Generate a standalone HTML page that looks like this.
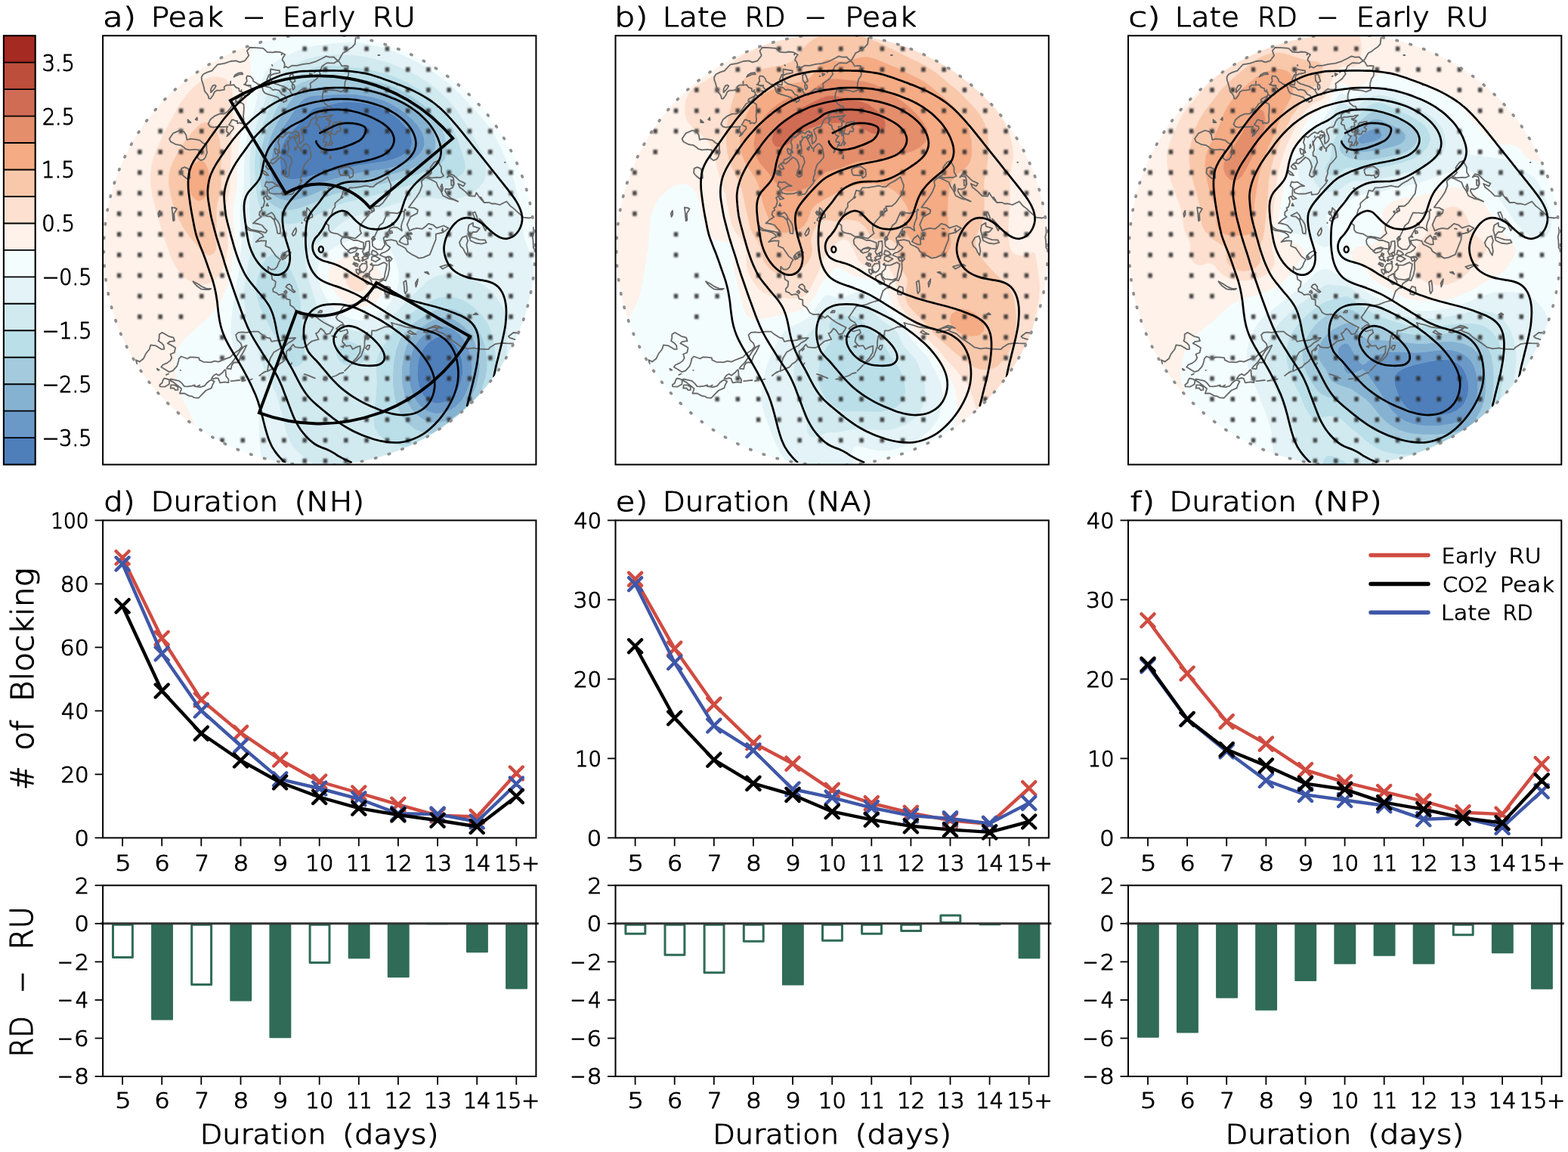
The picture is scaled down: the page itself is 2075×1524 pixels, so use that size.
<!DOCTYPE html>
<html lang="en"><head><meta charset="utf-8"><title>Blocking frequency changes and duration statistics</title>
<style>
html,body{margin:0;padding:0;background:#fff}
body{width:2075px;height:1524px;overflow:hidden}
svg{display:block;font-family:'DejaVu Sans', 'DejaVu Sans Light', 'Liberation Sans', sans-serif;font-weight:200}
</style></head><body>
<svg width="2075" height="1524" viewBox="0 0 2075 1524">
<rect width="2075" height="1524" fill="#fff"/>
<g id="colorbar">
<rect x="4.9" y="47.20" width="41.8" height="35.76" fill="#A52A22"/>
<rect x="4.9" y="82.66" width="41.8" height="35.76" fill="#BC4E3B"/>
<rect x="4.9" y="118.12" width="41.8" height="35.76" fill="#D06C54"/>
<rect x="4.9" y="153.59" width="41.8" height="35.76" fill="#E48E6C"/>
<rect x="4.9" y="189.05" width="41.8" height="35.76" fill="#F5AB84"/>
<rect x="4.9" y="224.51" width="41.8" height="35.76" fill="#F9C8AB"/>
<rect x="4.9" y="259.97" width="41.8" height="35.76" fill="#FDE0D0"/>
<rect x="4.9" y="295.44" width="41.8" height="35.76" fill="#FEF2EA"/>
<rect x="4.9" y="330.90" width="41.8" height="35.76" fill="#F4FDFE"/>
<rect x="4.9" y="366.36" width="41.8" height="35.76" fill="#E3F3F7"/>
<rect x="4.9" y="401.82" width="41.8" height="35.76" fill="#D1EAF0"/>
<rect x="4.9" y="437.29" width="41.8" height="35.76" fill="#BADFE9"/>
<rect x="4.9" y="472.75" width="41.8" height="35.76" fill="#A3CBDD"/>
<rect x="4.9" y="508.21" width="41.8" height="35.76" fill="#86B2D2"/>
<rect x="4.9" y="543.67" width="41.8" height="35.76" fill="#6A99C8"/>
<rect x="4.9" y="579.14" width="41.8" height="35.76" fill="#4E7FBB"/>
<line x1="4.9" x2="46.7" y1="82.66" y2="82.66" stroke="#000" stroke-width="1.9"/>
<line x1="4.9" x2="46.7" y1="118.12" y2="118.12" stroke="#000" stroke-width="1.9"/>
<line x1="4.9" x2="46.7" y1="153.59" y2="153.59" stroke="#000" stroke-width="1.9"/>
<line x1="4.9" x2="46.7" y1="189.05" y2="189.05" stroke="#000" stroke-width="1.9"/>
<line x1="4.9" x2="46.7" y1="224.51" y2="224.51" stroke="#000" stroke-width="1.9"/>
<line x1="4.9" x2="46.7" y1="259.97" y2="259.97" stroke="#000" stroke-width="1.9"/>
<line x1="4.9" x2="46.7" y1="295.44" y2="295.44" stroke="#000" stroke-width="1.9"/>
<line x1="4.9" x2="46.7" y1="330.90" y2="330.90" stroke="#000" stroke-width="1.9"/>
<line x1="4.9" x2="46.7" y1="366.36" y2="366.36" stroke="#000" stroke-width="1.9"/>
<line x1="4.9" x2="46.7" y1="401.82" y2="401.82" stroke="#000" stroke-width="1.9"/>
<line x1="4.9" x2="46.7" y1="437.29" y2="437.29" stroke="#000" stroke-width="1.9"/>
<line x1="4.9" x2="46.7" y1="472.75" y2="472.75" stroke="#000" stroke-width="1.9"/>
<line x1="4.9" x2="46.7" y1="508.21" y2="508.21" stroke="#000" stroke-width="1.9"/>
<line x1="4.9" x2="46.7" y1="543.67" y2="543.67" stroke="#000" stroke-width="1.9"/>
<line x1="4.9" x2="46.7" y1="579.14" y2="579.14" stroke="#000" stroke-width="1.9"/>
<rect x="4.9" y="47.2" width="41.8" height="567.4" fill="none" stroke="#000" stroke-width="2.1"/>
<text y="93.6" font-size="29.5" fill="#000" stroke="#000" stroke-width="1.15" stroke-linejoin="round" ><tspan x="55.7" textLength="43.2" lengthAdjust="spacingAndGlyphs">3.5</tspan></text>
<text y="164.5" font-size="29.5" fill="#000" stroke="#000" stroke-width="1.15" stroke-linejoin="round" ><tspan x="55.9" textLength="43.0" lengthAdjust="spacingAndGlyphs">2.5</tspan></text>
<text y="235.4" font-size="29.5" fill="#000" stroke="#000" stroke-width="1.15" stroke-linejoin="round" ><tspan x="54.7" textLength="44.3" lengthAdjust="spacingAndGlyphs">1.5</tspan></text>
<text y="306.3" font-size="29.5" fill="#000" stroke="#000" stroke-width="1.15" stroke-linejoin="round" ><tspan x="55.3" textLength="43.7" lengthAdjust="spacingAndGlyphs">0.5</tspan></text>
<text y="377.3" font-size="29.5" fill="#000" stroke="#000" stroke-width="1.15" stroke-linejoin="round" ><tspan x="55.7" textLength="65.7" lengthAdjust="spacingAndGlyphs">−0.5</tspan></text>
<text y="448.2" font-size="29.5" fill="#000" stroke="#000" stroke-width="1.15" stroke-linejoin="round" ><tspan x="55.7" textLength="65.7" lengthAdjust="spacingAndGlyphs">−1.5</tspan></text>
<text y="519.1" font-size="29.5" fill="#000" stroke="#000" stroke-width="1.15" stroke-linejoin="round" ><tspan x="55.7" textLength="65.7" lengthAdjust="spacingAndGlyphs">−2.5</tspan></text>
<text y="590.0" font-size="29.5" fill="#000" stroke="#000" stroke-width="1.15" stroke-linejoin="round" ><tspan x="55.7" textLength="65.7" lengthAdjust="spacingAndGlyphs">−3.5</tspan></text>
</g>
<defs><filter id="dotblur" x="-5%" y="-5%" width="110%" height="110%"><feGaussianBlur stdDeviation="0.9"/></filter>
<clipPath id="fr0"><rect x="136.1" y="47.2" width="573.3" height="567.4"/></clipPath>
<clipPath id="ci0" clip-path="url(#fr0)"><circle cx="422.7" cy="330.5" r="285.4"/></clipPath>
<clipPath id="fr1"><rect x="814.5" y="47.2" width="573.3" height="567.4"/></clipPath>
<clipPath id="ci1" clip-path="url(#fr1)"><circle cx="1101.2" cy="330.5" r="285.4"/></clipPath>
<clipPath id="fr2"><rect x="1493.0" y="47.2" width="573.3" height="567.4"/></clipPath>
<clipPath id="ci2" clip-path="url(#fr2)"><circle cx="1779.6" cy="330.5" r="285.4"/></clipPath>
</defs>
<g id="map0">
<text y="35.2" font-size="35.5" fill="#000" stroke="#000" stroke-width="1.15" stroke-linejoin="round" ><tspan x="136.0" textLength="44.0" lengthAdjust="spacingAndGlyphs">a)</tspan><tspan x="199.7" textLength="96.0" lengthAdjust="spacingAndGlyphs">Peak</tspan><tspan x="320.7" textLength="30.6" lengthAdjust="spacingAndGlyphs">−</tspan><tspan x="373.9" textLength="96.6" lengthAdjust="spacingAndGlyphs">Early</tspan><tspan x="492.6" textLength="57.3" lengthAdjust="spacingAndGlyphs">RU</tspan></text>
<g clip-path="url(#ci0)">
<g transform="translate(422.7 330.5)">
<path d="M34.9 -196.0L44.0 -195.8L56.0 -194.5L72.0 -191.3L80.0 -188.5L88.0 -184.6L100.0 -176.8L105.6 -172.0L113.1 -164.0L118.8 -156.0L120.8 -152.0L122.7 -144.0L122.4 -140.0L121.1 -136.0L118.6 -132.0L114.5 -128.0L108.0 -123.8L98.9 -120.0L88.0 -117.2L52.0 -111.7L16.0 -103.3L-4.0 -100.0L-16.9 -96.0L-28.0 -93.7L-36.0 -93.0L-40.0 -93.5L-45.3 -96.0L-48.6 -100.0L-51.3 -108.0L-52.3 -116.0L-52.1 -124.0L-50.8 -132.0L-48.3 -140.0L-44.0 -147.8L-40.0 -153.2L-21.4 -172.0L-12.0 -183.7L-8.0 -186.9L-4.0 -188.4L8.0 -190.3L24.0 -194.6L34.9 -196.0ZM154.8 116.0L160.0 114.8L164.0 115.0L168.0 116.2L174.1 120.0L178.2 124.0L183.7 132.0L186.9 140.0L188.9 148.0L189.8 156.0L189.5 164.0L188.0 172.2L184.0 183.3L180.0 190.2L174.7 196.0L169.0 200.0L164.0 202.1L156.0 203.3L152.0 202.7L145.4 200.0L140.4 196.0L137.1 192.0L134.8 188.0L131.7 180.0L130.1 172.0L129.4 164.0L130.7 148.0L132.8 140.0L136.0 133.2L139.5 128.0L144.0 123.1L148.0 119.7L154.8 116.0Z" fill="#4E7FBB" stroke="#4E7FBB" stroke-width="0.6" fill-rule="evenodd"/>
<path d="M-9.2 -204.0L32.0 -206.2L48.0 -205.7L72.0 -201.9L84.0 -198.3L92.0 -194.8L104.0 -188.0L114.9 -180.0L123.7 -172.0L130.6 -164.0L135.7 -156.0L138.6 -148.0L139.2 -140.0L138.4 -136.0L136.8 -132.0L132.0 -125.7L124.9 -120.0L116.0 -115.3L100.0 -109.7L84.0 -106.2L56.0 -102.2L32.0 -97.0L4.0 -89.3L-16.0 -81.2L-28.0 -77.9L-40.0 -76.7L-48.0 -78.2L-51.9 -80.0L-56.0 -83.0L-60.1 -88.0L-61.9 -92.0L-63.8 -100.0L-64.1 -108.0L-63.5 -120.0L-61.7 -132.0L-59.6 -140.0L-56.0 -149.0L-52.0 -156.4L-28.3 -192.0L-24.9 -196.0L-20.0 -200.1L-16.0 -202.1L-9.2 -204.0ZM36.0 -196.0L24.0 -194.6L8.0 -190.3L-4.0 -188.4L-8.0 -186.9L-12.0 -183.7L-21.4 -172.0L-40.0 -153.2L-44.0 -147.8L-48.3 -140.0L-50.8 -132.0L-52.1 -124.0L-52.3 -116.0L-51.3 -108.0L-48.6 -100.0L-45.3 -96.0L-40.0 -93.5L-36.0 -93.0L-28.0 -93.7L-16.9 -96.0L-4.0 -100.0L16.0 -103.3L52.0 -111.7L88.0 -117.2L98.9 -120.0L108.0 -123.8L114.5 -128.0L118.6 -132.0L121.1 -136.0L122.4 -140.0L122.7 -144.0L120.8 -152.0L118.8 -156.0L113.1 -164.0L105.6 -172.0L100.0 -176.8L88.0 -184.6L80.0 -188.5L72.0 -191.3L56.0 -194.5L36.0 -196.0ZM150.9 104.0L160.0 101.2L168.0 101.5L176.0 104.5L181.3 108.0L185.8 112.0L192.1 120.0L197.7 132.0L200.9 144.0L202.1 156.0L201.1 168.0L197.9 180.0L192.9 192.0L188.0 199.9L180.0 207.9L173.4 212.0L164.0 215.7L156.0 216.7L149.9 216.0L144.0 214.1L136.0 208.9L131.1 204.0L125.7 196.0L122.3 188.0L120.0 179.6L118.6 168.0L118.7 156.0L120.0 145.6L122.3 136.0L125.6 128.0L130.8 120.0L136.0 114.5L144.0 108.0L150.9 104.0ZM156.0 115.5L148.0 119.7L144.0 123.1L139.5 128.0L136.0 133.2L132.8 140.0L130.7 148.0L129.4 164.0L130.1 172.0L131.7 180.0L134.8 188.0L137.1 192.0L140.4 196.0L145.4 200.0L152.0 202.7L156.0 203.3L160.0 203.0L168.0 200.5L174.7 196.0L178.6 192.0L183.7 184.0L186.8 176.0L188.9 168.0L189.8 160.0L189.5 152.0L188.0 143.6L184.0 132.7L180.0 126.2L174.1 120.0L168.0 116.2L164.0 115.0L160.0 114.8L156.0 115.5Z" fill="#6A99C8" stroke="#6A99C8" stroke-width="0.6" fill-rule="evenodd"/>
<path d="M4.2 -216.0L44.0 -215.8L56.0 -214.7L68.0 -212.6L80.0 -210.1L92.0 -206.2L100.0 -202.5L111.5 -196.0L123.4 -188.0L132.0 -180.8L140.4 -172.0L146.2 -164.0L152.0 -152.0L153.8 -144.0L153.8 -136.0L151.3 -128.0L148.8 -124.0L144.9 -120.0L136.0 -113.9L123.6 -108.0L108.0 -102.7L88.0 -97.7L53.3 -92.0L28.0 -86.5L8.0 -80.4L-16.0 -69.9L-32.0 -65.4L-40.0 -64.7L-44.0 -64.9L-52.0 -67.0L-56.0 -68.9L-60.0 -71.6L-64.0 -75.5L-67.2 -80.0L-70.5 -88.0L-72.0 -96.0L-72.3 -112.0L-70.7 -128.0L-68.1 -140.0L-64.0 -152.0L-56.0 -168.4L-44.0 -189.4L-39.6 -196.0L-32.6 -204.0L-24.0 -210.0L-16.0 -213.1L-8.0 -214.8L4.2 -216.0ZM-8.0 -204.2L-16.0 -202.1L-20.0 -200.1L-24.9 -196.0L-28.0 -192.4L-52.0 -156.4L-56.0 -149.0L-59.6 -140.0L-61.7 -132.0L-63.5 -120.0L-64.1 -108.0L-63.8 -100.0L-61.9 -92.0L-60.1 -88.0L-56.0 -83.0L-51.9 -80.0L-48.0 -78.2L-40.0 -76.7L-28.0 -77.9L-16.0 -81.2L4.0 -89.3L32.0 -97.0L56.0 -102.2L84.0 -106.2L100.0 -109.7L116.0 -115.3L124.9 -120.0L132.0 -125.7L136.8 -132.0L138.4 -136.0L139.2 -140.0L138.6 -148.0L135.7 -156.0L130.6 -164.0L123.7 -172.0L114.9 -180.0L104.0 -188.0L92.0 -194.8L84.0 -198.3L72.0 -201.9L48.0 -205.7L32.0 -206.2L-8.0 -204.2ZM151.8 92.0L160.0 89.5L164.0 89.1L172.0 90.0L177.7 92.0L184.0 95.3L192.0 101.5L200.0 110.9L204.9 120.0L209.9 136.0L212.2 152.0L211.6 164.0L207.6 180.0L201.1 196.0L193.9 208.0L186.2 216.0L176.0 222.8L164.0 227.7L156.0 229.1L148.0 228.6L140.0 226.1L130.5 220.0L122.6 212.0L117.4 204.0L112.4 192.0L109.7 180.0L108.7 168.0L109.0 156.0L111.2 140.0L114.5 128.0L118.2 120.0L124.1 112.0L132.0 104.5L144.0 96.0L151.8 92.0ZM152.0 103.4L144.0 108.0L136.0 114.5L130.8 120.0L125.6 128.0L122.3 136.0L120.0 145.6L118.7 156.0L118.6 168.0L120.0 179.6L122.3 188.0L125.7 196.0L131.1 204.0L136.0 208.9L144.0 214.1L149.9 216.0L156.0 216.7L164.0 215.7L173.4 212.0L180.0 207.9L188.0 199.9L192.9 192.0L197.9 180.0L201.1 168.0L202.1 156.0L200.9 144.0L197.7 132.0L192.1 120.0L185.8 112.0L181.3 108.0L176.0 104.5L168.0 101.5L160.0 101.2L152.0 103.4Z" fill="#86B2D2" stroke="#86B2D2" stroke-width="0.6" fill-rule="evenodd"/>
<path d="M-2.3 -228.0L12.0 -229.0L48.0 -227.0L76.0 -222.5L88.0 -219.5L100.0 -215.1L112.0 -209.2L124.0 -202.1L136.0 -193.5L146.3 -184.0L153.1 -176.0L160.8 -164.0L165.8 -152.0L168.5 -140.0L168.6 -128.0L166.1 -120.0L163.3 -116.0L156.0 -110.5L144.0 -105.0L128.0 -99.1L84.0 -87.0L47.3 -80.0L24.0 -74.4L12.0 -70.5L-8.0 -61.6L-28.0 -54.3L-36.0 -52.6L-44.0 -52.5L-52.0 -54.2L-60.0 -57.8L-68.0 -64.0L-72.0 -69.3L-76.0 -78.6L-78.0 -88.0L-79.3 -104.0L-78.9 -120.0L-76.6 -136.0L-72.2 -152.0L-65.8 -168.0L-56.0 -188.4L-49.4 -200.0L-43.4 -208.0L-36.0 -214.9L-28.0 -219.8L-16.0 -224.6L-2.3 -228.0ZM8.0 -216.1L-4.0 -215.4L-16.0 -213.1L-24.0 -210.0L-32.0 -204.6L-36.5 -200.0L-44.0 -189.4L-56.0 -168.4L-64.0 -152.0L-68.1 -140.0L-70.7 -128.0L-72.3 -112.0L-72.0 -96.0L-70.5 -88.0L-67.2 -80.0L-64.0 -75.5L-60.0 -71.6L-56.0 -68.9L-52.0 -67.0L-44.0 -64.9L-40.0 -64.7L-32.0 -65.4L-16.0 -69.9L8.0 -80.4L28.0 -86.5L53.3 -92.0L88.0 -97.7L108.0 -102.7L123.6 -108.0L136.0 -113.9L144.9 -120.0L148.8 -124.0L151.3 -128.0L153.8 -136.0L153.8 -144.0L152.0 -152.0L148.0 -160.9L140.4 -172.0L132.8 -180.0L123.4 -188.0L112.0 -195.7L100.0 -202.5L92.0 -206.2L84.0 -209.0L72.0 -211.8L48.0 -215.6L8.0 -216.1ZM151.7 80.0L156.0 78.5L164.0 77.0L172.0 77.2L176.0 78.0L181.8 80.0L188.0 83.0L195.2 88.0L200.0 92.2L204.0 96.4L209.8 104.0L215.7 116.0L218.3 124.0L220.9 136.0L222.3 152.0L221.7 160.0L220.3 168.0L215.2 184.0L204.4 208.0L196.1 220.0L192.0 224.3L184.0 230.9L172.0 238.0L160.0 242.3L148.0 243.6L136.0 241.6L128.0 238.2L124.3 236.0L116.0 229.3L108.5 220.0L102.8 208.0L99.4 196.0L97.2 180.0L97.0 164.0L98.3 148.0L101.4 132.0L105.7 120.0L110.3 112.0L116.7 104.0L125.5 96.0L140.0 86.0L151.7 80.0ZM152.0 91.9L144.0 96.0L132.0 104.5L124.1 112.0L118.2 120.0L114.5 128.0L111.2 140.0L109.0 156.0L108.7 168.0L109.7 180.0L112.4 192.0L117.4 204.0L122.6 212.0L130.5 220.0L140.0 226.1L148.0 228.6L156.0 229.1L164.0 227.7L176.0 222.8L186.2 216.0L193.9 208.0L201.1 196.0L207.6 180.0L211.6 164.0L212.2 152.0L210.8 140.0L206.5 124.0L200.7 112.0L194.5 104.0L190.3 100.0L184.0 95.3L177.7 92.0L172.0 90.0L164.0 89.1L160.0 89.5L152.0 91.9Z" fill="#A3CBDD" stroke="#A3CBDD" stroke-width="0.6" fill-rule="evenodd"/>
<path d="M7.2 -244.0L20.0 -243.6L52.0 -240.8L72.0 -237.2L88.0 -233.3L100.0 -229.1L116.0 -221.8L132.0 -212.5L143.7 -204.0L152.7 -196.0L163.6 -184.0L171.7 -172.0L177.9 -160.0L182.6 -148.0L193.0 -116.0L193.2 -108.0L191.9 -104.0L189.2 -100.0L184.0 -96.1L180.0 -94.7L172.0 -93.5L152.0 -92.5L144.0 -91.2L108.0 -82.1L80.0 -73.6L32.0 -61.5L16.6 -56.0L0.0 -47.0L-12.0 -41.7L-24.0 -36.8L-32.0 -34.5L-40.0 -33.8L-48.0 -34.8L-56.0 -37.7L-68.0 -44.9L-76.0 -52.7L-80.0 -59.7L-81.5 -64.0L-83.9 -76.0L-85.6 -100.0L-85.9 -116.0L-84.5 -132.0L-81.0 -148.0L-74.4 -168.0L-66.4 -188.0L-60.0 -202.0L-54.1 -212.0L-47.3 -220.0L-36.0 -228.7L-20.0 -236.8L-4.0 -242.4L7.2 -244.0ZM0.0 -228.4L-12.0 -225.9L-24.0 -221.7L-36.0 -214.9L-43.4 -208.0L-49.4 -200.0L-56.0 -188.4L-65.8 -168.0L-72.0 -152.6L-76.0 -138.8L-78.5 -124.0L-79.3 -104.0L-78.0 -88.0L-76.0 -78.6L-72.0 -69.3L-68.0 -64.0L-60.0 -57.8L-52.0 -54.2L-44.0 -52.5L-36.0 -52.6L-28.0 -54.3L-8.0 -61.6L12.0 -70.5L24.0 -74.4L47.3 -80.0L84.0 -87.0L128.0 -99.1L144.0 -105.0L156.0 -110.5L163.3 -116.0L166.1 -120.0L168.6 -128.0L168.5 -140.0L165.8 -152.0L160.8 -164.0L153.1 -176.0L146.3 -184.0L136.0 -193.5L124.0 -202.1L112.0 -209.2L100.0 -215.1L88.0 -219.5L76.0 -222.5L48.0 -227.0L12.0 -229.0L0.0 -228.4ZM-66.8 8.0L-64.0 6.4L-60.0 5.4L-56.0 5.9L-52.0 7.8L-48.0 11.1L-41.3 20.0L-36.0 29.8L-31.4 40.0L-27.2 52.0L-24.6 68.0L-22.5 108.0L-19.4 132.0L-19.1 140.0L-20.0 144.5L-21.5 148.0L-24.0 151.2L-28.0 154.0L-32.0 155.2L-36.0 154.9L-40.0 153.3L-44.0 149.9L-48.0 144.1L-58.6 116.0L-76.0 83.1L-80.0 73.5L-82.8 64.0L-84.2 56.0L-84.2 48.0L-83.0 40.0L-80.8 32.0L-76.3 20.0L-74.0 16.0L-71.2 12.0L-66.8 8.0ZM155.1 64.0L164.0 62.0L172.0 61.7L180.0 62.8L188.0 65.2L196.0 69.2L204.0 75.1L216.6 88.0L222.2 96.0L226.2 104.0L230.8 120.0L232.8 132.0L233.6 144.0L233.2 152.0L231.3 164.0L229.2 172.0L224.8 184.0L210.2 216.0L205.4 224.0L200.0 231.2L188.0 243.0L180.0 248.9L172.0 253.6L164.0 257.4L152.0 261.1L144.0 262.6L132.0 263.2L120.0 262.3L108.0 260.1L95.0 256.0L84.0 250.0L77.6 244.0L73.2 236.0L72.1 232.0L71.3 224.0L75.3 184.0L75.6 172.0L74.7 152.0L75.6 144.0L78.8 136.0L89.1 120.0L100.6 104.0L111.4 92.0L120.0 84.5L136.0 73.5L148.0 66.7L155.1 64.0ZM152.0 79.9L140.0 86.0L125.5 96.0L116.7 104.0L110.3 112.0L105.7 120.0L101.4 132.0L98.3 148.0L97.0 164.0L97.2 180.0L99.4 196.0L102.8 208.0L108.5 220.0L116.0 229.3L124.3 236.0L128.0 238.2L136.0 241.6L148.0 243.6L160.0 242.3L172.0 238.0L184.0 230.9L192.0 224.3L196.1 220.0L204.4 208.0L215.2 184.0L220.3 168.0L221.7 160.0L222.3 152.0L220.9 136.0L218.3 124.0L215.7 116.0L209.8 104.0L204.0 96.4L200.0 92.2L195.2 88.0L188.0 83.0L181.8 80.0L176.0 78.0L172.0 77.2L164.0 77.0L156.0 78.5L152.0 79.9ZM27.3 124.0L32.0 121.5L36.0 120.7L44.0 121.9L49.0 124.0L54.7 128.0L58.5 132.0L61.0 136.0L62.1 140.0L61.3 144.0L58.3 148.0L56.0 149.6L52.0 151.8L48.0 153.1L40.0 153.7L32.0 151.7L26.6 148.0L23.6 144.0L22.2 140.0L21.9 136.0L22.4 132.0L24.0 128.0L27.3 124.0Z" fill="#BADFE9" stroke="#BADFE9" stroke-width="0.6" fill-rule="evenodd"/>
<path d="M-5.4 -256.0L8.0 -257.9L28.0 -258.4L48.0 -257.4L64.0 -255.0L84.0 -250.1L100.0 -244.8L120.0 -235.9L136.0 -226.8L148.0 -218.6L160.9 -208.0L172.8 -196.0L182.5 -184.0L193.3 -168.0L211.9 -136.0L217.6 -124.0L220.0 -116.0L221.3 -104.0L220.1 -96.0L218.6 -92.0L216.4 -88.0L212.0 -82.7L208.0 -79.3L200.0 -74.1L188.0 -68.6L176.0 -66.2L168.0 -66.2L144.0 -68.7L132.0 -68.0L120.0 -66.0L111.7 -64.0L84.0 -54.9L59.6 -48.0L44.0 -42.6L36.0 -39.0L28.0 -34.1L4.0 -13.4L-8.0 -4.0L-12.3 0.0L-15.2 4.0L-17.7 12.0L-17.4 24.0L-14.8 36.0L-5.0 68.0L-0.3 80.0L4.0 87.6L8.0 92.6L12.0 96.2L16.0 98.6L24.0 101.5L48.0 106.8L60.0 108.6L68.0 108.2L76.0 105.6L80.0 103.2L88.0 96.7L112.0 71.1L140.0 43.5L148.0 37.6L152.0 35.7L156.0 34.1L164.0 32.6L176.0 32.7L188.0 34.8L200.0 38.3L213.1 44.0L220.0 48.3L228.0 55.3L236.0 64.9L243.1 76.0L247.6 88.0L249.2 100.0L248.6 128.0L246.7 148.0L243.2 164.0L239.2 176.0L219.4 220.0L213.1 232.0L208.0 239.8L200.0 249.7L192.0 257.7L176.0 270.3L164.0 277.5L144.2 288.0L139.7 292.0L2.4 292.0L-1.3 288.0L-16.0 278.2L-24.0 272.1L-32.0 264.2L-35.2 260.0L-40.0 252.3L-41.9 248.0L-44.5 240.0L-50.2 216.0L-57.1 192.0L-60.4 184.0L-70.6 164.0L-74.0 156.0L-82.5 132.0L-91.9 108.0L-95.6 96.0L-99.1 76.0L-100.4 56.0L-99.8 48.0L-94.2 16.0L-88.7 -8.0L-87.7 -16.0L-88.2 -24.0L-92.0 -41.3L-93.0 -56.0L-92.2 -84.0L-92.7 -120.0L-91.0 -136.0L-87.5 -152.0L-81.6 -172.0L-70.3 -204.0L-65.2 -216.0L-60.0 -224.8L-52.0 -233.1L-40.0 -241.2L-20.0 -251.4L-5.4 -256.0ZM8.0 -244.1L-4.0 -242.4L-20.0 -236.8L-36.0 -228.7L-47.3 -220.0L-54.1 -212.0L-60.0 -202.0L-66.4 -188.0L-74.4 -168.0L-81.0 -148.0L-84.5 -132.0L-85.9 -116.0L-85.6 -100.0L-83.9 -76.0L-81.5 -64.0L-80.0 -59.7L-76.0 -52.7L-68.0 -44.9L-56.0 -37.7L-48.0 -34.8L-40.0 -33.8L-32.0 -34.5L-24.0 -36.8L-12.0 -41.7L0.0 -47.0L16.6 -56.0L32.0 -61.5L80.0 -73.6L108.0 -82.1L144.0 -91.2L152.0 -92.5L172.0 -93.5L180.0 -94.7L184.0 -96.1L189.2 -100.0L191.9 -104.0L193.2 -108.0L193.0 -116.0L182.6 -148.0L177.9 -160.0L171.7 -172.0L163.6 -184.0L152.7 -196.0L143.7 -204.0L132.0 -212.5L116.0 -221.8L100.0 -229.1L88.0 -233.3L72.0 -237.2L52.0 -240.8L20.0 -243.6L8.0 -244.1ZM28.0 123.5L24.0 128.0L22.4 132.0L21.9 136.0L22.2 140.0L23.6 144.0L28.0 149.3L32.0 151.7L36.0 153.1L40.0 153.7L48.0 153.1L52.0 151.8L56.0 149.6L58.3 148.0L61.3 144.0L62.1 140.0L61.0 136.0L58.5 132.0L54.7 128.0L49.0 124.0L44.0 121.9L36.0 120.7L32.0 121.5L28.0 123.5ZM156.0 63.7L148.0 66.7L136.0 73.5L120.0 84.5L111.4 92.0L100.6 104.0L89.1 120.0L78.8 136.0L75.6 144.0L74.7 152.0L75.6 172.0L75.3 184.0L71.3 224.0L72.1 232.0L73.2 236.0L77.6 244.0L84.0 250.0L95.0 256.0L107.7 260.0L120.0 262.3L128.0 263.1L140.0 263.0L148.0 262.0L160.0 258.9L168.0 255.6L176.0 251.4L184.0 246.1L196.0 235.6L202.6 228.0L208.0 219.9L223.1 188.0L230.4 168.0L232.8 156.0L233.5 148.0L233.5 140.0L232.3 128.0L229.9 116.0L227.6 108.0L224.3 100.0L219.6 92.0L212.0 82.7L204.0 75.1L196.0 69.2L188.0 65.2L180.0 62.8L172.0 61.7L164.0 62.0L156.0 63.7ZM-64.0 6.4L-68.0 8.8L-72.0 12.9L-76.0 19.4L-80.0 29.2L-83.0 40.0L-84.2 48.0L-84.2 56.0L-82.8 64.0L-80.0 73.5L-76.0 83.1L-58.6 116.0L-48.0 144.1L-44.0 149.9L-40.0 153.3L-36.0 154.9L-32.0 155.2L-28.0 154.0L-24.0 151.2L-21.5 148.0L-20.0 144.5L-19.1 140.0L-19.4 132.0L-22.5 108.0L-24.6 68.0L-26.3 56.0L-28.4 48.0L-32.0 38.5L-39.0 24.0L-44.0 15.8L-48.0 11.1L-52.0 7.8L-56.0 5.9L-60.0 5.4L-64.0 6.4Z" fill="#D1EAF0" stroke="#D1EAF0" stroke-width="0.6" fill-rule="evenodd"/>
<path d="M7.6 -272.0L28.0 -274.3L44.0 -274.8L60.0 -273.3L76.0 -269.8L100.0 -262.1L120.0 -253.5L140.0 -242.8L156.2 -232.0L172.0 -219.6L188.7 -204.0L214.2 -176.0L226.8 -160.0L234.1 -148.0L241.8 -132.0L253.4 -104.0L258.9 -88.0L262.1 -76.0L266.1 -56.0L270.5 -20.0L272.8 -12.0L280.0 8.0L283.6 24.0L285.2 40.0L286.1 60.0L285.7 72.0L284.7 80.0L280.8 96.0L270.8 124.0L257.7 164.0L251.2 180.0L227.0 232.0L220.0 245.2L212.0 257.4L204.0 267.5L188.5 284.0L185.4 288.0L183.6 292.0L139.7 292.0L144.2 288.0L168.0 275.2L180.0 267.5L192.0 257.7L200.0 249.7L208.0 239.8L215.4 228.0L237.6 180.0L243.2 164.0L246.7 148.0L248.6 128.0L249.3 104.0L248.4 92.0L246.5 84.0L243.1 76.0L236.0 64.9L228.6 56.0L224.0 51.5L216.0 45.6L208.0 41.5L196.0 37.0L180.0 33.2L168.0 32.3L160.0 33.1L156.0 34.1L148.0 37.6L140.0 43.5L112.0 71.1L92.0 92.7L80.0 103.2L76.0 105.6L68.0 108.2L60.0 108.6L48.0 106.8L24.0 101.5L16.0 98.6L12.0 96.2L8.0 92.6L4.0 87.6L0.0 80.6L-4.0 70.9L-14.8 36.0L-17.4 24.0L-17.7 12.0L-15.2 4.0L-12.3 0.0L-8.0 -4.0L4.0 -13.4L28.0 -34.1L36.0 -39.0L44.0 -42.6L59.6 -48.0L84.0 -54.9L111.7 -64.0L120.0 -66.0L132.0 -68.0L144.0 -68.7L168.0 -66.2L176.0 -66.2L188.0 -68.6L200.0 -74.1L208.0 -79.3L212.0 -82.7L216.4 -88.0L218.6 -92.0L220.1 -96.0L221.3 -104.0L220.8 -112.0L219.0 -120.0L215.9 -128.0L209.7 -140.0L193.3 -168.0L182.5 -184.0L172.8 -196.0L165.1 -204.0L156.0 -212.2L144.0 -221.5L132.0 -229.3L116.0 -237.9L100.0 -244.8L88.0 -248.9L72.0 -253.3L56.0 -256.4L40.0 -258.0L24.0 -258.4L12.0 -258.2L0.0 -257.0L-8.0 -255.4L-16.0 -252.9L-28.0 -247.7L-40.0 -241.2L-48.2 -236.0L-56.0 -229.5L-60.0 -224.8L-64.0 -218.4L-70.3 -204.0L-84.1 -164.0L-88.5 -148.0L-91.0 -136.0L-92.8 -116.0L-92.2 -88.0L-92.9 -52.0L-92.0 -41.3L-88.2 -24.0L-87.7 -16.0L-88.7 -8.0L-93.4 12.0L-100.2 52.0L-100.0 68.0L-96.5 92.0L-92.0 107.7L-82.5 132.0L-74.0 156.0L-70.6 164.0L-60.4 184.0L-57.1 192.0L-50.2 216.0L-44.0 242.0L-40.1 252.0L-35.2 260.0L-28.0 268.4L-20.0 275.3L-1.3 288.0L2.4 292.0L-72.6 292.0L-77.2 272.0L-79.2 260.0L-80.0 248.0L-80.0 224.0L-84.0 195.0L-87.8 184.0L-98.4 164.0L-112.5 132.0L-115.2 124.0L-117.4 112.0L-117.7 104.0L-116.8 92.0L-112.3 56.0L-107.6 32.0L-102.8 -12.0L-103.0 -20.0L-105.1 -36.0L-105.3 -48.0L-104.6 -56.0L-100.7 -80.0L-100.0 -120.0L-98.6 -136.0L-92.8 -164.0L-77.4 -220.0L-73.2 -232.0L-68.0 -240.3L-64.0 -244.6L-56.0 -250.4L-32.0 -262.4L-24.0 -265.6L-12.0 -269.0L7.6 -272.0ZM40.0 -12.1L32.0 -8.9L20.0 -2.7L10.3 4.0L4.0 10.2L0.3 16.0L-1.3 20.0L-2.4 28.0L-1.7 36.0L1.8 48.0L7.1 60.0L12.0 68.5L20.0 78.1L28.0 84.3L40.0 90.2L45.8 92.0L52.0 93.0L60.0 92.7L64.0 91.8L72.0 88.7L80.0 83.7L88.0 76.4L94.5 68.0L101.0 56.0L103.7 48.0L105.1 36.0L103.7 24.0L99.8 12.0L93.1 0.0L88.0 -5.8L80.0 -11.6L72.0 -14.7L60.0 -15.9L52.0 -15.2L40.0 -12.1Z" fill="#E3F3F7" stroke="#E3F3F7" stroke-width="0.6" fill-rule="evenodd"/>
<path d="M-22.4 -288.0L-11.0 -292.0L81.5 -292.0L86.8 -288.0L124.0 -271.4L144.0 -260.9L164.5 -248.0L186.2 -232.0L209.7 -212.0L235.0 -188.0L244.0 -178.0L251.9 -168.0L262.7 -152.0L284.0 -117.0L288.0 -112.1L292.0 -109.3L292.0 139.7L288.0 142.8L284.0 148.4L280.0 155.7L252.0 211.6L233.1 252.0L224.0 267.8L213.3 284.0L211.2 288.0L209.9 292.0L183.6 292.0L185.4 288.0L188.5 284.0L204.0 267.5L212.0 257.4L220.0 245.2L227.0 232.0L251.2 180.0L257.7 164.0L270.8 124.0L280.8 96.0L283.1 88.0L285.3 76.0L286.0 56.0L284.9 36.0L283.6 24.0L280.0 8.0L272.8 -12.0L270.5 -20.0L266.8 -52.0L262.1 -76.0L257.6 -92.0L251.8 -108.0L240.1 -136.0L231.9 -152.0L226.8 -160.0L217.6 -172.0L188.7 -204.0L176.2 -216.0L164.0 -226.1L150.5 -236.0L136.0 -245.1L124.0 -251.6L108.0 -258.9L92.0 -265.0L76.0 -269.8L56.0 -273.8L40.0 -274.8L24.0 -273.9L-4.0 -270.5L-16.0 -268.0L-28.0 -264.1L-40.0 -258.7L-56.0 -250.4L-64.6 -244.0L-68.3 -240.0L-73.2 -232.0L-77.4 -220.0L-91.7 -168.0L-97.3 -144.0L-99.5 -128.0L-100.7 -80.0L-104.6 -56.0L-105.3 -48.0L-105.1 -36.0L-102.8 -16.0L-103.1 -8.0L-105.4 8.0L-107.6 32.0L-113.4 64.0L-117.2 96.0L-117.6 108.0L-116.2 120.0L-112.5 132.0L-98.4 164.0L-87.8 184.0L-84.0 195.0L-80.0 224.0L-80.0 248.0L-79.2 260.0L-77.2 272.0L-72.6 292.0L-143.0 292.0L-146.0 280.0L-158.2 248.0L-170.1 220.0L-183.5 192.0L-188.6 176.0L-190.9 164.0L-191.8 156.0L-191.4 144.0L-188.1 132.0L-183.7 124.0L-177.0 116.0L-148.0 90.6L-140.0 82.0L-136.0 76.7L-132.0 70.0L-128.0 61.6L-120.0 41.1L-117.6 32.0L-113.3 0.0L-112.3 -12.0L-114.6 -44.0L-114.2 -56.0L-109.5 -80.0L-107.9 -124.0L-106.0 -144.0L-101.9 -168.0L-94.6 -204.0L-92.8 -216.0L-91.2 -240.0L-91.5 -264.0L-90.7 -268.0L-88.0 -272.4L-84.0 -275.1L-80.0 -276.5L-48.0 -281.8L-22.4 -288.0ZM39.9 -12.0L52.0 -15.2L60.0 -15.9L72.0 -14.7L80.0 -11.6L88.0 -5.8L93.1 0.0L99.8 12.0L103.7 24.0L105.1 36.0L104.5 44.0L102.5 52.0L97.0 64.0L91.7 72.0L84.0 80.4L76.0 86.5L72.0 88.7L64.0 91.8L56.0 93.0L52.0 93.0L44.0 91.6L34.7 88.0L24.0 81.5L16.0 73.8L9.2 64.0L3.3 52.0L-0.8 40.0L-2.3 32.0L-2.1 24.0L0.3 16.0L4.0 10.2L10.3 4.0L20.0 -2.7L28.0 -7.0L39.9 -12.0ZM32.0 10.8L24.0 14.4L20.0 17.1L16.0 21.2L12.6 28.0L11.9 32.0L12.9 40.0L16.1 48.0L20.8 56.0L27.5 64.0L32.0 67.8L36.0 70.4L44.0 74.0L48.0 75.0L56.0 75.4L64.0 73.7L72.0 70.1L76.0 67.1L80.0 62.5L83.3 56.0L84.3 52.0L84.6 44.0L83.1 36.0L80.0 28.4L77.3 24.0L72.0 18.0L68.0 14.8L63.3 12.0L56.0 9.2L52.0 8.5L44.0 8.4L32.0 10.8Z" fill="#F4FDFE" stroke="#F4FDFE" stroke-width="0.6" fill-rule="evenodd"/>
<path d="M-292.0 -292.0L-11.0 -292.0L-22.4 -288.0L-40.0 -283.6L-80.0 -276.5L-84.0 -275.1L-88.0 -272.4L-90.7 -268.0L-91.5 -264.0L-91.2 -240.0L-92.8 -216.0L-95.3 -200.0L-103.4 -160.0L-107.4 -132.0L-109.1 -100.0L-109.5 -80.0L-113.6 -60.0L-114.6 -52.0L-114.4 -40.0L-112.3 -16.0L-112.4 -8.0L-116.3 24.0L-118.6 36.0L-121.1 44.0L-128.0 61.6L-132.0 70.0L-136.0 76.7L-140.0 82.0L-148.0 90.6L-172.8 112.0L-180.6 120.0L-186.2 128.0L-188.1 132.0L-190.7 140.0L-191.8 148.0L-191.4 160.0L-189.5 172.0L-186.3 184.0L-181.7 196.0L-170.1 220.0L-158.2 248.0L-146.0 280.0L-143.0 292.0L-240.9 292.0L-242.7 280.0L-251.5 240.0L-256.0 225.7L-260.0 216.8L-264.0 210.3L-268.0 205.1L-276.0 197.5L-284.0 192.1L-292.0 189.4L-292.0 -292.0ZM-144.0 -228.0L-148.0 -227.0L-154.8 -224.0L-164.0 -217.5L-176.0 -204.7L-185.0 -192.0L-204.7 -156.0L-217.4 -128.0L-221.2 -116.0L-223.4 -100.0L-222.9 -84.0L-219.1 -64.0L-206.8 -20.0L-195.4 12.0L-191.3 20.0L-186.0 28.0L-180.0 35.0L-176.0 38.5L-168.0 43.3L-164.0 44.8L-156.0 46.0L-148.0 44.8L-144.0 43.3L-140.0 41.1L-136.0 37.7L-132.0 32.8L-128.0 24.9L-124.0 12.0L-121.5 -4.0L-121.5 -16.0L-123.9 -56.0L-119.0 -80.0L-119.0 -100.0L-117.5 -120.0L-114.9 -180.0L-114.7 -196.0L-115.3 -208.0L-116.0 -212.2L-119.1 -220.0L-124.0 -225.3L-128.0 -227.3L-132.0 -228.3L-136.0 -228.7L-144.0 -228.0ZM81.5 -292.0L136.9 -292.0L140.0 -288.0L145.2 -284.0L176.0 -264.9L200.4 -248.0L221.3 -232.0L240.6 -216.0L261.8 -196.0L284.0 -171.2L288.0 -167.6L292.0 -165.6L292.0 -109.3L288.0 -112.1L284.0 -117.0L260.1 -156.0L245.7 -176.0L228.0 -194.9L200.6 -220.0L175.8 -240.0L148.0 -258.6L124.0 -271.4L86.8 -288.0L81.5 -292.0ZM28.9 12.0L36.0 9.7L44.0 8.4L52.0 8.5L56.0 9.2L63.3 12.0L68.0 14.8L76.0 22.3L79.8 28.0L83.1 36.0L84.6 44.0L84.7 48.0L83.3 56.0L81.5 60.0L76.0 67.1L72.0 70.1L64.0 73.7L56.0 75.4L48.0 75.0L40.0 72.5L36.0 70.4L28.0 64.5L24.0 60.2L18.3 52.0L14.3 44.0L12.1 36.0L11.9 32.0L12.6 28.0L14.2 24.0L16.9 20.0L21.4 16.0L28.9 12.0ZM40.0 30.9L38.4 32.0L36.0 35.3L35.3 40.0L36.1 44.0L40.0 50.0L44.0 53.2L48.0 54.7L52.0 55.2L56.0 54.4L60.4 52.0L62.9 48.0L63.5 44.0L62.5 40.0L60.0 35.5L56.0 31.8L52.0 30.0L48.0 29.1L44.0 29.4L40.0 30.9ZM291.6 140.0L292.0 139.7L292.0 182.3L288.0 185.0L284.0 189.8L272.0 210.3L248.3 260.0L235.8 284.0L233.3 292.0L209.9 292.0L211.2 288.0L213.3 284.0L224.0 267.8L233.1 252.0L252.0 211.6L280.0 155.7L284.0 148.4L288.0 142.8L291.6 140.0Z" fill="#FEF2EA" stroke="#FEF2EA" stroke-width="0.6" fill-rule="evenodd"/>
<path d="M136.9 -292.0L183.7 -292.0L186.2 -288.0L190.5 -284.0L236.0 -251.9L260.0 -233.1L284.0 -212.3L288.0 -209.6L292.0 -208.1L292.0 -165.6L288.0 -167.6L284.0 -171.2L265.6 -192.0L253.8 -204.0L226.3 -228.0L205.8 -244.0L188.0 -256.9L171.2 -268.0L145.2 -284.0L140.0 -288.0L136.9 -292.0ZM-144.0 -228.0L-136.0 -228.7L-132.0 -228.3L-128.0 -227.3L-124.0 -225.3L-119.1 -220.0L-116.0 -212.2L-115.3 -208.0L-114.7 -196.0L-114.9 -180.0L-117.5 -120.0L-119.0 -100.0L-119.0 -80.0L-123.9 -56.0L-121.5 -16.0L-121.5 -4.0L-124.0 12.0L-128.0 24.9L-132.0 32.8L-136.0 37.7L-140.0 41.1L-144.0 43.3L-148.0 44.8L-156.0 46.0L-164.0 44.8L-168.0 43.3L-176.0 38.5L-180.0 35.0L-186.0 28.0L-191.3 20.0L-195.4 12.0L-206.8 -20.0L-219.1 -64.0L-222.9 -84.0L-223.4 -100.0L-221.2 -116.0L-217.4 -128.0L-204.7 -156.0L-185.0 -192.0L-176.0 -204.7L-164.0 -217.5L-154.8 -224.0L-148.0 -227.0L-144.0 -228.0ZM-152.0 -168.5L-156.0 -166.8L-164.0 -160.2L-176.0 -145.9L-185.4 -132.0L-192.0 -120.0L-197.0 -108.0L-198.8 -100.0L-199.2 -88.0L-197.6 -76.0L-193.3 -60.0L-187.4 -44.0L-180.0 -29.3L-172.0 -17.7L-156.0 0.5L-152.0 4.4L-148.0 6.6L-144.0 6.9L-139.5 4.0L-137.5 0.0L-136.6 -4.0L-137.7 -20.0L-136.2 -36.0L-136.4 -52.0L-135.5 -60.0L-130.5 -80.0L-130.1 -88.0L-130.7 -104.0L-129.9 -128.0L-132.0 -144.7L-135.5 -156.0L-137.5 -160.0L-140.0 -164.1L-144.0 -167.5L-148.0 -168.8L-152.0 -168.5ZM38.4 32.0L44.0 29.4L48.0 29.1L52.0 30.0L56.3 32.0L60.4 36.0L62.5 40.0L63.5 44.0L62.9 48.0L60.4 52.0L56.0 54.4L52.0 55.2L48.0 54.7L44.0 53.2L40.0 50.0L36.1 44.0L35.3 40.0L35.7 36.0L38.4 32.0ZM289.5 184.0L292.0 182.3L292.0 224.6L288.0 227.6L284.0 232.9L280.0 239.9L260.7 280.0L257.6 288.0L256.9 292.0L233.3 292.0L235.8 284.0L248.3 260.0L272.0 210.3L284.0 189.8L289.5 184.0ZM-292.0 192.0L-292.0 189.4L-288.0 190.3L-284.0 192.1L-276.0 197.5L-268.0 205.1L-264.0 210.3L-260.0 216.8L-256.0 225.7L-251.5 240.0L-242.7 280.0L-240.9 292.0L-292.0 292.0L-292.0 192.0Z" fill="#FDE0D0" stroke="#FDE0D0" stroke-width="0.6" fill-rule="evenodd"/>
<path d="M183.7 -292.0L232.2 -292.0L234.5 -288.0L243.4 -280.0L284.0 -249.7L288.0 -247.5L292.0 -246.2L292.0 -208.1L288.0 -209.6L284.0 -212.3L260.0 -233.1L236.0 -251.9L190.5 -284.0L186.2 -288.0L183.7 -292.0ZM-153.1 -168.0L-148.0 -168.8L-144.0 -167.5L-140.0 -164.1L-137.5 -160.0L-135.5 -156.0L-132.0 -144.7L-129.9 -128.0L-130.7 -104.0L-130.1 -88.0L-130.5 -80.0L-135.5 -60.0L-136.4 -52.0L-136.2 -36.0L-137.7 -20.0L-136.6 -4.0L-137.5 0.0L-139.5 4.0L-144.0 6.9L-148.0 6.6L-152.0 4.4L-156.0 0.5L-172.0 -17.7L-180.0 -29.3L-187.4 -44.0L-193.3 -60.0L-197.6 -76.0L-199.2 -88.0L-198.8 -100.0L-197.0 -108.0L-193.9 -116.0L-187.7 -128.0L-180.0 -140.4L-168.0 -155.8L-160.0 -164.0L-156.0 -166.8L-153.1 -168.0ZM-160.0 -117.5L-164.0 -114.9L-169.4 -108.0L-173.0 -100.0L-174.3 -92.0L-173.6 -84.0L-171.0 -76.0L-168.0 -70.7L-165.5 -68.0L-164.0 -66.5L-160.0 -65.0L-156.0 -65.8L-152.0 -69.0L-149.8 -72.0L-148.0 -74.8L-146.0 -80.0L-144.6 -88.0L-145.9 -100.0L-148.0 -108.0L-149.9 -112.0L-152.0 -115.6L-156.0 -118.0L-160.0 -117.5ZM287.7 228.0L292.0 224.6L292.0 277.1L288.0 280.5L285.9 284.0L284.0 288.0L283.2 292.0L256.9 292.0L257.6 288.0L260.7 280.0L276.0 247.8L284.0 232.9L287.7 228.0Z" fill="#F9C8AB" stroke="#F9C8AB" stroke-width="0.6" fill-rule="evenodd"/>
<path d="M232.2 -292.0L283.7 -292.0L286.7 -288.0L292.0 -285.3L292.0 -246.2L288.0 -247.5L284.0 -249.7L243.4 -280.0L234.5 -288.0L232.2 -292.0ZM-162.3 -116.0L-160.0 -117.5L-156.0 -118.0L-152.0 -115.6L-148.0 -108.0L-145.9 -100.0L-144.7 -92.0L-145.0 -84.0L-148.0 -74.8L-152.0 -69.0L-156.0 -65.8L-160.0 -65.0L-164.0 -66.5L-168.8 -72.0L-172.6 -80.0L-174.2 -88.0L-173.9 -96.0L-171.5 -104.0L-168.0 -110.3L-164.0 -114.9L-162.3 -116.0ZM288.6 280.0L292.0 277.1L292.0 292.0L283.2 292.0L284.0 288.0L288.6 280.0Z" fill="#F5AB84" stroke="#F5AB84" stroke-width="0.6" fill-rule="evenodd"/>
<path d="M283.7 -292.0L292.0 -292.0L292.0 -285.3L286.7 -288.0L283.7 -292.0Z" fill="#E48E6C" stroke="#E48E6C" stroke-width="0.6" fill-rule="evenodd"/>
<path d="M-19.5 -266.2v0.6M7.8 -266.2v0.6M35.1 -266.2v0.6M62.4 -266.2v0.6M89.7 -266.2v0.6M7.8 -238.9v0.6M35.1 -238.9v0.6M62.4 -238.9v0.6M89.7 -238.9v0.6M117.0 -238.9v0.6M144.2 -238.9v0.6M-46.8 -211.7v0.6M-19.5 -211.7v0.6M7.8 -211.7v0.6M35.1 -211.7v0.6M62.4 -211.7v0.6M89.7 -211.7v0.6M117.0 -211.7v0.6M144.2 -211.7v0.6M171.5 -211.7v0.6M-183.2 -184.4v0.6M-155.9 -184.4v0.6M-128.7 -184.4v0.6M-74.1 -184.4v0.6M-46.8 -184.4v0.6M-19.5 -184.4v0.6M7.8 -184.4v0.6M35.1 -184.4v0.6M62.4 -184.4v0.6M89.7 -184.4v0.6M117.0 -184.4v0.6M144.2 -184.4v0.6M171.5 -184.4v0.6M198.8 -184.4v0.6M-210.5 -157.2v0.6M-183.2 -157.2v0.6M-155.9 -157.2v0.6M-128.7 -157.2v0.6M-74.1 -157.2v0.6M-46.8 -157.2v0.6M-19.5 -157.2v0.6M7.8 -157.2v0.6M35.1 -157.2v0.6M62.4 -157.2v0.6M89.7 -157.2v0.6M117.0 -157.2v0.6M144.2 -157.2v0.6M171.5 -157.2v0.6M198.8 -157.2v0.6M226.1 -157.2v0.6M-237.8 -129.9v0.6M-210.5 -129.9v0.6M-183.2 -129.9v0.6M-155.9 -129.9v0.6M-128.7 -129.9v0.6M-46.8 -129.9v0.6M-19.5 -129.9v0.6M7.8 -129.9v0.6M35.1 -129.9v0.6M62.4 -129.9v0.6M89.7 -129.9v0.6M117.0 -129.9v0.6M144.2 -129.9v0.6M171.5 -129.9v0.6M198.8 -129.9v0.6M226.1 -129.9v0.6M-237.8 -102.6v0.6M-210.5 -102.6v0.6M-183.2 -102.6v0.6M-155.9 -102.6v0.6M-128.7 -102.6v0.6M-46.8 -102.6v0.6M-19.5 -102.6v0.6M7.8 -102.6v0.6M35.1 -102.6v0.6M62.4 -102.6v0.6M89.7 -102.6v0.6M117.0 -102.6v0.6M144.2 -102.6v0.6M171.5 -102.6v0.6M198.8 -102.6v0.6M226.1 -102.6v0.6M253.4 -102.6v0.6M-265.1 -75.4v0.6M-237.8 -75.4v0.6M-210.5 -75.4v0.6M-183.2 -75.4v0.6M-155.9 -75.4v0.6M-128.7 -75.4v0.6M-74.1 -75.4v0.6M-46.8 -75.4v0.6M-19.5 -75.4v0.6M7.8 -75.4v0.6M35.1 -75.4v0.6M62.4 -75.4v0.6M89.7 -75.4v0.6M117.0 -75.4v0.6M144.2 -75.4v0.6M171.5 -75.4v0.6M198.8 -75.4v0.6M226.1 -75.4v0.6M253.4 -75.4v0.6M-265.1 -48.1v0.6M-237.8 -48.1v0.6M-210.5 -48.1v0.6M-183.2 -48.1v0.6M-155.9 -48.1v0.6M-128.7 -48.1v0.6M-74.1 -48.1v0.6M-46.8 -48.1v0.6M-19.5 -48.1v0.6M7.8 -48.1v0.6M35.1 -48.1v0.6M62.4 -48.1v0.6M89.7 -48.1v0.6M117.0 -48.1v0.6M144.2 -48.1v0.6M171.5 -48.1v0.6M198.8 -48.1v0.6M226.1 -48.1v0.6M253.4 -48.1v0.6M-265.1 -20.9v0.6M-237.8 -20.9v0.6M-210.5 -20.9v0.6M-183.2 -20.9v0.6M-155.9 -20.9v0.6M-128.7 -20.9v0.6M-101.4 -20.9v0.6M-46.8 -20.9v0.6M-19.5 -20.9v0.6M7.8 -20.9v0.6M35.1 -20.9v0.6M62.4 -20.9v0.6M89.7 -20.9v0.6M117.0 -20.9v0.6M144.2 -20.9v0.6M171.5 -20.9v0.6M198.8 -20.9v0.6M226.1 -20.9v0.6M253.4 -20.9v0.6M280.7 -20.9v0.6M-265.1 6.4v0.6M-237.8 6.4v0.6M-210.5 6.4v0.6M-183.2 6.4v0.6M-74.1 6.4v0.6M-46.8 6.4v0.6M7.8 6.4v0.6M35.1 6.4v0.6M62.4 6.4v0.6M171.5 6.4v0.6M198.8 6.4v0.6M226.1 6.4v0.6M253.4 6.4v0.6M280.7 6.4v0.6M-265.1 33.7v0.6M-237.8 33.7v0.6M-210.5 33.7v0.6M-183.2 33.7v0.6M-155.9 33.7v0.6M-128.7 33.7v0.6M-74.1 33.7v0.6M-46.8 33.7v0.6M-19.5 33.7v0.6M35.1 33.7v0.6M62.4 33.7v0.6M117.0 33.7v0.6M171.5 33.7v0.6M198.8 33.7v0.6M226.1 33.7v0.6M253.4 33.7v0.6M-237.8 60.9v0.6M-210.5 60.9v0.6M-183.2 60.9v0.6M-155.9 60.9v0.6M-101.4 60.9v0.6M-74.1 60.9v0.6M-46.8 60.9v0.6M-19.5 60.9v0.6M89.7 60.9v0.6M117.0 60.9v0.6M144.2 60.9v0.6M171.5 60.9v0.6M198.8 60.9v0.6M226.1 60.9v0.6M253.4 60.9v0.6M-237.8 88.2v0.6M-210.5 88.2v0.6M-183.2 88.2v0.6M-101.4 88.2v0.6M-74.1 88.2v0.6M-46.8 88.2v0.6M-19.5 88.2v0.6M62.4 88.2v0.6M89.7 88.2v0.6M117.0 88.2v0.6M144.2 88.2v0.6M171.5 88.2v0.6M198.8 88.2v0.6M226.1 88.2v0.6M253.4 88.2v0.6M-128.7 115.4v0.6M-101.4 115.4v0.6M-74.1 115.4v0.6M-46.8 115.4v0.6M-19.5 115.4v0.6M7.8 115.4v0.6M35.1 115.4v0.6M62.4 115.4v0.6M89.7 115.4v0.6M117.0 115.4v0.6M144.2 115.4v0.6M171.5 115.4v0.6M198.8 115.4v0.6M226.1 115.4v0.6M-128.7 142.7v0.6M-101.4 142.7v0.6M-74.1 142.7v0.6M-46.8 142.7v0.6M-19.5 142.7v0.6M7.8 142.7v0.6M35.1 142.7v0.6M62.4 142.7v0.6M89.7 142.7v0.6M117.0 142.7v0.6M144.2 142.7v0.6M171.5 142.7v0.6M198.8 142.7v0.6M226.1 142.7v0.6M-101.4 170.0v0.6M-74.1 170.0v0.6M-46.8 170.0v0.6M-19.5 170.0v0.6M7.8 170.0v0.6M35.1 170.0v0.6M62.4 170.0v0.6M89.7 170.0v0.6M117.0 170.0v0.6M144.2 170.0v0.6M171.5 170.0v0.6M198.8 170.0v0.6M-46.8 197.2v0.6M-19.5 197.2v0.6M7.8 197.2v0.6M35.1 197.2v0.6M62.4 197.2v0.6M89.7 197.2v0.6M117.0 197.2v0.6M144.2 197.2v0.6M171.5 197.2v0.6M198.8 197.2v0.6M-19.5 224.5v0.6M7.8 224.5v0.6M35.1 224.5v0.6M62.4 224.5v0.6M89.7 224.5v0.6M117.0 224.5v0.6M144.2 224.5v0.6M171.5 224.5v0.6M-128.7 251.7v0.6M-101.4 251.7v0.6M-74.1 251.7v0.6M-46.8 251.7v0.6M-19.5 251.7v0.6M7.8 251.7v0.6M35.1 251.7v0.6M62.4 251.7v0.6M89.7 251.7v0.6M117.0 251.7v0.6M-46.8 279.0v0.6M-19.5 279.0v0.6M7.8 279.0v0.6M35.1 279.0v0.6" fill="none" stroke="#2b2b2b" stroke-opacity="0.88" stroke-width="5.4" stroke-linecap="square" filter="url(#dotblur)"/>
<path d="M48.0 -280.7L47.0 -272.2L43.4 -268.3L39.1 -265.4L35.0 -262.2L31.1 -260.4L27.6 -254.2L25.9 -251.1L23.3 -250.8L19.2 -255.0L13.4 -254.8L8.9 -256.1L3.1 -253.0L-3.5 -249.7L-12.9 -246.7L-21.5 -245.6L-29.9 -243.6L-36.4 -243.8L-41.6 -240.8L-44.1 -242.5L-46.8 -240.9L-45.8 -244.9L-47.0 -248.6L-49.2 -250.9L-48.4 -253.9L-45.5 -258.3L-48.7 -260.0L-52.3 -261.6L-58.1 -262.0L-61.7 -261.2L-69.1 -261.7L-74.4 -266.6L-84.3 -267.3L-92.2 -267.7L-95.8 -263.3L-93.5 -257.0L-98.6 -250.2L-105.3 -248.1L-110.3 -250.2L-117.4 -249.5L-125.7 -246.7L-134.7 -245.1L-138.6 -241.0L-142.3 -236.8L-148.5 -234.9L-153.7 -232.3L-156.0 -228.7L-155.9 -224.7L-154.3 -220.3L-152.6 -214.0L-151.9 -209.8L-148.6 -206.1L-146.7 -202.7L-146.5 -200.2L-144.2 -199.9L-140.9 -204.2L-138.8 -208.9L-135.9 -210.8L-131.8 -210.9L-125.8 -211.9L-126.0 -215.6L-123.2 -217.8L-117.7 -217.8L-113.2 -218.4L-110.5 -214.9L-106.4 -213.4L-106.1 -210.0L-102.4 -208.9L-101.6 -206.4L-102.4 -203.6L-105.6 -202.0L-110.5 -199.4L-111.2 -196.6L-109.0 -196.6L-108.8 -195.5L-113.8 -193.3L-118.2 -187.0L-121.2 -183.1L-126.0 -179.9L-132.2 -179.9L-138.4 -177.2L-144.5 -172.2L-147.2 -166.4L-144.8 -163.1L-140.7 -161.9L-135.7 -162.8L-129.4 -162.7L-126.2 -162.7L-121.2 -163.2L-122.6 -160.9L-122.7 -156.4L-120.3 -154.5L-122.5 -150.2L-119.3 -152.7L-117.0 -156.4L-113.7 -160.0L-114.0 -162.9L-117.8 -164.5L-119.8 -165.5L-117.8 -168.2L-116.0 -171.9L-113.9 -172.1L-110.7 -170.5L-108.7 -170.6L-108.5 -167.2L-105.9 -168.2L-102.9 -167.2L-100.5 -169.2L-100.2 -173.5L-100.7 -176.6L-100.1 -182.8L-99.9 -188.7L-100.2 -192.5L-103.4 -194.4L-107.6 -195.6L-105.5 -198.5L-102.8 -201.7L-102.1 -203.8L-101.3 -205.9L-99.5 -203.9L-95.2 -204.2L-93.1 -205.2L-91.6 -207.6L-93.2 -210.3L-90.4 -209.8L-88.3 -209.0L-88.4 -212.4L-91.3 -215.1L-91.0 -217.6L-97.0 -217.9L-98.1 -220.3L-96.0 -222.9L-96.0 -224.1L-96.7 -227.9L-95.4 -230.2L-91.3 -229.5L-88.2 -226.2L-87.4 -223.0L-83.9 -220.9L-80.3 -218.3L-75.9 -215.5L-74.5 -210.4L-72.2 -207.4L-67.6 -205.7L-59.8 -203.3L-54.8 -201.6L-51.5 -197.7L-50.1 -196.5L-49.2 -198.8L-47.5 -196.2L-47.6 -195.1L-43.4 -197.6L-43.7 -200.6L-46.0 -204.3L-49.4 -205.6L-53.4 -210.9L-58.8 -212.1L-61.4 -211.4L-65.2 -214.6L-70.1 -215.8L-72.8 -217.6L-72.6 -219.4L-66.6 -218.0L-65.8 -222.1L-69.6 -224.8L-68.1 -228.5L-66.5 -231.8L-64.7 -231.7L-65.5 -227.1L-61.9 -221.6L-58.0 -219.4L-55.4 -218.9L-52.2 -217.6L-47.1 -216.1L-42.3 -213.4L-39.1 -210.9L-37.2 -206.6L-33.2 -205.2L-31.7 -204.9L-28.2 -208.5L-25.8 -210.4L-22.4 -212.8L-19.7 -212.0L-14.8 -211.9L-11.9 -213.1L-11.7 -216.7L-12.3 -219.8L-8.6 -222.6L-3.6 -226.3L1.2 -232.7L-0.8 -236.9L2.1 -239.0L3.4 -242.7L9.1 -246.9L10.8 -247.3L19.0 -246.8L23.6 -249.7L26.2 -248.9L27.3 -247.1L29.8 -243.1L34.2 -243.6L38.1 -243.0L36.8 -237.8L38.7 -233.7L38.1 -230.1L35.4 -226.2L33.8 -221.2L33.4 -216.0L34.7 -211.7L30.7 -210.2L28.3 -209.0L22.2 -210.8L14.0 -211.5L6.7 -212.3L4.3 -206.3L3.9 -201.3L4.2 -198.3L7.4 -193.2L11.6 -190.0L14.3 -189.8L15.7 -186.7L12.6 -185.5L6.5 -186.3L5.2 -185.8L6.0 -180.9L0.6 -182.5L-0.3 -182.0L-4.7 -179.0L-4.9 -175.1L-9.1 -173.5L-10.5 -171.9L-12.1 -169.4L-13.6 -165.0L-15.6 -162.4L-19.9 -161.9L-22.5 -160.1L-24.3 -158.9L-23.8 -157.1L-23.3 -154.3L-21.6 -151.6L-20.9 -147.0L-21.8 -144.0L-24.9 -141.1L-26.3 -140.4L-26.6 -143.7L-26.8 -147.5L-26.1 -150.9L-27.2 -154.1L-28.0 -155.9L-30.5 -155.4L-30.3 -157.4L-33.5 -156.3L-35.5 -153.9L-38.0 -154.7L-39.7 -155.8L-43.9 -153.2L-49.1 -148.6L-50.8 -150.0L-53.4 -149.1L-53.4 -146.6L-54.8 -142.0L-53.2 -138.6L-53.1 -134.1L-54.7 -131.5L-58.3 -134.0L-59.4 -133.5L-58.8 -129.7L-57.9 -127.0L-55.1 -126.7L-54.2 -124.6L-56.4 -122.6L-59.0 -120.9L-63.4 -119.2L-64.3 -116.0L-66.9 -114.5L-63.6 -114.8L-61.8 -113.7L-59.0 -115.7L-55.5 -119.0L-52.0 -122.5L-48.8 -120.8L-46.4 -118.4L-44.7 -114.6L-43.4 -109.7L-45.4 -104.4L-46.9 -98.8L-43.9 -96.2L-41.3 -97.3L-40.1 -98.8L-40.0 -103.2L-39.8 -107.7L-37.0 -114.4L-36.2 -115.6L-37.7 -121.9L-38.9 -123.4L-41.9 -124.4L-42.1 -128.7L-40.4 -132.2L-40.8 -136.9L-41.7 -141.5L-40.3 -144.4L-37.8 -148.4L-35.1 -149.6L-34.4 -148.8L-32.8 -146.7L-30.9 -142.8L-29.5 -139.8L-26.7 -134.7L-24.8 -134.1L-24.6 -130.3L-24.2 -134.6L-19.6 -139.6L-17.2 -140.4L-13.4 -136.6L-11.8 -129.8L-11.0 -123.0L-13.0 -120.0L-17.2 -115.3L-19.5 -113.1L-20.9 -109.6L-22.6 -104.7L-22.9 -100.0L-24.6 -95.9L-25.3 -91.1L-23.0 -92.2L-24.6 -88.5L-28.8 -83.5L-32.3 -79.8L-33.7 -76.8L-35.7 -73.9L-39.0 -73.3L-43.9 -73.0L-44.2 -76.5L-48.8 -75.2L-51.9 -74.2L-61.0 -74.0L-66.2 -75.4L-67.1 -79.4L-64.4 -81.0L-58.9 -84.1L-53.5 -84.4L-58.6 -86.9L-62.4 -89.8L-67.2 -89.1L-70.4 -90.1L-72.2 -84.5L-68.8 -82.0L-69.3 -75.6L-69.1 -71.6L-63.9 -67.8L-69.0 -66.6L-71.0 -71.0L-74.1 -69.1L-72.5 -64.1L-73.3 -60.4L-74.8 -56.4L-76.9 -55.8L-76.1 -52.3L-79.0 -50.3L-79.6 -45.9L-76.9 -43.5L-82.2 -40.1L-87.8 -35.1L-84.5 -35.0L-80.1 -34.0L-75.9 -32.5L-72.7 -28.6L-69.3 -25.2L-71.2 -22.4L-76.6 -24.2L-83.2 -25.4L-89.8 -26.6L-95.7 -30.2L-97.0 -33.4L-97.1 -28.8L-92.4 -25.6L-85.7 -24.6L-79.4 -22.8L-75.5 -20.2L-74.0 -17.1L-78.9 -15.3L-84.1 -10.3L-77.2 -12.2L-70.5 -11.8L-71.4 -5.0L-64.9 -2.3L-60.4 4.2L-57.8 8.1L-51.5 13.1L-53.7 16.4L-56.2 22.7L-59.6 25.9L-64.3 26.0L-68.0 22.1L-67.9 28.8L-63.2 33.6L-62.5 39.1L-57.9 42.0L-58.6 48.3L-61.5 51.6L-61.3 55.2L-56.8 56.8L-53.8 59.7L-48.3 58.6L-45.2 59.9L-43.7 64.8L-39.0 66.2L-38.8 72.9L-33.9 76.2L-29.5 83.2L-24.6 85.7L-18.1 85.1L-14.5 86.7L-9.5 90.0L-6.1 87.2L-0.0 92.3L5.0 95.8L12.2 99.6L18.5 102.8L16.8 105.8L13.6 110.8L8.8 111.7L5.6 107.0L1.8 103.9L-1.9 109.3L-4.8 110.6L-1.0 118.4L-10.6 121.2L-16.7 126.5L-21.7 129.5L-26.9 129.3L-32.1 128.7L-34.7 125.2L-39.0 130.1L-43.7 134.5L-43.4 142.0L-48.1 147.9L-52.8 150.9L-56.5 155.1L-62.7 157.7L-68.8 160.6L-67.6 153.2L-65.2 143.8L-60.4 135.6L-53.0 131.2L-44.9 126.8L-41.2 123.2L-35.6 120.1L-31.6 116.5L-41.5 117.2L-45.7 119.1L-50.7 120.1L-55.9 119.8L-63.2 121.3L-65.4 117.0L-69.7 116.1L-77.7 110.9L-80.8 108.1L-87.6 108.1L-96.8 109.4L-102.1 108.9L-107.4 109.3L-110.7 112.6L-108.8 119.1L-103.9 123.9L-102.6 128.1L-106.2 132.6L-112.7 136.7L-117.8 141.9L-125.9 144.8L-133.4 148.1L-138.6 147.2L-143.7 148.8L-153.6 148.3L-158.9 145.6L-159.3 142.9L-165.3 142.2L-171.0 141.9L-174.7 144.0L-183.1 141.0L-185.9 144.2L-186.5 147.8L-188.5 153.8L-193.9 159.9L-198.9 161.6L-204.5 158.0L-209.5 155.0L-207.0 152.0L-201.8 149.9L-197.5 146.6L-195.4 143.0L-197.1 138.0L-192.0 136.0L-190.9 131.2L-190.7 129.6L-195.1 126.7L-200.9 123.6L-197.9 121.3L-191.6 120.6L-193.1 116.1L-199.6 114.3L-206.8 110.0L-208.3 109.4L-211.9 111.7L-212.0 117.1L-213.1 120.6L-209.1 123.2L-206.1 126.3L-205.4 131.4L-209.0 131.6L-216.3 126.9L-223.2 125.8L-225.0 131.5L-229.8 137.5L-232.6 143.7L-235.8 146.2L-237.9 148.1L-242.7 145.8L-241.5 150.9M-151.0 -122.3L-148.5 -129.1L-149.3 -132.1L-149.4 -139.4L-154.4 -141.5L-158.1 -144.9L-164.0 -146.1L-170.2 -146.9L-175.4 -145.6L-176.4 -151.7L-179.3 -156.4L-185.0 -158.0L-193.7 -154.1L-198.6 -146.9L-196.8 -143.0L-189.6 -139.3L-183.7 -138.4L-179.3 -135.6L-177.5 -133.7L-172.2 -132.1L-165.2 -132.8L-159.2 -132.1L-159.9 -127.2L-161.2 -121.5L-157.2 -118.4L-153.1 -119.6L-151.0 -122.3M-171.3 -94.9L-171.7 -101.2L-173.8 -107.4L-178.5 -109.4L-182.6 -107.6L-183.1 -101.5L-179.6 -97.5L-175.6 -94.2L-171.3 -94.9M-167.2 41.7L-161.4 44.7L-155.1 48.9L-149.3 51.4L-143.3 51.3L-145.4 52.6L-151.4 52.7L-156.7 51.8L-161.9 48.0L-165.5 44.3L-167.2 41.7M17.5 -178.2L13.0 -177.6L10.8 -176.3L7.4 -176.5L3.1 -175.6L-0.9 -175.7L-4.0 -174.2L-4.2 -172.7L-1.8 -172.3L-3.6 -170.8L-5.0 -167.4L-3.5 -165.5L-0.9 -165.1L-0.3 -162.7L0.3 -159.8L3.0 -157.4L3.8 -155.5L4.5 -152.6L6.8 -150.7L8.7 -150.6L7.3 -148.8L5.4 -146.0L5.0 -142.8L9.5 -142.5L9.9 -141.1L7.5 -138.5L12.1 -138.1L13.1 -140.8L14.6 -143.5L14.9 -146.3L15.5 -147.7L14.5 -151.1L15.3 -153.4L13.0 -151.2L13.8 -154.9L13.4 -156.4L9.8 -155.7L8.9 -159.6L8.5 -162.9L12.6 -163.1L13.0 -165.5L12.7 -168.9L15.4 -169.6L15.0 -171.1L11.7 -171.4L9.6 -172.5L9.1 -173.5L12.7 -173.3L14.4 -175.5L17.5 -178.2M29.0 -169.8L24.7 -169.0L18.8 -167.8L17.4 -162.7L17.0 -159.4L15.3 -156.2L16.7 -153.7L19.6 -152.9L22.0 -153.0L23.8 -157.1L27.6 -156.4L28.5 -160.1L25.7 -162.1L28.4 -164.5L30.3 -166.6L29.0 -169.8M38.0 -110.3L44.3 -105.9L44.8 -100.7L44.4 -97.5L40.3 -94.9L38.9 -98.8L35.7 -98.1L32.1 -98.9L28.3 -98.6L26.4 -101.5L25.7 -106.3L29.1 -108.7L33.6 -109.8L38.0 -110.3M-71.1 -45.3L-63.3 -49.5L-60.2 -46.2L-58.6 -42.6L-60.4 -40.0L-64.6 -43.9L-69.6 -44.4L-71.1 -45.3M-58.2 -41.5L-55.3 -38.0L-52.9 -33.7L-51.6 -27.4L-51.9 -21.5L-55.5 -21.9L-56.7 -28.9L-58.7 -35.3L-59.8 -39.2L-58.2 -41.5M-16.5 -55.6L-13.1 -52.4L-11.5 -49.7L-9.5 -46.5L-9.2 -43.1L-12.1 -42.3L-13.9 -40.4L-17.0 -42.0L-17.3 -45.2L-19.5 -47.1L-17.1 -51.2L-16.5 -55.6M-15.7 -43.0L-15.8 -39.2L-17.5 -37.5L-20.0 -39.2L-18.8 -42.2L-15.7 -43.0M-31.2 -29.1L-30.4 -25.5L-31.8 -20.7L-34.7 -18.4L-36.2 -20.9L-34.2 -24.9L-31.2 -29.1M-50.3 8.0L-46.5 4.1L-41.8 1.5L-37.8 3.6L-40.1 6.0L-43.2 8.4L-46.0 11.9L-49.1 11.8L-50.3 8.0M-44.3 49.2L-42.4 46.3L-39.5 45.4L-36.5 48.4L-36.2 51.8L-32.0 55.5L-33.9 56.4L-39.6 52.6L-44.3 49.2M-1.7 83.0L0.7 80.3L3.5 80.7L2.9 82.9L-1.7 83.0M-64.4 -230.7L-64.8 -236.7L-64.5 -239.0L-59.4 -238.1L-52.5 -237.0L-52.4 -234.3L-55.6 -233.5L-60.2 -232.9L-64.4 -230.7M-36.2 -220.8L-38.7 -224.1L-39.1 -231.0L-35.7 -233.1L-33.7 -228.1L-32.1 -223.0L-36.2 -220.8M-35.0 -211.6L-36.2 -216.6L-35.6 -219.9L-33.3 -217.6L-32.8 -214.1L-35.0 -211.6M-101.5 -232.3L-105.8 -232.2L-113.1 -228.7L-111.4 -231.4L-107.5 -233.8L-102.4 -234.3L-101.5 -232.3M-136.9 -216.6L-138.7 -213.5L-143.7 -208.2L-143.6 -212.9L-141.1 -217.2L-138.5 -218.2L-136.9 -216.6M-12.5 -230.2L-13.0 -233.3L-9.7 -232.5L-12.5 -230.2M-211.0 180.9L-204.8 181.2L-198.8 177.8L-198.4 172.4L-192.8 175.4L-186.7 180.3L-182.5 183.8L-184.8 190.0L-178.4 190.0L-172.6 193.1L-168.5 193.8L-165.4 195.7L-159.9 196.0L-155.5 191.3L-150.1 186.0L-142.9 182.9L-141.3 178.2L-139.0 174.1L-142.9 172.2L-145.2 173.0L-148.5 175.7L-152.2 180.1L-157.8 181.6L-165.4 180.5L-165.0 178.8L-169.1 180.1L-174.6 180.8L-178.7 180.6L-182.4 176.1L-185.8 173.3L-192.3 171.9L-196.7 171.0L-198.7 172.1L-202.0 170.7L-205.5 170.0L-207.1 172.5L-208.0 175.8L-211.4 178.7L-211.0 180.9M-187.5 181.1L-187.2 185.3L-190.8 185.6L-192.7 182.8L-197.0 183.1L-196.5 178.8L-191.8 178.9L-187.5 181.1M-142.8 170.2L-139.8 170.8L-137.2 169.5L-133.9 170.2L-131.6 175.9L-125.2 174.8L-120.3 175.7L-120.1 171.5L-123.6 167.1L-124.2 159.0L-125.4 158.8L-128.2 162.3L-133.2 166.2L-136.4 164.2L-139.8 166.0L-142.8 170.2M-122.7 157.1L-117.0 157.6L-116.0 152.8L-113.0 148.9L-107.1 149.0L-103.9 140.4L-100.1 134.3L-96.3 126.4L-100.1 128.2L-105.0 133.5L-110.3 141.7L-116.1 149.6L-120.8 154.1L-122.7 157.1M-117.1 173.6L-108.9 172.9M-102.2 173.5L-97.7 172.6M-91.2 171.6L-89.0 171.0M-79.4 166.5L-73.9 162.1L-70.6 160.8M256.4 124.0L247.0 123.7L240.9 123.3L232.6 124.7L225.9 128.9L223.6 131.7L216.9 131.3L210.6 131.1L203.8 129.8L196.2 130.8L188.1 128.8L181.4 123.8L175.5 119.7L169.6 115.7L164.4 110.9L156.3 107.8L154.1 106.7L158.0 102.6L162.6 103.6L158.7 101.5L153.1 100.2L147.4 102.5L138.6 106.3L132.2 104.4L126.6 103.6L121.0 103.0L114.2 102.1L106.9 99.7L100.1 98.0L95.1 96.4L97.0 100.4L96.5 102.1L91.5 101.7L86.2 102.0L81.4 104.2L74.8 106.8L69.5 107.0L69.1 112.7L64.2 118.2L62.4 113.9L63.3 109.7L61.0 114.7L59.8 121.5L59.8 127.1L58.5 131.4L55.3 140.3L49.1 146.6L42.5 151.1L45.4 146.8L49.3 143.0L53.6 136.0L54.1 130.7L54.0 127.2L49.4 128.6L44.0 131.5L41.1 126.6L35.3 127.4L30.3 121.6L31.2 116.6L32.6 113.8L37.8 109.8L36.3 105.5L28.1 108.0L22.2 104.3L28.5 99.5L32.4 99.7L30.1 96.2L24.0 92.8L21.9 89.2L25.7 84.0L28.3 79.9L32.0 74.7L39.2 73.7L45.2 72.3L52.3 69.5L57.1 68.0L63.2 66.6L65.2 60.8L67.3 54.5L72.0 50.4L74.7 50.4L76.5 45.0L80.6 42.1L84.9 39.6L87.7 40.9L90.9 33.1L92.6 24.8L92.2 16.3L96.1 11.8L93.2 9.0L86.4 9.8L80.0 7.0L82.4 4.3L86.9 3.0L91.4 -0.0L93.6 -3.3L88.9 -7.0L87.0 -12.2L95.0 -13.3L101.9 -11.6L103.7 -7.3L109.3 -4.8L113.9 -2.0L116.1 2.0L122.8 6.4L127.4 8.6L131.7 11.1L137.4 10.1L146.0 6.4L148.4 0.6L150.7 -5.3L154.0 -13.5L154.1 -20.8L163.4 -23.0L170.9 -28.6L164.4 -32.0L155.3 -28.8L150.6 -32.8L144.4 -34.7L140.5 -31.0L136.3 -27.7L129.0 -28.6L123.9 -27.3L119.0 -25.3L116.0 -33.3L118.8 -39.8L120.7 -43.9L129.4 -48.4L130.3 -52.6L125.0 -55.6L118.2 -56.1L123.7 -63.6L128.4 -69.7L132.7 -76.6L135.9 -84.9L134.9 -91.0L140.3 -95.7L144.9 -94.1L149.8 -91.7L154.6 -89.3L156.9 -83.4L160.5 -78.3L163.6 -71.5L171.6 -67.6L177.4 -66.3L183.5 -63.9L180.3 -65.6L173.9 -68.5L169.4 -72.5L166.3 -77.5L166.9 -80.7L171.6 -80.0L176.1 -82.1L178.2 -86.9L177.7 -92.5L176.7 -96.4L172.6 -97.7L169.0 -96.0L172.3 -100.3L177.8 -98.6L184.8 -91.8L192.9 -87.9L190.7 -84.1L183.5 -87.5L185.7 -82.7L189.0 -80.2L193.1 -76.9L198.4 -71.4L205.7 -70.8L207.8 -75.6L210.5 -71.2L213.4 -67.3L218.1 -62.5L224.6 -62.7L227.8 -61.0L232.7 -61.1L238.6 -59.5L247.6 -64.0L252.4 -58.3L257.1 -54.6L263.4 -48.8L270.1 -42.8L277.6 -42.0L281.5 -43.1M283.2 -29.8L283.4 -21.8L282.0 -17.2L282.8 -12.3L283.0 -7.4L283.1 -3.0L284.8 -0.5M284.3 17.4L284.7 19.4M259.0 118.6L251.8 116.4L250.2 114.5L256.7 109.5L262.7 109.9M156.4 103.2L153.2 106.1L146.7 108.5L140.9 109.7L137.9 108.9L141.1 106.3L146.7 103.5L152.3 102.3L156.4 103.2M128.0 111.7L121.7 111.5L116.9 109.0L119.7 106.6L123.4 109.6L128.0 111.7M64.0 132.4L61.2 130.1L63.8 126.3L66.6 126.4L65.7 130.5L64.0 132.4M40.9 152.5L37.3 156.4L33.5 160.2M31.6 162.5L26.5 163.7L22.0 166.5L17.1 168.0M10.4 170.5L5.1 171.2M-5.9 169.8L-10.7 167.9L-15.3 165.9L-20.2 164.3M16.6 114.0L20.3 115.3L22.8 115.3L19.1 114.1L16.6 114.0M28.9 128.0L31.7 129.3L32.3 126.7L28.9 128.0M141.7 -97.1L148.2 -95.2L154.7 -95.9L160.5 -95.7L164.5 -97.7L161.4 -102.8L161.3 -109.2L156.6 -117.6L152.2 -115.9L149.3 -112.5L146.7 -108.5L148.4 -102.0L144.5 -98.2L141.7 -97.1M162.5 -77.5L163.3 -81.4L162.1 -86.9L160.6 -83.6L162.5 -77.5M174.7 -85.2L174.2 -92.6L176.9 -91.7L177.8 -85.6L174.7 -85.2M218.1 -62.5L213.8 -69.5L213.2 -69.7L215.9 -66.4M195.2 7.2L192.4 2.9L190.3 -1.7L186.8 -4.9L185.2 -9.7L189.1 -16.5L194.4 -18.4L196.4 -12.0L194.7 -6.8L196.3 1.7L195.2 7.2M221.0 -9.6L214.3 -7.9L206.7 -9.0L199.9 -12.2L198.5 -17.4L203.7 -16.0L211.5 -13.3L219.2 -13.0L221.0 -9.6M198.4 -19.1L196.6 -25.9L197.7 -32.4L203.2 -35.8L203.5 -31.1L212.1 -28.3L208.0 -23.7L203.0 -23.5L199.4 -18.9L198.4 -19.1M219.7 -25.4L216.2 -32.3L211.6 -41.1L213.4 -39.6L219.3 -32.8L221.0 -27.9L219.7 -25.4M209.6 -37.7L205.7 -41.8L202.5 -49.0L205.9 -50.2L208.3 -44.3L209.6 -37.7M176.3 21.0L171.0 21.0L163.1 25.3L159.7 22.4L166.2 20.4L173.6 19.2L176.3 21.0M91.7 59.6L86.9 58.6L86.3 52.9L89.0 48.3L93.4 49.6L94.2 55.5L91.7 59.6M113.7 57.9L112.6 54.9L112.4 50.0L111.4 42.8L114.6 40.6L115.7 47.9L116.0 54.1L113.7 57.9M90.5 -96.4L92.6 -91.0L94.8 -85.4L93.9 -79.4L93.0 -74.2L89.7 -70.1L84.3 -62.4L79.2 -58.0L71.1 -57.5L72.6 -51.8L66.8 -48.5L62.6 -43.0L58.1 -37.8L53.8 -32.3L53.7 -26.2L55.5 -21.9L50.9 -18.0L47.4 -14.9L39.7 -16.9L34.6 -17.6L29.6 -17.8L24.8 -20.8L18.6 -22.1L14.6 -23.4L12.4 -26.6L12.4 -32.2L7.9 -35.8L12.6 -41.3L16.2 -47.0L17.8 -53.3L20.7 -56.9L20.6 -61.6L24.3 -64.9L28.2 -68.1L29.9 -72.2L31.8 -78.6L37.1 -77.7L40.1 -82.2L47.5 -82.3L55.4 -83.7L61.6 -84.8L66.4 -83.5L71.0 -83.2L76.2 -87.7L82.6 -91.1L87.3 -94.3L90.5 -96.4M112.3 -51.2L111.8 -41.8L109.2 -35.5L108.1 -30.3L109.2 -25.2L103.0 -29.5L98.1 -30.0L93.8 -28.7L90.7 -23.4L87.4 -17.8L84.7 -15.7L86.7 -6.8L82.5 -0.7L75.9 -0.7L70.5 -4.9L69.8 -11.1L72.7 -16.8L76.4 -24.8L79.8 -32.3L84.2 -35.7L87.8 -43.8L90.2 -49.0L97.9 -48.8L103.2 -48.1L107.2 -50.4L112.3 -51.2M117.3 -7.2L113.7 -7.0L108.0 -9.5L105.6 -11.1L108.3 -15.2L113.2 -19.3L116.6 -14.3L117.3 -7.2M85.9 37.3L79.8 39.8L75.2 39.1L69.9 38.7L65.9 35.0L66.1 29.4L70.1 25.5L71.3 20.4L77.8 20.1L85.4 16.6L89.4 19.0L88.3 25.3L86.8 31.6L85.9 37.3M68.9 44.7L63.4 45.7L57.9 39.8L57.6 35.3L64.3 31.4L66.1 37.4L68.9 41.4L68.9 44.7M80.3 12.0L74.3 15.8L68.9 13.4L69.6 9.2L74.1 8.4L80.3 12.0M77.9 6.1L73.3 7.7L68.6 6.0L70.2 0.6L75.0 2.6L77.9 6.1M92.6 13.8L89.3 14.9L87.6 11.5L91.0 8.8L92.6 13.8M66.1 -11.7L66.5 -4.7L65.8 2.3L58.9 6.2L57.0 2.0L59.3 -1.0L61.1 -6.4L61.4 -10.8L66.1 -11.7M58.5 -9.3L58.4 -1.0L51.8 -1.8L47.4 -3.3L41.0 -1.4L38.8 1.4L34.5 -1.2L29.1 -7.8L28.4 -12.6L30.5 -16.2L35.2 -16.4L40.6 -14.8L45.9 -12.3L50.3 -12.5L55.2 -10.7L58.5 -9.3M50.9 -1.8L47.4 2.5L40.8 4.3L37.5 2.0L41.0 -1.1L45.3 -2.0L50.9 -1.8M61.3 27.3L57.6 30.0L54.0 27.5L52.9 22.5L56.4 18.3L62.4 17.9L63.1 23.0L61.3 27.3M64.0 11.3L59.0 13.6L56.5 10.5L60.1 7.9L64.3 9.0L64.0 11.3M51.5 32.8L48.9 29.4L48.5 25.8L52.3 26.1L53.1 30.0L51.5 32.8M50.9 13.6L47.0 13.0L45.2 9.6L49.1 7.8L51.7 10.1L50.9 13.6M73.7 -14.3L70.5 -11.8L69.1 -14.7L71.5 -17.8L73.7 -14.3M14.9 -124.9L15.2 -120.7L13.4 -121.3L14.9 -124.9M3.0 -132.6L2.2 -128.5L3.9 -130.7L3.0 -132.6M-45.8 -139.3L-46.2 -134.2L-44.7 -136.7L-45.8 -139.3M-32.3 -152.1L-33.2 -148.6L-32.0 -146.9L-29.3 -149.4L-30.0 -151.6L-32.3 -152.1M-69.1 -61.2L-67.6 -58.2L-70.3 -58.4L-69.1 -61.2M-214.8 157.2L-212.0 159.1L-214.1 159.0L-214.8 157.2M245.9 -115.7L245.2 -115.9M105.4 -218.1L102.7 -218.2M79.7 -257.5L77.7 -257.5M66.3 7.0L63.6 7.8L62.1 5.4L63.5 3.3L65.7 4.0L66.3 7.0M50.3 21.9L47.4 21.1L48.7 17.7L51.0 19.1L50.3 21.9M46.9 19.9L44.5 18.9L45.9 16.7L47.7 17.9L46.9 19.9M51.3 7.2L47.9 6.7L49.1 4.3L51.6 5.4L51.3 7.2M121.3 -13.8L117.5 -14.4L118.0 -17.6L120.4 -16.9L121.3 -13.8M122.6 -21.0L119.3 -21.0L120.9 -22.8L122.6 -21.0M163.8 -23.6L162.1 -25.7L163.1 -28.2L163.8 -23.6M96.5 -22.3L93.4 -21.6L93.1 -24.9L95.9 -24.8L96.5 -22.3M70.3 20.8L67.5 19.4L69.2 17.9L70.3 20.8M54.9 30.4L53.2 28.9L54.9 28.6L54.9 30.4M62.7 16.8L61.2 15.8L62.3 15.0L62.7 16.8M53.6 15.4L51.2 14.2L52.8 13.2L53.6 15.4M57.4 14.8L55.8 13.9L56.9 13.1L57.4 14.8M72.4 -53.6L69.7 -49.7L68.5 -53.6L70.8 -55.7L72.4 -53.6M12.6 -82.0L11.4 -81.3M-53.0 -131.2L-51.9 -128.6L-54.8 -127.9L-54.7 -129.4L-53.0 -131.2M-42.3 -143.8L-42.3 -138.4M-39.7 -150.4L-39.9 -148.9M-26.9 -152.7L-27.3 -150.2L-29.0 -151.9L-26.9 -152.7M17.6 -141.3L15.3 -138.3L15.8 -140.6L17.6 -141.3M15.2 -144.9L16.2 -142.4L15.3 -143.0L15.2 -144.9M7.7 -137.1L6.6 -135.7M-160.8 180.4L-158.4 179.0M-68.3 -113.7L-65.2 -110.7L-63.7 -106.8L-68.1 -106.8L-71.1 -110.3L-68.3 -113.7M-73.8 -104.6L-70.2 -102.1L-67.6 -98.4L-72.3 -99.5L-75.5 -102.8L-73.8 -104.6M-30.0 -136.3L-31.2 -131.8L-33.2 -133.2L-31.8 -135.4L-30.0 -136.3M-188.7 -54.1L-192.4 -48.0L-191.9 -39.0L-193.5 -38.3L-194.0 -43.4L-194.4 -48.5L-195.4 -56.0L-191.4 -55.6L-188.7 -54.1M-211.3 -51.9L-210.9 -46.8L-212.6 -43.6L-213.3 -48.1L-211.3 -51.9M127.7 49.0L127.2 43.8L130.3 38.6L129.4 44.5L127.7 49.0M144.9 32.1L139.3 29.6L143.2 29.1L144.9 32.1M209.6 85.5L203.9 85.7L207.0 83.6L209.6 85.5M-174.1 -172.2L-170.3 -168.5L-173.9 -168.5L-174.1 -172.2M-162.0 -175.0L-161.7 -171.6L-164.1 -172.3L-162.0 -175.0M98.6 -33.0L95.7 -33.0L95.9 -35.3L98.3 -35.2L98.6 -33.0M93.5 -25.0L92.0 -25.5L92.6 -26.6L93.5 -25.0M89.9 -16.7L88.4 -17.2L89.2 -18.1L89.9 -16.7M114.2 -52.5L112.7 -52.6L113.2 -53.7L114.2 -52.5M148.3 -27.5L145.3 -28.2M66.5 -51.1L65.2 -49.1L64.5 -50.8L66.5 -51.1M31.1 -69.8L29.7 -68.4L28.9 -69.7L31.1 -69.8M-23.0 -36.0L-23.2 -35.4M-20.1 -51.1L-18.4 -48.0L-20.3 -46.7L-21.5 -49.5L-20.1 -51.1M-50.9 9.9L-48.1 8.5L-46.5 11.6L-48.8 13.1L-50.9 9.9M-46.8 55.8L-44.4 53.8L-43.0 56.0L-43.8 57.7L-46.8 55.8M-39.5 133.4L-37.0 130.7M-37.9 151.8L-36.5 149.7M-75.0 163.1L-71.8 161.4M-112.4 173.1L-105.7 172.5M-202.8 165.4L-199.7 164.0M-183.9 159.3L-183.7 159.4M-117.5 -222.8L-117.8 -219.6M-99.8 -218.9L-93.3 -216.6M-103.1 -211.5L-104.3 -209.2M-79.8 -219.1L-78.3 -217.4M-38.3 -212.6L-38.9 -212.0M-5.4 -235.8L-6.6 -234.7M-15.7 -230.0L-16.8 -229.4M-62.8 -244.5L-62.1 -243.6M-49.5 -259.3L-50.2 -258.0" fill="none" stroke="#666" stroke-width="1.8" stroke-linejoin="round" stroke-linecap="round"/>
<g fill="none" stroke="#000" stroke-width="2.7" stroke-linecap="round" stroke-linejoin="round">
<path d="M-46.1 281.0C-47.2 280.0 -50.4 276.8 -52.4 274.6C-54.4 272.3 -56.3 270.1 -58.1 267.6C-59.8 265.2 -61.4 262.7 -62.9 260.1C-64.3 257.4 -65.4 254.7 -66.6 251.9C-67.7 249.1 -68.6 246.3 -69.5 243.4C-70.4 240.5 -71.2 237.6 -72.0 234.7C-72.7 231.8 -73.4 228.9 -74.2 226.0C-74.9 223.1 -75.6 220.1 -76.4 217.2C-77.2 214.3 -77.9 211.4 -78.8 208.5C-79.7 205.7 -80.6 202.8 -81.5 200.0C-82.5 197.1 -83.6 194.3 -84.7 191.5C-85.9 188.8 -87.1 186.0 -88.4 183.3C-89.6 180.5 -90.9 177.8 -92.2 175.1C-93.5 172.4 -94.9 169.7 -96.3 167.1C-97.7 164.4 -99.1 161.8 -100.6 159.1C-102.0 156.5 -103.5 153.9 -105.0 151.3C-106.5 148.7 -108.1 146.1 -109.7 143.6C-111.2 141.0 -112.8 138.5 -114.4 135.9C-115.9 133.3 -117.5 130.7 -119.0 128.1C-120.4 125.5 -121.9 122.9 -123.2 120.2C-124.6 117.5 -125.8 114.7 -126.9 112.0C-128.0 109.2 -129.0 106.3 -129.8 103.5C-130.7 100.6 -131.3 97.7 -131.9 94.7C-132.5 91.8 -132.9 88.8 -133.3 85.8C-133.8 82.9 -134.1 79.9 -134.4 76.9C-134.8 73.9 -135.0 70.9 -135.4 67.9C-135.9 64.9 -136.3 62.0 -136.8 59.0C-137.4 56.1 -138.0 53.1 -138.6 50.2C-139.3 47.3 -140.1 44.4 -140.9 41.5C-141.8 38.6 -142.8 35.8 -143.8 32.9C-144.8 30.1 -145.8 27.3 -146.8 24.4C-147.8 21.6 -148.7 18.7 -149.7 15.9C-150.8 13.1 -151.7 10.2 -152.8 7.4C-153.8 4.6 -155.0 1.8 -156.1 -1.0C-157.2 -3.8 -158.4 -6.6 -159.4 -9.4C-160.5 -12.2 -161.6 -15.0 -162.5 -17.8C-163.4 -20.7 -164.1 -23.6 -164.7 -26.5C-165.4 -29.4 -165.9 -32.4 -166.5 -35.4C-167.1 -38.3 -167.7 -41.3 -168.2 -44.2C-168.8 -47.2 -169.3 -50.1 -169.8 -53.1C-170.3 -56.0 -170.8 -59.0 -171.2 -62.0C-171.6 -65.0 -172.0 -68.0 -172.4 -70.9C-172.7 -73.9 -173.2 -76.9 -173.4 -79.9C-173.6 -82.9 -173.7 -85.9 -173.7 -88.9C-173.6 -91.9 -173.5 -94.9 -173.1 -97.8C-172.8 -100.8 -172.2 -103.7 -171.3 -106.5C-170.4 -109.3 -169.2 -112.1 -167.8 -114.7C-166.5 -117.4 -164.8 -119.9 -163.1 -122.3C-161.4 -124.8 -159.6 -127.2 -157.8 -129.6C-156.0 -132.1 -154.3 -134.5 -152.5 -136.9C-150.8 -139.4 -149.1 -141.9 -147.3 -144.3C-145.6 -146.8 -143.9 -149.2 -142.1 -151.7C-140.4 -154.1 -138.6 -156.6 -136.9 -159.0C-135.1 -161.4 -133.3 -163.9 -131.5 -166.3C-129.8 -168.7 -128.0 -171.1 -126.1 -173.5C-124.2 -175.8 -122.3 -178.1 -120.3 -180.4C-118.3 -182.6 -116.3 -184.9 -114.3 -187.1C-112.2 -189.3 -110.2 -191.4 -108.0 -193.5C-105.8 -195.6 -103.6 -197.6 -101.4 -199.6C-99.1 -201.6 -96.9 -203.6 -94.5 -205.5C-92.2 -207.4 -89.8 -209.3 -87.4 -211.0C-85.0 -212.8 -82.5 -214.6 -80.0 -216.2C-77.5 -217.9 -75.1 -219.6 -72.4 -221.0C-69.8 -222.5 -67.1 -223.8 -64.4 -225.1C-61.7 -226.4 -59.0 -227.7 -56.2 -228.8C-53.4 -229.9 -50.6 -230.9 -47.7 -231.7C-44.9 -232.5 -41.9 -233.1 -39.0 -233.7C-36.0 -234.4 -33.1 -235.0 -30.1 -235.4C-27.1 -235.8 -24.2 -236.1 -21.2 -236.3C-18.2 -236.5 -15.2 -236.5 -12.2 -236.6C-9.2 -236.7 -6.1 -236.7 -3.1 -236.8C-0.1 -236.9 2.9 -237.0 5.9 -237.0C8.9 -237.0 11.9 -237.1 14.9 -237.1C17.9 -237.1 20.9 -237.0 23.9 -237.0C26.9 -236.9 29.9 -236.9 32.9 -236.8C35.9 -236.6 38.9 -236.4 41.9 -236.1C44.9 -235.8 47.9 -235.4 50.9 -235.0C53.8 -234.5 56.8 -234.2 59.8 -233.6C62.7 -233.0 65.6 -232.3 68.5 -231.5C71.4 -230.6 74.2 -229.7 77.1 -228.7C79.9 -227.8 82.8 -226.8 85.6 -225.8C88.4 -224.8 91.3 -223.8 94.1 -222.8C96.9 -221.7 99.7 -220.7 102.5 -219.6C105.3 -218.5 108.2 -217.4 110.9 -216.3C113.7 -215.1 116.5 -213.9 119.2 -212.7C122.0 -211.5 124.7 -210.2 127.4 -208.9C130.1 -207.6 132.7 -206.1 135.3 -204.7C137.9 -203.2 140.5 -201.7 143.1 -200.0C145.6 -198.4 148.1 -196.8 150.5 -195.0C152.9 -193.3 155.2 -191.3 157.5 -189.4C159.8 -187.4 162.0 -185.4 164.2 -183.3C166.4 -181.2 168.4 -179.1 170.5 -176.9C172.5 -174.7 174.5 -172.4 176.5 -170.2C178.5 -167.9 180.5 -165.6 182.4 -163.3C184.3 -161.0 186.2 -158.7 188.1 -156.3C190.0 -154.0 191.9 -151.6 193.7 -149.3C195.6 -146.9 197.5 -144.6 199.4 -142.3C201.2 -139.9 203.1 -137.6 205.0 -135.2C206.9 -132.9 208.8 -130.5 210.6 -128.2C212.5 -125.8 214.4 -123.5 216.3 -121.1C218.1 -118.8 220.0 -116.4 221.9 -114.1C223.8 -111.7 225.7 -109.4 227.5 -107.0C229.4 -104.7 231.3 -102.3 233.2 -100.0C235.1 -97.6 236.9 -95.3 238.8 -92.9C240.7 -90.6 242.6 -88.2 244.4 -85.9C246.3 -83.5 248.1 -81.2 250.0 -78.8C251.8 -76.4 253.7 -74.0 255.4 -71.6C257.2 -69.2 258.9 -66.7 260.5 -64.1C262.0 -61.6 263.5 -59.0 264.7 -56.2C265.9 -53.5 267.0 -50.7 267.6 -47.8C268.2 -45.0 268.5 -42.0 268.3 -39.1C268.1 -36.2 267.4 -33.2 266.3 -30.6C265.3 -27.9 263.8 -25.2 262.0 -23.0C260.2 -20.8 257.9 -18.6 255.5 -17.3C253.1 -15.9 250.2 -14.8 247.5 -14.7C244.8 -14.5 241.9 -15.3 239.3 -16.3C236.6 -17.3 234.1 -19.1 231.7 -20.8C229.3 -22.5 227.1 -24.7 224.9 -26.6C222.6 -28.6 220.5 -30.8 218.1 -32.6C215.8 -34.5 213.4 -36.4 210.9 -37.8C208.3 -39.2 205.6 -40.5 202.8 -41.3C200.0 -42.0 196.9 -42.4 194.1 -42.3C191.3 -42.1 188.5 -41.4 186.0 -40.1C183.5 -38.9 181.2 -36.9 179.1 -34.8C177.1 -32.8 175.3 -30.3 173.6 -27.8C172.0 -25.4 170.5 -22.7 169.3 -20.0C168.1 -17.3 167.0 -14.4 166.3 -11.6C165.5 -8.7 165.0 -5.7 164.8 -2.8C164.7 0.1 165.0 3.1 165.6 6.0C166.2 8.8 167.2 11.7 168.4 14.4C169.6 17.1 171.0 19.7 172.8 22.1C174.6 24.4 176.7 26.5 178.9 28.3C181.2 30.1 183.9 31.6 186.5 32.9C189.2 34.2 192.0 35.2 194.9 36.1C197.7 37.0 200.7 37.7 203.6 38.3C206.5 38.9 209.5 39.3 212.5 39.8C215.4 40.3 218.4 40.7 221.3 41.4C224.2 42.2 227.1 43.0 229.7 44.3C232.3 45.6 234.7 47.3 236.8 49.3C238.8 51.4 240.5 53.9 241.9 56.4C243.3 59.0 244.3 61.9 245.1 64.7C245.9 67.6 246.4 70.5 246.8 73.5C247.2 76.5 247.3 79.5 247.3 82.5C247.3 85.4 247.1 88.5 246.9 91.4C246.7 94.4 246.4 97.4 246.0 100.4C245.6 103.4 245.0 106.3 244.4 109.3C243.8 112.2 243.2 115.2 242.5 118.1C241.9 121.0 241.1 123.9 240.4 126.9C239.7 129.8 239.0 132.7 238.2 135.6C237.5 138.5 236.8 141.4 236.1 144.4C235.3 147.3 234.6 150.2 233.9 153.1C233.3 156.1 232.5 159.5 232.0 161.9C231.5 164.4 231.1 166.9 230.9 167.8"/>
<path d="M41.9 281.0C40.6 280.4 36.4 278.7 33.7 277.4C31.0 276.1 28.4 274.7 25.8 273.2C23.2 271.6 20.8 269.8 18.3 268.3C15.7 266.8 13.0 265.4 10.3 264.2C7.6 263.0 4.6 262.3 1.9 261.1C-0.8 259.9 -3.5 258.6 -6.0 257.0C-8.4 255.4 -10.7 253.5 -12.9 251.5C-15.2 249.5 -17.2 247.3 -19.2 245.0C-21.2 242.8 -23.0 240.4 -24.8 238.0C-26.5 235.5 -28.1 233.0 -29.5 230.4C-31.0 227.8 -32.4 225.1 -33.6 222.4C-34.9 219.6 -35.9 216.8 -37.0 214.0C-38.1 211.2 -39.2 208.4 -40.2 205.6C-41.3 202.8 -42.3 200.0 -43.4 197.1C-44.4 194.3 -45.5 191.5 -46.6 188.7C-47.6 185.9 -48.7 183.1 -49.8 180.3C-51.0 177.5 -52.2 174.8 -53.5 172.0C-54.7 169.3 -56.1 166.6 -57.6 164.0C-59.0 161.4 -60.6 158.9 -62.3 156.4C-63.9 153.9 -65.7 151.4 -67.4 148.9C-69.1 146.5 -70.7 143.9 -72.3 141.4C-74.0 138.9 -75.5 136.3 -77.1 133.8C-78.7 131.2 -80.3 128.7 -81.9 126.1C-83.5 123.6 -85.1 121.0 -86.6 118.4C-88.1 115.8 -89.6 113.2 -91.0 110.5C-92.3 107.9 -93.7 105.2 -94.9 102.4C-96.2 99.7 -97.3 96.9 -98.4 94.1C-99.6 91.4 -100.6 88.5 -101.7 85.7C-102.7 82.9 -103.8 80.1 -104.8 77.3C-105.9 74.4 -106.9 71.6 -107.9 68.8C-109.0 66.0 -110.0 63.1 -111.0 60.3C-112.0 57.5 -113.0 54.6 -114.0 51.8C-115.0 49.0 -115.9 46.1 -116.9 43.3C-117.9 40.4 -118.9 37.6 -119.9 34.8C-120.9 31.9 -121.8 29.1 -122.7 26.2C-123.6 23.3 -124.5 20.4 -125.4 17.6C-126.2 14.7 -127.1 11.8 -128.0 8.9C-128.9 6.1 -129.8 3.2 -130.8 0.3C-131.7 -2.5 -132.6 -5.4 -133.5 -8.2C-134.5 -11.1 -135.3 -14.0 -136.2 -16.9C-137.0 -19.7 -137.8 -22.7 -138.6 -25.6C-139.4 -28.5 -140.1 -31.4 -140.9 -34.3C-141.6 -37.2 -142.4 -40.1 -143.1 -43.0C-143.7 -46.0 -144.3 -48.9 -144.8 -51.9C-145.3 -54.8 -145.8 -57.8 -146.3 -60.8C-146.8 -63.7 -147.3 -66.7 -147.6 -69.7C-147.8 -72.6 -147.9 -75.6 -147.8 -78.6C-147.7 -81.6 -147.4 -84.6 -146.9 -87.5C-146.5 -90.5 -145.8 -93.4 -144.9 -96.2C-144.0 -99.0 -142.8 -101.8 -141.5 -104.5C-140.3 -107.2 -138.8 -109.8 -137.3 -112.4C-135.8 -115.0 -134.1 -117.5 -132.4 -120.0C-130.8 -122.5 -129.1 -125.0 -127.4 -127.5C-125.7 -130.0 -123.9 -132.4 -122.2 -134.9C-120.5 -137.4 -118.8 -139.8 -117.0 -142.2C-115.2 -144.7 -113.4 -147.0 -111.4 -149.3C-109.5 -151.7 -107.5 -153.9 -105.5 -156.1C-103.5 -158.4 -101.5 -160.6 -99.4 -162.8C-97.3 -164.9 -95.1 -167.0 -92.9 -169.0C-90.7 -171.1 -88.5 -173.1 -86.2 -175.0C-83.9 -177.0 -81.6 -178.9 -79.2 -180.7C-76.9 -182.6 -74.4 -184.3 -72.0 -186.1C-69.5 -187.8 -67.1 -189.5 -64.5 -191.1C-62.0 -192.7 -59.4 -194.2 -56.7 -195.6C-54.1 -197.0 -51.3 -198.2 -48.6 -199.5C-45.9 -200.7 -43.1 -202.0 -40.3 -203.1C-37.5 -204.2 -34.7 -205.1 -31.9 -206.0C-29.0 -206.9 -26.1 -207.7 -23.2 -208.5C-20.3 -209.2 -17.3 -209.9 -14.4 -210.5C-11.5 -211.1 -8.5 -211.5 -5.5 -212.0C-2.5 -212.4 0.4 -212.9 3.4 -213.2C6.4 -213.6 9.4 -214.0 12.4 -214.2C15.4 -214.4 18.4 -214.4 21.4 -214.5C24.4 -214.5 27.4 -214.5 30.4 -214.5C33.4 -214.4 36.4 -214.3 39.4 -214.1C42.4 -214.0 45.4 -213.6 48.4 -213.3C51.4 -213.0 54.4 -212.7 57.3 -212.2C60.3 -211.8 63.2 -211.2 66.2 -210.6C69.1 -209.9 72.0 -209.1 74.9 -208.3C77.8 -207.4 80.6 -206.6 83.5 -205.6C86.3 -204.7 89.2 -203.7 92.0 -202.6C94.8 -201.5 97.6 -200.4 100.3 -199.2C103.1 -198.0 105.9 -196.9 108.5 -195.5C111.2 -194.2 113.8 -192.7 116.4 -191.1C119.0 -189.6 121.5 -188.0 123.9 -186.2C126.4 -184.5 128.8 -182.8 131.1 -180.9C133.4 -179.0 135.6 -176.9 137.7 -174.8C139.9 -172.7 142.0 -170.5 143.9 -168.3C145.9 -166.0 147.7 -163.6 149.4 -161.1C151.1 -158.7 152.6 -156.1 154.0 -153.4C155.4 -150.8 156.7 -148.1 157.7 -145.3C158.8 -142.5 159.8 -139.6 160.3 -136.7C160.8 -133.9 161.2 -130.9 160.9 -128.0C160.7 -125.2 160.0 -122.2 158.9 -119.6C157.8 -117.0 156.0 -114.6 154.2 -112.3C152.4 -110.0 150.2 -107.8 148.0 -105.8C145.8 -103.8 143.4 -102.0 141.1 -100.0C138.8 -98.1 136.4 -96.2 134.2 -94.2C131.9 -92.2 129.7 -90.2 127.6 -88.1C125.5 -85.9 123.5 -83.7 121.7 -81.3C119.8 -79.0 118.1 -76.5 116.7 -73.9C115.2 -71.3 114.1 -68.6 113.0 -65.8C111.9 -63.0 111.1 -60.1 110.1 -57.2C109.2 -54.4 108.4 -51.5 107.3 -48.7C106.1 -46.0 104.9 -43.2 103.2 -40.8C101.6 -38.5 99.6 -36.2 97.3 -34.4C95.1 -32.6 92.5 -31.1 89.8 -30.0C87.1 -28.8 84.1 -28.1 81.2 -27.7C78.3 -27.2 75.3 -27.1 72.4 -27.3C69.4 -27.4 66.4 -27.9 63.7 -28.8C60.9 -29.7 58.1 -31.0 55.6 -32.5C53.1 -34.0 50.9 -36.0 48.7 -38.0C46.5 -40.0 44.5 -42.4 42.4 -44.4C40.3 -46.4 38.3 -48.9 36.0 -50.1C33.7 -51.2 31.2 -51.8 28.6 -51.5C26.1 -51.2 23.2 -49.9 20.7 -48.5C18.2 -47.1 15.8 -45.2 13.8 -43.1C11.8 -41.0 10.2 -38.4 8.6 -35.9C7.1 -33.4 6.0 -30.6 4.5 -28.0C3.0 -25.5 1.2 -23.1 -0.6 -20.8C-2.3 -18.5 -4.8 -16.6 -6.2 -14.2C-7.6 -11.8 -8.6 -9.2 -9.0 -6.5C-9.3 -3.8 -9.0 -0.6 -8.2 2.0C-7.3 4.7 -5.8 7.3 -3.9 9.2C-2.0 11.2 0.7 12.6 3.3 13.8C5.9 15.0 9.0 15.6 11.8 16.4C14.7 17.3 17.6 17.9 20.4 19.0C23.2 20.0 26.0 21.2 28.6 22.6C31.3 23.9 33.9 25.5 36.5 27.0C39.0 28.6 41.6 30.2 44.1 31.8C46.7 33.3 49.3 34.9 51.9 36.4C54.5 37.9 57.1 39.4 59.8 40.8C62.4 42.2 65.1 43.6 67.8 44.9C70.4 46.3 73.1 47.6 75.8 49.0C78.5 50.3 81.2 51.7 83.9 53.0C86.6 54.3 89.3 55.6 92.1 56.8C94.8 57.9 97.7 59.0 100.5 60.1C103.3 61.1 106.1 62.1 109.0 63.1C111.8 64.0 114.7 65.0 117.6 65.8C120.4 66.7 123.3 67.5 126.2 68.3C129.1 69.1 132.1 69.8 135.0 70.5C137.9 71.3 140.8 72.0 143.7 72.7C146.6 73.5 149.6 74.2 152.4 75.0C155.3 75.8 158.2 76.6 161.1 77.5C164.0 78.4 166.8 79.3 169.7 80.3C172.5 81.3 175.4 82.3 178.2 83.4C181.0 84.5 183.8 85.6 186.5 86.8C189.2 88.1 192.0 89.3 194.4 91.0C196.9 92.6 199.3 94.4 201.3 96.5C203.3 98.6 205.1 101.1 206.4 103.6C207.8 106.2 208.8 109.1 209.5 111.9C210.2 114.8 210.5 117.8 210.7 120.7C210.9 123.7 210.9 126.7 210.8 129.7C210.7 132.7 210.4 135.7 210.1 138.7C209.8 141.7 209.4 144.7 209.0 147.7C208.5 150.6 208.0 153.6 207.4 156.5C206.8 159.5 206.2 162.4 205.6 165.4C204.9 168.3 204.2 171.2 203.5 174.1C202.8 177.1 202.1 180.0 201.3 182.9C200.6 185.8 199.9 188.7 199.1 191.6C198.4 194.6 197.6 198.0 197.0 200.4C196.3 202.8 195.7 205.3 195.5 206.2"/>
<path d="M0.6 -154.5C2.0 -155.2 6.2 -157.3 9.0 -158.6C11.7 -160.0 14.5 -161.5 17.3 -162.8C20.1 -164.0 23.0 -165.4 25.9 -166.3C28.9 -167.1 32.0 -167.4 35.1 -167.6C38.2 -167.8 41.3 -167.6 44.4 -167.3C47.4 -166.9 50.8 -166.6 53.5 -165.6C56.3 -164.6 59.8 -163.4 60.9 -161.4C62.0 -159.3 61.1 -155.8 60.1 -153.3C59.1 -150.7 57.1 -148.1 54.9 -146.1C52.7 -144.2 49.7 -142.9 46.9 -141.5C44.1 -140.1 41.2 -139.0 38.3 -137.9C35.4 -136.8 32.5 -135.8 29.5 -134.9C26.5 -134.1 23.5 -133.3 20.4 -132.8C17.4 -132.4 14.2 -132.0 11.2 -132.2C8.2 -132.5 4.7 -132.9 2.3 -134.3C-0.1 -135.7 -2.3 -139.2 -3.4 -140.7C-4.5 -142.3 -4.2 -143.2 -4.3 -143.6"/>
<path d="M8.3 -198.0C6.4 -197.6 2.7 -197.1 -0.2 -196.5C-3.0 -196.0 -6.0 -195.5 -9.0 -194.8C-11.9 -194.1 -14.8 -193.4 -17.7 -192.5C-20.6 -191.7 -23.5 -190.9 -26.3 -189.9C-29.1 -188.9 -31.9 -187.8 -34.6 -186.6C-37.4 -185.4 -40.1 -184.2 -42.8 -182.8C-45.5 -181.5 -48.2 -180.1 -50.7 -178.6C-53.3 -177.0 -55.8 -175.3 -58.2 -173.6C-60.7 -171.9 -63.2 -170.2 -65.5 -168.3C-67.9 -166.5 -70.2 -164.5 -72.4 -162.5C-74.6 -160.5 -76.7 -158.4 -78.8 -156.2C-80.9 -154.1 -83.0 -151.9 -85.0 -149.7C-87.0 -147.4 -88.8 -145.1 -90.7 -142.7C-92.5 -140.3 -94.2 -137.9 -96.0 -135.4C-97.8 -133.0 -99.6 -130.6 -101.3 -128.1C-103.1 -125.7 -104.8 -123.3 -106.6 -120.8C-108.3 -118.3 -110.0 -115.9 -111.5 -113.3C-113.1 -110.8 -114.5 -108.1 -115.9 -105.4C-117.2 -102.8 -118.6 -100.1 -119.8 -97.3C-120.9 -94.6 -122.0 -91.8 -122.9 -88.9C-123.7 -86.1 -124.5 -83.1 -125.1 -80.2C-125.6 -77.3 -126.0 -74.4 -126.1 -71.4C-126.2 -68.4 -125.9 -65.4 -125.7 -62.5C-125.5 -59.5 -125.1 -56.5 -124.8 -53.5C-124.4 -50.5 -124.1 -47.5 -123.6 -44.6C-123.0 -41.6 -122.3 -38.7 -121.6 -35.8C-120.9 -32.9 -120.1 -30.0 -119.3 -27.1C-118.5 -24.2 -117.8 -21.3 -117.0 -18.4C-116.2 -15.5 -115.3 -12.6 -114.5 -9.7C-113.7 -6.8 -112.9 -3.9 -112.0 -1.0C-111.1 1.8 -110.2 4.7 -109.2 7.5C-108.2 10.4 -107.2 13.2 -106.1 16.0C-105.0 18.8 -103.8 21.5 -102.5 24.3C-101.3 27.0 -100.0 29.7 -98.5 32.3C-97.0 34.9 -95.4 37.4 -93.6 39.8C-91.9 42.3 -89.9 44.5 -88.0 46.9C-86.1 49.2 -84.2 51.5 -82.3 53.8C-80.4 56.1 -78.4 58.4 -76.5 60.7C-74.6 63.0 -72.6 65.3 -70.8 67.7C-69.1 70.1 -67.4 72.6 -66.0 75.2C-64.5 77.8 -63.4 80.6 -62.3 83.4C-61.3 86.2 -60.5 89.1 -59.7 92.0C-59.0 94.9 -58.4 97.8 -57.8 100.8C-57.2 103.7 -56.7 106.7 -56.1 109.6C-55.4 112.5 -54.8 115.5 -54.0 118.4C-53.2 121.3 -52.3 124.1 -51.3 127.0C-50.3 129.8 -49.2 132.6 -48.0 135.3C-46.8 138.0 -45.4 140.7 -44.0 143.4C-42.6 146.0 -41.1 148.7 -39.7 151.3C-38.2 153.9 -36.8 156.5 -35.3 159.2C-33.9 161.8 -32.6 164.5 -31.2 167.2C-29.8 169.9 -28.5 172.5 -27.0 175.2C-25.6 177.8 -24.2 180.5 -22.6 183.0C-21.0 185.6 -19.4 188.1 -17.6 190.5C-15.8 192.9 -13.9 195.2 -11.9 197.4C-9.8 199.6 -7.6 201.6 -5.4 203.6C-3.2 205.6 -0.8 207.5 1.5 209.4C3.8 211.3 6.2 213.2 8.5 215.1C10.8 217.0 13.1 218.9 15.5 220.7C17.9 222.6 20.3 224.4 22.7 226.2C25.1 228.0 27.5 229.7 30.1 231.4C32.6 233.0 35.2 234.5 37.8 236.0C40.4 237.5 43.0 238.9 45.7 240.3C48.4 241.6 51.1 242.8 53.9 244.0C56.6 245.2 59.4 246.3 62.3 247.3C65.1 248.4 67.9 249.3 70.8 250.2C73.7 251.1 76.6 251.8 79.5 252.5C82.4 253.1 85.4 253.7 88.3 254.1C91.3 254.5 94.3 254.8 97.3 254.9C100.3 255.0 103.3 255.1 106.2 254.8C109.2 254.5 112.1 254.0 115.0 253.3C117.9 252.6 120.8 251.7 123.6 250.6C126.3 249.5 129.1 248.3 131.7 246.9C134.4 245.5 136.9 243.9 139.4 242.3C141.8 240.6 144.2 238.6 146.4 236.7C148.7 234.7 150.9 232.7 153.0 230.5C155.0 228.4 157.0 226.1 159.0 223.8C160.9 221.5 162.8 219.2 164.5 216.7C166.2 214.3 167.9 211.8 169.5 209.2C171.0 206.7 172.5 204.1 173.9 201.4C175.3 198.7 176.6 196.0 177.7 193.3C178.8 190.5 179.9 187.7 180.7 184.8C181.6 181.9 182.3 179.0 182.8 176.1C183.3 173.1 183.6 170.2 183.7 167.2C183.9 164.2 183.8 161.2 183.6 158.2C183.4 155.2 183.0 152.2 182.5 149.3C182.0 146.3 181.3 143.4 180.4 140.6C179.5 137.7 178.4 135.0 177.0 132.3C175.7 129.7 174.1 127.1 172.3 124.8C170.5 122.5 168.4 120.3 166.2 118.4C163.9 116.5 161.4 114.8 158.9 113.3C156.3 111.9 153.5 110.6 150.7 109.6C148.0 108.5 145.1 107.7 142.2 106.8C139.3 106.0 136.4 105.3 133.5 104.4C130.6 103.6 127.7 102.8 124.9 101.8C122.1 100.8 119.3 99.8 116.5 98.6C113.8 97.4 111.1 96.1 108.4 94.7C105.7 93.3 103.1 91.9 100.5 90.4C97.9 88.9 95.3 87.3 92.8 85.7C90.2 84.1 87.7 82.5 85.1 80.9C82.6 79.3 80.0 77.7 77.5 76.1C74.9 74.5 72.4 72.9 69.8 71.4C67.3 69.8 64.8 68.2 62.2 66.6C59.6 65.1 57.0 63.5 54.4 62.1C51.8 60.6 49.1 59.2 46.4 57.9C43.7 56.6 41.0 55.4 38.2 54.2C35.5 53.0 32.6 51.9 29.8 50.9C27.0 49.8 24.2 48.9 21.3 47.9C18.5 46.9 15.6 46.1 12.8 45.0C10.0 43.9 7.2 42.8 4.6 41.4C2.0 40.0 -0.5 38.4 -2.7 36.5C-4.9 34.5 -6.8 32.2 -8.4 29.8C-10.1 27.4 -11.4 24.7 -12.6 21.9C-13.8 19.2 -14.7 16.3 -15.4 13.5C-16.2 10.6 -16.6 7.6 -17.0 4.6C-17.5 1.7 -17.8 -1.3 -18.0 -4.3C-18.2 -7.3 -18.3 -10.3 -18.3 -13.3C-18.3 -16.3 -18.2 -19.3 -18.1 -22.3C-18.0 -25.3 -17.9 -28.3 -17.5 -31.3C-17.1 -34.2 -16.6 -37.1 -15.7 -39.9C-14.7 -42.7 -13.5 -45.5 -12.0 -48.0C-10.5 -50.5 -8.5 -52.8 -6.7 -55.1C-4.8 -57.4 -2.7 -59.6 -0.9 -62.0C0.9 -64.3 2.5 -66.9 4.3 -69.2C6.1 -71.6 7.9 -74.1 10.0 -76.2C12.0 -78.3 14.3 -80.2 16.8 -81.8C19.2 -83.5 21.9 -84.9 24.6 -86.1C27.3 -87.3 30.2 -88.2 33.1 -88.9C35.9 -89.5 38.9 -89.8 41.9 -90.1C44.9 -90.3 47.9 -90.3 50.9 -90.4C53.9 -90.5 56.9 -90.5 59.9 -90.7C62.9 -91.0 65.8 -91.4 68.7 -92.0C71.6 -92.7 74.5 -93.6 77.2 -94.7C80.0 -95.8 82.7 -97.2 85.3 -98.6C88.0 -100.0 90.6 -101.5 93.1 -103.1C95.7 -104.6 98.3 -106.3 100.8 -107.9C103.3 -109.5 105.9 -111.1 108.3 -112.8C110.7 -114.6 113.2 -116.3 115.4 -118.3C117.7 -120.2 119.9 -122.3 121.7 -124.6C123.5 -126.9 125.1 -129.4 126.1 -132.1C127.1 -134.8 127.7 -137.7 127.7 -140.6C127.8 -143.5 127.2 -146.4 126.4 -149.2C125.6 -152.0 124.3 -154.8 122.9 -157.4C121.5 -160.0 119.7 -162.4 117.9 -164.7C116.0 -167.0 113.9 -169.1 111.7 -171.2C109.5 -173.2 107.2 -175.2 104.8 -176.9C102.4 -178.7 99.9 -180.3 97.3 -181.8C94.8 -183.4 92.2 -184.9 89.5 -186.3C86.8 -187.6 84.1 -188.8 81.3 -189.9C78.5 -191.0 75.7 -192.0 72.8 -192.9C69.9 -193.8 67.1 -194.6 64.1 -195.4C61.2 -196.1 58.3 -196.7 55.3 -197.2C52.4 -197.8 49.4 -198.2 46.4 -198.6C43.5 -198.9 40.5 -199.1 37.5 -199.3C34.5 -199.4 31.5 -199.5 28.5 -199.5C25.5 -199.5 22.4 -199.4 19.5 -199.3C16.6 -199.1 12.9 -198.6 11.0 -198.4C9.1 -198.2 10.1 -198.3 8.3 -198.0Z"/>
<path d="M-10.3 -179.6C-8.2 -180.7 -5.1 -181.9 -2.3 -182.7C0.5 -183.5 3.5 -183.9 6.5 -184.4C9.4 -184.8 12.4 -185.1 15.4 -185.3C18.4 -185.5 21.4 -185.6 24.4 -185.6C27.4 -185.6 30.4 -185.4 33.3 -185.1C36.3 -184.8 39.3 -184.3 42.2 -183.8C45.2 -183.2 48.1 -182.5 50.9 -181.7C53.8 -180.9 56.7 -179.9 59.5 -178.9C62.3 -177.9 65.1 -176.8 67.9 -175.7C70.6 -174.5 73.3 -173.2 76.0 -171.8C78.6 -170.4 81.3 -169.0 83.7 -167.3C86.2 -165.6 88.6 -163.8 90.7 -161.8C92.7 -159.7 94.8 -157.5 96.2 -155.0C97.5 -152.5 98.6 -149.7 98.8 -146.9C99.0 -144.2 98.5 -141.2 97.5 -138.7C96.5 -136.1 94.7 -133.7 92.7 -131.6C90.7 -129.5 88.3 -127.7 85.8 -126.2C83.3 -124.6 80.5 -123.5 77.7 -122.4C74.9 -121.3 72.0 -120.5 69.1 -119.7C66.3 -119.0 63.3 -118.4 60.4 -117.7C57.5 -117.1 54.5 -116.6 51.5 -116.0C48.6 -115.5 45.6 -115.0 42.7 -114.3C39.8 -113.7 36.9 -113.1 34.0 -112.3C31.1 -111.5 28.2 -110.7 25.3 -109.7C22.5 -108.8 19.6 -107.9 16.8 -106.8C14.0 -105.8 11.2 -104.8 8.4 -103.7C5.6 -102.5 2.9 -101.3 0.2 -100.0C-2.5 -98.7 -5.2 -97.4 -7.7 -95.8C-10.2 -94.2 -12.5 -92.4 -14.8 -90.5C-17.0 -88.5 -19.1 -86.3 -21.2 -84.2C-23.3 -82.0 -25.4 -79.9 -27.4 -77.7C-29.4 -75.5 -31.5 -73.2 -33.4 -71.0C-35.4 -68.7 -37.4 -66.4 -39.2 -64.1C-41.0 -61.7 -42.9 -59.3 -44.4 -56.8C-45.9 -54.3 -47.2 -51.7 -48.0 -48.9C-48.7 -46.1 -48.9 -43.2 -48.9 -40.2C-48.9 -37.3 -48.6 -34.3 -48.2 -31.3C-47.9 -28.4 -47.3 -25.4 -46.6 -22.5C-46.0 -19.6 -45.3 -16.6 -44.5 -13.8C-43.7 -10.9 -42.6 -8.1 -41.8 -5.2C-40.9 -2.3 -40.0 0.5 -39.5 3.4C-39.1 6.3 -38.8 9.3 -39.0 12.3C-39.2 15.2 -39.7 18.2 -40.6 20.9C-41.6 23.5 -43.0 26.3 -44.9 28.2C-46.8 30.2 -49.3 31.9 -51.9 32.6C-54.4 33.4 -57.4 33.4 -60.1 32.9C-62.8 32.4 -65.5 30.9 -68.0 29.4C-70.5 27.9 -72.8 26.0 -75.0 24.0C-77.2 22.0 -79.2 19.7 -81.0 17.4C-82.8 15.0 -84.5 12.5 -86.0 9.9C-87.4 7.3 -88.7 4.6 -89.9 1.9C-91.0 -0.9 -92.1 -3.7 -92.9 -6.6C-93.7 -9.4 -94.4 -12.4 -94.9 -15.3C-95.5 -18.2 -95.9 -21.2 -96.4 -24.2C-96.8 -27.1 -97.2 -30.1 -97.6 -33.1C-98.1 -36.1 -98.5 -39.0 -98.8 -42.0C-99.1 -45.0 -99.4 -48.0 -99.6 -51.0C-99.7 -53.9 -99.9 -57.0 -99.6 -59.9C-99.4 -62.8 -98.9 -65.7 -97.9 -68.5C-97.0 -71.2 -95.6 -73.9 -94.0 -76.2C-92.3 -78.6 -90.1 -80.6 -88.1 -82.8C-86.2 -85.0 -84.0 -87.1 -82.3 -89.5C-80.6 -91.8 -79.0 -94.4 -77.9 -97.1C-76.8 -99.8 -76.3 -102.7 -75.7 -105.6C-75.0 -108.5 -74.6 -111.5 -74.0 -114.4C-73.3 -117.3 -72.5 -120.2 -71.6 -123.1C-70.7 -125.9 -69.8 -128.7 -68.5 -131.4C-67.2 -134.0 -65.5 -136.5 -63.9 -139.0C-62.2 -141.4 -60.3 -143.8 -58.3 -146.0C-56.4 -148.3 -54.3 -150.4 -52.1 -152.4C-49.9 -154.5 -47.5 -156.3 -45.2 -158.1C-42.8 -159.9 -40.4 -161.7 -37.9 -163.3C-35.3 -164.9 -32.6 -166.2 -30.0 -167.6C-27.3 -168.9 -24.5 -170.0 -22.0 -171.5C-19.4 -173.0 -16.7 -175.0 -14.8 -176.3C-12.8 -177.7 -12.3 -178.6 -10.3 -179.6Z"/>
<path d="M0.9 74.2C3.7 73.3 6.6 72.8 9.6 72.4C12.5 72.0 15.5 71.8 18.5 71.8C21.5 71.8 24.5 71.9 27.5 72.2C30.4 72.5 33.4 73.0 36.3 73.6C39.2 74.2 42.2 74.9 45.0 75.9C47.8 76.8 50.6 78.0 53.3 79.2C56.1 80.4 58.7 81.8 61.4 83.1C64.1 84.4 66.8 85.8 69.5 87.1C72.1 88.5 74.8 89.8 77.5 91.3C80.1 92.7 82.7 94.2 85.2 95.8C87.8 97.3 90.3 99.0 92.8 100.6C95.3 102.3 97.8 104.0 100.2 105.8C102.6 107.5 105.0 109.4 107.4 111.2C109.8 113.1 112.1 114.9 114.4 116.9C116.7 118.8 118.9 120.8 121.2 122.8C123.4 124.8 125.5 126.9 127.6 129.0C129.7 131.2 131.7 133.5 133.6 135.8C135.5 138.1 137.4 140.4 139.1 142.9C140.8 145.3 142.5 147.8 144.0 150.4C145.5 153.0 147.0 155.6 148.1 158.3C149.3 161.0 150.4 163.9 151.1 166.7C151.8 169.6 152.4 172.5 152.5 175.5C152.7 178.4 152.6 181.4 152.1 184.3C151.7 187.2 151.0 190.2 150.0 192.9C149.0 195.7 147.7 198.4 146.1 200.9C144.5 203.3 142.6 205.7 140.5 207.7C138.4 209.7 136.0 211.5 133.4 212.9C130.9 214.4 128.1 215.6 125.3 216.5C122.5 217.4 119.6 217.9 116.6 218.2C113.7 218.6 110.7 218.6 107.7 218.5C104.7 218.3 101.8 217.9 98.8 217.4C95.9 216.9 93.0 216.2 90.1 215.3C87.2 214.5 84.4 213.5 81.6 212.4C78.8 211.4 76.0 210.3 73.2 209.1C70.5 208.0 67.7 206.8 65.0 205.5C62.2 204.3 59.5 203.0 56.9 201.6C54.2 200.2 51.6 198.8 49.0 197.2C46.5 195.7 43.9 194.1 41.4 192.4C39.0 190.7 36.6 188.9 34.2 187.1C31.8 185.2 29.5 183.3 27.3 181.4C25.0 179.4 22.9 177.3 20.8 175.1C18.7 173.0 16.6 170.8 14.6 168.6C12.6 166.3 10.7 164.0 8.8 161.7C6.8 159.4 5.0 157.1 3.0 154.8C1.1 152.5 -0.9 150.2 -2.9 148.0C-4.9 145.8 -7.2 143.8 -9.1 141.5C-11.1 139.3 -13.1 137.2 -14.7 134.7C-16.2 132.2 -17.2 129.4 -18.1 126.6C-19.0 123.9 -19.6 120.9 -20.1 117.9C-20.5 115.0 -20.9 112.0 -20.8 109.0C-20.8 106.1 -20.6 103.1 -20.1 100.2C-19.5 97.3 -18.7 94.4 -17.6 91.7C-16.4 89.0 -15.0 86.3 -13.3 84.0C-11.5 81.7 -9.3 79.7 -7.0 78.1C-4.6 76.4 -1.9 75.2 0.9 74.2Z"/>
<path d="M19.2 115.8C19.7 113.1 21.2 110.3 23.0 108.1C24.8 105.9 27.4 104.0 30.0 102.8C32.5 101.5 35.6 100.8 38.5 100.7C41.4 100.6 44.4 101.4 47.2 102.3C50.0 103.2 52.7 104.7 55.3 106.1C57.9 107.6 60.4 109.2 62.9 111.0C65.3 112.8 67.7 114.7 69.9 116.7C72.1 118.7 74.3 120.9 76.3 123.1C78.3 125.3 80.3 127.7 81.9 130.2C83.4 132.7 85.1 135.5 85.7 138.2C86.3 140.9 86.4 144.2 85.3 146.4C84.2 148.7 81.7 150.6 79.2 151.8C76.7 152.9 73.5 153.0 70.5 153.2C67.5 153.5 64.5 153.3 61.5 153.2C58.5 153.0 55.4 152.8 52.5 152.2C49.6 151.6 46.6 150.7 43.9 149.6C41.2 148.4 38.5 147.0 36.0 145.3C33.6 143.6 31.2 141.7 29.1 139.6C27.0 137.4 25.1 135.1 23.5 132.6C22.0 130.1 20.5 127.3 19.7 124.5C19.0 121.7 18.6 118.6 19.2 115.8Z"/>
<ellipse cx="2.1" cy="-0.5" rx="3.0" ry="4.0" stroke-width="2.4"/>
</g>
<path d="M-117.8 -197.6A230.0 230.0 0 0 1 176.6 -147.4L66.8 -55.7A87.0 87.0 0 0 0 -44.5 -74.7ZM199.4 114.7A230.0 230.0 0 0 1 -79.8 215.7L-30.2 81.6A87.0 87.0 0 0 0 75.4 43.4Z" fill="none" stroke="#000" stroke-width="3.9" stroke-linejoin="miter"/>
</g></g>
<g clip-path="url(#fr0)"><circle cx="422.7" cy="330.5" r="285.4" fill="none" stroke="#8e8e8e" stroke-width="3.7" stroke-linecap="round" stroke-dasharray="1.4 17.2"/></g>
<rect x="136.1" y="47.2" width="573.3" height="567.4" fill="none" stroke="#000" stroke-width="2"/>
</g>
<g id="map1">
<text y="35.2" font-size="35.5" fill="#000" stroke="#000" stroke-width="1.15" stroke-linejoin="round" ><tspan x="813.0" textLength="44.4" lengthAdjust="spacingAndGlyphs">b)</tspan><tspan x="876.7" textLength="86.2" lengthAdjust="spacingAndGlyphs">Late</tspan><tspan x="985.4" textLength="54.2" lengthAdjust="spacingAndGlyphs">RD</tspan><tspan x="1064.4" textLength="29.4" lengthAdjust="spacingAndGlyphs">−</tspan><tspan x="1118.2" textLength="94.5" lengthAdjust="spacingAndGlyphs">Peak</tspan></text>
<g clip-path="url(#ci1)">
<g transform="translate(1101.2 330.5)">
<path d="M288.1 -292.0L292.0 -292.0L292.0 -288.9L288.1 -292.0ZM14.5 88.0L24.0 87.0L29.9 88.0L36.0 91.1L41.9 96.0L62.3 116.0L65.6 120.0L77.5 140.0L88.7 156.0L92.5 164.0L95.1 172.0L96.7 180.0L97.0 188.0L96.0 193.3L93.0 200.0L89.9 204.0L84.0 208.7L76.0 212.4L64.0 214.6L16.0 213.9L9.8 212.0L0.0 205.4L-8.0 197.5L-12.0 191.6L-15.7 184.0L-17.8 176.0L-18.7 168.0L-18.6 160.0L-17.5 152.0L-15.3 144.0L-11.8 136.0L-2.0 120.0L-1.0 116.0L-1.4 112.0L-3.8 104.0L-4.2 100.0L-3.4 96.0L0.0 91.6L14.5 88.0Z" fill="#BADFE9" stroke="#BADFE9" stroke-width="0.6" fill-rule="evenodd"/>
<path d="M230.9 -292.0L288.1 -292.0L292.0 -288.9L292.0 -241.0L288.0 -242.4L284.0 -245.0L261.7 -264.0L241.6 -280.0L233.1 -288.0L230.9 -292.0ZM31.4 72.0L40.0 72.8L48.0 76.5L52.0 79.6L64.9 92.0L80.0 102.4L85.8 108.0L88.2 112.0L93.2 124.0L95.7 128.0L110.2 144.0L114.4 152.0L121.4 172.0L123.5 180.0L123.8 192.0L121.4 204.0L119.9 208.0L116.0 215.1L112.2 220.0L108.1 224.0L102.7 228.0L96.0 231.9L84.0 236.6L76.0 238.4L68.0 239.1L40.0 237.4L28.0 238.0L8.0 241.3L-8.0 242.4L-20.0 248.3L-24.0 248.8L-28.0 248.2L-32.2 244.0L-33.2 240.0L-33.9 228.0L-43.5 204.0L-47.2 192.0L-49.9 180.0L-51.0 168.0L-50.7 156.0L-48.4 140.0L-45.2 128.0L-43.5 124.0L-40.0 118.7L-24.0 103.5L-20.0 97.0L-14.4 84.0L-12.0 80.1L-8.0 76.6L-4.0 75.2L12.0 75.2L31.4 72.0ZM16.0 87.7L0.0 91.6L-3.4 96.0L-4.2 100.0L-3.8 104.0L-1.4 112.0L-1.0 116.0L-2.0 120.0L-11.8 136.0L-15.3 144.0L-17.5 152.0L-18.6 160.0L-18.7 168.0L-17.8 176.0L-15.7 184.0L-12.0 191.6L-8.0 197.5L0.0 205.4L9.8 212.0L16.0 213.9L64.0 214.6L76.0 212.4L84.0 208.7L89.9 204.0L93.0 200.0L96.0 193.3L97.0 188.0L96.7 180.0L95.1 172.0L92.5 164.0L88.7 156.0L77.5 140.0L65.6 120.0L62.3 116.0L41.9 96.0L36.0 91.1L29.9 88.0L24.0 87.0L16.0 87.7Z" fill="#D1EAF0" stroke="#D1EAF0" stroke-width="0.6" fill-rule="evenodd"/>
<path d="M-292.0 -292.0L-230.6 -292.0L-234.4 -288.0L-241.4 -284.0L-252.0 -279.4L-276.0 -271.2L-284.0 -269.2L-292.0 -268.1L-292.0 -292.0ZM177.4 -292.0L230.9 -292.0L233.1 -288.0L241.6 -280.0L261.7 -264.0L284.0 -245.0L288.0 -242.4L292.0 -241.0L292.0 -189.9L288.0 -192.0L284.0 -195.7L260.0 -222.7L238.0 -244.0L216.0 -262.1L184.6 -284.0L180.0 -288.0L177.4 -292.0ZM30.4 56.0L36.0 54.6L44.0 55.0L52.0 57.6L56.0 60.0L60.0 63.4L75.5 84.0L93.6 100.0L106.3 120.0L125.2 140.0L128.0 144.0L140.7 168.0L144.1 176.0L145.1 180.0L146.0 188.0L146.1 196.0L144.9 208.0L143.2 216.0L140.2 224.0L137.9 228.0L132.0 236.0L128.0 240.3L116.0 249.9L100.0 258.4L84.0 264.0L72.0 266.2L60.0 265.9L36.0 260.3L32.0 260.6L28.0 263.0L27.3 264.0L26.5 268.0L29.1 284.0L29.6 292.0L-44.3 292.0L-48.5 288.0L-60.0 279.2L-64.0 275.2L-69.3 268.0L-75.3 256.0L-89.3 220.0L-93.3 204.0L-94.0 192.0L-92.1 176.0L-87.7 156.0L-83.2 144.0L-74.0 124.0L-67.1 112.0L-63.6 108.0L-58.8 104.0L-51.7 100.0L-40.0 95.0L-32.0 90.0L-28.0 85.6L-19.1 72.0L-12.0 63.0L-8.0 60.1L-4.0 59.5L8.0 63.3L12.0 63.4L20.0 61.0L30.4 56.0ZM32.0 71.9L12.0 75.2L-4.0 75.2L-8.0 76.6L-12.0 80.1L-14.4 84.0L-20.0 97.0L-24.0 103.5L-40.0 118.7L-43.5 124.0L-45.2 128.0L-48.4 140.0L-50.7 156.0L-51.0 168.0L-49.9 180.0L-47.2 192.0L-43.5 204.0L-33.9 228.0L-33.2 240.0L-32.2 244.0L-28.0 248.2L-24.0 248.8L-20.0 248.3L-8.0 242.4L8.0 241.3L28.0 238.0L40.0 237.4L68.0 239.1L76.0 238.4L84.0 236.6L96.0 231.9L102.7 228.0L108.1 224.0L112.2 220.0L116.0 215.1L119.9 208.0L121.4 204.0L123.8 192.0L123.5 180.0L121.4 172.0L114.4 152.0L110.2 144.0L95.7 128.0L93.2 124.0L88.2 112.0L85.8 108.0L80.0 102.4L64.9 92.0L52.0 79.6L48.0 76.5L40.0 72.8L32.0 71.9Z" fill="#E3F3F7" stroke="#E3F3F7" stroke-width="0.6" fill-rule="evenodd"/>
<path d="M-234.4 -288.0L-230.6 -292.0L-127.7 -292.0L-130.3 -288.0L-134.8 -284.0L-148.0 -275.3L-164.0 -266.6L-196.0 -251.6L-208.7 -244.0L-216.0 -238.3L-222.6 -232.0L-240.0 -213.2L-252.0 -203.7L-260.0 -199.0L-272.0 -193.7L-284.0 -190.0L-292.0 -188.8L-292.0 -268.1L-280.0 -270.1L-264.0 -275.0L-248.0 -281.1L-234.4 -288.0ZM123.5 -292.0L177.4 -292.0L180.0 -288.0L184.6 -284.0L216.0 -262.1L238.0 -244.0L260.0 -222.7L284.0 -195.7L288.0 -192.0L292.0 -189.9L292.0 -74.0L288.0 -76.6L284.0 -81.7L279.0 -92.0L276.7 -104.0L275.0 -132.0L273.4 -140.0L269.7 -152.0L266.4 -160.0L260.1 -172.0L246.4 -192.0L233.3 -208.0L222.4 -220.0L210.3 -232.0L200.0 -240.9L185.3 -252.0L167.2 -264.0L132.1 -284.0L126.5 -288.0L123.5 -292.0ZM-210.2 -84.0L-204.0 -86.6L-196.0 -87.6L-192.0 -86.7L-188.0 -84.7L-184.0 -81.1L-180.0 -75.3L-176.9 -68.0L-174.8 -60.0L-170.1 -36.0L-167.3 -28.0L-162.8 -20.0L-160.0 -16.5L-156.0 -13.5L-152.0 -12.4L-140.0 -10.6L-136.0 -9.2L-132.0 -6.6L-129.7 -4.0L-127.9 0.0L-127.8 4.0L-130.2 16.0L-130.3 20.0L-129.2 28.0L-116.3 80.0L-112.0 87.0L-108.0 89.9L-104.0 91.2L-100.0 91.7L-92.0 91.1L-52.0 82.5L-40.0 78.5L-32.0 72.9L-27.5 68.0L-22.2 60.0L-16.0 47.1L-12.0 40.8L-8.0 36.1L0.0 27.3L4.0 24.1L8.0 23.0L12.0 24.0L23.4 32.0L28.0 33.9L60.0 41.3L64.0 43.0L68.0 46.0L72.1 52.0L77.7 68.0L81.5 76.0L87.9 84.0L99.6 96.0L108.0 108.0L117.5 120.0L132.0 134.6L136.0 139.7L144.0 152.2L155.7 168.0L160.0 176.0L164.0 188.0L165.8 200.0L166.3 216.0L164.7 228.0L162.0 236.0L156.0 247.1L148.0 259.4L140.0 269.8L126.8 284.0L123.7 288.0L121.9 292.0L29.6 292.0L29.1 284.0L26.5 268.0L27.3 264.0L28.0 263.0L32.0 260.6L36.0 260.3L60.0 265.9L68.0 266.4L76.0 265.7L92.0 261.5L104.0 256.5L112.0 252.3L120.0 247.1L128.0 240.3L132.0 236.0L137.9 228.0L140.2 224.0L143.2 216.0L144.9 208.0L146.1 196.0L145.7 184.0L144.0 175.8L140.7 168.0L128.0 144.0L125.2 140.0L106.3 120.0L93.6 100.0L75.5 84.0L60.0 63.4L56.0 60.0L52.0 57.6L47.9 56.0L40.0 54.5L32.0 55.4L20.0 61.0L12.0 63.4L8.0 63.3L-4.0 59.5L-8.0 60.1L-12.0 63.0L-19.1 72.0L-28.0 85.6L-32.0 90.0L-40.0 95.0L-51.7 100.0L-58.8 104.0L-63.6 108.0L-67.1 112.0L-74.0 124.0L-86.4 152.0L-90.6 168.0L-93.8 188.0L-93.8 200.0L-90.6 216.0L-75.3 256.0L-69.3 268.0L-64.0 275.2L-60.0 279.2L-48.5 288.0L-44.3 292.0L-235.3 292.0L-238.1 288.0L-264.0 268.8L-272.0 261.7L-284.0 249.5L-288.0 246.0L-292.0 243.9L-292.0 118.4L-288.0 115.6L-284.0 110.8L-268.0 87.1L-261.3 76.0L-256.0 63.3L-252.1 48.0L-244.0 -2.1L-242.9 -12.0L-241.7 -36.0L-240.3 -44.0L-237.9 -52.0L-234.3 -60.0L-228.0 -69.6L-220.0 -77.7L-210.2 -84.0ZM288.8 124.0L292.0 120.1L292.0 193.4L288.0 188.5L284.0 178.1L281.9 168.0L281.0 160.0L281.1 152.0L283.0 140.0L285.3 132.0L288.8 124.0Z" fill="#F4FDFE" stroke="#F4FDFE" stroke-width="0.6" fill-rule="evenodd"/>
<path d="M-130.3 -288.0L-127.7 -292.0L-63.3 -292.0L-65.4 -288.0L-72.0 -281.8L-80.9 -276.0L-108.0 -262.9L-120.0 -256.2L-152.0 -232.8L-176.0 -218.8L-184.0 -213.2L-188.8 -208.0L-192.0 -201.8L-194.4 -192.0L-194.8 -184.0L-193.6 -176.0L-189.8 -168.0L-182.4 -160.0L-168.0 -147.7L-164.0 -143.2L-159.6 -136.0L-156.0 -125.7L-150.6 -104.0L-140.7 -72.0L-135.3 -44.0L-132.1 -32.0L-128.2 -24.0L-118.6 -12.0L-114.3 -4.0L-113.1 4.0L-113.6 16.0L-112.6 24.0L-109.7 32.0L-105.6 40.0L-100.0 48.1L-96.0 52.3L-91.2 56.0L-83.2 60.0L-72.0 62.7L-56.0 64.3L-48.0 64.3L-40.0 62.4L-35.8 60.0L-32.0 56.2L-29.4 52.0L-17.6 28.0L-11.8 12.0L-8.0 5.2L0.0 -3.7L8.0 -11.1L12.0 -13.2L16.0 -13.9L20.0 -12.8L24.0 -9.2L28.0 -1.8L34.0 12.0L37.0 16.0L41.9 20.0L48.0 22.3L52.0 22.7L60.0 21.2L68.0 17.5L72.0 18.6L80.2 32.0L84.1 40.0L85.5 48.0L86.5 64.0L89.1 72.0L91.4 76.0L124.8 116.0L140.7 132.0L152.0 146.0L165.0 160.0L177.7 176.0L182.4 184.0L185.5 192.0L192.0 214.1L201.8 240.0L204.7 252.0L205.7 260.0L205.7 268.0L201.6 292.0L121.9 292.0L123.7 288.0L126.8 284.0L140.0 269.8L148.0 259.4L156.0 247.1L162.0 236.0L164.7 228.0L166.3 216.0L165.8 200.0L164.0 188.0L160.0 176.0L155.7 168.0L144.0 152.2L136.0 139.7L132.0 134.6L117.5 120.0L108.0 108.0L99.6 96.0L87.9 84.0L81.5 76.0L77.7 68.0L72.1 52.0L68.0 46.0L64.0 43.0L60.0 41.3L28.0 33.9L23.4 32.0L12.0 24.0L8.0 23.0L4.0 24.1L0.0 27.3L-8.0 36.1L-12.0 40.8L-16.0 47.1L-22.2 60.0L-27.5 68.0L-32.0 72.9L-40.0 78.5L-52.0 82.5L-92.0 91.1L-100.0 91.7L-104.0 91.2L-108.0 89.9L-112.0 87.0L-116.3 80.0L-129.2 28.0L-130.3 20.0L-130.2 16.0L-127.8 4.0L-127.9 0.0L-129.7 -4.0L-132.0 -6.6L-136.0 -9.2L-140.0 -10.6L-152.0 -12.4L-156.0 -13.5L-160.0 -16.5L-162.8 -20.0L-167.3 -28.0L-170.1 -36.0L-175.7 -64.0L-178.5 -72.0L-180.4 -76.0L-184.0 -81.1L-188.0 -84.7L-192.0 -86.7L-196.0 -87.6L-204.0 -86.6L-208.0 -85.1L-216.0 -80.7L-224.0 -74.1L-228.0 -69.6L-232.0 -64.0L-236.0 -56.7L-239.2 -48.0L-241.1 -40.0L-243.7 -4.0L-252.1 48.0L-256.0 63.3L-261.3 76.0L-268.0 87.1L-284.0 110.8L-288.0 115.6L-292.0 118.4L-292.0 -188.8L-284.0 -190.0L-276.0 -192.3L-264.0 -197.0L-256.0 -201.2L-248.0 -206.5L-240.0 -213.2L-218.6 -236.0L-208.0 -244.5L-196.0 -251.6L-168.0 -264.7L-153.8 -272.0L-140.5 -280.0L-130.3 -288.0ZM79.1 -292.0L123.5 -292.0L126.5 -288.0L132.1 -284.0L164.0 -266.0L190.8 -248.0L204.0 -237.6L214.5 -228.0L226.1 -216.0L240.0 -200.0L249.4 -188.0L257.6 -176.0L264.4 -164.0L269.7 -152.0L273.4 -140.0L275.0 -132.0L276.7 -104.0L279.0 -92.0L284.0 -81.7L288.0 -76.6L292.0 -74.0L292.0 120.1L288.0 125.1L284.0 135.7L281.5 148.0L280.9 156.0L281.9 168.0L284.0 178.1L288.0 188.5L292.0 193.4L292.0 292.0L236.2 292.0L234.9 276.0L234.9 264.0L240.7 224.0L247.1 168.0L250.5 152.0L258.7 128.0L269.7 84.0L273.6 64.0L274.5 48.0L272.9 32.0L269.1 8.0L268.0 4.7L264.0 3.5L252.0 7.7L248.0 7.9L244.0 7.0L239.2 4.0L236.3 0.0L235.0 -4.0L233.8 -12.0L233.0 -32.0L235.5 -64.0L234.8 -92.0L236.0 -104.0L239.0 -120.0L239.4 -128.0L238.0 -140.0L233.3 -156.0L225.9 -172.0L215.6 -188.0L200.0 -206.9L184.0 -222.8L172.5 -232.0L144.9 -252.0L132.0 -259.5L106.2 -272.0L92.4 -280.0L81.7 -288.0L79.1 -292.0ZM-292.0 244.0L-288.0 246.0L-284.0 249.5L-272.0 261.7L-264.0 268.8L-238.1 288.0L-235.3 292.0L-292.0 292.0L-292.0 244.0Z" fill="#FEF2EA" stroke="#FEF2EA" stroke-width="0.6" fill-rule="evenodd"/>
<path d="M-65.4 -288.0L-63.3 -292.0L79.1 -292.0L81.7 -288.0L92.4 -280.0L106.2 -272.0L140.0 -255.1L150.7 -248.0L180.0 -226.2L192.0 -215.3L208.0 -197.8L218.5 -184.0L228.0 -168.0L233.3 -156.0L236.0 -148.0L238.7 -136.0L239.4 -128.0L239.0 -120.0L236.0 -104.0L234.8 -92.0L235.5 -64.0L233.0 -32.0L233.8 -12.0L235.0 -4.0L236.3 0.0L239.2 4.0L244.0 7.0L248.0 7.9L252.0 7.7L264.0 3.5L268.0 4.7L269.1 8.0L272.9 32.0L274.5 48.0L273.6 64.0L269.7 84.0L258.7 128.0L250.5 152.0L247.1 168.0L240.7 224.0L234.9 264.0L234.9 276.0L236.2 292.0L201.6 292.0L205.7 268.0L205.7 260.0L204.7 252.0L201.8 240.0L192.0 214.1L185.5 192.0L182.4 184.0L177.7 176.0L165.0 160.0L152.0 146.0L140.7 132.0L124.8 116.0L91.4 76.0L89.1 72.0L86.5 64.0L85.5 48.0L84.1 40.0L80.2 32.0L72.0 18.6L68.0 17.5L60.0 21.2L52.0 22.7L48.0 22.3L41.9 20.0L37.0 16.0L34.0 12.0L28.0 -1.8L24.0 -9.2L20.0 -12.8L16.0 -13.9L12.0 -13.2L8.0 -11.1L0.0 -3.7L-8.0 5.2L-11.8 12.0L-17.6 28.0L-29.4 52.0L-32.0 56.2L-35.8 60.0L-40.0 62.4L-48.0 64.3L-56.0 64.3L-72.0 62.7L-84.0 59.7L-91.2 56.0L-96.0 52.3L-103.1 44.0L-108.0 35.7L-111.3 28.0L-113.3 20.0L-113.1 4.0L-114.3 -4.0L-118.6 -12.0L-128.2 -24.0L-132.1 -32.0L-135.3 -44.0L-140.7 -72.0L-150.6 -104.0L-158.0 -132.0L-160.0 -136.8L-164.0 -143.2L-172.0 -151.4L-184.0 -161.6L-189.8 -168.0L-192.1 -172.0L-194.5 -180.0L-194.4 -192.0L-192.7 -200.0L-188.8 -208.0L-185.4 -212.0L-180.4 -216.0L-152.0 -232.8L-124.0 -253.5L-116.0 -258.7L-88.0 -272.2L-76.0 -279.0L-69.3 -284.0L-65.4 -288.0ZM-12.0 -284.8L-20.0 -281.4L-28.5 -276.0L-36.8 -268.0L-48.0 -253.6L-55.1 -248.0L-66.2 -244.0L-88.0 -239.9L-96.0 -237.9L-104.0 -234.9L-112.0 -230.0L-118.2 -224.0L-124.0 -215.5L-129.4 -204.0L-133.1 -192.0L-137.9 -172.0L-139.7 -160.0L-140.2 -144.0L-138.4 -128.0L-136.5 -120.0L-133.7 -112.0L-122.4 -88.0L-119.4 -80.0L-108.0 -28.0L-104.3 -20.0L-98.9 -12.0L-94.9 -4.0L-91.2 12.0L-89.6 16.0L-87.1 20.0L-83.5 24.0L-78.5 28.0L-72.0 31.6L-68.0 33.0L-60.0 34.6L-52.0 34.1L-48.0 32.6L-44.0 29.6L-32.0 16.2L-28.0 8.7L-26.5 0.0L-28.2 -12.0L-27.6 -16.0L-25.0 -24.0L-22.9 -28.0L-20.0 -32.7L-16.0 -36.9L-12.0 -39.2L-8.0 -40.0L4.0 -37.8L20.0 -39.9L28.0 -39.6L32.0 -38.6L36.0 -36.7L41.9 -32.0L45.2 -28.0L52.0 -16.9L56.0 -13.7L72.0 -14.6L76.0 -13.8L80.0 -12.0L84.7 -8.0L86.8 -4.0L87.3 0.0L86.2 12.0L86.7 16.0L88.0 20.0L98.5 36.0L99.5 40.0L99.6 44.0L97.1 60.0L97.4 64.0L100.0 71.9L104.0 77.3L124.0 98.0L136.0 112.1L160.0 133.9L180.0 149.9L188.0 155.1L196.0 158.0L204.0 158.6L212.0 157.0L216.0 155.2L220.6 152.0L228.0 143.7L232.0 137.8L237.5 128.0L240.3 120.0L241.9 112.0L243.2 100.0L243.3 88.0L241.1 68.0L238.9 60.0L236.0 53.9L228.4 44.0L212.3 28.0L201.6 16.0L193.1 4.0L190.1 -4.0L189.4 -8.0L190.0 -16.0L192.0 -22.1L198.1 -36.0L200.1 -44.0L201.2 -60.0L200.7 -88.0L201.6 -96.0L205.6 -116.0L206.4 -124.0L206.7 -140.0L205.8 -152.0L202.8 -164.0L199.3 -172.0L194.4 -180.0L188.1 -188.0L168.0 -208.8L136.0 -235.2L124.0 -243.0L68.0 -270.8L48.0 -279.3L32.0 -283.2L8.0 -286.8L-4.0 -286.7L-12.0 -284.8Z" fill="#FDE0D0" stroke="#FDE0D0" stroke-width="0.6" fill-rule="evenodd"/>
<path d="M-13.8 -284.0L-4.0 -286.7L8.0 -286.8L32.0 -283.2L44.0 -280.5L52.0 -277.9L64.0 -272.7L122.0 -244.0L136.0 -235.2L168.0 -208.8L188.1 -188.0L194.4 -180.0L199.3 -172.0L202.8 -164.0L205.8 -152.0L206.7 -140.0L206.4 -124.0L205.6 -116.0L201.6 -96.0L200.7 -88.0L201.2 -60.0L200.1 -44.0L198.1 -36.0L192.0 -22.1L190.0 -16.0L189.4 -8.0L190.1 -4.0L193.1 4.0L201.6 16.0L212.3 28.0L228.4 44.0L236.0 53.9L238.9 60.0L241.1 68.0L243.3 88.0L243.2 100.0L241.9 112.0L240.3 120.0L237.5 128.0L232.0 137.8L228.0 143.7L220.6 152.0L216.0 155.2L212.0 157.0L204.0 158.6L196.0 158.0L188.0 155.1L180.0 149.9L160.0 133.9L136.0 112.1L124.0 98.0L104.0 77.3L100.0 71.9L97.4 64.0L97.1 60.0L99.6 44.0L99.5 40.0L98.5 36.0L88.0 20.0L86.7 16.0L86.2 12.0L87.3 0.0L86.8 -4.0L84.7 -8.0L80.0 -12.0L76.0 -13.8L72.0 -14.6L56.0 -13.7L52.0 -16.9L45.2 -28.0L41.9 -32.0L36.0 -36.7L32.0 -38.6L28.0 -39.6L20.0 -39.9L4.0 -37.8L-8.0 -40.0L-12.0 -39.2L-16.0 -36.9L-20.0 -32.7L-22.9 -28.0L-25.0 -24.0L-27.6 -16.0L-28.2 -12.0L-26.5 0.0L-28.0 8.7L-32.0 16.2L-44.0 29.6L-48.0 32.6L-52.0 34.1L-60.0 34.6L-68.0 33.0L-72.0 31.6L-78.5 28.0L-83.5 24.0L-87.1 20.0L-89.6 16.0L-91.2 12.0L-94.9 -4.0L-98.9 -12.0L-104.3 -20.0L-108.0 -28.0L-119.4 -80.0L-122.4 -88.0L-133.7 -112.0L-136.5 -120.0L-138.4 -128.0L-140.2 -144.0L-139.7 -160.0L-137.9 -172.0L-133.1 -192.0L-129.4 -204.0L-124.0 -215.5L-118.2 -224.0L-112.0 -230.0L-104.0 -234.9L-96.0 -237.9L-88.0 -239.9L-66.2 -244.0L-55.1 -248.0L-48.0 -253.6L-36.8 -268.0L-32.0 -273.0L-24.0 -279.1L-13.8 -284.0ZM28.0 -252.0L16.0 -249.2L8.0 -249.4L-4.0 -251.5L-8.0 -251.1L-12.0 -249.3L-16.0 -245.6L-25.2 -232.0L-29.1 -228.0L-32.0 -225.9L-40.0 -222.5L-56.0 -219.1L-68.0 -215.8L-84.0 -209.3L-92.0 -204.4L-100.0 -197.8L-108.0 -188.5L-112.0 -181.7L-116.1 -172.0L-120.5 -156.0L-121.7 -144.0L-120.7 -132.0L-118.6 -124.0L-115.2 -116.0L-102.2 -96.0L-98.2 -88.0L-95.7 -80.0L-90.9 -60.0L-84.0 -41.8L-80.0 -34.0L-76.0 -28.7L-72.0 -25.4L-69.0 -24.0L-64.0 -22.8L-60.0 -22.8L-48.0 -25.2L-42.2 -28.0L-37.3 -32.0L-32.4 -40.0L-28.0 -51.7L-25.3 -56.0L-20.0 -60.9L-12.0 -66.0L14.6 -80.0L28.0 -84.9L40.0 -87.2L48.0 -87.8L56.0 -87.4L64.0 -86.1L71.7 -84.0L76.0 -82.1L84.0 -76.9L92.0 -68.2L97.6 -60.0L99.7 -56.0L100.8 -52.0L100.6 -48.0L95.3 -36.0L94.9 -32.0L95.5 -28.0L99.6 -20.0L109.3 -8.0L116.0 4.5L120.0 7.6L128.0 9.4L140.0 9.8L148.0 8.1L152.6 4.0L156.0 -3.5L156.8 -8.0L156.7 -16.0L153.9 -32.0L152.5 -48.0L153.3 -68.0L155.6 -84.0L158.6 -92.0L161.2 -96.0L164.9 -100.0L176.0 -108.2L179.6 -112.0L182.0 -116.0L184.0 -122.1L184.8 -132.0L184.2 -144.0L181.8 -156.0L178.8 -164.0L171.6 -176.0L158.0 -192.0L149.5 -200.0L130.5 -216.0L120.0 -223.6L84.0 -241.3L56.0 -252.8L48.0 -254.7L44.0 -255.0L36.0 -254.2L28.0 -252.0ZM168.0 79.2L164.0 80.6L160.0 83.3L156.7 88.0L155.8 92.0L156.4 96.0L158.3 100.0L161.6 104.0L166.4 108.0L172.0 111.1L180.0 113.7L188.0 114.2L192.0 113.5L196.0 111.8L199.9 108.0L201.2 104.0L200.9 100.0L199.5 96.0L196.0 90.8L192.0 86.7L184.0 81.4L176.0 78.9L168.0 79.2Z" fill="#F9C8AB" stroke="#F9C8AB" stroke-width="0.6" fill-rule="evenodd"/>
<path d="M28.0 -252.0L36.0 -254.2L44.0 -255.0L48.0 -254.7L56.0 -252.8L84.0 -241.3L120.0 -223.6L130.5 -216.0L149.5 -200.0L158.0 -192.0L171.6 -176.0L178.8 -164.0L181.8 -156.0L184.2 -144.0L184.8 -132.0L184.0 -122.1L182.0 -116.0L179.6 -112.0L176.0 -108.2L164.9 -100.0L161.2 -96.0L158.6 -92.0L155.6 -84.0L153.3 -68.0L152.5 -48.0L153.9 -32.0L156.7 -16.0L156.8 -8.0L156.0 -3.5L152.6 4.0L148.0 8.1L140.0 9.8L128.0 9.4L120.0 7.6L116.0 4.5L109.3 -8.0L99.6 -20.0L95.5 -28.0L94.9 -32.0L95.3 -36.0L100.6 -48.0L100.8 -52.0L99.7 -56.0L97.6 -60.0L92.0 -68.2L84.0 -76.9L76.0 -82.1L71.7 -84.0L64.0 -86.1L56.0 -87.4L48.0 -87.8L40.0 -87.2L28.0 -84.9L14.6 -80.0L-12.0 -66.0L-20.0 -60.9L-25.3 -56.0L-28.0 -51.7L-32.4 -40.0L-37.3 -32.0L-42.2 -28.0L-48.0 -25.2L-60.0 -22.8L-64.0 -22.8L-69.0 -24.0L-72.0 -25.4L-76.0 -28.7L-80.0 -34.0L-84.0 -41.8L-90.9 -60.0L-95.7 -80.0L-98.2 -88.0L-102.2 -96.0L-115.2 -116.0L-118.6 -124.0L-120.7 -132.0L-121.7 -144.0L-120.5 -156.0L-116.1 -172.0L-112.0 -181.7L-108.0 -188.5L-100.0 -197.8L-92.0 -204.4L-84.0 -209.3L-68.0 -215.8L-56.0 -219.1L-40.0 -222.5L-32.0 -225.9L-29.1 -228.0L-25.2 -232.0L-16.0 -245.6L-12.0 -249.3L-8.0 -251.1L-4.0 -251.5L8.0 -249.4L16.0 -249.2L28.0 -252.0ZM-8.0 -224.1L-28.0 -211.0L-36.0 -207.8L-56.0 -201.7L-64.0 -197.6L-72.7 -192.0L-82.6 -184.0L-89.7 -176.0L-94.8 -168.0L-100.0 -156.7L-102.4 -148.0L-103.3 -140.0L-102.7 -132.0L-100.0 -122.5L-96.0 -115.4L-82.6 -100.0L-72.0 -85.8L-68.0 -81.4L-64.0 -78.6L-60.0 -77.3L-52.0 -77.4L-40.0 -79.9L-36.0 -81.3L-30.4 -84.0L-24.9 -88.0L-12.0 -100.8L-8.0 -103.2L10.0 -108.0L32.0 -116.4L40.0 -118.0L60.0 -119.1L68.0 -120.2L83.8 -124.0L104.0 -130.0L109.3 -132.0L116.4 -136.0L121.0 -140.0L124.0 -144.0L125.8 -148.0L126.5 -152.0L126.2 -156.0L125.1 -160.0L120.8 -168.0L111.3 -180.0L103.0 -188.0L93.3 -196.0L81.9 -204.0L68.0 -212.5L56.0 -218.6L44.0 -222.2L4.0 -225.9L-4.0 -225.5L-8.0 -224.1ZM165.6 80.0L172.0 78.7L180.0 79.8L188.0 83.7L192.0 86.7L197.0 92.0L199.5 96.0L200.9 100.0L201.2 104.0L199.9 108.0L196.0 111.8L192.0 113.5L184.0 114.2L174.2 112.0L168.0 109.0L164.0 106.1L158.3 100.0L156.4 96.0L155.8 92.0L156.7 88.0L159.3 84.0L165.6 80.0Z" fill="#F5AB84" stroke="#F5AB84" stroke-width="0.6" fill-rule="evenodd"/>
<path d="M-8.2 -224.0L-4.0 -225.5L4.0 -225.9L44.0 -222.2L56.0 -218.6L68.0 -212.5L81.9 -204.0L93.3 -196.0L103.0 -188.0L111.3 -180.0L120.8 -168.0L125.1 -160.0L126.2 -156.0L126.5 -152.0L125.8 -148.0L124.0 -144.0L121.0 -140.0L116.4 -136.0L109.3 -132.0L104.0 -130.0L83.8 -124.0L68.0 -120.2L60.0 -119.1L40.0 -118.0L32.0 -116.4L10.0 -108.0L-8.0 -103.2L-12.0 -100.8L-24.9 -88.0L-30.4 -84.0L-36.0 -81.3L-40.0 -79.9L-52.0 -77.4L-60.0 -77.3L-64.0 -78.6L-68.0 -81.4L-72.0 -85.8L-82.6 -100.0L-96.0 -115.4L-100.0 -122.5L-102.7 -132.0L-103.3 -140.0L-102.4 -148.0L-100.0 -156.7L-94.8 -168.0L-89.7 -176.0L-82.6 -184.0L-72.7 -192.0L-64.0 -197.6L-56.0 -201.7L-36.0 -207.8L-28.0 -211.0L-8.2 -224.0ZM-12.0 -201.5L-40.0 -188.0L-69.0 -168.0L-72.8 -164.0L-75.6 -160.0L-78.7 -152.0L-79.3 -148.0L-79.2 -144.0L-77.7 -140.0L-76.0 -137.9L-72.0 -135.9L-68.0 -136.0L-64.0 -137.1L-56.0 -141.9L-44.0 -152.8L-36.0 -158.2L-16.0 -165.6L-8.0 -167.4L12.0 -168.3L24.0 -167.5L36.0 -163.7L48.0 -156.6L52.0 -154.7L56.0 -153.7L60.0 -153.8L64.0 -155.1L68.8 -160.0L70.2 -164.0L70.2 -168.0L69.2 -172.0L67.0 -176.0L59.3 -184.0L48.0 -192.2L40.0 -195.4L8.0 -202.8L-4.0 -203.5L-12.0 -201.5Z" fill="#E48E6C" stroke="#E48E6C" stroke-width="0.6" fill-rule="evenodd"/>
<path d="M-15.4 -200.0L-8.0 -202.8L-4.0 -203.5L4.0 -203.4L40.0 -195.4L48.0 -192.2L59.3 -184.0L67.0 -176.0L69.2 -172.0L70.2 -168.0L70.2 -164.0L68.8 -160.0L64.0 -155.1L60.0 -153.8L56.0 -153.7L52.0 -154.7L48.0 -156.6L36.0 -163.7L24.0 -167.5L12.0 -168.3L-8.0 -167.4L-16.0 -165.6L-36.0 -158.2L-44.0 -152.8L-53.5 -144.0L-60.0 -139.1L-68.0 -136.0L-72.2 -136.0L-76.0 -137.9L-77.7 -140.0L-79.2 -144.0L-79.3 -148.0L-77.5 -156.0L-75.6 -160.0L-72.0 -165.0L-64.0 -171.7L-56.0 -176.6L-40.0 -188.0L-15.4 -200.0Z" fill="#D06C54" stroke="#D06C54" stroke-width="0.6" fill-rule="evenodd"/>
<path d="M-70.3 -266.2v0.6M-43.0 -266.2v0.6M-15.7 -266.2v0.6M11.6 -266.2v0.6M38.9 -266.2v0.6M66.2 -266.2v0.6M93.5 -266.2v0.6M-124.9 -238.9v0.6M-97.6 -238.9v0.6M-70.3 -238.9v0.6M-43.0 -238.9v0.6M-15.7 -238.9v0.6M11.6 -238.9v0.6M38.9 -238.9v0.6M66.2 -238.9v0.6M93.5 -238.9v0.6M120.8 -238.9v0.6M148.0 -238.9v0.6M-179.4 -211.7v0.6M-152.1 -211.7v0.6M-124.9 -211.7v0.6M-97.6 -211.7v0.6M-70.3 -211.7v0.6M-43.0 -211.7v0.6M-15.7 -211.7v0.6M11.6 -211.7v0.6M38.9 -211.7v0.6M66.2 -211.7v0.6M93.5 -211.7v0.6M120.8 -211.7v0.6M148.0 -211.7v0.6M175.3 -211.7v0.6M-206.7 -184.4v0.6M-179.4 -184.4v0.6M-152.1 -184.4v0.6M-124.9 -184.4v0.6M-97.6 -184.4v0.6M-70.3 -184.4v0.6M-43.0 -184.4v0.6M-15.7 -184.4v0.6M11.6 -184.4v0.6M38.9 -184.4v0.6M66.2 -184.4v0.6M93.5 -184.4v0.6M120.8 -184.4v0.6M148.0 -184.4v0.6M175.3 -184.4v0.6M202.6 -184.4v0.6M-234.0 -157.2v0.6M-206.7 -157.2v0.6M-179.4 -157.2v0.6M-152.1 -157.2v0.6M-124.9 -157.2v0.6M-97.6 -157.2v0.6M-70.3 -157.2v0.6M-43.0 -157.2v0.6M-15.7 -157.2v0.6M11.6 -157.2v0.6M38.9 -157.2v0.6M66.2 -157.2v0.6M93.5 -157.2v0.6M120.8 -157.2v0.6M148.0 -157.2v0.6M175.3 -157.2v0.6M202.6 -157.2v0.6M229.9 -157.2v0.6M-234.0 -129.9v0.6M-152.1 -129.9v0.6M-124.9 -129.9v0.6M-97.6 -129.9v0.6M-70.3 -129.9v0.6M-43.0 -129.9v0.6M-15.7 -129.9v0.6M11.6 -129.9v0.6M38.9 -129.9v0.6M66.2 -129.9v0.6M93.5 -129.9v0.6M120.8 -129.9v0.6M148.0 -129.9v0.6M175.3 -129.9v0.6M202.6 -129.9v0.6M229.9 -129.9v0.6M-261.3 -102.6v0.6M-124.9 -102.6v0.6M-97.6 -102.6v0.6M-70.3 -102.6v0.6M-43.0 -102.6v0.6M-15.7 -102.6v0.6M11.6 -102.6v0.6M38.9 -102.6v0.6M66.2 -102.6v0.6M93.5 -102.6v0.6M120.8 -102.6v0.6M148.0 -102.6v0.6M175.3 -102.6v0.6M202.6 -102.6v0.6M229.9 -102.6v0.6M257.2 -102.6v0.6M-261.3 -75.4v0.6M-97.6 -75.4v0.6M-70.3 -75.4v0.6M-43.0 -75.4v0.6M-15.7 -75.4v0.6M11.6 -75.4v0.6M38.9 -75.4v0.6M66.2 -75.4v0.6M93.5 -75.4v0.6M120.8 -75.4v0.6M148.0 -75.4v0.6M175.3 -75.4v0.6M202.6 -75.4v0.6M229.9 -75.4v0.6M257.2 -75.4v0.6M-261.3 -48.1v0.6M-70.3 -48.1v0.6M-43.0 -48.1v0.6M-15.7 -48.1v0.6M11.6 -48.1v0.6M38.9 -48.1v0.6M66.2 -48.1v0.6M93.5 -48.1v0.6M120.8 -48.1v0.6M148.0 -48.1v0.6M175.3 -48.1v0.6M202.6 -48.1v0.6M229.9 -48.1v0.6M257.2 -48.1v0.6M-206.7 -20.9v0.6M-97.6 -20.9v0.6M-70.3 -20.9v0.6M-43.0 -20.9v0.6M-15.7 -20.9v0.6M11.6 -20.9v0.6M38.9 -20.9v0.6M66.2 -20.9v0.6M93.5 -20.9v0.6M120.8 -20.9v0.6M148.0 -20.9v0.6M175.3 -20.9v0.6M202.6 -20.9v0.6M229.9 -20.9v0.6M257.2 -20.9v0.6M-206.7 6.4v0.6M-97.6 6.4v0.6M-70.3 6.4v0.6M-43.0 6.4v0.6M93.5 6.4v0.6M120.8 6.4v0.6M148.0 6.4v0.6M175.3 6.4v0.6M202.6 6.4v0.6M229.9 6.4v0.6M257.2 6.4v0.6M-179.4 33.7v0.6M-97.6 33.7v0.6M-70.3 33.7v0.6M-43.0 33.7v0.6M120.8 33.7v0.6M148.0 33.7v0.6M175.3 33.7v0.6M202.6 33.7v0.6M229.9 33.7v0.6M257.2 33.7v0.6M-206.7 60.9v0.6M-179.4 60.9v0.6M-152.1 60.9v0.6M-70.3 60.9v0.6M11.6 60.9v0.6M38.9 60.9v0.6M120.8 60.9v0.6M148.0 60.9v0.6M175.3 60.9v0.6M202.6 60.9v0.6M229.9 60.9v0.6M257.2 60.9v0.6M-179.4 88.2v0.6M-15.7 88.2v0.6M11.6 88.2v0.6M38.9 88.2v0.6M120.8 88.2v0.6M148.0 88.2v0.6M175.3 88.2v0.6M202.6 88.2v0.6M229.9 88.2v0.6M257.2 88.2v0.6M-43.0 115.4v0.6M-15.7 115.4v0.6M11.6 115.4v0.6M38.9 115.4v0.6M66.2 115.4v0.6M120.8 115.4v0.6M148.0 115.4v0.6M175.3 115.4v0.6M202.6 115.4v0.6M229.9 115.4v0.6M-70.3 142.7v0.6M-43.0 142.7v0.6M-15.7 142.7v0.6M11.6 142.7v0.6M38.9 142.7v0.6M66.2 142.7v0.6M93.5 142.7v0.6M175.3 142.7v0.6M202.6 142.7v0.6M229.9 142.7v0.6M-124.9 170.0v0.6M-97.6 170.0v0.6M-70.3 170.0v0.6M-43.0 170.0v0.6M-15.7 170.0v0.6M11.6 170.0v0.6M38.9 170.0v0.6M66.2 170.0v0.6M93.5 170.0v0.6M120.8 170.0v0.6M175.3 170.0v0.6M202.6 170.0v0.6M-152.1 197.2v0.6M-124.9 197.2v0.6M-97.6 197.2v0.6M-70.3 197.2v0.6M-43.0 197.2v0.6M-15.7 197.2v0.6M11.6 197.2v0.6M38.9 197.2v0.6M66.2 197.2v0.6M93.5 197.2v0.6M120.8 197.2v0.6M202.6 197.2v0.6M-97.6 224.5v0.6M-70.3 224.5v0.6M-43.0 224.5v0.6M-15.7 224.5v0.6M11.6 224.5v0.6M38.9 224.5v0.6M66.2 224.5v0.6M93.5 224.5v0.6M120.8 224.5v0.6M-43.0 251.7v0.6M-15.7 251.7v0.6M11.6 251.7v0.6M38.9 251.7v0.6M66.2 251.7v0.6M93.5 251.7v0.6" fill="none" stroke="#2b2b2b" stroke-opacity="0.88" stroke-width="5.4" stroke-linecap="square" filter="url(#dotblur)"/>
<path d="M48.0 -280.7L47.0 -272.2L43.4 -268.3L39.1 -265.4L35.0 -262.2L31.1 -260.4L27.6 -254.2L25.9 -251.1L23.3 -250.8L19.2 -255.0L13.4 -254.8L8.9 -256.1L3.1 -253.0L-3.5 -249.7L-12.9 -246.7L-21.5 -245.6L-29.9 -243.6L-36.4 -243.8L-41.6 -240.8L-44.1 -242.5L-46.8 -240.9L-45.8 -244.9L-47.0 -248.6L-49.2 -250.9L-48.4 -253.9L-45.5 -258.3L-48.7 -260.0L-52.3 -261.6L-58.1 -262.0L-61.7 -261.2L-69.1 -261.7L-74.4 -266.6L-84.3 -267.3L-92.2 -267.7L-95.8 -263.3L-93.5 -257.0L-98.6 -250.2L-105.3 -248.1L-110.3 -250.2L-117.4 -249.5L-125.7 -246.7L-134.7 -245.1L-138.6 -241.0L-142.3 -236.8L-148.5 -234.9L-153.7 -232.3L-156.0 -228.7L-155.9 -224.7L-154.3 -220.3L-152.6 -214.0L-151.9 -209.8L-148.6 -206.1L-146.7 -202.7L-146.5 -200.2L-144.2 -199.9L-140.9 -204.2L-138.8 -208.9L-135.9 -210.8L-131.8 -210.9L-125.8 -211.9L-126.0 -215.6L-123.2 -217.8L-117.7 -217.8L-113.2 -218.4L-110.5 -214.9L-106.4 -213.4L-106.1 -210.0L-102.4 -208.9L-101.6 -206.4L-102.4 -203.6L-105.6 -202.0L-110.5 -199.4L-111.2 -196.6L-109.0 -196.6L-108.8 -195.5L-113.8 -193.3L-118.2 -187.0L-121.2 -183.1L-126.0 -179.9L-132.2 -179.9L-138.4 -177.2L-144.5 -172.2L-147.2 -166.4L-144.8 -163.1L-140.7 -161.9L-135.7 -162.8L-129.4 -162.7L-126.2 -162.7L-121.2 -163.2L-122.6 -160.9L-122.7 -156.4L-120.3 -154.5L-122.5 -150.2L-119.3 -152.7L-117.0 -156.4L-113.7 -160.0L-114.0 -162.9L-117.8 -164.5L-119.8 -165.5L-117.8 -168.2L-116.0 -171.9L-113.9 -172.1L-110.7 -170.5L-108.7 -170.6L-108.5 -167.2L-105.9 -168.2L-102.9 -167.2L-100.5 -169.2L-100.2 -173.5L-100.7 -176.6L-100.1 -182.8L-99.9 -188.7L-100.2 -192.5L-103.4 -194.4L-107.6 -195.6L-105.5 -198.5L-102.8 -201.7L-102.1 -203.8L-101.3 -205.9L-99.5 -203.9L-95.2 -204.2L-93.1 -205.2L-91.6 -207.6L-93.2 -210.3L-90.4 -209.8L-88.3 -209.0L-88.4 -212.4L-91.3 -215.1L-91.0 -217.6L-97.0 -217.9L-98.1 -220.3L-96.0 -222.9L-96.0 -224.1L-96.7 -227.9L-95.4 -230.2L-91.3 -229.5L-88.2 -226.2L-87.4 -223.0L-83.9 -220.9L-80.3 -218.3L-75.9 -215.5L-74.5 -210.4L-72.2 -207.4L-67.6 -205.7L-59.8 -203.3L-54.8 -201.6L-51.5 -197.7L-50.1 -196.5L-49.2 -198.8L-47.5 -196.2L-47.6 -195.1L-43.4 -197.6L-43.7 -200.6L-46.0 -204.3L-49.4 -205.6L-53.4 -210.9L-58.8 -212.1L-61.4 -211.4L-65.2 -214.6L-70.1 -215.8L-72.8 -217.6L-72.6 -219.4L-66.6 -218.0L-65.8 -222.1L-69.6 -224.8L-68.1 -228.5L-66.5 -231.8L-64.7 -231.7L-65.5 -227.1L-61.9 -221.6L-58.0 -219.4L-55.4 -218.9L-52.2 -217.6L-47.1 -216.1L-42.3 -213.4L-39.1 -210.9L-37.2 -206.6L-33.2 -205.2L-31.7 -204.9L-28.2 -208.5L-25.8 -210.4L-22.4 -212.8L-19.7 -212.0L-14.8 -211.9L-11.9 -213.1L-11.7 -216.7L-12.3 -219.8L-8.6 -222.6L-3.6 -226.3L1.2 -232.7L-0.8 -236.9L2.1 -239.0L3.4 -242.7L9.1 -246.9L10.8 -247.3L19.0 -246.8L23.6 -249.7L26.2 -248.9L27.3 -247.1L29.8 -243.1L34.2 -243.6L38.1 -243.0L36.8 -237.8L38.7 -233.7L38.1 -230.1L35.4 -226.2L33.8 -221.2L33.4 -216.0L34.7 -211.7L30.7 -210.2L28.3 -209.0L22.2 -210.8L14.0 -211.5L6.7 -212.3L4.3 -206.3L3.9 -201.3L4.2 -198.3L7.4 -193.2L11.6 -190.0L14.3 -189.8L15.7 -186.7L12.6 -185.5L6.5 -186.3L5.2 -185.8L6.0 -180.9L0.6 -182.5L-0.3 -182.0L-4.7 -179.0L-4.9 -175.1L-9.1 -173.5L-10.5 -171.9L-12.1 -169.4L-13.6 -165.0L-15.6 -162.4L-19.9 -161.9L-22.5 -160.1L-24.3 -158.9L-23.8 -157.1L-23.3 -154.3L-21.6 -151.6L-20.9 -147.0L-21.8 -144.0L-24.9 -141.1L-26.3 -140.4L-26.6 -143.7L-26.8 -147.5L-26.1 -150.9L-27.2 -154.1L-28.0 -155.9L-30.5 -155.4L-30.3 -157.4L-33.5 -156.3L-35.5 -153.9L-38.0 -154.7L-39.7 -155.8L-43.9 -153.2L-49.1 -148.6L-50.8 -150.0L-53.4 -149.1L-53.4 -146.6L-54.8 -142.0L-53.2 -138.6L-53.1 -134.1L-54.7 -131.5L-58.3 -134.0L-59.4 -133.5L-58.8 -129.7L-57.9 -127.0L-55.1 -126.7L-54.2 -124.6L-56.4 -122.6L-59.0 -120.9L-63.4 -119.2L-64.3 -116.0L-66.9 -114.5L-63.6 -114.8L-61.8 -113.7L-59.0 -115.7L-55.5 -119.0L-52.0 -122.5L-48.8 -120.8L-46.4 -118.4L-44.7 -114.6L-43.4 -109.7L-45.4 -104.4L-46.9 -98.8L-43.9 -96.2L-41.3 -97.3L-40.1 -98.8L-40.0 -103.2L-39.8 -107.7L-37.0 -114.4L-36.2 -115.6L-37.7 -121.9L-38.9 -123.4L-41.9 -124.4L-42.1 -128.7L-40.4 -132.2L-40.8 -136.9L-41.7 -141.5L-40.3 -144.4L-37.8 -148.4L-35.1 -149.6L-34.4 -148.8L-32.8 -146.7L-30.9 -142.8L-29.5 -139.8L-26.7 -134.7L-24.8 -134.1L-24.6 -130.3L-24.2 -134.6L-19.6 -139.6L-17.2 -140.4L-13.4 -136.6L-11.8 -129.8L-11.0 -123.0L-13.0 -120.0L-17.2 -115.3L-19.5 -113.1L-20.9 -109.6L-22.6 -104.7L-22.9 -100.0L-24.6 -95.9L-25.3 -91.1L-23.0 -92.2L-24.6 -88.5L-28.8 -83.5L-32.3 -79.8L-33.7 -76.8L-35.7 -73.9L-39.0 -73.3L-43.9 -73.0L-44.2 -76.5L-48.8 -75.2L-51.9 -74.2L-61.0 -74.0L-66.2 -75.4L-67.1 -79.4L-64.4 -81.0L-58.9 -84.1L-53.5 -84.4L-58.6 -86.9L-62.4 -89.8L-67.2 -89.1L-70.4 -90.1L-72.2 -84.5L-68.8 -82.0L-69.3 -75.6L-69.1 -71.6L-63.9 -67.8L-69.0 -66.6L-71.0 -71.0L-74.1 -69.1L-72.5 -64.1L-73.3 -60.4L-74.8 -56.4L-76.9 -55.8L-76.1 -52.3L-79.0 -50.3L-79.6 -45.9L-76.9 -43.5L-82.2 -40.1L-87.8 -35.1L-84.5 -35.0L-80.1 -34.0L-75.9 -32.5L-72.7 -28.6L-69.3 -25.2L-71.2 -22.4L-76.6 -24.2L-83.2 -25.4L-89.8 -26.6L-95.7 -30.2L-97.0 -33.4L-97.1 -28.8L-92.4 -25.6L-85.7 -24.6L-79.4 -22.8L-75.5 -20.2L-74.0 -17.1L-78.9 -15.3L-84.1 -10.3L-77.2 -12.2L-70.5 -11.8L-71.4 -5.0L-64.9 -2.3L-60.4 4.2L-57.8 8.1L-51.5 13.1L-53.7 16.4L-56.2 22.7L-59.6 25.9L-64.3 26.0L-68.0 22.1L-67.9 28.8L-63.2 33.6L-62.5 39.1L-57.9 42.0L-58.6 48.3L-61.5 51.6L-61.3 55.2L-56.8 56.8L-53.8 59.7L-48.3 58.6L-45.2 59.9L-43.7 64.8L-39.0 66.2L-38.8 72.9L-33.9 76.2L-29.5 83.2L-24.6 85.7L-18.1 85.1L-14.5 86.7L-9.5 90.0L-6.1 87.2L-0.0 92.3L5.0 95.8L12.2 99.6L18.5 102.8L16.8 105.8L13.6 110.8L8.8 111.7L5.6 107.0L1.8 103.9L-1.9 109.3L-4.8 110.6L-1.0 118.4L-10.6 121.2L-16.7 126.5L-21.7 129.5L-26.9 129.3L-32.1 128.7L-34.7 125.2L-39.0 130.1L-43.7 134.5L-43.4 142.0L-48.1 147.9L-52.8 150.9L-56.5 155.1L-62.7 157.7L-68.8 160.6L-67.6 153.2L-65.2 143.8L-60.4 135.6L-53.0 131.2L-44.9 126.8L-41.2 123.2L-35.6 120.1L-31.6 116.5L-41.5 117.2L-45.7 119.1L-50.7 120.1L-55.9 119.8L-63.2 121.3L-65.4 117.0L-69.7 116.1L-77.7 110.9L-80.8 108.1L-87.6 108.1L-96.8 109.4L-102.1 108.9L-107.4 109.3L-110.7 112.6L-108.8 119.1L-103.9 123.9L-102.6 128.1L-106.2 132.6L-112.7 136.7L-117.8 141.9L-125.9 144.8L-133.4 148.1L-138.6 147.2L-143.7 148.8L-153.6 148.3L-158.9 145.6L-159.3 142.9L-165.3 142.2L-171.0 141.9L-174.7 144.0L-183.1 141.0L-185.9 144.2L-186.5 147.8L-188.5 153.8L-193.9 159.9L-198.9 161.6L-204.5 158.0L-209.5 155.0L-207.0 152.0L-201.8 149.9L-197.5 146.6L-195.4 143.0L-197.1 138.0L-192.0 136.0L-190.9 131.2L-190.7 129.6L-195.1 126.7L-200.9 123.6L-197.9 121.3L-191.6 120.6L-193.1 116.1L-199.6 114.3L-206.8 110.0L-208.3 109.4L-211.9 111.7L-212.0 117.1L-213.1 120.6L-209.1 123.2L-206.1 126.3L-205.4 131.4L-209.0 131.6L-216.3 126.9L-223.2 125.8L-225.0 131.5L-229.8 137.5L-232.6 143.7L-235.8 146.2L-237.9 148.1L-242.7 145.8L-241.5 150.9M-151.0 -122.3L-148.5 -129.1L-149.3 -132.1L-149.4 -139.4L-154.4 -141.5L-158.1 -144.9L-164.0 -146.1L-170.2 -146.9L-175.4 -145.6L-176.4 -151.7L-179.3 -156.4L-185.0 -158.0L-193.7 -154.1L-198.6 -146.9L-196.8 -143.0L-189.6 -139.3L-183.7 -138.4L-179.3 -135.6L-177.5 -133.7L-172.2 -132.1L-165.2 -132.8L-159.2 -132.1L-159.9 -127.2L-161.2 -121.5L-157.2 -118.4L-153.1 -119.6L-151.0 -122.3M-171.3 -94.9L-171.7 -101.2L-173.8 -107.4L-178.5 -109.4L-182.6 -107.6L-183.1 -101.5L-179.6 -97.5L-175.6 -94.2L-171.3 -94.9M-167.2 41.7L-161.4 44.7L-155.1 48.9L-149.3 51.4L-143.3 51.3L-145.4 52.6L-151.4 52.7L-156.7 51.8L-161.9 48.0L-165.5 44.3L-167.2 41.7M17.5 -178.2L13.0 -177.6L10.8 -176.3L7.4 -176.5L3.1 -175.6L-0.9 -175.7L-4.0 -174.2L-4.2 -172.7L-1.8 -172.3L-3.6 -170.8L-5.0 -167.4L-3.5 -165.5L-0.9 -165.1L-0.3 -162.7L0.3 -159.8L3.0 -157.4L3.8 -155.5L4.5 -152.6L6.8 -150.7L8.7 -150.6L7.3 -148.8L5.4 -146.0L5.0 -142.8L9.5 -142.5L9.9 -141.1L7.5 -138.5L12.1 -138.1L13.1 -140.8L14.6 -143.5L14.9 -146.3L15.5 -147.7L14.5 -151.1L15.3 -153.4L13.0 -151.2L13.8 -154.9L13.4 -156.4L9.8 -155.7L8.9 -159.6L8.5 -162.9L12.6 -163.1L13.0 -165.5L12.7 -168.9L15.4 -169.6L15.0 -171.1L11.7 -171.4L9.6 -172.5L9.1 -173.5L12.7 -173.3L14.4 -175.5L17.5 -178.2M29.0 -169.8L24.7 -169.0L18.8 -167.8L17.4 -162.7L17.0 -159.4L15.3 -156.2L16.7 -153.7L19.6 -152.9L22.0 -153.0L23.8 -157.1L27.6 -156.4L28.5 -160.1L25.7 -162.1L28.4 -164.5L30.3 -166.6L29.0 -169.8M38.0 -110.3L44.3 -105.9L44.8 -100.7L44.4 -97.5L40.3 -94.9L38.9 -98.8L35.7 -98.1L32.1 -98.9L28.3 -98.6L26.4 -101.5L25.7 -106.3L29.1 -108.7L33.6 -109.8L38.0 -110.3M-71.1 -45.3L-63.3 -49.5L-60.2 -46.2L-58.6 -42.6L-60.4 -40.0L-64.6 -43.9L-69.6 -44.4L-71.1 -45.3M-58.2 -41.5L-55.3 -38.0L-52.9 -33.7L-51.6 -27.4L-51.9 -21.5L-55.5 -21.9L-56.7 -28.9L-58.7 -35.3L-59.8 -39.2L-58.2 -41.5M-16.5 -55.6L-13.1 -52.4L-11.5 -49.7L-9.5 -46.5L-9.2 -43.1L-12.1 -42.3L-13.9 -40.4L-17.0 -42.0L-17.3 -45.2L-19.5 -47.1L-17.1 -51.2L-16.5 -55.6M-15.7 -43.0L-15.8 -39.2L-17.5 -37.5L-20.0 -39.2L-18.8 -42.2L-15.7 -43.0M-31.2 -29.1L-30.4 -25.5L-31.8 -20.7L-34.7 -18.4L-36.2 -20.9L-34.2 -24.9L-31.2 -29.1M-50.3 8.0L-46.5 4.1L-41.8 1.5L-37.8 3.6L-40.1 6.0L-43.2 8.4L-46.0 11.9L-49.1 11.8L-50.3 8.0M-44.3 49.2L-42.4 46.3L-39.5 45.4L-36.5 48.4L-36.2 51.8L-32.0 55.5L-33.9 56.4L-39.6 52.6L-44.3 49.2M-1.7 83.0L0.7 80.3L3.5 80.7L2.9 82.9L-1.7 83.0M-64.4 -230.7L-64.8 -236.7L-64.5 -239.0L-59.4 -238.1L-52.5 -237.0L-52.4 -234.3L-55.6 -233.5L-60.2 -232.9L-64.4 -230.7M-36.2 -220.8L-38.7 -224.1L-39.1 -231.0L-35.7 -233.1L-33.7 -228.1L-32.1 -223.0L-36.2 -220.8M-35.0 -211.6L-36.2 -216.6L-35.6 -219.9L-33.3 -217.6L-32.8 -214.1L-35.0 -211.6M-101.5 -232.3L-105.8 -232.2L-113.1 -228.7L-111.4 -231.4L-107.5 -233.8L-102.4 -234.3L-101.5 -232.3M-136.9 -216.6L-138.7 -213.5L-143.7 -208.2L-143.6 -212.9L-141.1 -217.2L-138.5 -218.2L-136.9 -216.6M-12.5 -230.2L-13.0 -233.3L-9.7 -232.5L-12.5 -230.2M-211.0 180.9L-204.8 181.2L-198.8 177.8L-198.4 172.4L-192.8 175.4L-186.7 180.3L-182.5 183.8L-184.8 190.0L-178.4 190.0L-172.6 193.1L-168.5 193.8L-165.4 195.7L-159.9 196.0L-155.5 191.3L-150.1 186.0L-142.9 182.9L-141.3 178.2L-139.0 174.1L-142.9 172.2L-145.2 173.0L-148.5 175.7L-152.2 180.1L-157.8 181.6L-165.4 180.5L-165.0 178.8L-169.1 180.1L-174.6 180.8L-178.7 180.6L-182.4 176.1L-185.8 173.3L-192.3 171.9L-196.7 171.0L-198.7 172.1L-202.0 170.7L-205.5 170.0L-207.1 172.5L-208.0 175.8L-211.4 178.7L-211.0 180.9M-187.5 181.1L-187.2 185.3L-190.8 185.6L-192.7 182.8L-197.0 183.1L-196.5 178.8L-191.8 178.9L-187.5 181.1M-142.8 170.2L-139.8 170.8L-137.2 169.5L-133.9 170.2L-131.6 175.9L-125.2 174.8L-120.3 175.7L-120.1 171.5L-123.6 167.1L-124.2 159.0L-125.4 158.8L-128.2 162.3L-133.2 166.2L-136.4 164.2L-139.8 166.0L-142.8 170.2M-122.7 157.1L-117.0 157.6L-116.0 152.8L-113.0 148.9L-107.1 149.0L-103.9 140.4L-100.1 134.3L-96.3 126.4L-100.1 128.2L-105.0 133.5L-110.3 141.7L-116.1 149.6L-120.8 154.1L-122.7 157.1M-117.1 173.6L-108.9 172.9M-102.2 173.5L-97.7 172.6M-91.2 171.6L-89.0 171.0M-79.4 166.5L-73.9 162.1L-70.6 160.8M256.4 124.0L247.0 123.7L240.9 123.3L232.6 124.7L225.9 128.9L223.6 131.7L216.9 131.3L210.6 131.1L203.8 129.8L196.2 130.8L188.1 128.8L181.4 123.8L175.5 119.7L169.6 115.7L164.4 110.9L156.3 107.8L154.1 106.7L158.0 102.6L162.6 103.6L158.7 101.5L153.1 100.2L147.4 102.5L138.6 106.3L132.2 104.4L126.6 103.6L121.0 103.0L114.2 102.1L106.9 99.7L100.1 98.0L95.1 96.4L97.0 100.4L96.5 102.1L91.5 101.7L86.2 102.0L81.4 104.2L74.8 106.8L69.5 107.0L69.1 112.7L64.2 118.2L62.4 113.9L63.3 109.7L61.0 114.7L59.8 121.5L59.8 127.1L58.5 131.4L55.3 140.3L49.1 146.6L42.5 151.1L45.4 146.8L49.3 143.0L53.6 136.0L54.1 130.7L54.0 127.2L49.4 128.6L44.0 131.5L41.1 126.6L35.3 127.4L30.3 121.6L31.2 116.6L32.6 113.8L37.8 109.8L36.3 105.5L28.1 108.0L22.2 104.3L28.5 99.5L32.4 99.7L30.1 96.2L24.0 92.8L21.9 89.2L25.7 84.0L28.3 79.9L32.0 74.7L39.2 73.7L45.2 72.3L52.3 69.5L57.1 68.0L63.2 66.6L65.2 60.8L67.3 54.5L72.0 50.4L74.7 50.4L76.5 45.0L80.6 42.1L84.9 39.6L87.7 40.9L90.9 33.1L92.6 24.8L92.2 16.3L96.1 11.8L93.2 9.0L86.4 9.8L80.0 7.0L82.4 4.3L86.9 3.0L91.4 -0.0L93.6 -3.3L88.9 -7.0L87.0 -12.2L95.0 -13.3L101.9 -11.6L103.7 -7.3L109.3 -4.8L113.9 -2.0L116.1 2.0L122.8 6.4L127.4 8.6L131.7 11.1L137.4 10.1L146.0 6.4L148.4 0.6L150.7 -5.3L154.0 -13.5L154.1 -20.8L163.4 -23.0L170.9 -28.6L164.4 -32.0L155.3 -28.8L150.6 -32.8L144.4 -34.7L140.5 -31.0L136.3 -27.7L129.0 -28.6L123.9 -27.3L119.0 -25.3L116.0 -33.3L118.8 -39.8L120.7 -43.9L129.4 -48.4L130.3 -52.6L125.0 -55.6L118.2 -56.1L123.7 -63.6L128.4 -69.7L132.7 -76.6L135.9 -84.9L134.9 -91.0L140.3 -95.7L144.9 -94.1L149.8 -91.7L154.6 -89.3L156.9 -83.4L160.5 -78.3L163.6 -71.5L171.6 -67.6L177.4 -66.3L183.5 -63.9L180.3 -65.6L173.9 -68.5L169.4 -72.5L166.3 -77.5L166.9 -80.7L171.6 -80.0L176.1 -82.1L178.2 -86.9L177.7 -92.5L176.7 -96.4L172.6 -97.7L169.0 -96.0L172.3 -100.3L177.8 -98.6L184.8 -91.8L192.9 -87.9L190.7 -84.1L183.5 -87.5L185.7 -82.7L189.0 -80.2L193.1 -76.9L198.4 -71.4L205.7 -70.8L207.8 -75.6L210.5 -71.2L213.4 -67.3L218.1 -62.5L224.6 -62.7L227.8 -61.0L232.7 -61.1L238.6 -59.5L247.6 -64.0L252.4 -58.3L257.1 -54.6L263.4 -48.8L270.1 -42.8L277.6 -42.0L281.5 -43.1M283.2 -29.8L283.4 -21.8L282.0 -17.2L282.8 -12.3L283.0 -7.4L283.1 -3.0L284.8 -0.5M284.3 17.4L284.7 19.4M259.0 118.6L251.8 116.4L250.2 114.5L256.7 109.5L262.7 109.9M156.4 103.2L153.2 106.1L146.7 108.5L140.9 109.7L137.9 108.9L141.1 106.3L146.7 103.5L152.3 102.3L156.4 103.2M128.0 111.7L121.7 111.5L116.9 109.0L119.7 106.6L123.4 109.6L128.0 111.7M64.0 132.4L61.2 130.1L63.8 126.3L66.6 126.4L65.7 130.5L64.0 132.4M40.9 152.5L37.3 156.4L33.5 160.2M31.6 162.5L26.5 163.7L22.0 166.5L17.1 168.0M10.4 170.5L5.1 171.2M-5.9 169.8L-10.7 167.9L-15.3 165.9L-20.2 164.3M16.6 114.0L20.3 115.3L22.8 115.3L19.1 114.1L16.6 114.0M28.9 128.0L31.7 129.3L32.3 126.7L28.9 128.0M141.7 -97.1L148.2 -95.2L154.7 -95.9L160.5 -95.7L164.5 -97.7L161.4 -102.8L161.3 -109.2L156.6 -117.6L152.2 -115.9L149.3 -112.5L146.7 -108.5L148.4 -102.0L144.5 -98.2L141.7 -97.1M162.5 -77.5L163.3 -81.4L162.1 -86.9L160.6 -83.6L162.5 -77.5M174.7 -85.2L174.2 -92.6L176.9 -91.7L177.8 -85.6L174.7 -85.2M218.1 -62.5L213.8 -69.5L213.2 -69.7L215.9 -66.4M195.2 7.2L192.4 2.9L190.3 -1.7L186.8 -4.9L185.2 -9.7L189.1 -16.5L194.4 -18.4L196.4 -12.0L194.7 -6.8L196.3 1.7L195.2 7.2M221.0 -9.6L214.3 -7.9L206.7 -9.0L199.9 -12.2L198.5 -17.4L203.7 -16.0L211.5 -13.3L219.2 -13.0L221.0 -9.6M198.4 -19.1L196.6 -25.9L197.7 -32.4L203.2 -35.8L203.5 -31.1L212.1 -28.3L208.0 -23.7L203.0 -23.5L199.4 -18.9L198.4 -19.1M219.7 -25.4L216.2 -32.3L211.6 -41.1L213.4 -39.6L219.3 -32.8L221.0 -27.9L219.7 -25.4M209.6 -37.7L205.7 -41.8L202.5 -49.0L205.9 -50.2L208.3 -44.3L209.6 -37.7M176.3 21.0L171.0 21.0L163.1 25.3L159.7 22.4L166.2 20.4L173.6 19.2L176.3 21.0M91.7 59.6L86.9 58.6L86.3 52.9L89.0 48.3L93.4 49.6L94.2 55.5L91.7 59.6M113.7 57.9L112.6 54.9L112.4 50.0L111.4 42.8L114.6 40.6L115.7 47.9L116.0 54.1L113.7 57.9M90.5 -96.4L92.6 -91.0L94.8 -85.4L93.9 -79.4L93.0 -74.2L89.7 -70.1L84.3 -62.4L79.2 -58.0L71.1 -57.5L72.6 -51.8L66.8 -48.5L62.6 -43.0L58.1 -37.8L53.8 -32.3L53.7 -26.2L55.5 -21.9L50.9 -18.0L47.4 -14.9L39.7 -16.9L34.6 -17.6L29.6 -17.8L24.8 -20.8L18.6 -22.1L14.6 -23.4L12.4 -26.6L12.4 -32.2L7.9 -35.8L12.6 -41.3L16.2 -47.0L17.8 -53.3L20.7 -56.9L20.6 -61.6L24.3 -64.9L28.2 -68.1L29.9 -72.2L31.8 -78.6L37.1 -77.7L40.1 -82.2L47.5 -82.3L55.4 -83.7L61.6 -84.8L66.4 -83.5L71.0 -83.2L76.2 -87.7L82.6 -91.1L87.3 -94.3L90.5 -96.4M112.3 -51.2L111.8 -41.8L109.2 -35.5L108.1 -30.3L109.2 -25.2L103.0 -29.5L98.1 -30.0L93.8 -28.7L90.7 -23.4L87.4 -17.8L84.7 -15.7L86.7 -6.8L82.5 -0.7L75.9 -0.7L70.5 -4.9L69.8 -11.1L72.7 -16.8L76.4 -24.8L79.8 -32.3L84.2 -35.7L87.8 -43.8L90.2 -49.0L97.9 -48.8L103.2 -48.1L107.2 -50.4L112.3 -51.2M117.3 -7.2L113.7 -7.0L108.0 -9.5L105.6 -11.1L108.3 -15.2L113.2 -19.3L116.6 -14.3L117.3 -7.2M85.9 37.3L79.8 39.8L75.2 39.1L69.9 38.7L65.9 35.0L66.1 29.4L70.1 25.5L71.3 20.4L77.8 20.1L85.4 16.6L89.4 19.0L88.3 25.3L86.8 31.6L85.9 37.3M68.9 44.7L63.4 45.7L57.9 39.8L57.6 35.3L64.3 31.4L66.1 37.4L68.9 41.4L68.9 44.7M80.3 12.0L74.3 15.8L68.9 13.4L69.6 9.2L74.1 8.4L80.3 12.0M77.9 6.1L73.3 7.7L68.6 6.0L70.2 0.6L75.0 2.6L77.9 6.1M92.6 13.8L89.3 14.9L87.6 11.5L91.0 8.8L92.6 13.8M66.1 -11.7L66.5 -4.7L65.8 2.3L58.9 6.2L57.0 2.0L59.3 -1.0L61.1 -6.4L61.4 -10.8L66.1 -11.7M58.5 -9.3L58.4 -1.0L51.8 -1.8L47.4 -3.3L41.0 -1.4L38.8 1.4L34.5 -1.2L29.1 -7.8L28.4 -12.6L30.5 -16.2L35.2 -16.4L40.6 -14.8L45.9 -12.3L50.3 -12.5L55.2 -10.7L58.5 -9.3M50.9 -1.8L47.4 2.5L40.8 4.3L37.5 2.0L41.0 -1.1L45.3 -2.0L50.9 -1.8M61.3 27.3L57.6 30.0L54.0 27.5L52.9 22.5L56.4 18.3L62.4 17.9L63.1 23.0L61.3 27.3M64.0 11.3L59.0 13.6L56.5 10.5L60.1 7.9L64.3 9.0L64.0 11.3M51.5 32.8L48.9 29.4L48.5 25.8L52.3 26.1L53.1 30.0L51.5 32.8M50.9 13.6L47.0 13.0L45.2 9.6L49.1 7.8L51.7 10.1L50.9 13.6M73.7 -14.3L70.5 -11.8L69.1 -14.7L71.5 -17.8L73.7 -14.3M14.9 -124.9L15.2 -120.7L13.4 -121.3L14.9 -124.9M3.0 -132.6L2.2 -128.5L3.9 -130.7L3.0 -132.6M-45.8 -139.3L-46.2 -134.2L-44.7 -136.7L-45.8 -139.3M-32.3 -152.1L-33.2 -148.6L-32.0 -146.9L-29.3 -149.4L-30.0 -151.6L-32.3 -152.1M-69.1 -61.2L-67.6 -58.2L-70.3 -58.4L-69.1 -61.2M-214.8 157.2L-212.0 159.1L-214.1 159.0L-214.8 157.2M245.9 -115.7L245.2 -115.9M105.4 -218.1L102.7 -218.2M79.7 -257.5L77.7 -257.5M66.3 7.0L63.6 7.8L62.1 5.4L63.5 3.3L65.7 4.0L66.3 7.0M50.3 21.9L47.4 21.1L48.7 17.7L51.0 19.1L50.3 21.9M46.9 19.9L44.5 18.9L45.9 16.7L47.7 17.9L46.9 19.9M51.3 7.2L47.9 6.7L49.1 4.3L51.6 5.4L51.3 7.2M121.3 -13.8L117.5 -14.4L118.0 -17.6L120.4 -16.9L121.3 -13.8M122.6 -21.0L119.3 -21.0L120.9 -22.8L122.6 -21.0M163.8 -23.6L162.1 -25.7L163.1 -28.2L163.8 -23.6M96.5 -22.3L93.4 -21.6L93.1 -24.9L95.9 -24.8L96.5 -22.3M70.3 20.8L67.5 19.4L69.2 17.9L70.3 20.8M54.9 30.4L53.2 28.9L54.9 28.6L54.9 30.4M62.7 16.8L61.2 15.8L62.3 15.0L62.7 16.8M53.6 15.4L51.2 14.2L52.8 13.2L53.6 15.4M57.4 14.8L55.8 13.9L56.9 13.1L57.4 14.8M72.4 -53.6L69.7 -49.7L68.5 -53.6L70.8 -55.7L72.4 -53.6M12.6 -82.0L11.4 -81.3M-53.0 -131.2L-51.9 -128.6L-54.8 -127.9L-54.7 -129.4L-53.0 -131.2M-42.3 -143.8L-42.3 -138.4M-39.7 -150.4L-39.9 -148.9M-26.9 -152.7L-27.3 -150.2L-29.0 -151.9L-26.9 -152.7M17.6 -141.3L15.3 -138.3L15.8 -140.6L17.6 -141.3M15.2 -144.9L16.2 -142.4L15.3 -143.0L15.2 -144.9M7.7 -137.1L6.6 -135.7M-160.8 180.4L-158.4 179.0M-68.3 -113.7L-65.2 -110.7L-63.7 -106.8L-68.1 -106.8L-71.1 -110.3L-68.3 -113.7M-73.8 -104.6L-70.2 -102.1L-67.6 -98.4L-72.3 -99.5L-75.5 -102.8L-73.8 -104.6M-30.0 -136.3L-31.2 -131.8L-33.2 -133.2L-31.8 -135.4L-30.0 -136.3M-188.7 -54.1L-192.4 -48.0L-191.9 -39.0L-193.5 -38.3L-194.0 -43.4L-194.4 -48.5L-195.4 -56.0L-191.4 -55.6L-188.7 -54.1M-211.3 -51.9L-210.9 -46.8L-212.6 -43.6L-213.3 -48.1L-211.3 -51.9M127.7 49.0L127.2 43.8L130.3 38.6L129.4 44.5L127.7 49.0M144.9 32.1L139.3 29.6L143.2 29.1L144.9 32.1M209.6 85.5L203.9 85.7L207.0 83.6L209.6 85.5M-174.1 -172.2L-170.3 -168.5L-173.9 -168.5L-174.1 -172.2M-162.0 -175.0L-161.7 -171.6L-164.1 -172.3L-162.0 -175.0M98.6 -33.0L95.7 -33.0L95.9 -35.3L98.3 -35.2L98.6 -33.0M93.5 -25.0L92.0 -25.5L92.6 -26.6L93.5 -25.0M89.9 -16.7L88.4 -17.2L89.2 -18.1L89.9 -16.7M114.2 -52.5L112.7 -52.6L113.2 -53.7L114.2 -52.5M148.3 -27.5L145.3 -28.2M66.5 -51.1L65.2 -49.1L64.5 -50.8L66.5 -51.1M31.1 -69.8L29.7 -68.4L28.9 -69.7L31.1 -69.8M-23.0 -36.0L-23.2 -35.4M-20.1 -51.1L-18.4 -48.0L-20.3 -46.7L-21.5 -49.5L-20.1 -51.1M-50.9 9.9L-48.1 8.5L-46.5 11.6L-48.8 13.1L-50.9 9.9M-46.8 55.8L-44.4 53.8L-43.0 56.0L-43.8 57.7L-46.8 55.8M-39.5 133.4L-37.0 130.7M-37.9 151.8L-36.5 149.7M-75.0 163.1L-71.8 161.4M-112.4 173.1L-105.7 172.5M-202.8 165.4L-199.7 164.0M-183.9 159.3L-183.7 159.4M-117.5 -222.8L-117.8 -219.6M-99.8 -218.9L-93.3 -216.6M-103.1 -211.5L-104.3 -209.2M-79.8 -219.1L-78.3 -217.4M-38.3 -212.6L-38.9 -212.0M-5.4 -235.8L-6.6 -234.7M-15.7 -230.0L-16.8 -229.4M-62.8 -244.5L-62.1 -243.6M-49.5 -259.3L-50.2 -258.0" fill="none" stroke="#666" stroke-width="1.8" stroke-linejoin="round" stroke-linecap="round"/>
<g fill="none" stroke="#000" stroke-width="2.7" stroke-linecap="round" stroke-linejoin="round">
<path d="M-46.1 281.0C-47.2 280.0 -50.4 276.8 -52.4 274.6C-54.4 272.3 -56.3 270.1 -58.1 267.6C-59.8 265.2 -61.4 262.7 -62.9 260.1C-64.3 257.4 -65.4 254.7 -66.6 251.9C-67.7 249.1 -68.6 246.3 -69.5 243.4C-70.4 240.5 -71.2 237.6 -72.0 234.7C-72.7 231.8 -73.4 228.9 -74.2 226.0C-74.9 223.1 -75.6 220.1 -76.4 217.2C-77.2 214.3 -77.9 211.4 -78.8 208.5C-79.7 205.7 -80.6 202.8 -81.5 200.0C-82.5 197.1 -83.6 194.3 -84.7 191.5C-85.9 188.8 -87.1 186.0 -88.4 183.3C-89.6 180.5 -90.9 177.8 -92.2 175.1C-93.5 172.4 -94.9 169.7 -96.3 167.1C-97.7 164.4 -99.1 161.8 -100.6 159.1C-102.0 156.5 -103.5 153.9 -105.0 151.3C-106.5 148.7 -108.1 146.1 -109.7 143.6C-111.2 141.0 -112.8 138.5 -114.4 135.9C-115.9 133.3 -117.5 130.7 -119.0 128.1C-120.4 125.5 -121.9 122.9 -123.2 120.2C-124.6 117.5 -125.8 114.7 -126.9 112.0C-128.0 109.2 -129.0 106.3 -129.8 103.5C-130.7 100.6 -131.3 97.7 -131.9 94.7C-132.5 91.8 -132.9 88.8 -133.3 85.8C-133.8 82.9 -134.1 79.9 -134.4 76.9C-134.8 73.9 -135.0 70.9 -135.4 67.9C-135.9 64.9 -136.3 62.0 -136.8 59.0C-137.4 56.1 -138.0 53.1 -138.6 50.2C-139.3 47.3 -140.1 44.4 -140.9 41.5C-141.8 38.6 -142.8 35.8 -143.8 32.9C-144.8 30.1 -145.8 27.3 -146.8 24.4C-147.8 21.6 -148.7 18.7 -149.7 15.9C-150.8 13.1 -151.7 10.2 -152.8 7.4C-153.8 4.6 -155.0 1.8 -156.1 -1.0C-157.2 -3.8 -158.4 -6.6 -159.4 -9.4C-160.5 -12.2 -161.6 -15.0 -162.5 -17.8C-163.4 -20.7 -164.1 -23.6 -164.7 -26.5C-165.4 -29.4 -165.9 -32.4 -166.5 -35.4C-167.1 -38.3 -167.7 -41.3 -168.2 -44.2C-168.8 -47.2 -169.3 -50.1 -169.8 -53.1C-170.3 -56.0 -170.8 -59.0 -171.2 -62.0C-171.6 -65.0 -172.0 -68.0 -172.4 -70.9C-172.7 -73.9 -173.2 -76.9 -173.4 -79.9C-173.6 -82.9 -173.7 -85.9 -173.7 -88.9C-173.6 -91.9 -173.5 -94.9 -173.1 -97.8C-172.8 -100.8 -172.2 -103.7 -171.3 -106.5C-170.4 -109.3 -169.2 -112.1 -167.8 -114.7C-166.5 -117.4 -164.8 -119.9 -163.1 -122.3C-161.4 -124.8 -159.6 -127.2 -157.8 -129.6C-156.0 -132.1 -154.3 -134.5 -152.5 -136.9C-150.8 -139.4 -149.1 -141.9 -147.3 -144.3C-145.6 -146.8 -143.9 -149.2 -142.1 -151.7C-140.4 -154.1 -138.6 -156.6 -136.9 -159.0C-135.1 -161.4 -133.3 -163.9 -131.5 -166.3C-129.8 -168.7 -128.0 -171.1 -126.1 -173.5C-124.2 -175.8 -122.3 -178.1 -120.3 -180.4C-118.3 -182.6 -116.3 -184.9 -114.3 -187.1C-112.2 -189.3 -110.2 -191.4 -108.0 -193.5C-105.8 -195.6 -103.6 -197.6 -101.4 -199.6C-99.1 -201.6 -96.9 -203.6 -94.5 -205.5C-92.2 -207.4 -89.8 -209.3 -87.4 -211.0C-85.0 -212.8 -82.5 -214.6 -80.0 -216.2C-77.5 -217.9 -75.1 -219.6 -72.4 -221.0C-69.8 -222.5 -67.1 -223.8 -64.4 -225.1C-61.7 -226.4 -59.0 -227.7 -56.2 -228.8C-53.4 -229.9 -50.6 -230.9 -47.7 -231.7C-44.9 -232.5 -41.9 -233.1 -39.0 -233.7C-36.0 -234.4 -33.1 -235.0 -30.1 -235.4C-27.1 -235.8 -24.2 -236.1 -21.2 -236.3C-18.2 -236.5 -15.2 -236.5 -12.2 -236.6C-9.2 -236.7 -6.1 -236.7 -3.1 -236.8C-0.1 -236.9 2.9 -237.0 5.9 -237.0C8.9 -237.0 11.9 -237.1 14.9 -237.1C17.9 -237.1 20.9 -237.0 23.9 -237.0C26.9 -236.9 29.9 -236.9 32.9 -236.8C35.9 -236.6 38.9 -236.4 41.9 -236.1C44.9 -235.8 47.9 -235.4 50.9 -235.0C53.8 -234.5 56.8 -234.2 59.8 -233.6C62.7 -233.0 65.6 -232.3 68.5 -231.5C71.4 -230.6 74.2 -229.7 77.1 -228.7C79.9 -227.8 82.8 -226.8 85.6 -225.8C88.4 -224.8 91.3 -223.8 94.1 -222.8C96.9 -221.7 99.7 -220.7 102.5 -219.6C105.3 -218.5 108.2 -217.4 110.9 -216.3C113.7 -215.1 116.5 -213.9 119.2 -212.7C122.0 -211.5 124.7 -210.2 127.4 -208.9C130.1 -207.6 132.7 -206.1 135.3 -204.7C137.9 -203.2 140.5 -201.7 143.1 -200.0C145.6 -198.4 148.1 -196.8 150.5 -195.0C152.9 -193.3 155.2 -191.3 157.5 -189.4C159.8 -187.4 162.0 -185.4 164.2 -183.3C166.4 -181.2 168.4 -179.1 170.5 -176.9C172.5 -174.7 174.5 -172.4 176.5 -170.2C178.5 -167.9 180.5 -165.6 182.4 -163.3C184.3 -161.0 186.2 -158.7 188.1 -156.3C190.0 -154.0 191.9 -151.6 193.7 -149.3C195.6 -146.9 197.5 -144.6 199.4 -142.3C201.2 -139.9 203.1 -137.6 205.0 -135.2C206.9 -132.9 208.8 -130.5 210.6 -128.2C212.5 -125.8 214.4 -123.5 216.3 -121.1C218.1 -118.8 220.0 -116.4 221.9 -114.1C223.8 -111.7 225.7 -109.4 227.5 -107.0C229.4 -104.7 231.3 -102.3 233.2 -100.0C235.1 -97.6 236.9 -95.3 238.8 -92.9C240.7 -90.6 242.6 -88.2 244.4 -85.9C246.3 -83.5 248.1 -81.2 250.0 -78.8C251.8 -76.4 253.7 -74.0 255.4 -71.6C257.2 -69.2 258.9 -66.7 260.5 -64.1C262.0 -61.6 263.5 -59.0 264.7 -56.2C265.9 -53.5 267.0 -50.7 267.6 -47.8C268.2 -45.0 268.5 -42.0 268.3 -39.1C268.1 -36.2 267.4 -33.2 266.3 -30.6C265.3 -27.9 263.8 -25.2 262.0 -23.0C260.2 -20.8 257.9 -18.6 255.5 -17.3C253.1 -15.9 250.2 -14.8 247.5 -14.7C244.8 -14.5 241.9 -15.3 239.3 -16.3C236.6 -17.3 234.1 -19.1 231.7 -20.8C229.3 -22.5 227.1 -24.7 224.9 -26.6C222.6 -28.6 220.5 -30.8 218.1 -32.6C215.8 -34.5 213.4 -36.4 210.9 -37.8C208.3 -39.2 205.6 -40.5 202.8 -41.3C200.0 -42.0 196.9 -42.4 194.1 -42.3C191.3 -42.1 188.5 -41.4 186.0 -40.1C183.5 -38.9 181.2 -36.9 179.1 -34.8C177.1 -32.8 175.3 -30.3 173.6 -27.8C172.0 -25.4 170.5 -22.7 169.3 -20.0C168.1 -17.3 167.0 -14.4 166.3 -11.6C165.5 -8.7 165.0 -5.7 164.8 -2.8C164.7 0.1 165.0 3.1 165.6 6.0C166.2 8.8 167.2 11.7 168.4 14.4C169.6 17.1 171.0 19.7 172.8 22.1C174.6 24.4 176.7 26.5 178.9 28.3C181.2 30.1 183.9 31.6 186.5 32.9C189.2 34.2 192.0 35.2 194.9 36.1C197.7 37.0 200.7 37.7 203.6 38.3C206.5 38.9 209.5 39.3 212.5 39.8C215.4 40.3 218.4 40.7 221.3 41.4C224.2 42.2 227.1 43.0 229.7 44.3C232.3 45.6 234.7 47.3 236.8 49.3C238.8 51.4 240.5 53.9 241.9 56.4C243.3 59.0 244.3 61.9 245.1 64.7C245.9 67.6 246.4 70.5 246.8 73.5C247.2 76.5 247.3 79.5 247.3 82.5C247.3 85.4 247.1 88.5 246.9 91.4C246.7 94.4 246.4 97.4 246.0 100.4C245.6 103.4 245.0 106.3 244.4 109.3C243.8 112.2 243.2 115.2 242.5 118.1C241.9 121.0 241.1 123.9 240.4 126.9C239.7 129.8 239.0 132.7 238.2 135.6C237.5 138.5 236.8 141.4 236.1 144.4C235.3 147.3 234.6 150.2 233.9 153.1C233.3 156.1 232.5 159.5 232.0 161.9C231.5 164.4 231.1 166.9 230.9 167.8"/>
<path d="M41.9 281.0C40.6 280.4 36.4 278.7 33.7 277.4C31.0 276.1 28.4 274.7 25.8 273.2C23.2 271.6 20.8 269.8 18.3 268.3C15.7 266.8 13.0 265.4 10.3 264.2C7.6 263.0 4.6 262.3 1.9 261.1C-0.8 259.9 -3.5 258.6 -6.0 257.0C-8.4 255.4 -10.7 253.5 -12.9 251.5C-15.2 249.5 -17.2 247.3 -19.2 245.0C-21.2 242.8 -23.0 240.4 -24.8 238.0C-26.5 235.5 -28.1 233.0 -29.5 230.4C-31.0 227.8 -32.4 225.1 -33.6 222.4C-34.9 219.6 -35.9 216.8 -37.0 214.0C-38.1 211.2 -39.2 208.4 -40.2 205.6C-41.3 202.8 -42.3 200.0 -43.4 197.1C-44.4 194.3 -45.5 191.5 -46.6 188.7C-47.6 185.9 -48.7 183.1 -49.8 180.3C-51.0 177.5 -52.2 174.8 -53.5 172.0C-54.7 169.3 -56.1 166.6 -57.6 164.0C-59.0 161.4 -60.6 158.9 -62.3 156.4C-63.9 153.9 -65.7 151.4 -67.4 148.9C-69.1 146.5 -70.7 143.9 -72.3 141.4C-74.0 138.9 -75.5 136.3 -77.1 133.8C-78.7 131.2 -80.3 128.7 -81.9 126.1C-83.5 123.6 -85.1 121.0 -86.6 118.4C-88.1 115.8 -89.6 113.2 -91.0 110.5C-92.3 107.9 -93.7 105.2 -94.9 102.4C-96.2 99.7 -97.3 96.9 -98.4 94.1C-99.6 91.4 -100.6 88.5 -101.7 85.7C-102.7 82.9 -103.8 80.1 -104.8 77.3C-105.9 74.4 -106.9 71.6 -107.9 68.8C-109.0 66.0 -110.0 63.1 -111.0 60.3C-112.0 57.5 -113.0 54.6 -114.0 51.8C-115.0 49.0 -115.9 46.1 -116.9 43.3C-117.9 40.4 -118.9 37.6 -119.9 34.8C-120.9 31.9 -121.8 29.1 -122.7 26.2C-123.6 23.3 -124.5 20.4 -125.4 17.6C-126.2 14.7 -127.1 11.8 -128.0 8.9C-128.9 6.1 -129.8 3.2 -130.8 0.3C-131.7 -2.5 -132.6 -5.4 -133.5 -8.2C-134.5 -11.1 -135.3 -14.0 -136.2 -16.9C-137.0 -19.7 -137.8 -22.7 -138.6 -25.6C-139.4 -28.5 -140.1 -31.4 -140.9 -34.3C-141.6 -37.2 -142.4 -40.1 -143.1 -43.0C-143.7 -46.0 -144.3 -48.9 -144.8 -51.9C-145.3 -54.8 -145.8 -57.8 -146.3 -60.8C-146.8 -63.7 -147.3 -66.7 -147.6 -69.7C-147.8 -72.6 -147.9 -75.6 -147.8 -78.6C-147.7 -81.6 -147.4 -84.6 -146.9 -87.5C-146.5 -90.5 -145.8 -93.4 -144.9 -96.2C-144.0 -99.0 -142.8 -101.8 -141.5 -104.5C-140.3 -107.2 -138.8 -109.8 -137.3 -112.4C-135.8 -115.0 -134.1 -117.5 -132.4 -120.0C-130.8 -122.5 -129.1 -125.0 -127.4 -127.5C-125.7 -130.0 -123.9 -132.4 -122.2 -134.9C-120.5 -137.4 -118.8 -139.8 -117.0 -142.2C-115.2 -144.7 -113.4 -147.0 -111.4 -149.3C-109.5 -151.7 -107.5 -153.9 -105.5 -156.1C-103.5 -158.4 -101.5 -160.6 -99.4 -162.8C-97.3 -164.9 -95.1 -167.0 -92.9 -169.0C-90.7 -171.1 -88.5 -173.1 -86.2 -175.0C-83.9 -177.0 -81.6 -178.9 -79.2 -180.7C-76.9 -182.6 -74.4 -184.3 -72.0 -186.1C-69.5 -187.8 -67.1 -189.5 -64.5 -191.1C-62.0 -192.7 -59.4 -194.2 -56.7 -195.6C-54.1 -197.0 -51.3 -198.2 -48.6 -199.5C-45.9 -200.7 -43.1 -202.0 -40.3 -203.1C-37.5 -204.2 -34.7 -205.1 -31.9 -206.0C-29.0 -206.9 -26.1 -207.7 -23.2 -208.5C-20.3 -209.2 -17.3 -209.9 -14.4 -210.5C-11.5 -211.1 -8.5 -211.5 -5.5 -212.0C-2.5 -212.4 0.4 -212.9 3.4 -213.2C6.4 -213.6 9.4 -214.0 12.4 -214.2C15.4 -214.4 18.4 -214.4 21.4 -214.5C24.4 -214.5 27.4 -214.5 30.4 -214.5C33.4 -214.4 36.4 -214.3 39.4 -214.1C42.4 -214.0 45.4 -213.6 48.4 -213.3C51.4 -213.0 54.4 -212.7 57.3 -212.2C60.3 -211.8 63.2 -211.2 66.2 -210.6C69.1 -209.9 72.0 -209.1 74.9 -208.3C77.8 -207.4 80.6 -206.6 83.5 -205.6C86.3 -204.7 89.2 -203.7 92.0 -202.6C94.8 -201.5 97.6 -200.4 100.3 -199.2C103.1 -198.0 105.9 -196.9 108.5 -195.5C111.2 -194.2 113.8 -192.7 116.4 -191.1C119.0 -189.6 121.5 -188.0 123.9 -186.2C126.4 -184.5 128.8 -182.8 131.1 -180.9C133.4 -179.0 135.6 -176.9 137.7 -174.8C139.9 -172.7 142.0 -170.5 143.9 -168.3C145.9 -166.0 147.7 -163.6 149.4 -161.1C151.1 -158.7 152.6 -156.1 154.0 -153.4C155.4 -150.8 156.7 -148.1 157.7 -145.3C158.8 -142.5 159.8 -139.6 160.3 -136.7C160.8 -133.9 161.2 -130.9 160.9 -128.0C160.7 -125.2 160.0 -122.2 158.9 -119.6C157.8 -117.0 156.0 -114.6 154.2 -112.3C152.4 -110.0 150.2 -107.8 148.0 -105.8C145.8 -103.8 143.4 -102.0 141.1 -100.0C138.8 -98.1 136.4 -96.2 134.2 -94.2C131.9 -92.2 129.7 -90.2 127.6 -88.1C125.5 -85.9 123.5 -83.7 121.7 -81.3C119.8 -79.0 118.1 -76.5 116.7 -73.9C115.2 -71.3 114.1 -68.6 113.0 -65.8C111.9 -63.0 111.1 -60.1 110.1 -57.2C109.2 -54.4 108.4 -51.5 107.3 -48.7C106.1 -46.0 104.9 -43.2 103.2 -40.8C101.6 -38.5 99.6 -36.2 97.3 -34.4C95.1 -32.6 92.5 -31.1 89.8 -30.0C87.1 -28.8 84.1 -28.1 81.2 -27.7C78.3 -27.2 75.3 -27.1 72.4 -27.3C69.4 -27.4 66.4 -27.9 63.7 -28.8C60.9 -29.7 58.1 -31.0 55.6 -32.5C53.1 -34.0 50.9 -36.0 48.7 -38.0C46.5 -40.0 44.5 -42.4 42.4 -44.4C40.3 -46.4 38.3 -48.9 36.0 -50.1C33.7 -51.2 31.2 -51.8 28.6 -51.5C26.1 -51.2 23.2 -49.9 20.7 -48.5C18.2 -47.1 15.8 -45.2 13.8 -43.1C11.8 -41.0 10.2 -38.4 8.6 -35.9C7.1 -33.4 6.0 -30.6 4.5 -28.0C3.0 -25.5 1.2 -23.1 -0.6 -20.8C-2.3 -18.5 -4.8 -16.6 -6.2 -14.2C-7.6 -11.8 -8.6 -9.2 -9.0 -6.5C-9.3 -3.8 -9.0 -0.6 -8.2 2.0C-7.3 4.7 -5.8 7.3 -3.9 9.2C-2.0 11.2 0.7 12.6 3.3 13.8C5.9 15.0 9.0 15.6 11.8 16.4C14.7 17.3 17.6 17.9 20.4 19.0C23.2 20.0 26.0 21.2 28.6 22.6C31.3 23.9 33.9 25.5 36.5 27.0C39.0 28.6 41.6 30.2 44.1 31.8C46.7 33.3 49.3 34.9 51.9 36.4C54.5 37.9 57.1 39.4 59.8 40.8C62.4 42.2 65.1 43.6 67.8 44.9C70.4 46.3 73.1 47.6 75.8 49.0C78.5 50.3 81.2 51.7 83.9 53.0C86.6 54.3 89.3 55.6 92.1 56.8C94.8 57.9 97.7 59.0 100.5 60.1C103.3 61.1 106.1 62.1 109.0 63.1C111.8 64.0 114.7 65.0 117.6 65.8C120.4 66.7 123.3 67.5 126.2 68.3C129.1 69.1 132.1 69.8 135.0 70.5C137.9 71.3 140.8 72.0 143.7 72.7C146.6 73.5 149.6 74.2 152.4 75.0C155.3 75.8 158.2 76.6 161.1 77.5C164.0 78.4 166.8 79.3 169.7 80.3C172.5 81.3 175.4 82.3 178.2 83.4C181.0 84.5 183.8 85.6 186.5 86.8C189.2 88.1 192.0 89.3 194.4 91.0C196.9 92.6 199.3 94.4 201.3 96.5C203.3 98.6 205.1 101.1 206.4 103.6C207.8 106.2 208.8 109.1 209.5 111.9C210.2 114.8 210.5 117.8 210.7 120.7C210.9 123.7 210.9 126.7 210.8 129.7C210.7 132.7 210.4 135.7 210.1 138.7C209.8 141.7 209.4 144.7 209.0 147.7C208.5 150.6 208.0 153.6 207.4 156.5C206.8 159.5 206.2 162.4 205.6 165.4C204.9 168.3 204.2 171.2 203.5 174.1C202.8 177.1 202.1 180.0 201.3 182.9C200.6 185.8 199.9 188.7 199.1 191.6C198.4 194.6 197.6 198.0 197.0 200.4C196.3 202.8 195.7 205.3 195.5 206.2"/>
<path d="M0.6 -154.5C2.0 -155.2 6.2 -157.3 9.0 -158.6C11.7 -160.0 14.5 -161.5 17.3 -162.8C20.1 -164.0 23.0 -165.4 25.9 -166.3C28.9 -167.1 32.0 -167.4 35.1 -167.6C38.2 -167.8 41.3 -167.6 44.4 -167.3C47.4 -166.9 50.8 -166.6 53.5 -165.6C56.3 -164.6 59.8 -163.4 60.9 -161.4C62.0 -159.3 61.1 -155.8 60.1 -153.3C59.1 -150.7 57.1 -148.1 54.9 -146.1C52.7 -144.2 49.7 -142.9 46.9 -141.5C44.1 -140.1 41.2 -139.0 38.3 -137.9C35.4 -136.8 32.5 -135.8 29.5 -134.9C26.5 -134.1 23.5 -133.3 20.4 -132.8C17.4 -132.4 14.2 -132.0 11.2 -132.2C8.2 -132.5 4.7 -132.9 2.3 -134.3C-0.1 -135.7 -2.3 -139.2 -3.4 -140.7C-4.5 -142.3 -4.2 -143.2 -4.3 -143.6"/>
<path d="M8.3 -198.0C6.4 -197.6 2.7 -197.1 -0.2 -196.5C-3.0 -196.0 -6.0 -195.5 -9.0 -194.8C-11.9 -194.1 -14.8 -193.4 -17.7 -192.5C-20.6 -191.7 -23.5 -190.9 -26.3 -189.9C-29.1 -188.9 -31.9 -187.8 -34.6 -186.6C-37.4 -185.4 -40.1 -184.2 -42.8 -182.8C-45.5 -181.5 -48.2 -180.1 -50.7 -178.6C-53.3 -177.0 -55.8 -175.3 -58.2 -173.6C-60.7 -171.9 -63.2 -170.2 -65.5 -168.3C-67.9 -166.5 -70.2 -164.5 -72.4 -162.5C-74.6 -160.5 -76.7 -158.4 -78.8 -156.2C-80.9 -154.1 -83.0 -151.9 -85.0 -149.7C-87.0 -147.4 -88.8 -145.1 -90.7 -142.7C-92.5 -140.3 -94.2 -137.9 -96.0 -135.4C-97.8 -133.0 -99.6 -130.6 -101.3 -128.1C-103.1 -125.7 -104.8 -123.3 -106.6 -120.8C-108.3 -118.3 -110.0 -115.9 -111.5 -113.3C-113.1 -110.8 -114.5 -108.1 -115.9 -105.4C-117.2 -102.8 -118.6 -100.1 -119.8 -97.3C-120.9 -94.6 -122.0 -91.8 -122.9 -88.9C-123.7 -86.1 -124.5 -83.1 -125.1 -80.2C-125.6 -77.3 -126.0 -74.4 -126.1 -71.4C-126.2 -68.4 -125.9 -65.4 -125.7 -62.5C-125.5 -59.5 -125.1 -56.5 -124.8 -53.5C-124.4 -50.5 -124.1 -47.5 -123.6 -44.6C-123.0 -41.6 -122.3 -38.7 -121.6 -35.8C-120.9 -32.9 -120.1 -30.0 -119.3 -27.1C-118.5 -24.2 -117.8 -21.3 -117.0 -18.4C-116.2 -15.5 -115.3 -12.6 -114.5 -9.7C-113.7 -6.8 -112.9 -3.9 -112.0 -1.0C-111.1 1.8 -110.2 4.7 -109.2 7.5C-108.2 10.4 -107.2 13.2 -106.1 16.0C-105.0 18.8 -103.8 21.5 -102.5 24.3C-101.3 27.0 -100.0 29.7 -98.5 32.3C-97.0 34.9 -95.4 37.4 -93.6 39.8C-91.9 42.3 -89.9 44.5 -88.0 46.9C-86.1 49.2 -84.2 51.5 -82.3 53.8C-80.4 56.1 -78.4 58.4 -76.5 60.7C-74.6 63.0 -72.6 65.3 -70.8 67.7C-69.1 70.1 -67.4 72.6 -66.0 75.2C-64.5 77.8 -63.4 80.6 -62.3 83.4C-61.3 86.2 -60.5 89.1 -59.7 92.0C-59.0 94.9 -58.4 97.8 -57.8 100.8C-57.2 103.7 -56.7 106.7 -56.1 109.6C-55.4 112.5 -54.8 115.5 -54.0 118.4C-53.2 121.3 -52.3 124.1 -51.3 127.0C-50.3 129.8 -49.2 132.6 -48.0 135.3C-46.8 138.0 -45.4 140.7 -44.0 143.4C-42.6 146.0 -41.1 148.7 -39.7 151.3C-38.2 153.9 -36.8 156.5 -35.3 159.2C-33.9 161.8 -32.6 164.5 -31.2 167.2C-29.8 169.9 -28.5 172.5 -27.0 175.2C-25.6 177.8 -24.2 180.5 -22.6 183.0C-21.0 185.6 -19.4 188.1 -17.6 190.5C-15.8 192.9 -13.9 195.2 -11.9 197.4C-9.8 199.6 -7.6 201.6 -5.4 203.6C-3.2 205.6 -0.8 207.5 1.5 209.4C3.8 211.3 6.2 213.2 8.5 215.1C10.8 217.0 13.1 218.9 15.5 220.7C17.9 222.6 20.3 224.4 22.7 226.2C25.1 228.0 27.5 229.7 30.1 231.4C32.6 233.0 35.2 234.5 37.8 236.0C40.4 237.5 43.0 238.9 45.7 240.3C48.4 241.6 51.1 242.8 53.9 244.0C56.6 245.2 59.4 246.3 62.3 247.3C65.1 248.4 67.9 249.3 70.8 250.2C73.7 251.1 76.6 251.8 79.5 252.5C82.4 253.1 85.4 253.7 88.3 254.1C91.3 254.5 94.3 254.8 97.3 254.9C100.3 255.0 103.3 255.1 106.2 254.8C109.2 254.5 112.1 254.0 115.0 253.3C117.9 252.6 120.8 251.7 123.6 250.6C126.3 249.5 129.1 248.3 131.7 246.9C134.4 245.5 136.9 243.9 139.4 242.3C141.8 240.6 144.2 238.6 146.4 236.7C148.7 234.7 150.9 232.7 153.0 230.5C155.0 228.4 157.0 226.1 159.0 223.8C160.9 221.5 162.8 219.2 164.5 216.7C166.2 214.3 167.9 211.8 169.5 209.2C171.0 206.7 172.5 204.1 173.9 201.4C175.3 198.7 176.6 196.0 177.7 193.3C178.8 190.5 179.9 187.7 180.7 184.8C181.6 181.9 182.3 179.0 182.8 176.1C183.3 173.1 183.6 170.2 183.7 167.2C183.9 164.2 183.8 161.2 183.6 158.2C183.4 155.2 183.0 152.2 182.5 149.3C182.0 146.3 181.3 143.4 180.4 140.6C179.5 137.7 178.4 135.0 177.0 132.3C175.7 129.7 174.1 127.1 172.3 124.8C170.5 122.5 168.4 120.3 166.2 118.4C163.9 116.5 161.4 114.8 158.9 113.3C156.3 111.9 153.5 110.6 150.7 109.6C148.0 108.5 145.1 107.7 142.2 106.8C139.3 106.0 136.4 105.3 133.5 104.4C130.6 103.6 127.7 102.8 124.9 101.8C122.1 100.8 119.3 99.8 116.5 98.6C113.8 97.4 111.1 96.1 108.4 94.7C105.7 93.3 103.1 91.9 100.5 90.4C97.9 88.9 95.3 87.3 92.8 85.7C90.2 84.1 87.7 82.5 85.1 80.9C82.6 79.3 80.0 77.7 77.5 76.1C74.9 74.5 72.4 72.9 69.8 71.4C67.3 69.8 64.8 68.2 62.2 66.6C59.6 65.1 57.0 63.5 54.4 62.1C51.8 60.6 49.1 59.2 46.4 57.9C43.7 56.6 41.0 55.4 38.2 54.2C35.5 53.0 32.6 51.9 29.8 50.9C27.0 49.8 24.2 48.9 21.3 47.9C18.5 46.9 15.6 46.1 12.8 45.0C10.0 43.9 7.2 42.8 4.6 41.4C2.0 40.0 -0.5 38.4 -2.7 36.5C-4.9 34.5 -6.8 32.2 -8.4 29.8C-10.1 27.4 -11.4 24.7 -12.6 21.9C-13.8 19.2 -14.7 16.3 -15.4 13.5C-16.2 10.6 -16.6 7.6 -17.0 4.6C-17.5 1.7 -17.8 -1.3 -18.0 -4.3C-18.2 -7.3 -18.3 -10.3 -18.3 -13.3C-18.3 -16.3 -18.2 -19.3 -18.1 -22.3C-18.0 -25.3 -17.9 -28.3 -17.5 -31.3C-17.1 -34.2 -16.6 -37.1 -15.7 -39.9C-14.7 -42.7 -13.5 -45.5 -12.0 -48.0C-10.5 -50.5 -8.5 -52.8 -6.7 -55.1C-4.8 -57.4 -2.7 -59.6 -0.9 -62.0C0.9 -64.3 2.5 -66.9 4.3 -69.2C6.1 -71.6 7.9 -74.1 10.0 -76.2C12.0 -78.3 14.3 -80.2 16.8 -81.8C19.2 -83.5 21.9 -84.9 24.6 -86.1C27.3 -87.3 30.2 -88.2 33.1 -88.9C35.9 -89.5 38.9 -89.8 41.9 -90.1C44.9 -90.3 47.9 -90.3 50.9 -90.4C53.9 -90.5 56.9 -90.5 59.9 -90.7C62.9 -91.0 65.8 -91.4 68.7 -92.0C71.6 -92.7 74.5 -93.6 77.2 -94.7C80.0 -95.8 82.7 -97.2 85.3 -98.6C88.0 -100.0 90.6 -101.5 93.1 -103.1C95.7 -104.6 98.3 -106.3 100.8 -107.9C103.3 -109.5 105.9 -111.1 108.3 -112.8C110.7 -114.6 113.2 -116.3 115.4 -118.3C117.7 -120.2 119.9 -122.3 121.7 -124.6C123.5 -126.9 125.1 -129.4 126.1 -132.1C127.1 -134.8 127.7 -137.7 127.7 -140.6C127.8 -143.5 127.2 -146.4 126.4 -149.2C125.6 -152.0 124.3 -154.8 122.9 -157.4C121.5 -160.0 119.7 -162.4 117.9 -164.7C116.0 -167.0 113.9 -169.1 111.7 -171.2C109.5 -173.2 107.2 -175.2 104.8 -176.9C102.4 -178.7 99.9 -180.3 97.3 -181.8C94.8 -183.4 92.2 -184.9 89.5 -186.3C86.8 -187.6 84.1 -188.8 81.3 -189.9C78.5 -191.0 75.7 -192.0 72.8 -192.9C69.9 -193.8 67.1 -194.6 64.1 -195.4C61.2 -196.1 58.3 -196.7 55.3 -197.2C52.4 -197.8 49.4 -198.2 46.4 -198.6C43.5 -198.9 40.5 -199.1 37.5 -199.3C34.5 -199.4 31.5 -199.5 28.5 -199.5C25.5 -199.5 22.4 -199.4 19.5 -199.3C16.6 -199.1 12.9 -198.6 11.0 -198.4C9.1 -198.2 10.1 -198.3 8.3 -198.0Z"/>
<path d="M-10.3 -179.6C-8.2 -180.7 -5.1 -181.9 -2.3 -182.7C0.5 -183.5 3.5 -183.9 6.5 -184.4C9.4 -184.8 12.4 -185.1 15.4 -185.3C18.4 -185.5 21.4 -185.6 24.4 -185.6C27.4 -185.6 30.4 -185.4 33.3 -185.1C36.3 -184.8 39.3 -184.3 42.2 -183.8C45.2 -183.2 48.1 -182.5 50.9 -181.7C53.8 -180.9 56.7 -179.9 59.5 -178.9C62.3 -177.9 65.1 -176.8 67.9 -175.7C70.6 -174.5 73.3 -173.2 76.0 -171.8C78.6 -170.4 81.3 -169.0 83.7 -167.3C86.2 -165.6 88.6 -163.8 90.7 -161.8C92.7 -159.7 94.8 -157.5 96.2 -155.0C97.5 -152.5 98.6 -149.7 98.8 -146.9C99.0 -144.2 98.5 -141.2 97.5 -138.7C96.5 -136.1 94.7 -133.7 92.7 -131.6C90.7 -129.5 88.3 -127.7 85.8 -126.2C83.3 -124.6 80.5 -123.5 77.7 -122.4C74.9 -121.3 72.0 -120.5 69.1 -119.7C66.3 -119.0 63.3 -118.4 60.4 -117.7C57.5 -117.1 54.5 -116.6 51.5 -116.0C48.6 -115.5 45.6 -115.0 42.7 -114.3C39.8 -113.7 36.9 -113.1 34.0 -112.3C31.1 -111.5 28.2 -110.7 25.3 -109.7C22.5 -108.8 19.6 -107.9 16.8 -106.8C14.0 -105.8 11.2 -104.8 8.4 -103.7C5.6 -102.5 2.9 -101.3 0.2 -100.0C-2.5 -98.7 -5.2 -97.4 -7.7 -95.8C-10.2 -94.2 -12.5 -92.4 -14.8 -90.5C-17.0 -88.5 -19.1 -86.3 -21.2 -84.2C-23.3 -82.0 -25.4 -79.9 -27.4 -77.7C-29.4 -75.5 -31.5 -73.2 -33.4 -71.0C-35.4 -68.7 -37.4 -66.4 -39.2 -64.1C-41.0 -61.7 -42.9 -59.3 -44.4 -56.8C-45.9 -54.3 -47.2 -51.7 -48.0 -48.9C-48.7 -46.1 -48.9 -43.2 -48.9 -40.2C-48.9 -37.3 -48.6 -34.3 -48.2 -31.3C-47.9 -28.4 -47.3 -25.4 -46.6 -22.5C-46.0 -19.6 -45.3 -16.6 -44.5 -13.8C-43.7 -10.9 -42.6 -8.1 -41.8 -5.2C-40.9 -2.3 -40.0 0.5 -39.5 3.4C-39.1 6.3 -38.8 9.3 -39.0 12.3C-39.2 15.2 -39.7 18.2 -40.6 20.9C-41.6 23.5 -43.0 26.3 -44.9 28.2C-46.8 30.2 -49.3 31.9 -51.9 32.6C-54.4 33.4 -57.4 33.4 -60.1 32.9C-62.8 32.4 -65.5 30.9 -68.0 29.4C-70.5 27.9 -72.8 26.0 -75.0 24.0C-77.2 22.0 -79.2 19.7 -81.0 17.4C-82.8 15.0 -84.5 12.5 -86.0 9.9C-87.4 7.3 -88.7 4.6 -89.9 1.9C-91.0 -0.9 -92.1 -3.7 -92.9 -6.6C-93.7 -9.4 -94.4 -12.4 -94.9 -15.3C-95.5 -18.2 -95.9 -21.2 -96.4 -24.2C-96.8 -27.1 -97.2 -30.1 -97.6 -33.1C-98.1 -36.1 -98.5 -39.0 -98.8 -42.0C-99.1 -45.0 -99.4 -48.0 -99.6 -51.0C-99.7 -53.9 -99.9 -57.0 -99.6 -59.9C-99.4 -62.8 -98.9 -65.7 -97.9 -68.5C-97.0 -71.2 -95.6 -73.9 -94.0 -76.2C-92.3 -78.6 -90.1 -80.6 -88.1 -82.8C-86.2 -85.0 -84.0 -87.1 -82.3 -89.5C-80.6 -91.8 -79.0 -94.4 -77.9 -97.1C-76.8 -99.8 -76.3 -102.7 -75.7 -105.6C-75.0 -108.5 -74.6 -111.5 -74.0 -114.4C-73.3 -117.3 -72.5 -120.2 -71.6 -123.1C-70.7 -125.9 -69.8 -128.7 -68.5 -131.4C-67.2 -134.0 -65.5 -136.5 -63.9 -139.0C-62.2 -141.4 -60.3 -143.8 -58.3 -146.0C-56.4 -148.3 -54.3 -150.4 -52.1 -152.4C-49.9 -154.5 -47.5 -156.3 -45.2 -158.1C-42.8 -159.9 -40.4 -161.7 -37.9 -163.3C-35.3 -164.9 -32.6 -166.2 -30.0 -167.6C-27.3 -168.9 -24.5 -170.0 -22.0 -171.5C-19.4 -173.0 -16.7 -175.0 -14.8 -176.3C-12.8 -177.7 -12.3 -178.6 -10.3 -179.6Z"/>
<path d="M0.9 74.2C3.7 73.3 6.6 72.8 9.6 72.4C12.5 72.0 15.5 71.8 18.5 71.8C21.5 71.8 24.5 71.9 27.5 72.2C30.4 72.5 33.4 73.0 36.3 73.6C39.2 74.2 42.2 74.9 45.0 75.9C47.8 76.8 50.6 78.0 53.3 79.2C56.1 80.4 58.7 81.8 61.4 83.1C64.1 84.4 66.8 85.8 69.5 87.1C72.1 88.5 74.8 89.8 77.5 91.3C80.1 92.7 82.7 94.2 85.2 95.8C87.8 97.3 90.3 99.0 92.8 100.6C95.3 102.3 97.8 104.0 100.2 105.8C102.6 107.5 105.0 109.4 107.4 111.2C109.8 113.1 112.1 114.9 114.4 116.9C116.7 118.8 118.9 120.8 121.2 122.8C123.4 124.8 125.5 126.9 127.6 129.0C129.7 131.2 131.7 133.5 133.6 135.8C135.5 138.1 137.4 140.4 139.1 142.9C140.8 145.3 142.5 147.8 144.0 150.4C145.5 153.0 147.0 155.6 148.1 158.3C149.3 161.0 150.4 163.9 151.1 166.7C151.8 169.6 152.4 172.5 152.5 175.5C152.7 178.4 152.6 181.4 152.1 184.3C151.7 187.2 151.0 190.2 150.0 192.9C149.0 195.7 147.7 198.4 146.1 200.9C144.5 203.3 142.6 205.7 140.5 207.7C138.4 209.7 136.0 211.5 133.4 212.9C130.9 214.4 128.1 215.6 125.3 216.5C122.5 217.4 119.6 217.9 116.6 218.2C113.7 218.6 110.7 218.6 107.7 218.5C104.7 218.3 101.8 217.9 98.8 217.4C95.9 216.9 93.0 216.2 90.1 215.3C87.2 214.5 84.4 213.5 81.6 212.4C78.8 211.4 76.0 210.3 73.2 209.1C70.5 208.0 67.7 206.8 65.0 205.5C62.2 204.3 59.5 203.0 56.9 201.6C54.2 200.2 51.6 198.8 49.0 197.2C46.5 195.7 43.9 194.1 41.4 192.4C39.0 190.7 36.6 188.9 34.2 187.1C31.8 185.2 29.5 183.3 27.3 181.4C25.0 179.4 22.9 177.3 20.8 175.1C18.7 173.0 16.6 170.8 14.6 168.6C12.6 166.3 10.7 164.0 8.8 161.7C6.8 159.4 5.0 157.1 3.0 154.8C1.1 152.5 -0.9 150.2 -2.9 148.0C-4.9 145.8 -7.2 143.8 -9.1 141.5C-11.1 139.3 -13.1 137.2 -14.7 134.7C-16.2 132.2 -17.2 129.4 -18.1 126.6C-19.0 123.9 -19.6 120.9 -20.1 117.9C-20.5 115.0 -20.9 112.0 -20.8 109.0C-20.8 106.1 -20.6 103.1 -20.1 100.2C-19.5 97.3 -18.7 94.4 -17.6 91.7C-16.4 89.0 -15.0 86.3 -13.3 84.0C-11.5 81.7 -9.3 79.7 -7.0 78.1C-4.6 76.4 -1.9 75.2 0.9 74.2Z"/>
<path d="M19.2 115.8C19.7 113.1 21.2 110.3 23.0 108.1C24.8 105.9 27.4 104.0 30.0 102.8C32.5 101.5 35.6 100.8 38.5 100.7C41.4 100.6 44.4 101.4 47.2 102.3C50.0 103.2 52.7 104.7 55.3 106.1C57.9 107.6 60.4 109.2 62.9 111.0C65.3 112.8 67.7 114.7 69.9 116.7C72.1 118.7 74.3 120.9 76.3 123.1C78.3 125.3 80.3 127.7 81.9 130.2C83.4 132.7 85.1 135.5 85.7 138.2C86.3 140.9 86.4 144.2 85.3 146.4C84.2 148.7 81.7 150.6 79.2 151.8C76.7 152.9 73.5 153.0 70.5 153.2C67.5 153.5 64.5 153.3 61.5 153.2C58.5 153.0 55.4 152.8 52.5 152.2C49.6 151.6 46.6 150.7 43.9 149.6C41.2 148.4 38.5 147.0 36.0 145.3C33.6 143.6 31.2 141.7 29.1 139.6C27.0 137.4 25.1 135.1 23.5 132.6C22.0 130.1 20.5 127.3 19.7 124.5C19.0 121.7 18.6 118.6 19.2 115.8Z"/>
<ellipse cx="2.1" cy="-0.5" rx="3.0" ry="4.0" stroke-width="2.4"/>
</g>
</g></g>
<g clip-path="url(#fr1)"><circle cx="1101.2" cy="330.5" r="285.4" fill="none" stroke="#8e8e8e" stroke-width="3.7" stroke-linecap="round" stroke-dasharray="1.4 17.2"/></g>
<rect x="814.5" y="47.2" width="573.3" height="567.4" fill="none" stroke="#000" stroke-width="2"/>
</g>
<g id="map2">
<text y="35.2" font-size="35.5" fill="#000" stroke="#000" stroke-width="1.15" stroke-linejoin="round" ><tspan x="1493.3" textLength="42.4" lengthAdjust="spacingAndGlyphs">c)</tspan><tspan x="1554.7" textLength="85.4" lengthAdjust="spacingAndGlyphs">Late</tspan><tspan x="1663.9" textLength="53.1" lengthAdjust="spacingAndGlyphs">RD</tspan><tspan x="1742.2" textLength="29.1" lengthAdjust="spacingAndGlyphs">−</tspan><tspan x="1794.8" textLength="96.8" lengthAdjust="spacingAndGlyphs">Early</tspan><tspan x="1913.0" textLength="57.0" lengthAdjust="spacingAndGlyphs">RU</tspan></text>
<g clip-path="url(#ci2)">
<g transform="translate(1779.6 330.5)">
<path d="M109.4 148.0L128.0 145.2L136.0 145.3L140.0 146.0L145.7 148.0L151.9 152.0L155.7 156.0L158.3 160.0L161.7 168.0L163.5 176.0L163.9 184.0L162.8 192.0L160.0 200.0L157.6 204.0L154.3 208.0L148.0 212.8L140.0 216.3L128.0 219.0L116.0 220.1L104.0 219.1L96.0 217.2L88.0 213.6L80.9 208.0L74.8 200.0L70.6 192.0L66.4 180.0L65.5 172.0L66.1 168.0L68.0 164.0L72.1 160.0L79.7 156.0L91.9 152.0L109.4 148.0Z" fill="#4E7FBB" stroke="#4E7FBB" stroke-width="0.6" fill-rule="evenodd"/>
<path d="M27.9 -156.0L36.0 -159.7L40.0 -160.0L44.0 -158.6L47.7 -156.0L49.5 -152.0L47.8 -148.0L41.1 -144.0L24.0 -140.0L20.0 -140.8L17.3 -144.0L18.4 -148.0L22.3 -152.0L27.9 -156.0ZM-1.1 124.0L0.0 123.5L4.0 124.3L8.0 129.0L16.0 143.6L20.0 149.0L24.0 151.7L28.0 150.1L29.8 148.0L35.2 144.0L41.9 140.0L52.0 136.3L60.0 135.0L72.0 134.7L92.0 135.7L100.0 135.6L128.0 132.3L136.0 132.0L144.0 132.9L153.6 136.0L160.4 140.0L164.8 144.0L168.0 148.0L172.1 156.0L174.4 164.0L176.2 176.0L176.0 188.0L173.7 200.0L170.5 208.0L164.0 217.8L157.1 224.0L149.3 228.0L140.0 230.7L124.0 233.0L108.0 233.3L92.0 231.1L80.0 226.9L69.5 220.0L61.8 212.0L32.0 167.2L28.0 161.7L25.3 160.0L24.0 158.2L12.0 163.6L8.0 164.3L4.0 163.9L0.0 160.4L-3.2 148.0L-9.2 136.0L-9.2 132.0L-8.0 129.5L-4.0 125.4L-1.1 124.0ZM112.0 147.5L91.9 152.0L79.7 156.0L72.1 160.0L68.0 164.0L66.1 168.0L65.5 172.0L65.7 176.0L67.5 184.0L72.5 196.0L77.6 204.0L84.0 210.8L92.0 215.8L100.0 218.3L112.0 220.0L124.0 219.5L140.0 216.3L148.0 212.8L154.3 208.0L157.6 204.0L160.0 200.0L162.8 192.0L163.9 184.0L163.5 176.0L161.7 168.0L158.3 160.0L155.7 156.0L151.9 152.0L145.7 148.0L140.0 146.0L136.0 145.3L128.0 145.2L112.0 147.5Z" fill="#6A99C8" stroke="#6A99C8" stroke-width="0.6" fill-rule="evenodd"/>
<path d="M35.5 -172.0L40.0 -173.2L44.0 -173.1L48.0 -172.1L73.0 -160.0L77.9 -156.0L80.4 -152.0L80.7 -148.0L78.9 -144.0L74.1 -140.0L68.0 -137.3L47.6 -132.0L28.0 -129.3L20.0 -128.7L16.0 -129.1L12.0 -130.3L9.0 -132.0L5.6 -136.0L4.7 -140.0L5.3 -144.0L6.8 -148.0L9.2 -152.0L13.1 -156.0L28.0 -167.4L35.5 -172.0ZM28.0 -156.1L20.0 -149.8L18.4 -148.0L17.3 -144.0L20.0 -140.8L24.0 -140.0L41.1 -144.0L47.8 -148.0L49.5 -152.0L47.7 -156.0L44.0 -158.6L40.0 -160.0L36.0 -159.7L28.0 -156.1ZM-6.7 100.0L0.0 97.3L4.0 96.7L8.0 97.4L12.4 100.0L24.0 114.0L28.0 116.9L32.0 118.5L36.0 119.2L60.0 119.7L88.0 123.3L100.0 124.1L108.0 123.8L132.0 121.1L144.0 121.2L156.0 123.5L164.0 126.7L168.0 128.9L172.2 132.0L176.0 135.8L181.1 144.0L184.9 156.0L186.8 172.0L186.5 188.0L184.8 200.0L180.4 212.0L172.0 226.2L168.0 231.1L164.0 234.5L156.0 238.9L144.0 242.3L124.0 244.6L104.0 244.7L92.0 243.7L84.0 242.3L72.0 238.7L59.8 232.0L54.6 228.0L48.0 221.6L33.9 204.0L28.0 198.1L8.0 184.2L-8.0 179.1L-16.0 174.7L-19.0 172.0L-21.5 168.0L-24.5 160.0L-32.8 148.0L-34.6 144.0L-35.9 136.0L-34.5 128.0L-32.0 122.3L-28.0 116.2L-24.0 111.8L-16.0 105.5L-6.7 100.0ZM0.0 123.5L-4.0 125.4L-6.9 128.0L-9.2 132.0L-9.2 136.0L-3.2 148.0L0.0 160.4L4.0 163.9L8.0 164.3L12.0 163.6L24.0 158.2L25.3 160.0L28.0 161.7L32.0 167.2L61.8 212.0L69.5 220.0L80.0 226.9L92.0 231.1L108.0 233.3L124.0 233.0L140.0 230.7L149.3 228.0L157.1 224.0L164.0 217.8L170.5 208.0L173.7 200.0L176.0 188.0L176.2 176.0L174.4 164.0L172.1 156.0L168.0 148.0L164.8 144.0L160.4 140.0L153.6 136.0L144.0 132.9L136.0 132.0L128.0 132.3L100.0 135.6L92.0 135.7L72.0 134.7L60.0 135.0L52.0 136.3L41.9 140.0L35.2 144.0L29.8 148.0L28.0 150.1L24.0 151.7L20.0 149.0L16.0 143.6L7.3 128.0L4.0 124.3L0.0 123.5Z" fill="#86B2D2" stroke="#86B2D2" stroke-width="0.6" fill-rule="evenodd"/>
<path d="M31.4 -180.0L36.0 -182.7L40.0 -183.8L44.0 -184.0L48.0 -183.3L76.0 -171.0L84.0 -166.6L92.0 -160.0L94.8 -156.0L96.5 -152.0L96.9 -148.0L96.2 -144.0L94.3 -140.0L91.0 -136.0L88.0 -133.4L80.0 -128.8L68.0 -125.0L48.0 -120.9L32.0 -118.4L20.0 -118.1L8.0 -120.4L0.0 -123.8L-4.5 -128.0L-6.6 -132.0L-7.2 -136.0L-6.3 -140.0L2.4 -160.0L4.0 -161.9L16.0 -167.2L31.4 -180.0ZM36.0 -172.2L28.0 -167.4L13.1 -156.0L9.2 -152.0L6.8 -148.0L5.3 -144.0L4.7 -140.0L5.6 -136.0L9.0 -132.0L12.0 -130.3L16.0 -129.1L20.0 -128.7L28.0 -129.3L47.6 -132.0L68.0 -137.3L74.1 -140.0L78.9 -144.0L80.7 -148.0L80.4 -152.0L77.9 -156.0L73.0 -160.0L48.0 -172.1L44.0 -173.1L40.0 -173.2L36.0 -172.2ZM-4.5 80.0L4.0 78.1L8.0 78.6L12.0 80.2L18.1 84.0L32.0 96.3L40.0 101.0L48.0 103.4L76.0 109.5L88.0 111.8L100.0 112.9L112.0 112.5L140.0 109.9L156.0 110.4L164.0 111.8L172.0 114.3L176.0 116.2L181.6 120.0L188.7 128.0L192.0 134.2L194.1 140.0L196.8 156.0L197.4 168.0L197.1 180.0L195.6 196.0L192.8 208.0L180.6 232.0L175.1 240.0L168.0 246.1L160.0 250.0L152.0 252.4L140.0 254.6L124.0 256.0L96.0 256.1L84.0 255.4L72.0 253.4L60.0 249.7L48.0 243.8L20.0 224.0L6.5 212.0L-8.0 201.3L-16.0 196.8L-24.0 194.7L-32.0 190.5L-36.0 186.7L-43.8 176.0L-50.4 164.0L-53.7 156.0L-56.2 144.0L-56.3 136.0L-55.0 128.0L-52.0 119.0L-45.9 108.0L-39.8 100.0L-32.0 92.0L-24.0 86.6L-4.5 80.0ZM-4.0 98.7L-13.7 104.0L-20.0 108.4L-24.2 112.0L-30.7 120.0L-34.5 128.0L-35.9 136.0L-34.6 144.0L-32.8 148.0L-24.5 160.0L-21.5 168.0L-19.0 172.0L-16.0 174.7L-8.0 179.1L8.0 184.2L28.0 198.1L33.9 204.0L48.0 221.6L54.6 228.0L59.8 232.0L72.0 238.7L84.0 242.3L92.0 243.7L104.0 244.7L124.0 244.6L144.0 242.3L156.0 238.9L164.0 234.5L168.0 231.1L172.0 226.2L180.4 212.0L184.8 200.0L186.5 188.0L186.8 172.0L184.9 156.0L181.1 144.0L176.0 135.8L172.2 132.0L168.0 128.9L164.0 126.7L156.0 123.5L144.0 121.2L132.0 121.1L108.0 123.8L100.0 124.1L88.0 123.3L60.0 119.7L36.0 119.2L32.0 118.5L28.0 116.9L24.0 114.0L12.4 100.0L8.0 97.4L4.0 96.7L0.0 97.3L-4.0 98.7Z" fill="#A3CBDD" stroke="#A3CBDD" stroke-width="0.6" fill-rule="evenodd"/>
<path d="M33.4 -192.0L40.0 -194.4L44.0 -194.7L52.0 -193.3L60.0 -190.2L84.0 -179.0L92.0 -174.7L100.0 -169.4L106.2 -164.0L109.3 -160.0L112.8 -152.0L113.4 -148.0L113.1 -144.0L110.0 -136.0L104.0 -129.0L97.6 -124.0L88.0 -118.9L76.0 -114.8L32.0 -105.1L24.0 -105.0L12.0 -108.1L8.0 -108.6L4.0 -108.2L0.0 -106.6L-8.0 -100.9L-12.0 -98.9L-16.0 -98.3L-20.0 -98.9L-22.1 -100.0L-25.6 -104.0L-26.2 -108.0L-25.0 -112.0L-19.9 -120.0L-18.7 -124.0L-17.7 -136.0L-16.6 -140.0L-11.0 -152.0L-10.1 -156.0L-11.1 -172.0L-10.1 -176.0L-8.1 -180.0L-4.0 -182.6L0.0 -181.7L8.0 -176.5L12.0 -175.8L16.0 -177.2L19.8 -180.0L28.0 -188.1L33.4 -192.0ZM32.0 -180.5L16.0 -167.2L4.0 -161.9L2.4 -160.0L-6.3 -140.0L-7.2 -136.0L-6.6 -132.0L-4.5 -128.0L0.0 -123.8L8.0 -120.4L20.0 -118.1L32.0 -118.4L48.0 -120.9L68.0 -125.0L80.0 -128.8L88.0 -133.4L91.0 -136.0L94.3 -140.0L96.2 -144.0L96.9 -148.0L96.5 -152.0L94.8 -156.0L92.0 -160.0L84.0 -166.6L76.0 -171.0L48.0 -183.3L44.0 -184.0L40.0 -183.8L36.0 -182.7L32.0 -180.5ZM-10.4 64.0L0.0 61.3L4.0 61.6L8.0 63.4L28.0 77.6L44.0 87.0L64.0 94.0L84.0 99.7L96.0 101.3L108.0 101.5L124.0 100.4L152.0 97.3L168.0 97.0L176.0 98.1L184.0 100.6L190.0 104.0L194.7 108.0L200.0 114.6L203.0 120.0L206.2 128.0L208.1 136.0L209.5 152.0L208.6 176.0L205.4 200.0L201.8 212.0L187.9 240.0L184.0 246.5L180.0 251.3L172.0 257.7L164.0 261.6L156.0 264.1L144.0 266.7L128.0 268.6L88.0 270.9L76.0 271.1L64.0 270.1L52.0 267.0L44.0 263.4L36.0 258.9L28.0 253.0L18.0 244.0L4.0 232.8L-4.0 225.2L-8.0 222.4L-12.0 220.8L-20.0 220.3L-36.0 223.6L-40.0 223.3L-44.0 221.0L-48.0 216.7L-53.2 208.0L-60.0 191.8L-69.5 172.0L-74.2 160.0L-76.2 152.0L-77.4 144.0L-77.3 132.0L-75.9 124.0L-73.3 116.0L-69.1 108.0L-60.3 96.0L-52.7 88.0L-43.4 80.0L-32.0 71.7L-24.0 67.7L-10.4 64.0ZM-4.0 79.8L-24.0 86.6L-32.0 92.0L-39.8 100.0L-45.9 108.0L-52.0 119.0L-55.0 128.0L-56.3 136.0L-56.2 144.0L-53.7 156.0L-50.4 164.0L-43.8 176.0L-36.0 186.7L-32.0 190.5L-24.0 194.7L-16.0 196.8L-8.0 201.3L6.5 212.0L20.0 224.0L48.0 243.8L60.0 249.7L72.0 253.4L84.0 255.4L96.0 256.1L124.0 256.0L140.0 254.6L152.0 252.4L160.0 250.0L168.0 246.1L175.1 240.0L180.6 232.0L192.8 208.0L195.6 196.0L197.1 180.0L197.4 168.0L196.8 156.0L194.1 140.0L192.0 134.2L188.7 128.0L181.6 120.0L176.0 116.2L172.0 114.3L164.0 111.8L156.0 110.4L140.0 109.9L108.0 112.8L96.0 112.7L84.0 111.1L50.5 104.0L44.0 102.4L36.0 99.1L32.0 96.3L20.0 85.5L12.0 80.2L8.0 78.6L4.0 78.1L-4.0 79.8ZM-21.0 272.0L-16.0 272.7L-12.0 274.1L0.0 279.9L4.8 284.0L7.6 288.0L8.9 292.0L-29.9 292.0L-29.4 284.0L-28.0 277.2L-24.0 272.4L-21.0 272.0Z" fill="#BADFE9" stroke="#BADFE9" stroke-width="0.6" fill-rule="evenodd"/>
<path d="M-292.0 -292.0L-238.6 -292.0L-240.4 -288.0L-243.5 -284.0L-251.9 -276.0L-280.0 -251.6L-288.0 -246.2L-292.0 -244.8L-292.0 -292.0ZM38.3 -204.0L44.0 -205.0L52.0 -204.6L64.0 -201.2L102.4 -184.0L109.7 -180.0L116.0 -175.6L120.1 -172.0L127.0 -164.0L129.4 -160.0L132.5 -152.0L133.6 -144.0L133.5 -140.0L132.0 -133.6L129.4 -128.0L124.0 -121.4L116.0 -115.2L104.0 -108.9L88.0 -102.8L40.0 -92.1L28.0 -90.8L12.0 -90.8L8.0 -89.9L-4.0 -81.6L-12.0 -77.9L-20.0 -76.3L-24.0 -76.4L-28.0 -77.3L-32.0 -79.7L-36.0 -83.7L-40.0 -89.4L-43.5 -96.0L-46.0 -104.0L-46.5 -108.0L-46.0 -116.0L-44.0 -122.5L-40.9 -128.0L-21.8 -156.0L-20.0 -161.1L-17.6 -176.0L-14.0 -184.0L-8.0 -192.7L-4.0 -194.8L0.0 -194.1L8.0 -189.3L12.0 -188.3L16.0 -189.4L28.0 -199.1L32.0 -201.6L38.3 -204.0ZM36.0 -193.3L32.0 -191.2L28.0 -188.1L20.0 -180.1L16.0 -177.2L12.0 -175.8L8.0 -176.5L0.0 -181.7L-4.0 -182.6L-8.1 -180.0L-10.1 -176.0L-11.1 -172.0L-10.1 -156.0L-11.0 -152.0L-16.6 -140.0L-17.7 -136.0L-18.7 -124.0L-19.9 -120.0L-25.0 -112.0L-26.2 -108.0L-25.6 -104.0L-22.1 -100.0L-20.0 -98.9L-16.0 -98.3L-12.0 -98.9L-8.0 -100.9L0.0 -106.6L4.0 -108.2L8.0 -108.6L12.0 -108.1L24.0 -105.0L32.0 -105.1L76.0 -114.8L88.0 -118.9L97.6 -124.0L104.0 -129.0L110.0 -136.0L113.1 -144.0L113.4 -148.0L112.8 -152.0L109.3 -160.0L106.2 -164.0L101.9 -168.0L88.0 -176.9L56.0 -191.9L48.0 -194.3L44.0 -194.7L40.0 -194.4L36.0 -193.3ZM-28.5 48.0L-24.0 46.0L-20.0 45.6L4.0 48.6L8.0 50.3L12.0 53.1L24.0 64.4L36.0 71.3L48.0 76.8L68.0 84.3L80.0 88.2L88.0 89.8L104.0 90.8L124.0 89.9L140.0 87.5L168.0 81.5L180.0 80.6L188.0 81.1L196.0 82.9L204.0 87.0L208.0 90.2L213.2 96.0L218.3 104.0L221.9 112.0L224.3 120.0L226.0 128.0L227.2 140.0L227.2 148.0L226.2 160.0L221.1 188.0L218.1 200.0L214.2 212.0L196.7 248.0L192.0 255.7L188.0 260.6L184.0 264.6L176.0 270.6L164.0 276.5L148.0 281.7L121.0 288.0L111.0 292.0L8.9 292.0L7.6 288.0L4.8 284.0L0.0 279.9L-8.0 275.7L-16.0 272.7L-20.0 271.9L-24.0 272.4L-27.5 276.0L-29.4 284.0L-29.9 292.0L-56.7 292.0L-56.7 280.0L-57.8 272.0L-64.0 251.2L-71.2 232.0L-92.4 184.0L-100.7 160.0L-103.8 144.0L-103.8 132.0L-101.1 120.0L-97.6 112.0L-92.8 104.0L-86.2 96.0L-65.6 76.0L-43.5 60.0L-28.5 48.0ZM-8.0 63.3L-20.0 66.5L-28.0 69.5L-36.0 74.3L-48.2 84.0L-56.7 92.0L-66.5 104.0L-73.3 116.0L-75.9 124.0L-77.3 132.0L-77.4 144.0L-76.2 152.0L-74.2 160.0L-69.5 172.0L-60.0 191.8L-53.2 208.0L-48.0 216.7L-44.0 221.0L-40.0 223.3L-36.0 223.6L-20.0 220.3L-12.0 220.8L-8.0 222.4L-4.0 225.2L4.0 232.8L18.0 244.0L28.0 253.0L36.0 258.9L44.0 263.4L52.0 267.0L64.0 270.1L76.0 271.1L88.0 270.9L128.0 268.6L144.0 266.7L156.0 264.1L164.0 261.6L172.0 257.7L180.0 251.3L184.0 246.5L187.9 240.0L201.8 212.0L205.4 200.0L208.6 176.0L209.5 152.0L208.1 136.0L206.2 128.0L203.0 120.0L200.0 114.6L194.7 108.0L190.0 104.0L184.0 100.6L176.0 98.1L168.0 97.0L152.0 97.3L124.0 100.4L108.0 101.5L96.0 101.3L84.0 99.7L64.0 94.0L44.0 87.0L28.0 77.6L8.0 63.4L4.0 61.6L0.0 61.3L-8.0 63.3Z" fill="#D1EAF0" stroke="#D1EAF0" stroke-width="0.6" fill-rule="evenodd"/>
<path d="M-240.4 -288.0L-238.6 -292.0L-185.0 -292.0L-186.7 -288.0L-193.6 -280.0L-224.8 -252.0L-241.7 -236.0L-280.0 -195.2L-288.0 -188.5L-292.0 -186.8L-292.0 -244.8L-288.0 -246.2L-280.0 -251.6L-247.5 -280.0L-240.4 -288.0ZM45.7 -216.0L56.0 -216.4L68.0 -213.6L112.0 -195.6L120.0 -191.4L128.0 -186.1L139.2 -176.0L145.5 -168.0L152.3 -156.0L161.9 -132.0L164.0 -128.3L168.0 -125.4L184.0 -124.1L212.0 -120.0L216.0 -118.7L220.0 -116.6L232.0 -107.5L245.4 -100.0L250.8 -96.0L256.0 -89.2L260.0 -81.0L268.6 -60.0L272.4 -48.0L273.8 -40.0L273.7 -32.0L271.5 -24.0L268.0 -18.6L264.0 -15.4L260.0 -14.0L256.0 -13.8L252.0 -14.6L248.0 -16.3L240.0 -21.8L232.0 -29.1L224.0 -38.1L201.3 -72.0L192.0 -83.6L184.0 -90.6L164.0 -105.8L160.0 -107.2L156.0 -107.3L140.0 -102.8L110.0 -92.0L92.0 -86.3L68.0 -82.5L48.0 -76.6L28.0 -74.0L20.0 -72.2L12.0 -68.3L0.0 -60.7L-16.0 -53.0L-21.6 -48.0L-23.6 -44.0L-24.2 -40.0L-22.9 -32.0L-17.8 -20.0L-16.9 -16.0L-17.1 -12.0L-18.7 -8.0L-20.0 -6.2L-24.0 -3.5L-28.0 -3.3L-32.0 -5.2L-40.0 -12.1L-48.0 -17.1L-52.0 -18.3L-68.0 -21.3L-73.7 -24.0L-77.1 -28.0L-78.4 -32.0L-78.7 -36.0L-77.5 -44.0L-76.0 -48.9L-72.0 -57.4L-68.0 -63.0L-59.2 -72.0L-57.7 -76.0L-57.7 -80.0L-61.6 -100.0L-61.9 -108.0L-60.9 -116.0L-56.0 -132.5L-48.0 -150.6L-44.0 -157.8L-40.0 -162.9L-28.0 -173.4L-20.0 -185.2L-12.0 -199.8L-8.0 -205.0L-4.0 -206.9L0.0 -206.2L8.0 -201.8L12.0 -200.9L16.0 -201.7L32.0 -211.4L40.0 -214.7L45.7 -216.0ZM40.0 -204.4L32.0 -201.6L28.0 -199.1L16.0 -189.4L12.0 -188.3L8.0 -189.3L0.0 -194.1L-4.0 -194.8L-8.0 -192.7L-14.0 -184.0L-17.6 -176.0L-20.0 -161.1L-21.8 -156.0L-40.9 -128.0L-44.0 -122.5L-46.0 -116.0L-46.5 -108.0L-46.0 -104.0L-43.5 -96.0L-40.0 -89.4L-36.0 -83.7L-32.0 -79.7L-28.0 -77.3L-24.0 -76.4L-20.0 -76.3L-12.0 -77.9L-4.0 -81.6L8.0 -89.9L12.0 -90.8L28.0 -90.8L40.0 -92.1L88.0 -102.8L104.0 -108.9L116.0 -115.2L124.0 -121.4L129.4 -128.0L132.0 -133.6L133.5 -140.0L133.6 -144.0L132.5 -152.0L129.4 -160.0L127.0 -164.0L120.1 -172.0L116.0 -175.6L109.7 -180.0L102.4 -184.0L64.0 -201.2L52.0 -204.6L44.0 -205.0L40.0 -204.4ZM-35.1 28.0L-32.0 26.2L-28.0 25.2L-24.0 25.3L-20.0 26.5L-8.0 33.0L8.0 38.5L12.0 40.6L16.0 43.7L28.0 55.2L36.0 59.9L75.5 76.0L88.0 79.2L100.0 80.3L112.0 80.3L124.0 79.3L136.0 77.4L152.0 72.9L192.0 57.1L204.0 55.3L224.0 55.5L236.0 57.4L242.5 60.0L248.0 63.2L253.9 68.0L260.0 74.5L264.0 80.0L268.1 88.0L270.8 96.0L272.2 104.0L272.4 112.0L271.5 120.0L267.4 136.0L261.9 148.0L248.0 172.0L230.7 212.0L208.1 256.0L203.1 264.0L196.8 272.0L180.3 288.0L177.7 292.0L111.0 292.0L121.0 288.0L156.0 279.4L172.0 272.9L180.0 267.8L188.0 260.6L192.0 255.7L196.7 248.0L212.4 216.0L217.0 204.0L222.8 180.0L226.6 156.0L227.3 144.0L227.0 136.0L224.3 120.0L220.3 108.0L215.9 100.0L212.0 94.5L205.4 88.0L200.0 84.6L192.0 81.8L184.0 80.8L176.0 80.7L168.0 81.5L136.0 88.3L120.0 90.3L100.0 90.8L84.0 89.1L72.0 85.7L56.4 80.0L36.0 71.3L24.0 64.4L12.0 53.1L8.0 50.3L4.0 48.6L-20.0 45.6L-24.0 46.0L-28.0 47.7L-43.5 60.0L-60.6 72.0L-70.1 80.0L-86.2 96.0L-92.8 104.0L-97.6 112.0L-102.3 124.0L-103.8 132.0L-104.0 140.0L-103.3 148.0L-100.7 160.0L-92.4 184.0L-67.9 240.0L-58.7 268.0L-56.7 280.0L-56.7 292.0L-95.2 292.0L-95.3 260.0L-96.2 248.0L-97.6 240.0L-100.0 230.8L-106.4 212.0L-114.7 192.0L-126.8 160.0L-128.8 152.0L-129.8 144.0L-129.9 136.0L-128.8 128.0L-126.6 120.0L-121.8 108.0L-117.3 100.0L-111.2 92.0L-102.8 84.0L-88.0 72.9L-56.9 48.0L-40.5 32.0L-35.1 28.0Z" fill="#E3F3F7" stroke="#E3F3F7" stroke-width="0.6" fill-rule="evenodd"/>
<path d="M-185.0 -292.0L-140.9 -292.0L-142.9 -288.0L-150.3 -280.0L-198.5 -236.0L-214.3 -220.0L-224.0 -209.2L-240.3 -188.0L-280.0 -126.8L-288.0 -117.0L-292.0 -114.6L-292.0 -186.8L-288.0 -188.5L-280.0 -195.2L-253.4 -224.0L-237.6 -240.0L-193.6 -280.0L-186.7 -288.0L-185.0 -292.0ZM45.9 -232.0L52.0 -234.1L56.0 -234.6L64.0 -234.1L68.0 -233.0L88.0 -223.9L116.0 -213.6L142.2 -200.0L148.0 -196.0L156.0 -188.5L179.3 -160.0L191.5 -148.0L197.4 -144.0L204.0 -141.3L224.0 -138.4L228.0 -136.6L232.0 -133.2L239.3 -124.0L244.0 -120.4L248.0 -118.9L264.0 -116.2L268.0 -114.2L274.0 -108.0L284.0 -89.9L288.0 -85.0L292.0 -82.4L292.0 169.2L288.0 171.0L280.0 178.1L272.0 187.3L262.4 200.0L244.0 228.5L220.7 268.0L209.5 284.0L207.1 288.0L205.7 292.0L177.7 292.0L180.3 288.0L196.8 272.0L203.1 264.0L208.1 256.0L230.7 212.0L248.0 172.0L261.9 148.0L267.4 136.0L271.5 120.0L272.4 112.0L272.2 104.0L270.8 96.0L268.1 88.0L264.0 80.0L261.2 76.0L252.0 66.3L248.0 63.2L240.0 58.8L228.0 55.8L208.0 55.2L200.0 55.5L192.0 57.1L152.0 72.9L136.0 77.4L124.0 79.3L112.0 80.3L100.0 80.3L88.0 79.2L75.5 76.0L36.0 59.9L28.0 55.2L16.0 43.7L8.0 38.5L-8.0 33.0L-20.0 26.5L-24.0 25.3L-28.0 25.2L-32.0 26.2L-40.0 31.5L-56.9 48.0L-107.3 88.0L-114.5 96.0L-119.7 104.0L-125.2 116.0L-127.7 124.0L-129.5 132.0L-130.0 140.0L-129.4 148.0L-127.9 156.0L-125.5 164.0L-104.0 218.6L-99.6 232.0L-96.8 244.0L-95.1 264.0L-95.2 292.0L-171.6 292.0L-173.7 280.0L-179.1 264.0L-211.9 188.0L-216.1 176.0L-217.4 168.0L-216.9 156.0L-214.4 144.0L-210.5 132.0L-206.6 124.0L-200.0 115.4L-176.0 95.5L-155.1 76.0L-148.0 71.0L-140.0 66.9L-132.3 64.0L-108.0 56.8L-100.0 53.5L-92.0 49.2L-84.0 43.5L-76.0 36.0L-56.8 12.0L-54.6 8.0L-53.7 4.0L-54.3 0.0L-56.0 -2.6L-60.0 -5.8L-76.0 -11.9L-83.1 -16.0L-86.3 -20.0L-87.9 -24.0L-88.6 -28.0L-88.6 -36.0L-87.6 -44.0L-76.7 -104.0L-72.6 -120.0L-66.9 -136.0L-56.0 -160.2L-51.7 -168.0L-44.0 -177.1L-40.0 -180.2L-28.0 -187.0L-24.0 -191.1L-20.0 -197.6L-12.0 -214.3L-8.0 -219.2L-4.0 -220.9L0.0 -219.9L8.0 -214.9L12.0 -213.6L16.0 -213.9L20.8 -216.0L36.0 -226.7L45.9 -232.0ZM48.0 -216.4L36.0 -213.3L28.0 -209.2L16.0 -201.7L12.0 -200.9L8.0 -201.8L0.0 -206.2L-4.0 -206.9L-8.0 -205.0L-12.0 -199.8L-20.0 -185.2L-28.0 -173.4L-40.0 -162.9L-44.0 -157.8L-48.0 -150.6L-56.0 -132.5L-60.9 -116.0L-61.9 -108.0L-61.6 -100.0L-57.7 -80.0L-57.7 -76.0L-59.2 -72.0L-68.0 -63.0L-72.0 -57.4L-76.0 -48.9L-77.5 -44.0L-78.7 -36.0L-78.4 -32.0L-77.1 -28.0L-73.7 -24.0L-68.0 -21.3L-52.0 -18.3L-48.0 -17.1L-40.0 -12.1L-32.0 -5.2L-28.0 -3.3L-24.0 -3.5L-20.0 -6.2L-18.7 -8.0L-17.1 -12.0L-16.9 -16.0L-17.8 -20.0L-22.9 -32.0L-24.2 -40.0L-23.6 -44.0L-21.6 -48.0L-16.0 -53.0L0.0 -60.7L12.0 -68.3L20.0 -72.2L28.0 -74.0L48.0 -76.6L68.0 -82.5L92.0 -86.3L110.0 -92.0L140.0 -102.8L156.0 -107.3L160.0 -107.2L164.0 -105.8L184.0 -90.6L192.0 -83.6L201.3 -72.0L224.0 -38.1L232.0 -29.1L240.0 -21.8L248.0 -16.3L252.0 -14.6L256.0 -13.8L260.0 -14.0L264.0 -15.4L268.0 -18.6L271.5 -24.0L273.7 -32.0L273.8 -40.0L272.4 -48.0L268.6 -60.0L260.0 -81.0L256.0 -89.2L250.8 -96.0L245.4 -100.0L232.0 -107.5L220.0 -116.6L216.0 -118.7L212.0 -120.0L184.0 -124.1L168.0 -125.4L164.0 -128.3L161.9 -132.0L152.3 -156.0L145.5 -168.0L139.2 -176.0L128.0 -186.1L120.0 -191.4L112.0 -195.6L68.0 -213.6L56.0 -216.4L48.0 -216.4ZM132.0 -80.7L100.0 -71.1L92.0 -69.4L75.6 -68.0L68.0 -65.9L63.9 -64.0L58.3 -60.0L54.2 -56.0L51.5 -52.0L50.1 -48.0L50.9 -32.0L50.5 -28.0L48.3 -20.0L44.0 -13.0L40.0 -9.3L36.0 -6.9L32.0 -5.7L20.0 -4.7L16.0 -3.6L12.0 -0.6L9.7 4.0L9.3 8.0L10.7 12.0L15.4 16.0L24.0 21.1L28.0 25.8L34.7 36.0L39.0 40.0L73.3 60.0L82.7 64.0L96.0 66.6L116.0 67.4L132.0 65.9L140.0 64.3L148.0 61.6L170.5 52.0L188.0 41.3L205.7 32.0L210.4 28.0L213.9 24.0L225.0 8.0L226.3 4.0L226.0 0.0L224.4 -4.0L205.9 -28.0L194.8 -44.0L182.1 -64.0L176.0 -70.9L168.0 -76.6L156.0 -81.3L144.0 -82.5L132.0 -80.7Z" fill="#F4FDFE" stroke="#F4FDFE" stroke-width="0.6" fill-rule="evenodd"/>
<path d="M-140.9 -292.0L-39.7 -292.0L-42.9 -288.0L-48.0 -284.7L-52.0 -283.0L-60.0 -281.7L-84.0 -283.7L-96.0 -282.7L-104.0 -280.5L-112.0 -277.4L-124.0 -270.7L-137.8 -260.0L-164.0 -237.1L-173.6 -228.0L-193.7 -204.0L-208.0 -188.0L-213.8 -180.0L-218.3 -172.0L-227.3 -152.0L-233.1 -136.0L-235.2 -124.0L-234.7 -112.0L-233.4 -104.0L-230.2 -92.0L-217.0 -56.0L-215.3 -48.0L-212.6 -28.0L-209.6 -20.0L-205.5 -12.0L-204.4 -8.0L-204.4 4.0L-202.9 12.0L-200.0 16.8L-196.0 19.5L-192.0 20.1L-188.0 19.6L-180.0 17.2L-176.0 17.7L-172.0 21.1L-164.0 30.5L-156.2 36.0L-148.0 39.0L-136.0 40.4L-124.0 39.8L-112.0 36.6L-103.5 32.0L-98.8 28.0L-95.7 24.0L-93.8 20.0L-93.1 16.0L-96.4 -4.0L-97.3 -24.0L-96.6 -36.0L-90.3 -92.0L-86.1 -112.0L-81.1 -128.0L-76.5 -140.0L-61.3 -172.0L-52.0 -184.0L-44.0 -192.2L-40.0 -194.6L-32.0 -197.6L-28.0 -200.4L-24.0 -206.3L-16.0 -227.4L-12.0 -234.8L-8.0 -239.5L-4.0 -242.3L0.0 -243.6L4.0 -243.8L12.0 -242.3L16.0 -244.4L20.0 -253.3L21.5 -260.0L22.1 -268.0L21.1 -276.0L15.8 -292.0L204.3 -292.0L206.9 -276.0L219.0 -232.0L225.7 -200.0L230.0 -188.0L235.7 -180.0L239.7 -176.0L259.2 -160.0L265.2 -156.0L280.2 -148.0L288.0 -144.2L292.0 -143.1L292.0 -82.4L288.0 -85.0L284.0 -89.9L274.0 -108.0L268.0 -114.2L264.0 -116.2L248.0 -118.9L244.0 -120.4L239.3 -124.0L232.0 -133.2L228.0 -136.6L224.0 -138.4L204.0 -141.3L196.0 -144.8L187.0 -152.0L180.0 -159.2L156.4 -188.0L152.0 -192.6L140.0 -201.3L116.0 -213.6L88.0 -223.9L68.0 -233.0L60.0 -234.6L52.0 -234.1L44.0 -231.3L36.0 -226.7L20.8 -216.0L16.0 -213.9L12.0 -213.6L8.0 -214.9L0.0 -219.9L-4.0 -220.9L-8.0 -219.2L-12.0 -214.3L-20.0 -197.6L-24.0 -191.1L-28.0 -187.0L-40.0 -180.2L-44.0 -177.1L-48.0 -173.0L-52.0 -167.6L-56.1 -160.0L-68.0 -133.3L-72.6 -120.0L-76.0 -107.5L-81.4 -80.0L-88.0 -41.3L-88.7 -32.0L-88.0 -24.3L-86.3 -20.0L-84.0 -16.8L-80.0 -13.8L-72.0 -10.3L-64.8 -8.0L-57.1 -4.0L-54.3 0.0L-53.7 4.0L-54.6 8.0L-56.0 10.6L-76.0 36.0L-84.0 43.5L-92.0 49.2L-100.0 53.5L-108.0 56.8L-132.3 64.0L-140.0 66.9L-148.0 71.0L-155.1 76.0L-176.0 95.5L-196.0 111.6L-200.6 116.0L-206.6 124.0L-212.0 136.0L-215.4 148.0L-217.3 160.0L-217.4 168.0L-216.1 176.0L-211.9 188.0L-179.1 264.0L-173.7 280.0L-171.6 292.0L-281.6 292.0L-284.0 278.5L-288.0 266.1L-292.0 259.0L-292.0 -114.6L-288.0 -117.0L-280.0 -126.8L-240.3 -188.0L-225.0 -208.0L-214.3 -220.0L-198.5 -236.0L-146.2 -284.0L-142.9 -288.0L-140.9 -292.0ZM129.4 -80.0L140.0 -82.2L152.0 -82.1L164.0 -78.6L169.0 -76.0L174.7 -72.0L182.1 -64.0L203.0 -32.0L212.0 -19.8L221.7 -8.0L224.4 -4.0L226.0 0.0L226.3 4.0L225.0 8.0L213.9 24.0L210.4 28.0L205.7 32.0L188.0 41.3L170.5 52.0L151.9 60.0L144.0 63.0L136.0 65.2L120.0 67.2L100.0 67.0L92.0 66.1L82.7 64.0L73.3 60.0L39.0 40.0L34.7 36.0L28.0 25.8L24.0 21.1L15.4 16.0L10.7 12.0L9.3 8.0L9.7 4.0L12.0 -0.6L16.0 -3.6L20.0 -4.7L32.0 -5.7L36.0 -6.9L40.0 -9.3L44.0 -13.0L48.3 -20.0L50.5 -28.0L50.9 -32.0L50.1 -48.0L51.5 -52.0L54.2 -56.0L58.3 -60.0L63.9 -64.0L68.0 -65.9L75.6 -68.0L92.0 -69.4L100.0 -71.1L129.4 -80.0ZM140.0 -56.6L132.0 -54.2L128.0 -52.0L123.3 -48.0L117.8 -40.0L112.0 -27.3L108.0 -20.3L97.9 -8.0L96.0 -2.7L92.6 16.0L92.8 24.0L93.8 28.0L95.7 32.0L98.6 36.0L103.2 40.0L110.9 44.0L116.0 45.5L124.0 46.6L136.0 45.4L141.0 44.0L148.0 40.9L156.0 36.2L164.9 28.0L184.0 5.4L187.1 0.0L187.7 -4.0L186.1 -8.0L182.0 -12.0L172.0 -19.5L168.7 -24.0L161.1 -44.0L156.0 -51.5L152.0 -54.4L148.0 -56.1L140.0 -56.6ZM286.7 172.0L292.0 169.2L292.0 213.1L288.0 214.8L284.0 217.9L276.0 226.5L268.0 236.5L256.0 253.0L237.8 280.0L233.4 288.0L232.3 292.0L205.7 292.0L207.1 288.0L209.5 284.0L223.2 264.0L244.0 228.5L260.0 203.4L276.0 182.6L286.7 172.0Z" fill="#FEF2EA" stroke="#FEF2EA" stroke-width="0.6" fill-rule="evenodd"/>
<path d="M-42.9 -288.0L-39.7 -292.0L15.8 -292.0L20.0 -279.9L21.8 -272.0L22.0 -264.0L19.6 -252.0L15.5 -244.0L12.0 -242.3L4.0 -243.8L0.0 -243.6L-4.0 -242.3L-8.0 -239.5L-12.0 -234.8L-16.0 -227.4L-24.0 -206.3L-28.0 -200.4L-32.0 -197.6L-40.0 -194.6L-44.0 -192.2L-52.0 -184.0L-61.3 -172.0L-78.2 -136.0L-86.1 -112.0L-89.6 -96.0L-91.4 -84.0L-97.2 -28.0L-96.1 0.0L-93.4 12.0L-93.1 16.0L-93.8 20.0L-95.7 24.0L-98.8 28.0L-104.0 32.3L-112.0 36.6L-120.0 39.1L-128.0 40.3L-136.0 40.4L-144.0 39.7L-152.0 37.8L-156.2 36.0L-162.4 32.0L-166.6 28.0L-172.0 21.1L-176.0 17.7L-180.0 17.2L-188.0 19.6L-192.0 20.1L-196.0 19.5L-200.0 16.8L-202.9 12.0L-204.4 4.0L-204.4 -8.0L-205.5 -12.0L-209.6 -20.0L-212.6 -28.0L-215.3 -48.0L-217.0 -56.0L-230.2 -92.0L-234.2 -108.0L-235.1 -116.0L-235.2 -124.0L-234.1 -132.0L-231.9 -140.0L-225.7 -156.0L-218.3 -172.0L-213.8 -180.0L-208.0 -188.0L-172.0 -229.6L-132.0 -264.8L-124.0 -270.7L-116.0 -275.4L-108.0 -279.1L-100.0 -281.8L-92.0 -283.3L-84.0 -283.7L-64.0 -281.8L-56.0 -282.1L-49.4 -284.0L-42.9 -288.0ZM-96.0 -260.1L-108.0 -256.4L-120.0 -249.5L-148.0 -226.8L-156.0 -219.4L-164.0 -210.9L-184.8 -184.0L-192.5 -172.0L-196.1 -164.0L-200.3 -152.0L-203.6 -140.0L-205.1 -132.0L-205.7 -120.0L-204.5 -108.0L-201.8 -96.0L-191.1 -56.0L-189.5 -36.0L-188.5 -32.0L-186.8 -28.0L-184.1 -24.0L-176.5 -16.0L-172.0 -12.5L-158.2 -4.0L-156.5 0.0L-156.8 8.0L-156.5 12.0L-155.3 16.0L-152.9 20.0L-148.4 24.0L-140.0 27.3L-132.0 28.0L-124.0 26.5L-120.0 24.8L-116.0 21.8L-114.4 20.0L-112.3 16.0L-111.6 12.0L-113.1 0.0L-112.9 -4.0L-108.4 -16.0L-106.7 -24.0L-102.0 -72.0L-100.7 -92.0L-97.8 -108.0L-93.5 -124.0L-85.6 -144.0L-70.9 -176.0L-59.1 -192.0L-52.0 -203.8L-48.0 -209.3L-36.0 -220.3L-32.0 -227.8L-30.0 -236.0L-29.6 -240.0L-30.4 -244.0L-32.0 -246.7L-36.0 -248.8L-52.0 -250.7L-80.0 -259.6L-88.0 -260.6L-96.0 -260.1ZM204.3 -292.0L292.0 -292.0L292.0 -143.1L288.0 -144.2L280.2 -148.0L265.2 -156.0L259.2 -160.0L239.7 -176.0L235.7 -180.0L230.0 -188.0L225.7 -200.0L219.0 -232.0L206.9 -276.0L204.3 -292.0ZM136.9 -56.0L144.0 -56.7L148.0 -56.1L152.0 -54.4L156.0 -51.5L161.1 -44.0L168.7 -24.0L172.0 -19.5L182.0 -12.0L186.1 -8.0L187.7 -4.0L187.1 0.0L184.0 5.4L164.9 28.0L156.0 36.2L148.0 40.9L141.0 44.0L136.0 45.4L124.0 46.6L116.0 45.5L110.9 44.0L103.2 40.0L98.6 36.0L95.7 32.0L93.8 28.0L92.8 24.0L92.6 16.0L96.0 -2.7L97.9 -8.0L108.0 -20.3L120.1 -44.0L123.3 -48.0L128.0 -52.0L136.9 -56.0ZM286.4 216.0L292.0 213.1L292.0 257.6L288.0 259.4L284.0 262.6L276.0 271.6L266.9 284.0L264.8 288.0L263.6 292.0L232.3 292.0L233.4 288.0L237.8 280.0L260.0 247.3L276.0 226.5L286.4 216.0ZM-292.0 260.0L-292.0 259.0L-288.0 266.1L-284.0 278.5L-281.6 292.0L-292.0 292.0L-292.0 260.0Z" fill="#FDE0D0" stroke="#FDE0D0" stroke-width="0.6" fill-rule="evenodd"/>
<path d="M-96.4 -260.0L-88.0 -260.6L-80.0 -259.6L-52.0 -250.7L-36.0 -248.8L-32.0 -246.7L-30.4 -244.0L-29.6 -240.0L-30.0 -236.0L-32.0 -227.8L-36.0 -220.3L-48.0 -209.3L-52.0 -203.8L-59.1 -192.0L-70.9 -176.0L-85.6 -144.0L-93.5 -124.0L-97.8 -108.0L-100.7 -92.0L-102.0 -72.0L-106.7 -24.0L-108.4 -16.0L-112.9 -4.0L-113.1 0.0L-111.6 12.0L-112.3 16.0L-114.4 20.0L-116.0 21.8L-120.0 24.8L-124.0 26.5L-132.0 28.0L-140.0 27.3L-148.4 24.0L-152.9 20.0L-155.3 16.0L-156.5 12.0L-156.8 8.0L-156.5 0.0L-158.2 -4.0L-172.0 -12.5L-176.5 -16.0L-184.1 -24.0L-186.8 -28.0L-188.5 -32.0L-189.5 -36.0L-191.1 -56.0L-201.8 -96.0L-204.5 -108.0L-205.7 -120.0L-205.1 -132.0L-203.6 -140.0L-200.3 -152.0L-196.1 -164.0L-192.5 -172.0L-184.8 -184.0L-164.0 -210.9L-156.0 -219.4L-148.0 -226.8L-120.0 -249.5L-108.0 -256.4L-96.4 -260.0ZM-100.0 -237.2L-112.0 -231.5L-124.0 -222.9L-140.0 -208.5L-150.8 -196.0L-156.0 -188.0L-160.0 -180.0L-167.7 -160.0L-179.7 -136.0L-183.6 -124.0L-184.9 -112.0L-183.9 -100.0L-179.4 -80.0L-171.0 -56.0L-170.0 -48.0L-169.9 -36.0L-169.1 -32.0L-167.4 -28.0L-164.2 -24.0L-160.0 -21.2L-156.0 -19.8L-148.0 -19.1L-132.0 -19.6L-128.0 -20.2L-124.0 -22.3L-122.4 -24.0L-120.4 -28.0L-119.7 -32.0L-120.4 -52.0L-119.9 -60.0L-113.6 -100.0L-103.1 -132.0L-93.8 -152.0L-84.0 -178.3L-72.1 -200.0L-69.4 -208.0L-67.9 -216.0L-67.8 -224.0L-68.8 -228.0L-72.0 -233.0L-76.0 -236.2L-84.0 -238.9L-92.0 -239.0L-100.0 -237.2ZM287.2 260.0L292.0 257.6L292.0 292.0L263.6 292.0L264.8 288.0L269.5 280.0L280.0 266.8L287.2 260.0Z" fill="#F9C8AB" stroke="#F9C8AB" stroke-width="0.6" fill-rule="evenodd"/>
<path d="M-103.3 -236.0L-92.0 -239.0L-84.0 -238.9L-76.0 -236.2L-72.0 -233.0L-68.8 -228.0L-67.8 -224.0L-67.9 -216.0L-69.4 -208.0L-72.1 -200.0L-84.0 -178.3L-93.8 -152.0L-103.1 -132.0L-113.6 -100.0L-119.9 -60.0L-120.4 -52.0L-119.7 -32.0L-120.4 -28.0L-122.4 -24.0L-124.0 -22.3L-128.0 -20.2L-132.0 -19.6L-148.0 -19.1L-156.0 -19.8L-160.0 -21.2L-164.2 -24.0L-167.4 -28.0L-169.1 -32.0L-169.9 -36.0L-170.0 -48.0L-171.0 -56.0L-179.4 -80.0L-183.9 -100.0L-184.9 -112.0L-183.6 -124.0L-179.7 -136.0L-167.7 -160.0L-160.0 -180.0L-156.0 -188.0L-150.8 -196.0L-140.5 -208.0L-128.0 -219.6L-116.0 -228.9L-103.3 -236.0ZM-116.0 -184.9L-120.0 -181.6L-124.4 -176.0L-137.1 -152.0L-155.8 -124.0L-159.5 -116.0L-160.3 -108.0L-159.5 -104.0L-157.9 -100.0L-156.0 -96.9L-152.0 -93.1L-148.0 -91.6L-144.0 -91.8L-140.0 -93.8L-136.0 -97.9L-132.0 -104.4L-123.7 -120.0L-120.0 -128.1L-114.1 -144.0L-107.9 -156.0L-105.7 -164.0L-105.3 -168.0L-105.4 -172.0L-106.8 -180.0L-108.0 -183.4L-112.0 -186.1L-116.0 -184.9Z" fill="#F5AB84" stroke="#F5AB84" stroke-width="0.6" fill-rule="evenodd"/>
<path d="M-117.0 -184.0L-116.0 -184.9L-112.0 -186.1L-108.0 -183.4L-106.8 -180.0L-105.4 -172.0L-105.3 -168.0L-105.7 -164.0L-107.9 -156.0L-114.1 -144.0L-120.0 -128.1L-123.7 -120.0L-132.0 -104.4L-136.0 -97.9L-140.0 -93.8L-144.0 -91.8L-148.0 -91.6L-152.0 -93.1L-156.0 -96.9L-157.9 -100.0L-159.5 -104.0L-160.3 -108.0L-159.5 -116.0L-155.8 -124.0L-137.1 -152.0L-124.4 -176.0L-120.0 -181.6L-117.0 -184.0Z" fill="#E48E6C" stroke="#E48E6C" stroke-width="0.6" fill-rule="evenodd"/>
<path d="M-66.5 -266.2v0.6M-39.2 -266.2v0.6M-11.9 -266.2v0.6M15.4 -266.2v0.6M70.0 -266.2v0.6M-121.0 -238.9v0.6M-93.8 -238.9v0.6M-66.5 -238.9v0.6M42.7 -238.9v0.6M70.0 -238.9v0.6M97.3 -238.9v0.6M124.6 -238.9v0.6M151.8 -238.9v0.6M-175.6 -211.7v0.6M-148.3 -211.7v0.6M-121.0 -211.7v0.6M-93.8 -211.7v0.6M151.8 -211.7v0.6M179.1 -211.7v0.6M-202.9 -184.4v0.6M-175.6 -184.4v0.6M-148.3 -184.4v0.6M-121.0 -184.4v0.6M-93.8 -184.4v0.6M70.0 -184.4v0.6M97.3 -184.4v0.6M179.1 -184.4v0.6M206.4 -184.4v0.6M-230.2 -157.2v0.6M-202.9 -157.2v0.6M-175.6 -157.2v0.6M-148.3 -157.2v0.6M-121.0 -157.2v0.6M-93.8 -157.2v0.6M-11.9 -157.2v0.6M15.4 -157.2v0.6M42.7 -157.2v0.6M70.0 -157.2v0.6M151.8 -157.2v0.6M-230.2 -129.9v0.6M-202.9 -129.9v0.6M-175.6 -129.9v0.6M-148.3 -129.9v0.6M-121.0 -129.9v0.6M-93.8 -129.9v0.6M15.4 -129.9v0.6M42.7 -129.9v0.6M70.0 -129.9v0.6M97.3 -129.9v0.6M124.6 -129.9v0.6M151.8 -129.9v0.6M179.1 -129.9v0.6M206.4 -129.9v0.6M-257.5 -102.6v0.6M-230.2 -102.6v0.6M-202.9 -102.6v0.6M-175.6 -102.6v0.6M-148.3 -102.6v0.6M-121.0 -102.6v0.6M-93.8 -102.6v0.6M-39.2 -102.6v0.6M-11.9 -102.6v0.6M15.4 -102.6v0.6M42.7 -102.6v0.6M70.0 -102.6v0.6M97.3 -102.6v0.6M124.6 -102.6v0.6M179.1 -102.6v0.6M206.4 -102.6v0.6M233.7 -102.6v0.6M261.0 -102.6v0.6M-257.5 -75.4v0.6M-230.2 -75.4v0.6M-202.9 -75.4v0.6M-175.6 -75.4v0.6M-148.3 -75.4v0.6M-11.9 -75.4v0.6M15.4 -75.4v0.6M42.7 -75.4v0.6M70.0 -75.4v0.6M206.4 -75.4v0.6M233.7 -75.4v0.6M261.0 -75.4v0.6M-257.5 -48.1v0.6M-230.2 -48.1v0.6M-202.9 -48.1v0.6M-175.6 -48.1v0.6M-148.3 -48.1v0.6M-121.0 -48.1v0.6M-39.2 -48.1v0.6M-11.9 -48.1v0.6M124.6 -48.1v0.6M151.8 -48.1v0.6M233.7 -48.1v0.6M261.0 -48.1v0.6M-257.5 -20.9v0.6M-230.2 -20.9v0.6M-202.9 -20.9v0.6M-175.6 -20.9v0.6M-148.3 -20.9v0.6M-121.0 -20.9v0.6M124.6 -20.9v0.6M151.8 -20.9v0.6M233.7 -20.9v0.6M261.0 -20.9v0.6M-257.5 6.4v0.6M-230.2 6.4v0.6M-202.9 6.4v0.6M-175.6 6.4v0.6M-148.3 6.4v0.6M97.3 6.4v0.6M124.6 6.4v0.6M151.8 6.4v0.6M179.1 6.4v0.6M233.7 6.4v0.6M261.0 6.4v0.6M-257.5 33.7v0.6M-202.9 33.7v0.6M-175.6 33.7v0.6M-148.3 33.7v0.6M-121.0 33.7v0.6M97.3 33.7v0.6M124.6 33.7v0.6M151.8 33.7v0.6M233.7 33.7v0.6M-202.9 60.9v0.6M-175.6 60.9v0.6M-39.2 60.9v0.6M-11.9 60.9v0.6M15.4 60.9v0.6M179.1 60.9v0.6M206.4 60.9v0.6M233.7 60.9v0.6M-121.0 88.2v0.6M-93.8 88.2v0.6M-66.5 88.2v0.6M-39.2 88.2v0.6M-11.9 88.2v0.6M15.4 88.2v0.6M42.7 88.2v0.6M70.0 88.2v0.6M97.3 88.2v0.6M124.6 88.2v0.6M151.8 88.2v0.6M179.1 88.2v0.6M206.4 88.2v0.6M233.7 88.2v0.6M-148.3 115.4v0.6M-121.0 115.4v0.6M-93.8 115.4v0.6M-66.5 115.4v0.6M-39.2 115.4v0.6M-11.9 115.4v0.6M15.4 115.4v0.6M42.7 115.4v0.6M70.0 115.4v0.6M97.3 115.4v0.6M124.6 115.4v0.6M151.8 115.4v0.6M179.1 115.4v0.6M206.4 115.4v0.6M233.7 115.4v0.6M-175.6 142.7v0.6M-148.3 142.7v0.6M-121.0 142.7v0.6M-93.8 142.7v0.6M-66.5 142.7v0.6M-39.2 142.7v0.6M-11.9 142.7v0.6M15.4 142.7v0.6M42.7 142.7v0.6M70.0 142.7v0.6M97.3 142.7v0.6M124.6 142.7v0.6M151.8 142.7v0.6M179.1 142.7v0.6M206.4 142.7v0.6M-175.6 170.0v0.6M-148.3 170.0v0.6M-121.0 170.0v0.6M-93.8 170.0v0.6M-66.5 170.0v0.6M-39.2 170.0v0.6M-11.9 170.0v0.6M15.4 170.0v0.6M42.7 170.0v0.6M70.0 170.0v0.6M97.3 170.0v0.6M124.6 170.0v0.6M151.8 170.0v0.6M179.1 170.0v0.6M206.4 170.0v0.6M-175.6 197.2v0.6M-148.3 197.2v0.6M-121.0 197.2v0.6M-93.8 197.2v0.6M-66.5 197.2v0.6M-39.2 197.2v0.6M-11.9 197.2v0.6M15.4 197.2v0.6M42.7 197.2v0.6M70.0 197.2v0.6M97.3 197.2v0.6M124.6 197.2v0.6M151.8 197.2v0.6M179.1 197.2v0.6M-148.3 224.5v0.6M-121.0 224.5v0.6M-93.8 224.5v0.6M-66.5 224.5v0.6M-39.2 224.5v0.6M-11.9 224.5v0.6M15.4 224.5v0.6M42.7 224.5v0.6M70.0 224.5v0.6M97.3 224.5v0.6M124.6 224.5v0.6M151.8 224.5v0.6M-121.0 251.7v0.6M-93.8 251.7v0.6M-66.5 251.7v0.6M-39.2 251.7v0.6M-11.9 251.7v0.6M15.4 251.7v0.6M42.7 251.7v0.6M70.0 251.7v0.6M97.3 251.7v0.6M124.6 251.7v0.6M-39.2 279.0v0.6M-11.9 279.0v0.6M15.4 279.0v0.6M42.7 279.0v0.6" fill="none" stroke="#2b2b2b" stroke-opacity="0.88" stroke-width="5.4" stroke-linecap="square" filter="url(#dotblur)"/>
<path d="M48.0 -280.7L47.0 -272.2L43.4 -268.3L39.1 -265.4L35.0 -262.2L31.1 -260.4L27.6 -254.2L25.9 -251.1L23.3 -250.8L19.2 -255.0L13.4 -254.8L8.9 -256.1L3.1 -253.0L-3.5 -249.7L-12.9 -246.7L-21.5 -245.6L-29.9 -243.6L-36.4 -243.8L-41.6 -240.8L-44.1 -242.5L-46.8 -240.9L-45.8 -244.9L-47.0 -248.6L-49.2 -250.9L-48.4 -253.9L-45.5 -258.3L-48.7 -260.0L-52.3 -261.6L-58.1 -262.0L-61.7 -261.2L-69.1 -261.7L-74.4 -266.6L-84.3 -267.3L-92.2 -267.7L-95.8 -263.3L-93.5 -257.0L-98.6 -250.2L-105.3 -248.1L-110.3 -250.2L-117.4 -249.5L-125.7 -246.7L-134.7 -245.1L-138.6 -241.0L-142.3 -236.8L-148.5 -234.9L-153.7 -232.3L-156.0 -228.7L-155.9 -224.7L-154.3 -220.3L-152.6 -214.0L-151.9 -209.8L-148.6 -206.1L-146.7 -202.7L-146.5 -200.2L-144.2 -199.9L-140.9 -204.2L-138.8 -208.9L-135.9 -210.8L-131.8 -210.9L-125.8 -211.9L-126.0 -215.6L-123.2 -217.8L-117.7 -217.8L-113.2 -218.4L-110.5 -214.9L-106.4 -213.4L-106.1 -210.0L-102.4 -208.9L-101.6 -206.4L-102.4 -203.6L-105.6 -202.0L-110.5 -199.4L-111.2 -196.6L-109.0 -196.6L-108.8 -195.5L-113.8 -193.3L-118.2 -187.0L-121.2 -183.1L-126.0 -179.9L-132.2 -179.9L-138.4 -177.2L-144.5 -172.2L-147.2 -166.4L-144.8 -163.1L-140.7 -161.9L-135.7 -162.8L-129.4 -162.7L-126.2 -162.7L-121.2 -163.2L-122.6 -160.9L-122.7 -156.4L-120.3 -154.5L-122.5 -150.2L-119.3 -152.7L-117.0 -156.4L-113.7 -160.0L-114.0 -162.9L-117.8 -164.5L-119.8 -165.5L-117.8 -168.2L-116.0 -171.9L-113.9 -172.1L-110.7 -170.5L-108.7 -170.6L-108.5 -167.2L-105.9 -168.2L-102.9 -167.2L-100.5 -169.2L-100.2 -173.5L-100.7 -176.6L-100.1 -182.8L-99.9 -188.7L-100.2 -192.5L-103.4 -194.4L-107.6 -195.6L-105.5 -198.5L-102.8 -201.7L-102.1 -203.8L-101.3 -205.9L-99.5 -203.9L-95.2 -204.2L-93.1 -205.2L-91.6 -207.6L-93.2 -210.3L-90.4 -209.8L-88.3 -209.0L-88.4 -212.4L-91.3 -215.1L-91.0 -217.6L-97.0 -217.9L-98.1 -220.3L-96.0 -222.9L-96.0 -224.1L-96.7 -227.9L-95.4 -230.2L-91.3 -229.5L-88.2 -226.2L-87.4 -223.0L-83.9 -220.9L-80.3 -218.3L-75.9 -215.5L-74.5 -210.4L-72.2 -207.4L-67.6 -205.7L-59.8 -203.3L-54.8 -201.6L-51.5 -197.7L-50.1 -196.5L-49.2 -198.8L-47.5 -196.2L-47.6 -195.1L-43.4 -197.6L-43.7 -200.6L-46.0 -204.3L-49.4 -205.6L-53.4 -210.9L-58.8 -212.1L-61.4 -211.4L-65.2 -214.6L-70.1 -215.8L-72.8 -217.6L-72.6 -219.4L-66.6 -218.0L-65.8 -222.1L-69.6 -224.8L-68.1 -228.5L-66.5 -231.8L-64.7 -231.7L-65.5 -227.1L-61.9 -221.6L-58.0 -219.4L-55.4 -218.9L-52.2 -217.6L-47.1 -216.1L-42.3 -213.4L-39.1 -210.9L-37.2 -206.6L-33.2 -205.2L-31.7 -204.9L-28.2 -208.5L-25.8 -210.4L-22.4 -212.8L-19.7 -212.0L-14.8 -211.9L-11.9 -213.1L-11.7 -216.7L-12.3 -219.8L-8.6 -222.6L-3.6 -226.3L1.2 -232.7L-0.8 -236.9L2.1 -239.0L3.4 -242.7L9.1 -246.9L10.8 -247.3L19.0 -246.8L23.6 -249.7L26.2 -248.9L27.3 -247.1L29.8 -243.1L34.2 -243.6L38.1 -243.0L36.8 -237.8L38.7 -233.7L38.1 -230.1L35.4 -226.2L33.8 -221.2L33.4 -216.0L34.7 -211.7L30.7 -210.2L28.3 -209.0L22.2 -210.8L14.0 -211.5L6.7 -212.3L4.3 -206.3L3.9 -201.3L4.2 -198.3L7.4 -193.2L11.6 -190.0L14.3 -189.8L15.7 -186.7L12.6 -185.5L6.5 -186.3L5.2 -185.8L6.0 -180.9L0.6 -182.5L-0.3 -182.0L-4.7 -179.0L-4.9 -175.1L-9.1 -173.5L-10.5 -171.9L-12.1 -169.4L-13.6 -165.0L-15.6 -162.4L-19.9 -161.9L-22.5 -160.1L-24.3 -158.9L-23.8 -157.1L-23.3 -154.3L-21.6 -151.6L-20.9 -147.0L-21.8 -144.0L-24.9 -141.1L-26.3 -140.4L-26.6 -143.7L-26.8 -147.5L-26.1 -150.9L-27.2 -154.1L-28.0 -155.9L-30.5 -155.4L-30.3 -157.4L-33.5 -156.3L-35.5 -153.9L-38.0 -154.7L-39.7 -155.8L-43.9 -153.2L-49.1 -148.6L-50.8 -150.0L-53.4 -149.1L-53.4 -146.6L-54.8 -142.0L-53.2 -138.6L-53.1 -134.1L-54.7 -131.5L-58.3 -134.0L-59.4 -133.5L-58.8 -129.7L-57.9 -127.0L-55.1 -126.7L-54.2 -124.6L-56.4 -122.6L-59.0 -120.9L-63.4 -119.2L-64.3 -116.0L-66.9 -114.5L-63.6 -114.8L-61.8 -113.7L-59.0 -115.7L-55.5 -119.0L-52.0 -122.5L-48.8 -120.8L-46.4 -118.4L-44.7 -114.6L-43.4 -109.7L-45.4 -104.4L-46.9 -98.8L-43.9 -96.2L-41.3 -97.3L-40.1 -98.8L-40.0 -103.2L-39.8 -107.7L-37.0 -114.4L-36.2 -115.6L-37.7 -121.9L-38.9 -123.4L-41.9 -124.4L-42.1 -128.7L-40.4 -132.2L-40.8 -136.9L-41.7 -141.5L-40.3 -144.4L-37.8 -148.4L-35.1 -149.6L-34.4 -148.8L-32.8 -146.7L-30.9 -142.8L-29.5 -139.8L-26.7 -134.7L-24.8 -134.1L-24.6 -130.3L-24.2 -134.6L-19.6 -139.6L-17.2 -140.4L-13.4 -136.6L-11.8 -129.8L-11.0 -123.0L-13.0 -120.0L-17.2 -115.3L-19.5 -113.1L-20.9 -109.6L-22.6 -104.7L-22.9 -100.0L-24.6 -95.9L-25.3 -91.1L-23.0 -92.2L-24.6 -88.5L-28.8 -83.5L-32.3 -79.8L-33.7 -76.8L-35.7 -73.9L-39.0 -73.3L-43.9 -73.0L-44.2 -76.5L-48.8 -75.2L-51.9 -74.2L-61.0 -74.0L-66.2 -75.4L-67.1 -79.4L-64.4 -81.0L-58.9 -84.1L-53.5 -84.4L-58.6 -86.9L-62.4 -89.8L-67.2 -89.1L-70.4 -90.1L-72.2 -84.5L-68.8 -82.0L-69.3 -75.6L-69.1 -71.6L-63.9 -67.8L-69.0 -66.6L-71.0 -71.0L-74.1 -69.1L-72.5 -64.1L-73.3 -60.4L-74.8 -56.4L-76.9 -55.8L-76.1 -52.3L-79.0 -50.3L-79.6 -45.9L-76.9 -43.5L-82.2 -40.1L-87.8 -35.1L-84.5 -35.0L-80.1 -34.0L-75.9 -32.5L-72.7 -28.6L-69.3 -25.2L-71.2 -22.4L-76.6 -24.2L-83.2 -25.4L-89.8 -26.6L-95.7 -30.2L-97.0 -33.4L-97.1 -28.8L-92.4 -25.6L-85.7 -24.6L-79.4 -22.8L-75.5 -20.2L-74.0 -17.1L-78.9 -15.3L-84.1 -10.3L-77.2 -12.2L-70.5 -11.8L-71.4 -5.0L-64.9 -2.3L-60.4 4.2L-57.8 8.1L-51.5 13.1L-53.7 16.4L-56.2 22.7L-59.6 25.9L-64.3 26.0L-68.0 22.1L-67.9 28.8L-63.2 33.6L-62.5 39.1L-57.9 42.0L-58.6 48.3L-61.5 51.6L-61.3 55.2L-56.8 56.8L-53.8 59.7L-48.3 58.6L-45.2 59.9L-43.7 64.8L-39.0 66.2L-38.8 72.9L-33.9 76.2L-29.5 83.2L-24.6 85.7L-18.1 85.1L-14.5 86.7L-9.5 90.0L-6.1 87.2L-0.0 92.3L5.0 95.8L12.2 99.6L18.5 102.8L16.8 105.8L13.6 110.8L8.8 111.7L5.6 107.0L1.8 103.9L-1.9 109.3L-4.8 110.6L-1.0 118.4L-10.6 121.2L-16.7 126.5L-21.7 129.5L-26.9 129.3L-32.1 128.7L-34.7 125.2L-39.0 130.1L-43.7 134.5L-43.4 142.0L-48.1 147.9L-52.8 150.9L-56.5 155.1L-62.7 157.7L-68.8 160.6L-67.6 153.2L-65.2 143.8L-60.4 135.6L-53.0 131.2L-44.9 126.8L-41.2 123.2L-35.6 120.1L-31.6 116.5L-41.5 117.2L-45.7 119.1L-50.7 120.1L-55.9 119.8L-63.2 121.3L-65.4 117.0L-69.7 116.1L-77.7 110.9L-80.8 108.1L-87.6 108.1L-96.8 109.4L-102.1 108.9L-107.4 109.3L-110.7 112.6L-108.8 119.1L-103.9 123.9L-102.6 128.1L-106.2 132.6L-112.7 136.7L-117.8 141.9L-125.9 144.8L-133.4 148.1L-138.6 147.2L-143.7 148.8L-153.6 148.3L-158.9 145.6L-159.3 142.9L-165.3 142.2L-171.0 141.9L-174.7 144.0L-183.1 141.0L-185.9 144.2L-186.5 147.8L-188.5 153.8L-193.9 159.9L-198.9 161.6L-204.5 158.0L-209.5 155.0L-207.0 152.0L-201.8 149.9L-197.5 146.6L-195.4 143.0L-197.1 138.0L-192.0 136.0L-190.9 131.2L-190.7 129.6L-195.1 126.7L-200.9 123.6L-197.9 121.3L-191.6 120.6L-193.1 116.1L-199.6 114.3L-206.8 110.0L-208.3 109.4L-211.9 111.7L-212.0 117.1L-213.1 120.6L-209.1 123.2L-206.1 126.3L-205.4 131.4L-209.0 131.6L-216.3 126.9L-223.2 125.8L-225.0 131.5L-229.8 137.5L-232.6 143.7L-235.8 146.2L-237.9 148.1L-242.7 145.8L-241.5 150.9M-151.0 -122.3L-148.5 -129.1L-149.3 -132.1L-149.4 -139.4L-154.4 -141.5L-158.1 -144.9L-164.0 -146.1L-170.2 -146.9L-175.4 -145.6L-176.4 -151.7L-179.3 -156.4L-185.0 -158.0L-193.7 -154.1L-198.6 -146.9L-196.8 -143.0L-189.6 -139.3L-183.7 -138.4L-179.3 -135.6L-177.5 -133.7L-172.2 -132.1L-165.2 -132.8L-159.2 -132.1L-159.9 -127.2L-161.2 -121.5L-157.2 -118.4L-153.1 -119.6L-151.0 -122.3M-171.3 -94.9L-171.7 -101.2L-173.8 -107.4L-178.5 -109.4L-182.6 -107.6L-183.1 -101.5L-179.6 -97.5L-175.6 -94.2L-171.3 -94.9M-167.2 41.7L-161.4 44.7L-155.1 48.9L-149.3 51.4L-143.3 51.3L-145.4 52.6L-151.4 52.7L-156.7 51.8L-161.9 48.0L-165.5 44.3L-167.2 41.7M17.5 -178.2L13.0 -177.6L10.8 -176.3L7.4 -176.5L3.1 -175.6L-0.9 -175.7L-4.0 -174.2L-4.2 -172.7L-1.8 -172.3L-3.6 -170.8L-5.0 -167.4L-3.5 -165.5L-0.9 -165.1L-0.3 -162.7L0.3 -159.8L3.0 -157.4L3.8 -155.5L4.5 -152.6L6.8 -150.7L8.7 -150.6L7.3 -148.8L5.4 -146.0L5.0 -142.8L9.5 -142.5L9.9 -141.1L7.5 -138.5L12.1 -138.1L13.1 -140.8L14.6 -143.5L14.9 -146.3L15.5 -147.7L14.5 -151.1L15.3 -153.4L13.0 -151.2L13.8 -154.9L13.4 -156.4L9.8 -155.7L8.9 -159.6L8.5 -162.9L12.6 -163.1L13.0 -165.5L12.7 -168.9L15.4 -169.6L15.0 -171.1L11.7 -171.4L9.6 -172.5L9.1 -173.5L12.7 -173.3L14.4 -175.5L17.5 -178.2M29.0 -169.8L24.7 -169.0L18.8 -167.8L17.4 -162.7L17.0 -159.4L15.3 -156.2L16.7 -153.7L19.6 -152.9L22.0 -153.0L23.8 -157.1L27.6 -156.4L28.5 -160.1L25.7 -162.1L28.4 -164.5L30.3 -166.6L29.0 -169.8M38.0 -110.3L44.3 -105.9L44.8 -100.7L44.4 -97.5L40.3 -94.9L38.9 -98.8L35.7 -98.1L32.1 -98.9L28.3 -98.6L26.4 -101.5L25.7 -106.3L29.1 -108.7L33.6 -109.8L38.0 -110.3M-71.1 -45.3L-63.3 -49.5L-60.2 -46.2L-58.6 -42.6L-60.4 -40.0L-64.6 -43.9L-69.6 -44.4L-71.1 -45.3M-58.2 -41.5L-55.3 -38.0L-52.9 -33.7L-51.6 -27.4L-51.9 -21.5L-55.5 -21.9L-56.7 -28.9L-58.7 -35.3L-59.8 -39.2L-58.2 -41.5M-16.5 -55.6L-13.1 -52.4L-11.5 -49.7L-9.5 -46.5L-9.2 -43.1L-12.1 -42.3L-13.9 -40.4L-17.0 -42.0L-17.3 -45.2L-19.5 -47.1L-17.1 -51.2L-16.5 -55.6M-15.7 -43.0L-15.8 -39.2L-17.5 -37.5L-20.0 -39.2L-18.8 -42.2L-15.7 -43.0M-31.2 -29.1L-30.4 -25.5L-31.8 -20.7L-34.7 -18.4L-36.2 -20.9L-34.2 -24.9L-31.2 -29.1M-50.3 8.0L-46.5 4.1L-41.8 1.5L-37.8 3.6L-40.1 6.0L-43.2 8.4L-46.0 11.9L-49.1 11.8L-50.3 8.0M-44.3 49.2L-42.4 46.3L-39.5 45.4L-36.5 48.4L-36.2 51.8L-32.0 55.5L-33.9 56.4L-39.6 52.6L-44.3 49.2M-1.7 83.0L0.7 80.3L3.5 80.7L2.9 82.9L-1.7 83.0M-64.4 -230.7L-64.8 -236.7L-64.5 -239.0L-59.4 -238.1L-52.5 -237.0L-52.4 -234.3L-55.6 -233.5L-60.2 -232.9L-64.4 -230.7M-36.2 -220.8L-38.7 -224.1L-39.1 -231.0L-35.7 -233.1L-33.7 -228.1L-32.1 -223.0L-36.2 -220.8M-35.0 -211.6L-36.2 -216.6L-35.6 -219.9L-33.3 -217.6L-32.8 -214.1L-35.0 -211.6M-101.5 -232.3L-105.8 -232.2L-113.1 -228.7L-111.4 -231.4L-107.5 -233.8L-102.4 -234.3L-101.5 -232.3M-136.9 -216.6L-138.7 -213.5L-143.7 -208.2L-143.6 -212.9L-141.1 -217.2L-138.5 -218.2L-136.9 -216.6M-12.5 -230.2L-13.0 -233.3L-9.7 -232.5L-12.5 -230.2M-211.0 180.9L-204.8 181.2L-198.8 177.8L-198.4 172.4L-192.8 175.4L-186.7 180.3L-182.5 183.8L-184.8 190.0L-178.4 190.0L-172.6 193.1L-168.5 193.8L-165.4 195.7L-159.9 196.0L-155.5 191.3L-150.1 186.0L-142.9 182.9L-141.3 178.2L-139.0 174.1L-142.9 172.2L-145.2 173.0L-148.5 175.7L-152.2 180.1L-157.8 181.6L-165.4 180.5L-165.0 178.8L-169.1 180.1L-174.6 180.8L-178.7 180.6L-182.4 176.1L-185.8 173.3L-192.3 171.9L-196.7 171.0L-198.7 172.1L-202.0 170.7L-205.5 170.0L-207.1 172.5L-208.0 175.8L-211.4 178.7L-211.0 180.9M-187.5 181.1L-187.2 185.3L-190.8 185.6L-192.7 182.8L-197.0 183.1L-196.5 178.8L-191.8 178.9L-187.5 181.1M-142.8 170.2L-139.8 170.8L-137.2 169.5L-133.9 170.2L-131.6 175.9L-125.2 174.8L-120.3 175.7L-120.1 171.5L-123.6 167.1L-124.2 159.0L-125.4 158.8L-128.2 162.3L-133.2 166.2L-136.4 164.2L-139.8 166.0L-142.8 170.2M-122.7 157.1L-117.0 157.6L-116.0 152.8L-113.0 148.9L-107.1 149.0L-103.9 140.4L-100.1 134.3L-96.3 126.4L-100.1 128.2L-105.0 133.5L-110.3 141.7L-116.1 149.6L-120.8 154.1L-122.7 157.1M-117.1 173.6L-108.9 172.9M-102.2 173.5L-97.7 172.6M-91.2 171.6L-89.0 171.0M-79.4 166.5L-73.9 162.1L-70.6 160.8M256.4 124.0L247.0 123.7L240.9 123.3L232.6 124.7L225.9 128.9L223.6 131.7L216.9 131.3L210.6 131.1L203.8 129.8L196.2 130.8L188.1 128.8L181.4 123.8L175.5 119.7L169.6 115.7L164.4 110.9L156.3 107.8L154.1 106.7L158.0 102.6L162.6 103.6L158.7 101.5L153.1 100.2L147.4 102.5L138.6 106.3L132.2 104.4L126.6 103.6L121.0 103.0L114.2 102.1L106.9 99.7L100.1 98.0L95.1 96.4L97.0 100.4L96.5 102.1L91.5 101.7L86.2 102.0L81.4 104.2L74.8 106.8L69.5 107.0L69.1 112.7L64.2 118.2L62.4 113.9L63.3 109.7L61.0 114.7L59.8 121.5L59.8 127.1L58.5 131.4L55.3 140.3L49.1 146.6L42.5 151.1L45.4 146.8L49.3 143.0L53.6 136.0L54.1 130.7L54.0 127.2L49.4 128.6L44.0 131.5L41.1 126.6L35.3 127.4L30.3 121.6L31.2 116.6L32.6 113.8L37.8 109.8L36.3 105.5L28.1 108.0L22.2 104.3L28.5 99.5L32.4 99.7L30.1 96.2L24.0 92.8L21.9 89.2L25.7 84.0L28.3 79.9L32.0 74.7L39.2 73.7L45.2 72.3L52.3 69.5L57.1 68.0L63.2 66.6L65.2 60.8L67.3 54.5L72.0 50.4L74.7 50.4L76.5 45.0L80.6 42.1L84.9 39.6L87.7 40.9L90.9 33.1L92.6 24.8L92.2 16.3L96.1 11.8L93.2 9.0L86.4 9.8L80.0 7.0L82.4 4.3L86.9 3.0L91.4 -0.0L93.6 -3.3L88.9 -7.0L87.0 -12.2L95.0 -13.3L101.9 -11.6L103.7 -7.3L109.3 -4.8L113.9 -2.0L116.1 2.0L122.8 6.4L127.4 8.6L131.7 11.1L137.4 10.1L146.0 6.4L148.4 0.6L150.7 -5.3L154.0 -13.5L154.1 -20.8L163.4 -23.0L170.9 -28.6L164.4 -32.0L155.3 -28.8L150.6 -32.8L144.4 -34.7L140.5 -31.0L136.3 -27.7L129.0 -28.6L123.9 -27.3L119.0 -25.3L116.0 -33.3L118.8 -39.8L120.7 -43.9L129.4 -48.4L130.3 -52.6L125.0 -55.6L118.2 -56.1L123.7 -63.6L128.4 -69.7L132.7 -76.6L135.9 -84.9L134.9 -91.0L140.3 -95.7L144.9 -94.1L149.8 -91.7L154.6 -89.3L156.9 -83.4L160.5 -78.3L163.6 -71.5L171.6 -67.6L177.4 -66.3L183.5 -63.9L180.3 -65.6L173.9 -68.5L169.4 -72.5L166.3 -77.5L166.9 -80.7L171.6 -80.0L176.1 -82.1L178.2 -86.9L177.7 -92.5L176.7 -96.4L172.6 -97.7L169.0 -96.0L172.3 -100.3L177.8 -98.6L184.8 -91.8L192.9 -87.9L190.7 -84.1L183.5 -87.5L185.7 -82.7L189.0 -80.2L193.1 -76.9L198.4 -71.4L205.7 -70.8L207.8 -75.6L210.5 -71.2L213.4 -67.3L218.1 -62.5L224.6 -62.7L227.8 -61.0L232.7 -61.1L238.6 -59.5L247.6 -64.0L252.4 -58.3L257.1 -54.6L263.4 -48.8L270.1 -42.8L277.6 -42.0L281.5 -43.1M283.2 -29.8L283.4 -21.8L282.0 -17.2L282.8 -12.3L283.0 -7.4L283.1 -3.0L284.8 -0.5M284.3 17.4L284.7 19.4M259.0 118.6L251.8 116.4L250.2 114.5L256.7 109.5L262.7 109.9M156.4 103.2L153.2 106.1L146.7 108.5L140.9 109.7L137.9 108.9L141.1 106.3L146.7 103.5L152.3 102.3L156.4 103.2M128.0 111.7L121.7 111.5L116.9 109.0L119.7 106.6L123.4 109.6L128.0 111.7M64.0 132.4L61.2 130.1L63.8 126.3L66.6 126.4L65.7 130.5L64.0 132.4M40.9 152.5L37.3 156.4L33.5 160.2M31.6 162.5L26.5 163.7L22.0 166.5L17.1 168.0M10.4 170.5L5.1 171.2M-5.9 169.8L-10.7 167.9L-15.3 165.9L-20.2 164.3M16.6 114.0L20.3 115.3L22.8 115.3L19.1 114.1L16.6 114.0M28.9 128.0L31.7 129.3L32.3 126.7L28.9 128.0M141.7 -97.1L148.2 -95.2L154.7 -95.9L160.5 -95.7L164.5 -97.7L161.4 -102.8L161.3 -109.2L156.6 -117.6L152.2 -115.9L149.3 -112.5L146.7 -108.5L148.4 -102.0L144.5 -98.2L141.7 -97.1M162.5 -77.5L163.3 -81.4L162.1 -86.9L160.6 -83.6L162.5 -77.5M174.7 -85.2L174.2 -92.6L176.9 -91.7L177.8 -85.6L174.7 -85.2M218.1 -62.5L213.8 -69.5L213.2 -69.7L215.9 -66.4M195.2 7.2L192.4 2.9L190.3 -1.7L186.8 -4.9L185.2 -9.7L189.1 -16.5L194.4 -18.4L196.4 -12.0L194.7 -6.8L196.3 1.7L195.2 7.2M221.0 -9.6L214.3 -7.9L206.7 -9.0L199.9 -12.2L198.5 -17.4L203.7 -16.0L211.5 -13.3L219.2 -13.0L221.0 -9.6M198.4 -19.1L196.6 -25.9L197.7 -32.4L203.2 -35.8L203.5 -31.1L212.1 -28.3L208.0 -23.7L203.0 -23.5L199.4 -18.9L198.4 -19.1M219.7 -25.4L216.2 -32.3L211.6 -41.1L213.4 -39.6L219.3 -32.8L221.0 -27.9L219.7 -25.4M209.6 -37.7L205.7 -41.8L202.5 -49.0L205.9 -50.2L208.3 -44.3L209.6 -37.7M176.3 21.0L171.0 21.0L163.1 25.3L159.7 22.4L166.2 20.4L173.6 19.2L176.3 21.0M91.7 59.6L86.9 58.6L86.3 52.9L89.0 48.3L93.4 49.6L94.2 55.5L91.7 59.6M113.7 57.9L112.6 54.9L112.4 50.0L111.4 42.8L114.6 40.6L115.7 47.9L116.0 54.1L113.7 57.9M90.5 -96.4L92.6 -91.0L94.8 -85.4L93.9 -79.4L93.0 -74.2L89.7 -70.1L84.3 -62.4L79.2 -58.0L71.1 -57.5L72.6 -51.8L66.8 -48.5L62.6 -43.0L58.1 -37.8L53.8 -32.3L53.7 -26.2L55.5 -21.9L50.9 -18.0L47.4 -14.9L39.7 -16.9L34.6 -17.6L29.6 -17.8L24.8 -20.8L18.6 -22.1L14.6 -23.4L12.4 -26.6L12.4 -32.2L7.9 -35.8L12.6 -41.3L16.2 -47.0L17.8 -53.3L20.7 -56.9L20.6 -61.6L24.3 -64.9L28.2 -68.1L29.9 -72.2L31.8 -78.6L37.1 -77.7L40.1 -82.2L47.5 -82.3L55.4 -83.7L61.6 -84.8L66.4 -83.5L71.0 -83.2L76.2 -87.7L82.6 -91.1L87.3 -94.3L90.5 -96.4M112.3 -51.2L111.8 -41.8L109.2 -35.5L108.1 -30.3L109.2 -25.2L103.0 -29.5L98.1 -30.0L93.8 -28.7L90.7 -23.4L87.4 -17.8L84.7 -15.7L86.7 -6.8L82.5 -0.7L75.9 -0.7L70.5 -4.9L69.8 -11.1L72.7 -16.8L76.4 -24.8L79.8 -32.3L84.2 -35.7L87.8 -43.8L90.2 -49.0L97.9 -48.8L103.2 -48.1L107.2 -50.4L112.3 -51.2M117.3 -7.2L113.7 -7.0L108.0 -9.5L105.6 -11.1L108.3 -15.2L113.2 -19.3L116.6 -14.3L117.3 -7.2M85.9 37.3L79.8 39.8L75.2 39.1L69.9 38.7L65.9 35.0L66.1 29.4L70.1 25.5L71.3 20.4L77.8 20.1L85.4 16.6L89.4 19.0L88.3 25.3L86.8 31.6L85.9 37.3M68.9 44.7L63.4 45.7L57.9 39.8L57.6 35.3L64.3 31.4L66.1 37.4L68.9 41.4L68.9 44.7M80.3 12.0L74.3 15.8L68.9 13.4L69.6 9.2L74.1 8.4L80.3 12.0M77.9 6.1L73.3 7.7L68.6 6.0L70.2 0.6L75.0 2.6L77.9 6.1M92.6 13.8L89.3 14.9L87.6 11.5L91.0 8.8L92.6 13.8M66.1 -11.7L66.5 -4.7L65.8 2.3L58.9 6.2L57.0 2.0L59.3 -1.0L61.1 -6.4L61.4 -10.8L66.1 -11.7M58.5 -9.3L58.4 -1.0L51.8 -1.8L47.4 -3.3L41.0 -1.4L38.8 1.4L34.5 -1.2L29.1 -7.8L28.4 -12.6L30.5 -16.2L35.2 -16.4L40.6 -14.8L45.9 -12.3L50.3 -12.5L55.2 -10.7L58.5 -9.3M50.9 -1.8L47.4 2.5L40.8 4.3L37.5 2.0L41.0 -1.1L45.3 -2.0L50.9 -1.8M61.3 27.3L57.6 30.0L54.0 27.5L52.9 22.5L56.4 18.3L62.4 17.9L63.1 23.0L61.3 27.3M64.0 11.3L59.0 13.6L56.5 10.5L60.1 7.9L64.3 9.0L64.0 11.3M51.5 32.8L48.9 29.4L48.5 25.8L52.3 26.1L53.1 30.0L51.5 32.8M50.9 13.6L47.0 13.0L45.2 9.6L49.1 7.8L51.7 10.1L50.9 13.6M73.7 -14.3L70.5 -11.8L69.1 -14.7L71.5 -17.8L73.7 -14.3M14.9 -124.9L15.2 -120.7L13.4 -121.3L14.9 -124.9M3.0 -132.6L2.2 -128.5L3.9 -130.7L3.0 -132.6M-45.8 -139.3L-46.2 -134.2L-44.7 -136.7L-45.8 -139.3M-32.3 -152.1L-33.2 -148.6L-32.0 -146.9L-29.3 -149.4L-30.0 -151.6L-32.3 -152.1M-69.1 -61.2L-67.6 -58.2L-70.3 -58.4L-69.1 -61.2M-214.8 157.2L-212.0 159.1L-214.1 159.0L-214.8 157.2M245.9 -115.7L245.2 -115.9M105.4 -218.1L102.7 -218.2M79.7 -257.5L77.7 -257.5M66.3 7.0L63.6 7.8L62.1 5.4L63.5 3.3L65.7 4.0L66.3 7.0M50.3 21.9L47.4 21.1L48.7 17.7L51.0 19.1L50.3 21.9M46.9 19.9L44.5 18.9L45.9 16.7L47.7 17.9L46.9 19.9M51.3 7.2L47.9 6.7L49.1 4.3L51.6 5.4L51.3 7.2M121.3 -13.8L117.5 -14.4L118.0 -17.6L120.4 -16.9L121.3 -13.8M122.6 -21.0L119.3 -21.0L120.9 -22.8L122.6 -21.0M163.8 -23.6L162.1 -25.7L163.1 -28.2L163.8 -23.6M96.5 -22.3L93.4 -21.6L93.1 -24.9L95.9 -24.8L96.5 -22.3M70.3 20.8L67.5 19.4L69.2 17.9L70.3 20.8M54.9 30.4L53.2 28.9L54.9 28.6L54.9 30.4M62.7 16.8L61.2 15.8L62.3 15.0L62.7 16.8M53.6 15.4L51.2 14.2L52.8 13.2L53.6 15.4M57.4 14.8L55.8 13.9L56.9 13.1L57.4 14.8M72.4 -53.6L69.7 -49.7L68.5 -53.6L70.8 -55.7L72.4 -53.6M12.6 -82.0L11.4 -81.3M-53.0 -131.2L-51.9 -128.6L-54.8 -127.9L-54.7 -129.4L-53.0 -131.2M-42.3 -143.8L-42.3 -138.4M-39.7 -150.4L-39.9 -148.9M-26.9 -152.7L-27.3 -150.2L-29.0 -151.9L-26.9 -152.7M17.6 -141.3L15.3 -138.3L15.8 -140.6L17.6 -141.3M15.2 -144.9L16.2 -142.4L15.3 -143.0L15.2 -144.9M7.7 -137.1L6.6 -135.7M-160.8 180.4L-158.4 179.0M-68.3 -113.7L-65.2 -110.7L-63.7 -106.8L-68.1 -106.8L-71.1 -110.3L-68.3 -113.7M-73.8 -104.6L-70.2 -102.1L-67.6 -98.4L-72.3 -99.5L-75.5 -102.8L-73.8 -104.6M-30.0 -136.3L-31.2 -131.8L-33.2 -133.2L-31.8 -135.4L-30.0 -136.3M-188.7 -54.1L-192.4 -48.0L-191.9 -39.0L-193.5 -38.3L-194.0 -43.4L-194.4 -48.5L-195.4 -56.0L-191.4 -55.6L-188.7 -54.1M-211.3 -51.9L-210.9 -46.8L-212.6 -43.6L-213.3 -48.1L-211.3 -51.9M127.7 49.0L127.2 43.8L130.3 38.6L129.4 44.5L127.7 49.0M144.9 32.1L139.3 29.6L143.2 29.1L144.9 32.1M209.6 85.5L203.9 85.7L207.0 83.6L209.6 85.5M-174.1 -172.2L-170.3 -168.5L-173.9 -168.5L-174.1 -172.2M-162.0 -175.0L-161.7 -171.6L-164.1 -172.3L-162.0 -175.0M98.6 -33.0L95.7 -33.0L95.9 -35.3L98.3 -35.2L98.6 -33.0M93.5 -25.0L92.0 -25.5L92.6 -26.6L93.5 -25.0M89.9 -16.7L88.4 -17.2L89.2 -18.1L89.9 -16.7M114.2 -52.5L112.7 -52.6L113.2 -53.7L114.2 -52.5M148.3 -27.5L145.3 -28.2M66.5 -51.1L65.2 -49.1L64.5 -50.8L66.5 -51.1M31.1 -69.8L29.7 -68.4L28.9 -69.7L31.1 -69.8M-23.0 -36.0L-23.2 -35.4M-20.1 -51.1L-18.4 -48.0L-20.3 -46.7L-21.5 -49.5L-20.1 -51.1M-50.9 9.9L-48.1 8.5L-46.5 11.6L-48.8 13.1L-50.9 9.9M-46.8 55.8L-44.4 53.8L-43.0 56.0L-43.8 57.7L-46.8 55.8M-39.5 133.4L-37.0 130.7M-37.9 151.8L-36.5 149.7M-75.0 163.1L-71.8 161.4M-112.4 173.1L-105.7 172.5M-202.8 165.4L-199.7 164.0M-183.9 159.3L-183.7 159.4M-117.5 -222.8L-117.8 -219.6M-99.8 -218.9L-93.3 -216.6M-103.1 -211.5L-104.3 -209.2M-79.8 -219.1L-78.3 -217.4M-38.3 -212.6L-38.9 -212.0M-5.4 -235.8L-6.6 -234.7M-15.7 -230.0L-16.8 -229.4M-62.8 -244.5L-62.1 -243.6M-49.5 -259.3L-50.2 -258.0" fill="none" stroke="#666" stroke-width="1.8" stroke-linejoin="round" stroke-linecap="round"/>
<g fill="none" stroke="#000" stroke-width="2.7" stroke-linecap="round" stroke-linejoin="round">
<path d="M-46.1 281.0C-47.2 280.0 -50.4 276.8 -52.4 274.6C-54.4 272.3 -56.3 270.1 -58.1 267.6C-59.8 265.2 -61.4 262.7 -62.9 260.1C-64.3 257.4 -65.4 254.7 -66.6 251.9C-67.7 249.1 -68.6 246.3 -69.5 243.4C-70.4 240.5 -71.2 237.6 -72.0 234.7C-72.7 231.8 -73.4 228.9 -74.2 226.0C-74.9 223.1 -75.6 220.1 -76.4 217.2C-77.2 214.3 -77.9 211.4 -78.8 208.5C-79.7 205.7 -80.6 202.8 -81.5 200.0C-82.5 197.1 -83.6 194.3 -84.7 191.5C-85.9 188.8 -87.1 186.0 -88.4 183.3C-89.6 180.5 -90.9 177.8 -92.2 175.1C-93.5 172.4 -94.9 169.7 -96.3 167.1C-97.7 164.4 -99.1 161.8 -100.6 159.1C-102.0 156.5 -103.5 153.9 -105.0 151.3C-106.5 148.7 -108.1 146.1 -109.7 143.6C-111.2 141.0 -112.8 138.5 -114.4 135.9C-115.9 133.3 -117.5 130.7 -119.0 128.1C-120.4 125.5 -121.9 122.9 -123.2 120.2C-124.6 117.5 -125.8 114.7 -126.9 112.0C-128.0 109.2 -129.0 106.3 -129.8 103.5C-130.7 100.6 -131.3 97.7 -131.9 94.7C-132.5 91.8 -132.9 88.8 -133.3 85.8C-133.8 82.9 -134.1 79.9 -134.4 76.9C-134.8 73.9 -135.0 70.9 -135.4 67.9C-135.9 64.9 -136.3 62.0 -136.8 59.0C-137.4 56.1 -138.0 53.1 -138.6 50.2C-139.3 47.3 -140.1 44.4 -140.9 41.5C-141.8 38.6 -142.8 35.8 -143.8 32.9C-144.8 30.1 -145.8 27.3 -146.8 24.4C-147.8 21.6 -148.7 18.7 -149.7 15.9C-150.8 13.1 -151.7 10.2 -152.8 7.4C-153.8 4.6 -155.0 1.8 -156.1 -1.0C-157.2 -3.8 -158.4 -6.6 -159.4 -9.4C-160.5 -12.2 -161.6 -15.0 -162.5 -17.8C-163.4 -20.7 -164.1 -23.6 -164.7 -26.5C-165.4 -29.4 -165.9 -32.4 -166.5 -35.4C-167.1 -38.3 -167.7 -41.3 -168.2 -44.2C-168.8 -47.2 -169.3 -50.1 -169.8 -53.1C-170.3 -56.0 -170.8 -59.0 -171.2 -62.0C-171.6 -65.0 -172.0 -68.0 -172.4 -70.9C-172.7 -73.9 -173.2 -76.9 -173.4 -79.9C-173.6 -82.9 -173.7 -85.9 -173.7 -88.9C-173.6 -91.9 -173.5 -94.9 -173.1 -97.8C-172.8 -100.8 -172.2 -103.7 -171.3 -106.5C-170.4 -109.3 -169.2 -112.1 -167.8 -114.7C-166.5 -117.4 -164.8 -119.9 -163.1 -122.3C-161.4 -124.8 -159.6 -127.2 -157.8 -129.6C-156.0 -132.1 -154.3 -134.5 -152.5 -136.9C-150.8 -139.4 -149.1 -141.9 -147.3 -144.3C-145.6 -146.8 -143.9 -149.2 -142.1 -151.7C-140.4 -154.1 -138.6 -156.6 -136.9 -159.0C-135.1 -161.4 -133.3 -163.9 -131.5 -166.3C-129.8 -168.7 -128.0 -171.1 -126.1 -173.5C-124.2 -175.8 -122.3 -178.1 -120.3 -180.4C-118.3 -182.6 -116.3 -184.9 -114.3 -187.1C-112.2 -189.3 -110.2 -191.4 -108.0 -193.5C-105.8 -195.6 -103.6 -197.6 -101.4 -199.6C-99.1 -201.6 -96.9 -203.6 -94.5 -205.5C-92.2 -207.4 -89.8 -209.3 -87.4 -211.0C-85.0 -212.8 -82.5 -214.6 -80.0 -216.2C-77.5 -217.9 -75.1 -219.6 -72.4 -221.0C-69.8 -222.5 -67.1 -223.8 -64.4 -225.1C-61.7 -226.4 -59.0 -227.7 -56.2 -228.8C-53.4 -229.9 -50.6 -230.9 -47.7 -231.7C-44.9 -232.5 -41.9 -233.1 -39.0 -233.7C-36.0 -234.4 -33.1 -235.0 -30.1 -235.4C-27.1 -235.8 -24.2 -236.1 -21.2 -236.3C-18.2 -236.5 -15.2 -236.5 -12.2 -236.6C-9.2 -236.7 -6.1 -236.7 -3.1 -236.8C-0.1 -236.9 2.9 -237.0 5.9 -237.0C8.9 -237.0 11.9 -237.1 14.9 -237.1C17.9 -237.1 20.9 -237.0 23.9 -237.0C26.9 -236.9 29.9 -236.9 32.9 -236.8C35.9 -236.6 38.9 -236.4 41.9 -236.1C44.9 -235.8 47.9 -235.4 50.9 -235.0C53.8 -234.5 56.8 -234.2 59.8 -233.6C62.7 -233.0 65.6 -232.3 68.5 -231.5C71.4 -230.6 74.2 -229.7 77.1 -228.7C79.9 -227.8 82.8 -226.8 85.6 -225.8C88.4 -224.8 91.3 -223.8 94.1 -222.8C96.9 -221.7 99.7 -220.7 102.5 -219.6C105.3 -218.5 108.2 -217.4 110.9 -216.3C113.7 -215.1 116.5 -213.9 119.2 -212.7C122.0 -211.5 124.7 -210.2 127.4 -208.9C130.1 -207.6 132.7 -206.1 135.3 -204.7C137.9 -203.2 140.5 -201.7 143.1 -200.0C145.6 -198.4 148.1 -196.8 150.5 -195.0C152.9 -193.3 155.2 -191.3 157.5 -189.4C159.8 -187.4 162.0 -185.4 164.2 -183.3C166.4 -181.2 168.4 -179.1 170.5 -176.9C172.5 -174.7 174.5 -172.4 176.5 -170.2C178.5 -167.9 180.5 -165.6 182.4 -163.3C184.3 -161.0 186.2 -158.7 188.1 -156.3C190.0 -154.0 191.9 -151.6 193.7 -149.3C195.6 -146.9 197.5 -144.6 199.4 -142.3C201.2 -139.9 203.1 -137.6 205.0 -135.2C206.9 -132.9 208.8 -130.5 210.6 -128.2C212.5 -125.8 214.4 -123.5 216.3 -121.1C218.1 -118.8 220.0 -116.4 221.9 -114.1C223.8 -111.7 225.7 -109.4 227.5 -107.0C229.4 -104.7 231.3 -102.3 233.2 -100.0C235.1 -97.6 236.9 -95.3 238.8 -92.9C240.7 -90.6 242.6 -88.2 244.4 -85.9C246.3 -83.5 248.1 -81.2 250.0 -78.8C251.8 -76.4 253.7 -74.0 255.4 -71.6C257.2 -69.2 258.9 -66.7 260.5 -64.1C262.0 -61.6 263.5 -59.0 264.7 -56.2C265.9 -53.5 267.0 -50.7 267.6 -47.8C268.2 -45.0 268.5 -42.0 268.3 -39.1C268.1 -36.2 267.4 -33.2 266.3 -30.6C265.3 -27.9 263.8 -25.2 262.0 -23.0C260.2 -20.8 257.9 -18.6 255.5 -17.3C253.1 -15.9 250.2 -14.8 247.5 -14.7C244.8 -14.5 241.9 -15.3 239.3 -16.3C236.6 -17.3 234.1 -19.1 231.7 -20.8C229.3 -22.5 227.1 -24.7 224.9 -26.6C222.6 -28.6 220.5 -30.8 218.1 -32.6C215.8 -34.5 213.4 -36.4 210.9 -37.8C208.3 -39.2 205.6 -40.5 202.8 -41.3C200.0 -42.0 196.9 -42.4 194.1 -42.3C191.3 -42.1 188.5 -41.4 186.0 -40.1C183.5 -38.9 181.2 -36.9 179.1 -34.8C177.1 -32.8 175.3 -30.3 173.6 -27.8C172.0 -25.4 170.5 -22.7 169.3 -20.0C168.1 -17.3 167.0 -14.4 166.3 -11.6C165.5 -8.7 165.0 -5.7 164.8 -2.8C164.7 0.1 165.0 3.1 165.6 6.0C166.2 8.8 167.2 11.7 168.4 14.4C169.6 17.1 171.0 19.7 172.8 22.1C174.6 24.4 176.7 26.5 178.9 28.3C181.2 30.1 183.9 31.6 186.5 32.9C189.2 34.2 192.0 35.2 194.9 36.1C197.7 37.0 200.7 37.7 203.6 38.3C206.5 38.9 209.5 39.3 212.5 39.8C215.4 40.3 218.4 40.7 221.3 41.4C224.2 42.2 227.1 43.0 229.7 44.3C232.3 45.6 234.7 47.3 236.8 49.3C238.8 51.4 240.5 53.9 241.9 56.4C243.3 59.0 244.3 61.9 245.1 64.7C245.9 67.6 246.4 70.5 246.8 73.5C247.2 76.5 247.3 79.5 247.3 82.5C247.3 85.4 247.1 88.5 246.9 91.4C246.7 94.4 246.4 97.4 246.0 100.4C245.6 103.4 245.0 106.3 244.4 109.3C243.8 112.2 243.2 115.2 242.5 118.1C241.9 121.0 241.1 123.9 240.4 126.9C239.7 129.8 239.0 132.7 238.2 135.6C237.5 138.5 236.8 141.4 236.1 144.4C235.3 147.3 234.6 150.2 233.9 153.1C233.3 156.1 232.5 159.5 232.0 161.9C231.5 164.4 231.1 166.9 230.9 167.8"/>
<path d="M41.9 281.0C40.6 280.4 36.4 278.7 33.7 277.4C31.0 276.1 28.4 274.7 25.8 273.2C23.2 271.6 20.8 269.8 18.3 268.3C15.7 266.8 13.0 265.4 10.3 264.2C7.6 263.0 4.6 262.3 1.9 261.1C-0.8 259.9 -3.5 258.6 -6.0 257.0C-8.4 255.4 -10.7 253.5 -12.9 251.5C-15.2 249.5 -17.2 247.3 -19.2 245.0C-21.2 242.8 -23.0 240.4 -24.8 238.0C-26.5 235.5 -28.1 233.0 -29.5 230.4C-31.0 227.8 -32.4 225.1 -33.6 222.4C-34.9 219.6 -35.9 216.8 -37.0 214.0C-38.1 211.2 -39.2 208.4 -40.2 205.6C-41.3 202.8 -42.3 200.0 -43.4 197.1C-44.4 194.3 -45.5 191.5 -46.6 188.7C-47.6 185.9 -48.7 183.1 -49.8 180.3C-51.0 177.5 -52.2 174.8 -53.5 172.0C-54.7 169.3 -56.1 166.6 -57.6 164.0C-59.0 161.4 -60.6 158.9 -62.3 156.4C-63.9 153.9 -65.7 151.4 -67.4 148.9C-69.1 146.5 -70.7 143.9 -72.3 141.4C-74.0 138.9 -75.5 136.3 -77.1 133.8C-78.7 131.2 -80.3 128.7 -81.9 126.1C-83.5 123.6 -85.1 121.0 -86.6 118.4C-88.1 115.8 -89.6 113.2 -91.0 110.5C-92.3 107.9 -93.7 105.2 -94.9 102.4C-96.2 99.7 -97.3 96.9 -98.4 94.1C-99.6 91.4 -100.6 88.5 -101.7 85.7C-102.7 82.9 -103.8 80.1 -104.8 77.3C-105.9 74.4 -106.9 71.6 -107.9 68.8C-109.0 66.0 -110.0 63.1 -111.0 60.3C-112.0 57.5 -113.0 54.6 -114.0 51.8C-115.0 49.0 -115.9 46.1 -116.9 43.3C-117.9 40.4 -118.9 37.6 -119.9 34.8C-120.9 31.9 -121.8 29.1 -122.7 26.2C-123.6 23.3 -124.5 20.4 -125.4 17.6C-126.2 14.7 -127.1 11.8 -128.0 8.9C-128.9 6.1 -129.8 3.2 -130.8 0.3C-131.7 -2.5 -132.6 -5.4 -133.5 -8.2C-134.5 -11.1 -135.3 -14.0 -136.2 -16.9C-137.0 -19.7 -137.8 -22.7 -138.6 -25.6C-139.4 -28.5 -140.1 -31.4 -140.9 -34.3C-141.6 -37.2 -142.4 -40.1 -143.1 -43.0C-143.7 -46.0 -144.3 -48.9 -144.8 -51.9C-145.3 -54.8 -145.8 -57.8 -146.3 -60.8C-146.8 -63.7 -147.3 -66.7 -147.6 -69.7C-147.8 -72.6 -147.9 -75.6 -147.8 -78.6C-147.7 -81.6 -147.4 -84.6 -146.9 -87.5C-146.5 -90.5 -145.8 -93.4 -144.9 -96.2C-144.0 -99.0 -142.8 -101.8 -141.5 -104.5C-140.3 -107.2 -138.8 -109.8 -137.3 -112.4C-135.8 -115.0 -134.1 -117.5 -132.4 -120.0C-130.8 -122.5 -129.1 -125.0 -127.4 -127.5C-125.7 -130.0 -123.9 -132.4 -122.2 -134.9C-120.5 -137.4 -118.8 -139.8 -117.0 -142.2C-115.2 -144.7 -113.4 -147.0 -111.4 -149.3C-109.5 -151.7 -107.5 -153.9 -105.5 -156.1C-103.5 -158.4 -101.5 -160.6 -99.4 -162.8C-97.3 -164.9 -95.1 -167.0 -92.9 -169.0C-90.7 -171.1 -88.5 -173.1 -86.2 -175.0C-83.9 -177.0 -81.6 -178.9 -79.2 -180.7C-76.9 -182.6 -74.4 -184.3 -72.0 -186.1C-69.5 -187.8 -67.1 -189.5 -64.5 -191.1C-62.0 -192.7 -59.4 -194.2 -56.7 -195.6C-54.1 -197.0 -51.3 -198.2 -48.6 -199.5C-45.9 -200.7 -43.1 -202.0 -40.3 -203.1C-37.5 -204.2 -34.7 -205.1 -31.9 -206.0C-29.0 -206.9 -26.1 -207.7 -23.2 -208.5C-20.3 -209.2 -17.3 -209.9 -14.4 -210.5C-11.5 -211.1 -8.5 -211.5 -5.5 -212.0C-2.5 -212.4 0.4 -212.9 3.4 -213.2C6.4 -213.6 9.4 -214.0 12.4 -214.2C15.4 -214.4 18.4 -214.4 21.4 -214.5C24.4 -214.5 27.4 -214.5 30.4 -214.5C33.4 -214.4 36.4 -214.3 39.4 -214.1C42.4 -214.0 45.4 -213.6 48.4 -213.3C51.4 -213.0 54.4 -212.7 57.3 -212.2C60.3 -211.8 63.2 -211.2 66.2 -210.6C69.1 -209.9 72.0 -209.1 74.9 -208.3C77.8 -207.4 80.6 -206.6 83.5 -205.6C86.3 -204.7 89.2 -203.7 92.0 -202.6C94.8 -201.5 97.6 -200.4 100.3 -199.2C103.1 -198.0 105.9 -196.9 108.5 -195.5C111.2 -194.2 113.8 -192.7 116.4 -191.1C119.0 -189.6 121.5 -188.0 123.9 -186.2C126.4 -184.5 128.8 -182.8 131.1 -180.9C133.4 -179.0 135.6 -176.9 137.7 -174.8C139.9 -172.7 142.0 -170.5 143.9 -168.3C145.9 -166.0 147.7 -163.6 149.4 -161.1C151.1 -158.7 152.6 -156.1 154.0 -153.4C155.4 -150.8 156.7 -148.1 157.7 -145.3C158.8 -142.5 159.8 -139.6 160.3 -136.7C160.8 -133.9 161.2 -130.9 160.9 -128.0C160.7 -125.2 160.0 -122.2 158.9 -119.6C157.8 -117.0 156.0 -114.6 154.2 -112.3C152.4 -110.0 150.2 -107.8 148.0 -105.8C145.8 -103.8 143.4 -102.0 141.1 -100.0C138.8 -98.1 136.4 -96.2 134.2 -94.2C131.9 -92.2 129.7 -90.2 127.6 -88.1C125.5 -85.9 123.5 -83.7 121.7 -81.3C119.8 -79.0 118.1 -76.5 116.7 -73.9C115.2 -71.3 114.1 -68.6 113.0 -65.8C111.9 -63.0 111.1 -60.1 110.1 -57.2C109.2 -54.4 108.4 -51.5 107.3 -48.7C106.1 -46.0 104.9 -43.2 103.2 -40.8C101.6 -38.5 99.6 -36.2 97.3 -34.4C95.1 -32.6 92.5 -31.1 89.8 -30.0C87.1 -28.8 84.1 -28.1 81.2 -27.7C78.3 -27.2 75.3 -27.1 72.4 -27.3C69.4 -27.4 66.4 -27.9 63.7 -28.8C60.9 -29.7 58.1 -31.0 55.6 -32.5C53.1 -34.0 50.9 -36.0 48.7 -38.0C46.5 -40.0 44.5 -42.4 42.4 -44.4C40.3 -46.4 38.3 -48.9 36.0 -50.1C33.7 -51.2 31.2 -51.8 28.6 -51.5C26.1 -51.2 23.2 -49.9 20.7 -48.5C18.2 -47.1 15.8 -45.2 13.8 -43.1C11.8 -41.0 10.2 -38.4 8.6 -35.9C7.1 -33.4 6.0 -30.6 4.5 -28.0C3.0 -25.5 1.2 -23.1 -0.6 -20.8C-2.3 -18.5 -4.8 -16.6 -6.2 -14.2C-7.6 -11.8 -8.6 -9.2 -9.0 -6.5C-9.3 -3.8 -9.0 -0.6 -8.2 2.0C-7.3 4.7 -5.8 7.3 -3.9 9.2C-2.0 11.2 0.7 12.6 3.3 13.8C5.9 15.0 9.0 15.6 11.8 16.4C14.7 17.3 17.6 17.9 20.4 19.0C23.2 20.0 26.0 21.2 28.6 22.6C31.3 23.9 33.9 25.5 36.5 27.0C39.0 28.6 41.6 30.2 44.1 31.8C46.7 33.3 49.3 34.9 51.9 36.4C54.5 37.9 57.1 39.4 59.8 40.8C62.4 42.2 65.1 43.6 67.8 44.9C70.4 46.3 73.1 47.6 75.8 49.0C78.5 50.3 81.2 51.7 83.9 53.0C86.6 54.3 89.3 55.6 92.1 56.8C94.8 57.9 97.7 59.0 100.5 60.1C103.3 61.1 106.1 62.1 109.0 63.1C111.8 64.0 114.7 65.0 117.6 65.8C120.4 66.7 123.3 67.5 126.2 68.3C129.1 69.1 132.1 69.8 135.0 70.5C137.9 71.3 140.8 72.0 143.7 72.7C146.6 73.5 149.6 74.2 152.4 75.0C155.3 75.8 158.2 76.6 161.1 77.5C164.0 78.4 166.8 79.3 169.7 80.3C172.5 81.3 175.4 82.3 178.2 83.4C181.0 84.5 183.8 85.6 186.5 86.8C189.2 88.1 192.0 89.3 194.4 91.0C196.9 92.6 199.3 94.4 201.3 96.5C203.3 98.6 205.1 101.1 206.4 103.6C207.8 106.2 208.8 109.1 209.5 111.9C210.2 114.8 210.5 117.8 210.7 120.7C210.9 123.7 210.9 126.7 210.8 129.7C210.7 132.7 210.4 135.7 210.1 138.7C209.8 141.7 209.4 144.7 209.0 147.7C208.5 150.6 208.0 153.6 207.4 156.5C206.8 159.5 206.2 162.4 205.6 165.4C204.9 168.3 204.2 171.2 203.5 174.1C202.8 177.1 202.1 180.0 201.3 182.9C200.6 185.8 199.9 188.7 199.1 191.6C198.4 194.6 197.6 198.0 197.0 200.4C196.3 202.8 195.7 205.3 195.5 206.2"/>
<path d="M0.6 -154.5C2.0 -155.2 6.2 -157.3 9.0 -158.6C11.7 -160.0 14.5 -161.5 17.3 -162.8C20.1 -164.0 23.0 -165.4 25.9 -166.3C28.9 -167.1 32.0 -167.4 35.1 -167.6C38.2 -167.8 41.3 -167.6 44.4 -167.3C47.4 -166.9 50.8 -166.6 53.5 -165.6C56.3 -164.6 59.8 -163.4 60.9 -161.4C62.0 -159.3 61.1 -155.8 60.1 -153.3C59.1 -150.7 57.1 -148.1 54.9 -146.1C52.7 -144.2 49.7 -142.9 46.9 -141.5C44.1 -140.1 41.2 -139.0 38.3 -137.9C35.4 -136.8 32.5 -135.8 29.5 -134.9C26.5 -134.1 23.5 -133.3 20.4 -132.8C17.4 -132.4 14.2 -132.0 11.2 -132.2C8.2 -132.5 4.7 -132.9 2.3 -134.3C-0.1 -135.7 -2.3 -139.2 -3.4 -140.7C-4.5 -142.3 -4.2 -143.2 -4.3 -143.6"/>
<path d="M8.3 -198.0C6.4 -197.6 2.7 -197.1 -0.2 -196.5C-3.0 -196.0 -6.0 -195.5 -9.0 -194.8C-11.9 -194.1 -14.8 -193.4 -17.7 -192.5C-20.6 -191.7 -23.5 -190.9 -26.3 -189.9C-29.1 -188.9 -31.9 -187.8 -34.6 -186.6C-37.4 -185.4 -40.1 -184.2 -42.8 -182.8C-45.5 -181.5 -48.2 -180.1 -50.7 -178.6C-53.3 -177.0 -55.8 -175.3 -58.2 -173.6C-60.7 -171.9 -63.2 -170.2 -65.5 -168.3C-67.9 -166.5 -70.2 -164.5 -72.4 -162.5C-74.6 -160.5 -76.7 -158.4 -78.8 -156.2C-80.9 -154.1 -83.0 -151.9 -85.0 -149.7C-87.0 -147.4 -88.8 -145.1 -90.7 -142.7C-92.5 -140.3 -94.2 -137.9 -96.0 -135.4C-97.8 -133.0 -99.6 -130.6 -101.3 -128.1C-103.1 -125.7 -104.8 -123.3 -106.6 -120.8C-108.3 -118.3 -110.0 -115.9 -111.5 -113.3C-113.1 -110.8 -114.5 -108.1 -115.9 -105.4C-117.2 -102.8 -118.6 -100.1 -119.8 -97.3C-120.9 -94.6 -122.0 -91.8 -122.9 -88.9C-123.7 -86.1 -124.5 -83.1 -125.1 -80.2C-125.6 -77.3 -126.0 -74.4 -126.1 -71.4C-126.2 -68.4 -125.9 -65.4 -125.7 -62.5C-125.5 -59.5 -125.1 -56.5 -124.8 -53.5C-124.4 -50.5 -124.1 -47.5 -123.6 -44.6C-123.0 -41.6 -122.3 -38.7 -121.6 -35.8C-120.9 -32.9 -120.1 -30.0 -119.3 -27.1C-118.5 -24.2 -117.8 -21.3 -117.0 -18.4C-116.2 -15.5 -115.3 -12.6 -114.5 -9.7C-113.7 -6.8 -112.9 -3.9 -112.0 -1.0C-111.1 1.8 -110.2 4.7 -109.2 7.5C-108.2 10.4 -107.2 13.2 -106.1 16.0C-105.0 18.8 -103.8 21.5 -102.5 24.3C-101.3 27.0 -100.0 29.7 -98.5 32.3C-97.0 34.9 -95.4 37.4 -93.6 39.8C-91.9 42.3 -89.9 44.5 -88.0 46.9C-86.1 49.2 -84.2 51.5 -82.3 53.8C-80.4 56.1 -78.4 58.4 -76.5 60.7C-74.6 63.0 -72.6 65.3 -70.8 67.7C-69.1 70.1 -67.4 72.6 -66.0 75.2C-64.5 77.8 -63.4 80.6 -62.3 83.4C-61.3 86.2 -60.5 89.1 -59.7 92.0C-59.0 94.9 -58.4 97.8 -57.8 100.8C-57.2 103.7 -56.7 106.7 -56.1 109.6C-55.4 112.5 -54.8 115.5 -54.0 118.4C-53.2 121.3 -52.3 124.1 -51.3 127.0C-50.3 129.8 -49.2 132.6 -48.0 135.3C-46.8 138.0 -45.4 140.7 -44.0 143.4C-42.6 146.0 -41.1 148.7 -39.7 151.3C-38.2 153.9 -36.8 156.5 -35.3 159.2C-33.9 161.8 -32.6 164.5 -31.2 167.2C-29.8 169.9 -28.5 172.5 -27.0 175.2C-25.6 177.8 -24.2 180.5 -22.6 183.0C-21.0 185.6 -19.4 188.1 -17.6 190.5C-15.8 192.9 -13.9 195.2 -11.9 197.4C-9.8 199.6 -7.6 201.6 -5.4 203.6C-3.2 205.6 -0.8 207.5 1.5 209.4C3.8 211.3 6.2 213.2 8.5 215.1C10.8 217.0 13.1 218.9 15.5 220.7C17.9 222.6 20.3 224.4 22.7 226.2C25.1 228.0 27.5 229.7 30.1 231.4C32.6 233.0 35.2 234.5 37.8 236.0C40.4 237.5 43.0 238.9 45.7 240.3C48.4 241.6 51.1 242.8 53.9 244.0C56.6 245.2 59.4 246.3 62.3 247.3C65.1 248.4 67.9 249.3 70.8 250.2C73.7 251.1 76.6 251.8 79.5 252.5C82.4 253.1 85.4 253.7 88.3 254.1C91.3 254.5 94.3 254.8 97.3 254.9C100.3 255.0 103.3 255.1 106.2 254.8C109.2 254.5 112.1 254.0 115.0 253.3C117.9 252.6 120.8 251.7 123.6 250.6C126.3 249.5 129.1 248.3 131.7 246.9C134.4 245.5 136.9 243.9 139.4 242.3C141.8 240.6 144.2 238.6 146.4 236.7C148.7 234.7 150.9 232.7 153.0 230.5C155.0 228.4 157.0 226.1 159.0 223.8C160.9 221.5 162.8 219.2 164.5 216.7C166.2 214.3 167.9 211.8 169.5 209.2C171.0 206.7 172.5 204.1 173.9 201.4C175.3 198.7 176.6 196.0 177.7 193.3C178.8 190.5 179.9 187.7 180.7 184.8C181.6 181.9 182.3 179.0 182.8 176.1C183.3 173.1 183.6 170.2 183.7 167.2C183.9 164.2 183.8 161.2 183.6 158.2C183.4 155.2 183.0 152.2 182.5 149.3C182.0 146.3 181.3 143.4 180.4 140.6C179.5 137.7 178.4 135.0 177.0 132.3C175.7 129.7 174.1 127.1 172.3 124.8C170.5 122.5 168.4 120.3 166.2 118.4C163.9 116.5 161.4 114.8 158.9 113.3C156.3 111.9 153.5 110.6 150.7 109.6C148.0 108.5 145.1 107.7 142.2 106.8C139.3 106.0 136.4 105.3 133.5 104.4C130.6 103.6 127.7 102.8 124.9 101.8C122.1 100.8 119.3 99.8 116.5 98.6C113.8 97.4 111.1 96.1 108.4 94.7C105.7 93.3 103.1 91.9 100.5 90.4C97.9 88.9 95.3 87.3 92.8 85.7C90.2 84.1 87.7 82.5 85.1 80.9C82.6 79.3 80.0 77.7 77.5 76.1C74.9 74.5 72.4 72.9 69.8 71.4C67.3 69.8 64.8 68.2 62.2 66.6C59.6 65.1 57.0 63.5 54.4 62.1C51.8 60.6 49.1 59.2 46.4 57.9C43.7 56.6 41.0 55.4 38.2 54.2C35.5 53.0 32.6 51.9 29.8 50.9C27.0 49.8 24.2 48.9 21.3 47.9C18.5 46.9 15.6 46.1 12.8 45.0C10.0 43.9 7.2 42.8 4.6 41.4C2.0 40.0 -0.5 38.4 -2.7 36.5C-4.9 34.5 -6.8 32.2 -8.4 29.8C-10.1 27.4 -11.4 24.7 -12.6 21.9C-13.8 19.2 -14.7 16.3 -15.4 13.5C-16.2 10.6 -16.6 7.6 -17.0 4.6C-17.5 1.7 -17.8 -1.3 -18.0 -4.3C-18.2 -7.3 -18.3 -10.3 -18.3 -13.3C-18.3 -16.3 -18.2 -19.3 -18.1 -22.3C-18.0 -25.3 -17.9 -28.3 -17.5 -31.3C-17.1 -34.2 -16.6 -37.1 -15.7 -39.9C-14.7 -42.7 -13.5 -45.5 -12.0 -48.0C-10.5 -50.5 -8.5 -52.8 -6.7 -55.1C-4.8 -57.4 -2.7 -59.6 -0.9 -62.0C0.9 -64.3 2.5 -66.9 4.3 -69.2C6.1 -71.6 7.9 -74.1 10.0 -76.2C12.0 -78.3 14.3 -80.2 16.8 -81.8C19.2 -83.5 21.9 -84.9 24.6 -86.1C27.3 -87.3 30.2 -88.2 33.1 -88.9C35.9 -89.5 38.9 -89.8 41.9 -90.1C44.9 -90.3 47.9 -90.3 50.9 -90.4C53.9 -90.5 56.9 -90.5 59.9 -90.7C62.9 -91.0 65.8 -91.4 68.7 -92.0C71.6 -92.7 74.5 -93.6 77.2 -94.7C80.0 -95.8 82.7 -97.2 85.3 -98.6C88.0 -100.0 90.6 -101.5 93.1 -103.1C95.7 -104.6 98.3 -106.3 100.8 -107.9C103.3 -109.5 105.9 -111.1 108.3 -112.8C110.7 -114.6 113.2 -116.3 115.4 -118.3C117.7 -120.2 119.9 -122.3 121.7 -124.6C123.5 -126.9 125.1 -129.4 126.1 -132.1C127.1 -134.8 127.7 -137.7 127.7 -140.6C127.8 -143.5 127.2 -146.4 126.4 -149.2C125.6 -152.0 124.3 -154.8 122.9 -157.4C121.5 -160.0 119.7 -162.4 117.9 -164.7C116.0 -167.0 113.9 -169.1 111.7 -171.2C109.5 -173.2 107.2 -175.2 104.8 -176.9C102.4 -178.7 99.9 -180.3 97.3 -181.8C94.8 -183.4 92.2 -184.9 89.5 -186.3C86.8 -187.6 84.1 -188.8 81.3 -189.9C78.5 -191.0 75.7 -192.0 72.8 -192.9C69.9 -193.8 67.1 -194.6 64.1 -195.4C61.2 -196.1 58.3 -196.7 55.3 -197.2C52.4 -197.8 49.4 -198.2 46.4 -198.6C43.5 -198.9 40.5 -199.1 37.5 -199.3C34.5 -199.4 31.5 -199.5 28.5 -199.5C25.5 -199.5 22.4 -199.4 19.5 -199.3C16.6 -199.1 12.9 -198.6 11.0 -198.4C9.1 -198.2 10.1 -198.3 8.3 -198.0Z"/>
<path d="M-10.3 -179.6C-8.2 -180.7 -5.1 -181.9 -2.3 -182.7C0.5 -183.5 3.5 -183.9 6.5 -184.4C9.4 -184.8 12.4 -185.1 15.4 -185.3C18.4 -185.5 21.4 -185.6 24.4 -185.6C27.4 -185.6 30.4 -185.4 33.3 -185.1C36.3 -184.8 39.3 -184.3 42.2 -183.8C45.2 -183.2 48.1 -182.5 50.9 -181.7C53.8 -180.9 56.7 -179.9 59.5 -178.9C62.3 -177.9 65.1 -176.8 67.9 -175.7C70.6 -174.5 73.3 -173.2 76.0 -171.8C78.6 -170.4 81.3 -169.0 83.7 -167.3C86.2 -165.6 88.6 -163.8 90.7 -161.8C92.7 -159.7 94.8 -157.5 96.2 -155.0C97.5 -152.5 98.6 -149.7 98.8 -146.9C99.0 -144.2 98.5 -141.2 97.5 -138.7C96.5 -136.1 94.7 -133.7 92.7 -131.6C90.7 -129.5 88.3 -127.7 85.8 -126.2C83.3 -124.6 80.5 -123.5 77.7 -122.4C74.9 -121.3 72.0 -120.5 69.1 -119.7C66.3 -119.0 63.3 -118.4 60.4 -117.7C57.5 -117.1 54.5 -116.6 51.5 -116.0C48.6 -115.5 45.6 -115.0 42.7 -114.3C39.8 -113.7 36.9 -113.1 34.0 -112.3C31.1 -111.5 28.2 -110.7 25.3 -109.7C22.5 -108.8 19.6 -107.9 16.8 -106.8C14.0 -105.8 11.2 -104.8 8.4 -103.7C5.6 -102.5 2.9 -101.3 0.2 -100.0C-2.5 -98.7 -5.2 -97.4 -7.7 -95.8C-10.2 -94.2 -12.5 -92.4 -14.8 -90.5C-17.0 -88.5 -19.1 -86.3 -21.2 -84.2C-23.3 -82.0 -25.4 -79.9 -27.4 -77.7C-29.4 -75.5 -31.5 -73.2 -33.4 -71.0C-35.4 -68.7 -37.4 -66.4 -39.2 -64.1C-41.0 -61.7 -42.9 -59.3 -44.4 -56.8C-45.9 -54.3 -47.2 -51.7 -48.0 -48.9C-48.7 -46.1 -48.9 -43.2 -48.9 -40.2C-48.9 -37.3 -48.6 -34.3 -48.2 -31.3C-47.9 -28.4 -47.3 -25.4 -46.6 -22.5C-46.0 -19.6 -45.3 -16.6 -44.5 -13.8C-43.7 -10.9 -42.6 -8.1 -41.8 -5.2C-40.9 -2.3 -40.0 0.5 -39.5 3.4C-39.1 6.3 -38.8 9.3 -39.0 12.3C-39.2 15.2 -39.7 18.2 -40.6 20.9C-41.6 23.5 -43.0 26.3 -44.9 28.2C-46.8 30.2 -49.3 31.9 -51.9 32.6C-54.4 33.4 -57.4 33.4 -60.1 32.9C-62.8 32.4 -65.5 30.9 -68.0 29.4C-70.5 27.9 -72.8 26.0 -75.0 24.0C-77.2 22.0 -79.2 19.7 -81.0 17.4C-82.8 15.0 -84.5 12.5 -86.0 9.9C-87.4 7.3 -88.7 4.6 -89.9 1.9C-91.0 -0.9 -92.1 -3.7 -92.9 -6.6C-93.7 -9.4 -94.4 -12.4 -94.9 -15.3C-95.5 -18.2 -95.9 -21.2 -96.4 -24.2C-96.8 -27.1 -97.2 -30.1 -97.6 -33.1C-98.1 -36.1 -98.5 -39.0 -98.8 -42.0C-99.1 -45.0 -99.4 -48.0 -99.6 -51.0C-99.7 -53.9 -99.9 -57.0 -99.6 -59.9C-99.4 -62.8 -98.9 -65.7 -97.9 -68.5C-97.0 -71.2 -95.6 -73.9 -94.0 -76.2C-92.3 -78.6 -90.1 -80.6 -88.1 -82.8C-86.2 -85.0 -84.0 -87.1 -82.3 -89.5C-80.6 -91.8 -79.0 -94.4 -77.9 -97.1C-76.8 -99.8 -76.3 -102.7 -75.7 -105.6C-75.0 -108.5 -74.6 -111.5 -74.0 -114.4C-73.3 -117.3 -72.5 -120.2 -71.6 -123.1C-70.7 -125.9 -69.8 -128.7 -68.5 -131.4C-67.2 -134.0 -65.5 -136.5 -63.9 -139.0C-62.2 -141.4 -60.3 -143.8 -58.3 -146.0C-56.4 -148.3 -54.3 -150.4 -52.1 -152.4C-49.9 -154.5 -47.5 -156.3 -45.2 -158.1C-42.8 -159.9 -40.4 -161.7 -37.9 -163.3C-35.3 -164.9 -32.6 -166.2 -30.0 -167.6C-27.3 -168.9 -24.5 -170.0 -22.0 -171.5C-19.4 -173.0 -16.7 -175.0 -14.8 -176.3C-12.8 -177.7 -12.3 -178.6 -10.3 -179.6Z"/>
<path d="M0.9 74.2C3.7 73.3 6.6 72.8 9.6 72.4C12.5 72.0 15.5 71.8 18.5 71.8C21.5 71.8 24.5 71.9 27.5 72.2C30.4 72.5 33.4 73.0 36.3 73.6C39.2 74.2 42.2 74.9 45.0 75.9C47.8 76.8 50.6 78.0 53.3 79.2C56.1 80.4 58.7 81.8 61.4 83.1C64.1 84.4 66.8 85.8 69.5 87.1C72.1 88.5 74.8 89.8 77.5 91.3C80.1 92.7 82.7 94.2 85.2 95.8C87.8 97.3 90.3 99.0 92.8 100.6C95.3 102.3 97.8 104.0 100.2 105.8C102.6 107.5 105.0 109.4 107.4 111.2C109.8 113.1 112.1 114.9 114.4 116.9C116.7 118.8 118.9 120.8 121.2 122.8C123.4 124.8 125.5 126.9 127.6 129.0C129.7 131.2 131.7 133.5 133.6 135.8C135.5 138.1 137.4 140.4 139.1 142.9C140.8 145.3 142.5 147.8 144.0 150.4C145.5 153.0 147.0 155.6 148.1 158.3C149.3 161.0 150.4 163.9 151.1 166.7C151.8 169.6 152.4 172.5 152.5 175.5C152.7 178.4 152.6 181.4 152.1 184.3C151.7 187.2 151.0 190.2 150.0 192.9C149.0 195.7 147.7 198.4 146.1 200.9C144.5 203.3 142.6 205.7 140.5 207.7C138.4 209.7 136.0 211.5 133.4 212.9C130.9 214.4 128.1 215.6 125.3 216.5C122.5 217.4 119.6 217.9 116.6 218.2C113.7 218.6 110.7 218.6 107.7 218.5C104.7 218.3 101.8 217.9 98.8 217.4C95.9 216.9 93.0 216.2 90.1 215.3C87.2 214.5 84.4 213.5 81.6 212.4C78.8 211.4 76.0 210.3 73.2 209.1C70.5 208.0 67.7 206.8 65.0 205.5C62.2 204.3 59.5 203.0 56.9 201.6C54.2 200.2 51.6 198.8 49.0 197.2C46.5 195.7 43.9 194.1 41.4 192.4C39.0 190.7 36.6 188.9 34.2 187.1C31.8 185.2 29.5 183.3 27.3 181.4C25.0 179.4 22.9 177.3 20.8 175.1C18.7 173.0 16.6 170.8 14.6 168.6C12.6 166.3 10.7 164.0 8.8 161.7C6.8 159.4 5.0 157.1 3.0 154.8C1.1 152.5 -0.9 150.2 -2.9 148.0C-4.9 145.8 -7.2 143.8 -9.1 141.5C-11.1 139.3 -13.1 137.2 -14.7 134.7C-16.2 132.2 -17.2 129.4 -18.1 126.6C-19.0 123.9 -19.6 120.9 -20.1 117.9C-20.5 115.0 -20.9 112.0 -20.8 109.0C-20.8 106.1 -20.6 103.1 -20.1 100.2C-19.5 97.3 -18.7 94.4 -17.6 91.7C-16.4 89.0 -15.0 86.3 -13.3 84.0C-11.5 81.7 -9.3 79.7 -7.0 78.1C-4.6 76.4 -1.9 75.2 0.9 74.2Z"/>
<path d="M19.2 115.8C19.7 113.1 21.2 110.3 23.0 108.1C24.8 105.9 27.4 104.0 30.0 102.8C32.5 101.5 35.6 100.8 38.5 100.7C41.4 100.6 44.4 101.4 47.2 102.3C50.0 103.2 52.7 104.7 55.3 106.1C57.9 107.6 60.4 109.2 62.9 111.0C65.3 112.8 67.7 114.7 69.9 116.7C72.1 118.7 74.3 120.9 76.3 123.1C78.3 125.3 80.3 127.7 81.9 130.2C83.4 132.7 85.1 135.5 85.7 138.2C86.3 140.9 86.4 144.2 85.3 146.4C84.2 148.7 81.7 150.6 79.2 151.8C76.7 152.9 73.5 153.0 70.5 153.2C67.5 153.5 64.5 153.3 61.5 153.2C58.5 153.0 55.4 152.8 52.5 152.2C49.6 151.6 46.6 150.7 43.9 149.6C41.2 148.4 38.5 147.0 36.0 145.3C33.6 143.6 31.2 141.7 29.1 139.6C27.0 137.4 25.1 135.1 23.5 132.6C22.0 130.1 20.5 127.3 19.7 124.5C19.0 121.7 18.6 118.6 19.2 115.8Z"/>
<ellipse cx="2.1" cy="-0.5" rx="3.0" ry="4.0" stroke-width="2.4"/>
</g>
</g></g>
<g clip-path="url(#fr2)"><circle cx="1779.6" cy="330.5" r="285.4" fill="none" stroke="#8e8e8e" stroke-width="3.7" stroke-linecap="round" stroke-dasharray="1.4 17.2"/></g>
<rect x="1493.0" y="47.2" width="573.3" height="567.4" fill="none" stroke="#000" stroke-width="2"/>
</g>
<g id="chart0">
<text y="676.4" font-size="35.5" fill="#000" stroke="#000" stroke-width="1.15" stroke-linejoin="round" ><tspan x="137.0" textLength="41.6" lengthAdjust="spacingAndGlyphs">d)</tspan><tspan x="199.8" textLength="168.2" lengthAdjust="spacingAndGlyphs">Duration</tspan><tspan x="389.4" textLength="92.8" lengthAdjust="spacingAndGlyphs">(NH)</tspan></text>
<g stroke="#000" stroke-width="1.8" fill="none">
<line x1="125.6" x2="136.1" y1="688.4" y2="688.4"/>
<line x1="125.6" x2="136.1" y1="772.4" y2="772.4"/>
<line x1="125.6" x2="136.1" y1="856.4" y2="856.4"/>
<line x1="125.6" x2="136.1" y1="940.4" y2="940.4"/>
<line x1="125.6" x2="136.1" y1="1024.4" y2="1024.4"/>
<line x1="125.6" x2="136.1" y1="1108.4" y2="1108.4"/>
<line x1="162.1" x2="162.1" y1="1108.4" y2="1119.4"/>
<line x1="162.1" x2="162.1" y1="1424.0" y2="1435.0"/>
<line x1="214.2" x2="214.2" y1="1108.4" y2="1119.4"/>
<line x1="214.2" x2="214.2" y1="1424.0" y2="1435.0"/>
<line x1="266.3" x2="266.3" y1="1108.4" y2="1119.4"/>
<line x1="266.3" x2="266.3" y1="1424.0" y2="1435.0"/>
<line x1="318.5" x2="318.5" y1="1108.4" y2="1119.4"/>
<line x1="318.5" x2="318.5" y1="1424.0" y2="1435.0"/>
<line x1="370.6" x2="370.6" y1="1108.4" y2="1119.4"/>
<line x1="370.6" x2="370.6" y1="1424.0" y2="1435.0"/>
<line x1="422.7" x2="422.7" y1="1108.4" y2="1119.4"/>
<line x1="422.7" x2="422.7" y1="1424.0" y2="1435.0"/>
<line x1="474.8" x2="474.8" y1="1108.4" y2="1119.4"/>
<line x1="474.8" x2="474.8" y1="1424.0" y2="1435.0"/>
<line x1="526.9" x2="526.9" y1="1108.4" y2="1119.4"/>
<line x1="526.9" x2="526.9" y1="1424.0" y2="1435.0"/>
<line x1="579.1" x2="579.1" y1="1108.4" y2="1119.4"/>
<line x1="579.1" x2="579.1" y1="1424.0" y2="1435.0"/>
<line x1="631.2" x2="631.2" y1="1108.4" y2="1119.4"/>
<line x1="631.2" x2="631.2" y1="1424.0" y2="1435.0"/>
<line x1="683.3" x2="683.3" y1="1108.4" y2="1119.4"/>
<line x1="683.3" x2="683.3" y1="1424.0" y2="1435.0"/>
<line x1="125.6" x2="136.1" y1="1171.3" y2="1171.3"/>
<line x1="125.6" x2="136.1" y1="1221.8" y2="1221.8"/>
<line x1="125.6" x2="136.1" y1="1272.4" y2="1272.4"/>
<line x1="125.6" x2="136.1" y1="1322.9" y2="1322.9"/>
<line x1="125.6" x2="136.1" y1="1373.5" y2="1373.5"/>
<line x1="125.6" x2="136.1" y1="1424.0" y2="1424.0"/>
</g>
<text y="698.8" font-size="29.0" fill="#000" stroke="#000" stroke-width="1.15" stroke-linejoin="round" ><tspan x="67.2" textLength="50.2" lengthAdjust="spacingAndGlyphs">100</tspan></text>
<text y="782.8" font-size="29.0" fill="#000" stroke="#000" stroke-width="1.15" stroke-linejoin="round" ><tspan x="79.7" textLength="38.0" lengthAdjust="spacingAndGlyphs">80</tspan></text>
<text y="866.8" font-size="29.0" fill="#000" stroke="#000" stroke-width="1.15" stroke-linejoin="round" ><tspan x="79.6" textLength="38.1" lengthAdjust="spacingAndGlyphs">60</tspan></text>
<text y="950.8" font-size="29.0" fill="#000" stroke="#000" stroke-width="1.15" stroke-linejoin="round" ><tspan x="81.1" textLength="36.5" lengthAdjust="spacingAndGlyphs">40</tspan></text>
<text y="1034.8" font-size="29.0" fill="#000" stroke="#000" stroke-width="1.15" stroke-linejoin="round" ><tspan x="80.5" textLength="37.2" lengthAdjust="spacingAndGlyphs">20</tspan></text>
<text y="1118.8" font-size="29.0" fill="#000" stroke="#000" stroke-width="1.15" stroke-linejoin="round" ><tspan x="98.4" textLength="19.4" lengthAdjust="spacingAndGlyphs">0</tspan></text>
<text y="1151.6" font-size="29.0" fill="#000" stroke="#000" stroke-width="1.15" stroke-linejoin="round" ><tspan x="151.9" textLength="21.9" lengthAdjust="spacingAndGlyphs">5</tspan></text>
<text y="1466.0" font-size="29.0" fill="#000" stroke="#000" stroke-width="1.15" stroke-linejoin="round" ><tspan x="151.9" textLength="21.9" lengthAdjust="spacingAndGlyphs">5</tspan></text>
<text y="1151.6" font-size="29.0" fill="#000" stroke="#000" stroke-width="1.15" stroke-linejoin="round" ><tspan x="204.3" textLength="20.6" lengthAdjust="spacingAndGlyphs">6</tspan></text>
<text y="1466.0" font-size="29.0" fill="#000" stroke="#000" stroke-width="1.15" stroke-linejoin="round" ><tspan x="204.3" textLength="20.6" lengthAdjust="spacingAndGlyphs">6</tspan></text>
<text y="1151.6" font-size="29.0" fill="#000" stroke="#000" stroke-width="1.15" stroke-linejoin="round" ><tspan x="257.7" textLength="19.2" lengthAdjust="spacingAndGlyphs">7</tspan></text>
<text y="1466.0" font-size="29.0" fill="#000" stroke="#000" stroke-width="1.15" stroke-linejoin="round" ><tspan x="257.7" textLength="19.2" lengthAdjust="spacingAndGlyphs">7</tspan></text>
<text y="1151.6" font-size="29.0" fill="#000" stroke="#000" stroke-width="1.15" stroke-linejoin="round" ><tspan x="308.6" textLength="20.8" lengthAdjust="spacingAndGlyphs">8</tspan></text>
<text y="1466.0" font-size="29.0" fill="#000" stroke="#000" stroke-width="1.15" stroke-linejoin="round" ><tspan x="308.6" textLength="20.8" lengthAdjust="spacingAndGlyphs">8</tspan></text>
<text y="1151.6" font-size="29.0" fill="#000" stroke="#000" stroke-width="1.15" stroke-linejoin="round" ><tspan x="360.6" textLength="20.6" lengthAdjust="spacingAndGlyphs">9</tspan></text>
<text y="1466.0" font-size="29.0" fill="#000" stroke="#000" stroke-width="1.15" stroke-linejoin="round" ><tspan x="360.6" textLength="20.6" lengthAdjust="spacingAndGlyphs">9</tspan></text>
<text y="1151.6" font-size="29.0" fill="#000" stroke="#000" stroke-width="1.15" stroke-linejoin="round" ><tspan x="404.6" textLength="36.7" lengthAdjust="spacingAndGlyphs">10</tspan></text>
<text y="1466.0" font-size="29.0" fill="#000" stroke="#000" stroke-width="1.15" stroke-linejoin="round" ><tspan x="404.6" textLength="36.7" lengthAdjust="spacingAndGlyphs">10</tspan></text>
<text y="1151.6" font-size="29.0" fill="#000" stroke="#000" stroke-width="1.15" stroke-linejoin="round" ><tspan x="458.5" textLength="33.9" lengthAdjust="spacingAndGlyphs">11</tspan></text>
<text y="1466.0" font-size="29.0" fill="#000" stroke="#000" stroke-width="1.15" stroke-linejoin="round" ><tspan x="458.5" textLength="33.9" lengthAdjust="spacingAndGlyphs">11</tspan></text>
<text y="1151.6" font-size="29.0" fill="#000" stroke="#000" stroke-width="1.15" stroke-linejoin="round" ><tspan x="508.8" textLength="36.9" lengthAdjust="spacingAndGlyphs">12</tspan></text>
<text y="1466.0" font-size="29.0" fill="#000" stroke="#000" stroke-width="1.15" stroke-linejoin="round" ><tspan x="508.8" textLength="36.9" lengthAdjust="spacingAndGlyphs">12</tspan></text>
<text y="1151.6" font-size="29.0" fill="#000" stroke="#000" stroke-width="1.15" stroke-linejoin="round" ><tspan x="560.9" textLength="37.1" lengthAdjust="spacingAndGlyphs">13</tspan></text>
<text y="1466.0" font-size="29.0" fill="#000" stroke="#000" stroke-width="1.15" stroke-linejoin="round" ><tspan x="560.9" textLength="37.1" lengthAdjust="spacingAndGlyphs">13</tspan></text>
<text y="1151.6" font-size="29.0" fill="#000" stroke="#000" stroke-width="1.15" stroke-linejoin="round" ><tspan x="613.1" textLength="36.3" lengthAdjust="spacingAndGlyphs">14</tspan></text>
<text y="1466.0" font-size="29.0" fill="#000" stroke="#000" stroke-width="1.15" stroke-linejoin="round" ><tspan x="613.1" textLength="36.3" lengthAdjust="spacingAndGlyphs">14</tspan></text>
<text y="1151.6" font-size="29.0" fill="#000" stroke="#000" stroke-width="1.15" stroke-linejoin="round" ><tspan x="654.2" textLength="60.0" lengthAdjust="spacingAndGlyphs">15+</tspan></text>
<text y="1466.0" font-size="29.0" fill="#000" stroke="#000" stroke-width="1.15" stroke-linejoin="round" ><tspan x="654.2" textLength="60.0" lengthAdjust="spacingAndGlyphs">15+</tspan></text>
<text y="1181.7" font-size="29.0" fill="#000" stroke="#000" stroke-width="1.15" stroke-linejoin="round" ><tspan x="99.1" textLength="18.9" lengthAdjust="spacingAndGlyphs">2</tspan></text>
<text y="1232.2" font-size="29.0" fill="#000" stroke="#000" stroke-width="1.15" stroke-linejoin="round" ><tspan x="98.4" textLength="19.4" lengthAdjust="spacingAndGlyphs">0</tspan></text>
<text y="1282.8" font-size="29.0" fill="#000" stroke="#000" stroke-width="1.15" stroke-linejoin="round" ><tspan x="75.9" textLength="20.7" lengthAdjust="spacingAndGlyphs">−</tspan><tspan x="99.1" textLength="18.9" lengthAdjust="spacingAndGlyphs">2</tspan></text>
<text y="1333.3" font-size="29.0" fill="#000" stroke="#000" stroke-width="1.15" stroke-linejoin="round" ><tspan x="75.9" textLength="20.7" lengthAdjust="spacingAndGlyphs">−</tspan><tspan x="99.8" textLength="17.4" lengthAdjust="spacingAndGlyphs">4</tspan></text>
<text y="1383.9" font-size="29.0" fill="#000" stroke="#000" stroke-width="1.15" stroke-linejoin="round" ><tspan x="75.9" textLength="20.7" lengthAdjust="spacingAndGlyphs">−</tspan><tspan x="98.1" textLength="19.5" lengthAdjust="spacingAndGlyphs">6</tspan></text>
<text y="1434.4" font-size="29.0" fill="#000" stroke="#000" stroke-width="1.15" stroke-linejoin="round" ><tspan x="75.9" textLength="20.7" lengthAdjust="spacingAndGlyphs">−</tspan><tspan x="98.2" textLength="19.7" lengthAdjust="spacingAndGlyphs">8</tspan></text>
<polyline points="162.1,737.7 214.2,844.3 266.3,925.8 318.5,969.4 370.6,1005.0 422.7,1034.0 474.8,1049.0 526.9,1064.3 579.1,1078.8 631.2,1080.4 683.3,1023.0" fill="none" stroke="#D04B41" stroke-width="4.4" stroke-linejoin="round" stroke-linecap="round"/>
<path d="M153.6 729.2L170.6 746.2M153.6 746.2L170.6 729.2M205.7 835.8L222.7 852.8M205.7 852.8L222.7 835.8M257.8 917.3L274.8 934.3M257.8 934.3L274.8 917.3M310.0 960.9L327.0 977.9M310.0 977.9L327.0 960.9M362.1 996.5L379.1 1013.5M362.1 1013.5L379.1 996.5M414.2 1025.5L431.2 1042.5M414.2 1042.5L431.2 1025.5M466.3 1040.5L483.3 1057.5M466.3 1057.5L483.3 1040.5M518.4 1055.8L535.4 1072.8M518.4 1072.8L535.4 1055.8M570.6 1070.3L587.6 1087.3M570.6 1087.3L587.6 1070.3M622.7 1071.9L639.7 1088.9M622.7 1088.9L639.7 1071.9M674.8 1014.5L691.8 1031.5M674.8 1031.5L691.8 1014.5" fill="none" stroke="#D04B41" stroke-width="4.4" stroke-linecap="round"/>
<polyline points="162.1,745.9 214.2,864.8 266.3,940.0 318.5,986.6 370.6,1030.9 422.7,1043.0 474.8,1056.8 526.9,1076.3 579.1,1077.1 631.2,1087.0 683.3,1037.0" fill="none" stroke="#3F57A7" stroke-width="4.4" stroke-linejoin="round" stroke-linecap="round"/>
<path d="M153.6 737.4L170.6 754.4M153.6 754.4L170.6 737.4M205.7 856.3L222.7 873.3M205.7 873.3L222.7 856.3M257.8 931.5L274.8 948.5M257.8 948.5L274.8 931.5M310.0 978.1L327.0 995.1M310.0 995.1L327.0 978.1M362.1 1022.4L379.1 1039.4M362.1 1039.4L379.1 1022.4M414.2 1034.5L431.2 1051.5M414.2 1051.5L431.2 1034.5M466.3 1048.3L483.3 1065.3M466.3 1065.3L483.3 1048.3M518.4 1067.8L535.4 1084.8M518.4 1084.8L535.4 1067.8M570.6 1068.6L587.6 1085.6M570.6 1085.6L587.6 1068.6M622.7 1078.5L639.7 1095.5M622.7 1095.5L639.7 1078.5M674.8 1028.5L691.8 1045.5M674.8 1045.5L691.8 1028.5" fill="none" stroke="#3F57A7" stroke-width="4.4" stroke-linecap="round"/>
<polyline points="162.1,801.7 214.2,914.0 266.3,970.2 318.5,1006.0 370.6,1035.0 422.7,1054.5 474.8,1069.2 526.9,1078.0 579.1,1085.3 631.2,1093.5 683.3,1053.4" fill="none" stroke="#000" stroke-width="4.4" stroke-linejoin="round" stroke-linecap="round"/>
<path d="M153.6 793.2L170.6 810.2M153.6 810.2L170.6 793.2M205.7 905.5L222.7 922.5M205.7 922.5L222.7 905.5M257.8 961.7L274.8 978.7M257.8 978.7L274.8 961.7M310.0 997.5L327.0 1014.5M310.0 1014.5L327.0 997.5M362.1 1026.5L379.1 1043.5M362.1 1043.5L379.1 1026.5M414.2 1046.0L431.2 1063.0M414.2 1063.0L431.2 1046.0M466.3 1060.7L483.3 1077.7M466.3 1077.7L483.3 1060.7M518.4 1069.5L535.4 1086.5M518.4 1086.5L535.4 1069.5M570.6 1076.8L587.6 1093.8M570.6 1093.8L587.6 1076.8M622.7 1085.0L639.7 1102.0M622.7 1102.0L639.7 1085.0M674.8 1044.9L691.8 1061.9M674.8 1061.9L691.8 1044.9" fill="none" stroke="#000" stroke-width="4.4" stroke-linecap="round"/>
<rect x="136.1" y="688.4" width="573.3" height="420.0" fill="none" stroke="#000" stroke-width="2"/>
<rect x="149.5" y="1223.3" width="25.9" height="43.2" fill="#fff" stroke="#2F6B57" stroke-width="3.0" stroke-linejoin="round"/>
<rect x="200.1" y="1221.8" width="28.9" height="127.6" rx="1" fill="#2F6B57"/>
<rect x="253.7" y="1223.3" width="25.9" height="79.1" fill="#fff" stroke="#2F6B57" stroke-width="3.0" stroke-linejoin="round"/>
<rect x="304.3" y="1221.8" width="28.9" height="102.6" rx="1" fill="#2F6B57"/>
<rect x="356.4" y="1221.8" width="28.9" height="151.4" rx="1" fill="#2F6B57"/>
<rect x="410.1" y="1223.3" width="25.9" height="50.1" fill="#fff" stroke="#2F6B57" stroke-width="3.0" stroke-linejoin="round"/>
<rect x="460.7" y="1221.8" width="28.9" height="46.5" rx="1" fill="#2F6B57"/>
<rect x="512.8" y="1221.8" width="28.9" height="71.5" rx="1" fill="#2F6B57"/>
<rect x="564.9" y="1221.8" width="28.9" height="1.5" rx="1" fill="#2F6B57"/>
<rect x="617.0" y="1221.8" width="28.9" height="38.4" rx="1" fill="#2F6B57"/>
<rect x="669.1" y="1221.8" width="28.9" height="86.7" rx="1" fill="#2F6B57"/>
<line x1="133.1" x2="712.8" y1="1221.8" y2="1221.8" stroke="#333" stroke-width="3.1"/>
<rect x="136.1" y="1171.3" width="573.3" height="252.7" fill="none" stroke="#000" stroke-width="2"/>
<text y="1513.2" font-size="35.5" fill="#000" stroke="#000" stroke-width="1.15" stroke-linejoin="round" ><tspan x="264.8" textLength="166.7" lengthAdjust="spacingAndGlyphs">Duration</tspan><tspan x="453.0" textLength="127.5" lengthAdjust="spacingAndGlyphs">(days)</tspan></text>
</g>
<g id="chart1">
<text y="676.4" font-size="35.5" fill="#000" stroke="#000" stroke-width="1.15" stroke-linejoin="round" ><tspan x="814.6" textLength="42.7" lengthAdjust="spacingAndGlyphs">e)</tspan><tspan x="876.9" textLength="168.2" lengthAdjust="spacingAndGlyphs">Duration</tspan><tspan x="1066.6" textLength="88.3" lengthAdjust="spacingAndGlyphs">(NA)</tspan></text>
<g stroke="#000" stroke-width="1.8" fill="none">
<line x1="804.0" x2="814.5" y1="688.4" y2="688.4"/>
<line x1="804.0" x2="814.5" y1="793.4" y2="793.4"/>
<line x1="804.0" x2="814.5" y1="898.4" y2="898.4"/>
<line x1="804.0" x2="814.5" y1="1003.4" y2="1003.4"/>
<line x1="804.0" x2="814.5" y1="1108.4" y2="1108.4"/>
<line x1="840.6" x2="840.6" y1="1108.4" y2="1119.4"/>
<line x1="840.6" x2="840.6" y1="1424.0" y2="1435.0"/>
<line x1="892.7" x2="892.7" y1="1108.4" y2="1119.4"/>
<line x1="892.7" x2="892.7" y1="1424.0" y2="1435.0"/>
<line x1="944.8" x2="944.8" y1="1108.4" y2="1119.4"/>
<line x1="944.8" x2="944.8" y1="1424.0" y2="1435.0"/>
<line x1="996.9" x2="996.9" y1="1108.4" y2="1119.4"/>
<line x1="996.9" x2="996.9" y1="1424.0" y2="1435.0"/>
<line x1="1049.0" x2="1049.0" y1="1108.4" y2="1119.4"/>
<line x1="1049.0" x2="1049.0" y1="1424.0" y2="1435.0"/>
<line x1="1101.2" x2="1101.2" y1="1108.4" y2="1119.4"/>
<line x1="1101.2" x2="1101.2" y1="1424.0" y2="1435.0"/>
<line x1="1153.3" x2="1153.3" y1="1108.4" y2="1119.4"/>
<line x1="1153.3" x2="1153.3" y1="1424.0" y2="1435.0"/>
<line x1="1205.4" x2="1205.4" y1="1108.4" y2="1119.4"/>
<line x1="1205.4" x2="1205.4" y1="1424.0" y2="1435.0"/>
<line x1="1257.5" x2="1257.5" y1="1108.4" y2="1119.4"/>
<line x1="1257.5" x2="1257.5" y1="1424.0" y2="1435.0"/>
<line x1="1309.6" x2="1309.6" y1="1108.4" y2="1119.4"/>
<line x1="1309.6" x2="1309.6" y1="1424.0" y2="1435.0"/>
<line x1="1361.7" x2="1361.7" y1="1108.4" y2="1119.4"/>
<line x1="1361.7" x2="1361.7" y1="1424.0" y2="1435.0"/>
<line x1="804.0" x2="814.5" y1="1171.3" y2="1171.3"/>
<line x1="804.0" x2="814.5" y1="1221.8" y2="1221.8"/>
<line x1="804.0" x2="814.5" y1="1272.4" y2="1272.4"/>
<line x1="804.0" x2="814.5" y1="1322.9" y2="1322.9"/>
<line x1="804.0" x2="814.5" y1="1373.5" y2="1373.5"/>
<line x1="804.0" x2="814.5" y1="1424.0" y2="1424.0"/>
</g>
<text y="698.8" font-size="29.0" fill="#000" stroke="#000" stroke-width="1.15" stroke-linejoin="round" ><tspan x="759.6" textLength="36.5" lengthAdjust="spacingAndGlyphs">40</tspan></text>
<text y="803.8" font-size="29.0" fill="#000" stroke="#000" stroke-width="1.15" stroke-linejoin="round" ><tspan x="758.7" textLength="37.4" lengthAdjust="spacingAndGlyphs">30</tspan></text>
<text y="908.8" font-size="29.0" fill="#000" stroke="#000" stroke-width="1.15" stroke-linejoin="round" ><tspan x="758.9" textLength="37.2" lengthAdjust="spacingAndGlyphs">20</tspan></text>
<text y="1013.8" font-size="29.0" fill="#000" stroke="#000" stroke-width="1.15" stroke-linejoin="round" ><tspan x="761.1" textLength="34.9" lengthAdjust="spacingAndGlyphs">10</tspan></text>
<text y="1118.8" font-size="29.0" fill="#000" stroke="#000" stroke-width="1.15" stroke-linejoin="round" ><tspan x="776.8" textLength="19.4" lengthAdjust="spacingAndGlyphs">0</tspan></text>
<text y="1151.6" font-size="29.0" fill="#000" stroke="#000" stroke-width="1.15" stroke-linejoin="round" ><tspan x="830.3" textLength="21.9" lengthAdjust="spacingAndGlyphs">5</tspan></text>
<text y="1466.0" font-size="29.0" fill="#000" stroke="#000" stroke-width="1.15" stroke-linejoin="round" ><tspan x="830.3" textLength="21.9" lengthAdjust="spacingAndGlyphs">5</tspan></text>
<text y="1151.6" font-size="29.0" fill="#000" stroke="#000" stroke-width="1.15" stroke-linejoin="round" ><tspan x="882.7" textLength="20.6" lengthAdjust="spacingAndGlyphs">6</tspan></text>
<text y="1466.0" font-size="29.0" fill="#000" stroke="#000" stroke-width="1.15" stroke-linejoin="round" ><tspan x="882.7" textLength="20.6" lengthAdjust="spacingAndGlyphs">6</tspan></text>
<text y="1151.6" font-size="29.0" fill="#000" stroke="#000" stroke-width="1.15" stroke-linejoin="round" ><tspan x="936.2" textLength="19.2" lengthAdjust="spacingAndGlyphs">7</tspan></text>
<text y="1466.0" font-size="29.0" fill="#000" stroke="#000" stroke-width="1.15" stroke-linejoin="round" ><tspan x="936.2" textLength="19.2" lengthAdjust="spacingAndGlyphs">7</tspan></text>
<text y="1151.6" font-size="29.0" fill="#000" stroke="#000" stroke-width="1.15" stroke-linejoin="round" ><tspan x="987.0" textLength="20.8" lengthAdjust="spacingAndGlyphs">8</tspan></text>
<text y="1466.0" font-size="29.0" fill="#000" stroke="#000" stroke-width="1.15" stroke-linejoin="round" ><tspan x="987.0" textLength="20.8" lengthAdjust="spacingAndGlyphs">8</tspan></text>
<text y="1151.6" font-size="29.0" fill="#000" stroke="#000" stroke-width="1.15" stroke-linejoin="round" ><tspan x="1039.1" textLength="20.6" lengthAdjust="spacingAndGlyphs">9</tspan></text>
<text y="1466.0" font-size="29.0" fill="#000" stroke="#000" stroke-width="1.15" stroke-linejoin="round" ><tspan x="1039.1" textLength="20.6" lengthAdjust="spacingAndGlyphs">9</tspan></text>
<text y="1151.6" font-size="29.0" fill="#000" stroke="#000" stroke-width="1.15" stroke-linejoin="round" ><tspan x="1083.1" textLength="36.7" lengthAdjust="spacingAndGlyphs">10</tspan></text>
<text y="1466.0" font-size="29.0" fill="#000" stroke="#000" stroke-width="1.15" stroke-linejoin="round" ><tspan x="1083.1" textLength="36.7" lengthAdjust="spacingAndGlyphs">10</tspan></text>
<text y="1151.6" font-size="29.0" fill="#000" stroke="#000" stroke-width="1.15" stroke-linejoin="round" ><tspan x="1136.9" textLength="33.9" lengthAdjust="spacingAndGlyphs">11</tspan></text>
<text y="1466.0" font-size="29.0" fill="#000" stroke="#000" stroke-width="1.15" stroke-linejoin="round" ><tspan x="1136.9" textLength="33.9" lengthAdjust="spacingAndGlyphs">11</tspan></text>
<text y="1151.6" font-size="29.0" fill="#000" stroke="#000" stroke-width="1.15" stroke-linejoin="round" ><tspan x="1187.3" textLength="36.9" lengthAdjust="spacingAndGlyphs">12</tspan></text>
<text y="1466.0" font-size="29.0" fill="#000" stroke="#000" stroke-width="1.15" stroke-linejoin="round" ><tspan x="1187.3" textLength="36.9" lengthAdjust="spacingAndGlyphs">12</tspan></text>
<text y="1151.6" font-size="29.0" fill="#000" stroke="#000" stroke-width="1.15" stroke-linejoin="round" ><tspan x="1239.4" textLength="37.1" lengthAdjust="spacingAndGlyphs">13</tspan></text>
<text y="1466.0" font-size="29.0" fill="#000" stroke="#000" stroke-width="1.15" stroke-linejoin="round" ><tspan x="1239.4" textLength="37.1" lengthAdjust="spacingAndGlyphs">13</tspan></text>
<text y="1151.6" font-size="29.0" fill="#000" stroke="#000" stroke-width="1.15" stroke-linejoin="round" ><tspan x="1291.6" textLength="36.3" lengthAdjust="spacingAndGlyphs">14</tspan></text>
<text y="1466.0" font-size="29.0" fill="#000" stroke="#000" stroke-width="1.15" stroke-linejoin="round" ><tspan x="1291.6" textLength="36.3" lengthAdjust="spacingAndGlyphs">14</tspan></text>
<text y="1151.6" font-size="29.0" fill="#000" stroke="#000" stroke-width="1.15" stroke-linejoin="round" ><tspan x="1332.7" textLength="60.0" lengthAdjust="spacingAndGlyphs">15+</tspan></text>
<text y="1466.0" font-size="29.0" fill="#000" stroke="#000" stroke-width="1.15" stroke-linejoin="round" ><tspan x="1332.7" textLength="60.0" lengthAdjust="spacingAndGlyphs">15+</tspan></text>
<text y="1181.7" font-size="29.0" fill="#000" stroke="#000" stroke-width="1.15" stroke-linejoin="round" ><tspan x="777.5" textLength="18.9" lengthAdjust="spacingAndGlyphs">2</tspan></text>
<text y="1232.2" font-size="29.0" fill="#000" stroke="#000" stroke-width="1.15" stroke-linejoin="round" ><tspan x="776.8" textLength="19.4" lengthAdjust="spacingAndGlyphs">0</tspan></text>
<text y="1282.8" font-size="29.0" fill="#000" stroke="#000" stroke-width="1.15" stroke-linejoin="round" ><tspan x="754.4" textLength="20.7" lengthAdjust="spacingAndGlyphs">−</tspan><tspan x="777.5" textLength="18.9" lengthAdjust="spacingAndGlyphs">2</tspan></text>
<text y="1333.3" font-size="29.0" fill="#000" stroke="#000" stroke-width="1.15" stroke-linejoin="round" ><tspan x="754.4" textLength="20.7" lengthAdjust="spacingAndGlyphs">−</tspan><tspan x="778.2" textLength="17.4" lengthAdjust="spacingAndGlyphs">4</tspan></text>
<text y="1383.9" font-size="29.0" fill="#000" stroke="#000" stroke-width="1.15" stroke-linejoin="round" ><tspan x="754.4" textLength="20.7" lengthAdjust="spacingAndGlyphs">−</tspan><tspan x="776.6" textLength="19.5" lengthAdjust="spacingAndGlyphs">6</tspan></text>
<text y="1434.4" font-size="29.0" fill="#000" stroke="#000" stroke-width="1.15" stroke-linejoin="round" ><tspan x="754.4" textLength="20.7" lengthAdjust="spacingAndGlyphs">−</tspan><tspan x="776.7" textLength="19.7" lengthAdjust="spacingAndGlyphs">8</tspan></text>
<polyline points="840.6,766.1 892.7,858.1 944.8,932.1 996.9,982.7 1049.0,1010.2 1101.2,1045.4 1153.3,1062.6 1205.4,1075.3 1257.5,1085.3 1309.6,1090.0 1361.7,1042.7" fill="none" stroke="#D04B41" stroke-width="4.4" stroke-linejoin="round" stroke-linecap="round"/>
<path d="M832.1 757.6L849.1 774.6M832.1 774.6L849.1 757.6M884.2 849.6L901.2 866.6M884.2 866.6L901.2 849.6M936.3 923.6L953.3 940.6M936.3 940.6L953.3 923.6M988.4 974.2L1005.4 991.2M988.4 991.2L1005.4 974.2M1040.5 1001.7L1057.5 1018.7M1040.5 1018.7L1057.5 1001.7M1092.7 1036.9L1109.7 1053.9M1092.7 1053.9L1109.7 1036.9M1144.8 1054.1L1161.8 1071.1M1144.8 1071.1L1161.8 1054.1M1196.9 1066.8L1213.9 1083.8M1196.9 1083.8L1213.9 1066.8M1249.0 1076.8L1266.0 1093.8M1249.0 1093.8L1266.0 1076.8M1301.1 1081.5L1318.1 1098.5M1301.1 1098.5L1318.1 1081.5M1353.2 1034.2L1370.2 1051.2M1353.2 1051.2L1370.2 1034.2" fill="none" stroke="#D04B41" stroke-width="4.4" stroke-linecap="round"/>
<polyline points="840.6,772.7 892.7,876.5 944.8,960.0 996.9,992.8 1049.0,1044.0 1101.2,1055.1 1153.3,1068.6 1205.4,1079.0 1257.5,1082.9 1309.6,1089.4 1361.7,1062.4" fill="none" stroke="#3F57A7" stroke-width="4.4" stroke-linejoin="round" stroke-linecap="round"/>
<path d="M832.1 764.2L849.1 781.2M832.1 781.2L849.1 764.2M884.2 868.0L901.2 885.0M884.2 885.0L901.2 868.0M936.3 951.5L953.3 968.5M936.3 968.5L953.3 951.5M988.4 984.3L1005.4 1001.3M988.4 1001.3L1005.4 984.3M1040.5 1035.5L1057.5 1052.5M1040.5 1052.5L1057.5 1035.5M1092.7 1046.6L1109.7 1063.6M1092.7 1063.6L1109.7 1046.6M1144.8 1060.1L1161.8 1077.1M1144.8 1077.1L1161.8 1060.1M1196.9 1070.5L1213.9 1087.5M1196.9 1087.5L1213.9 1070.5M1249.0 1074.4L1266.0 1091.4M1249.0 1091.4L1266.0 1074.4M1301.1 1080.9L1318.1 1097.9M1301.1 1097.9L1318.1 1080.9M1353.2 1053.9L1370.2 1070.9M1353.2 1070.9L1370.2 1053.9" fill="none" stroke="#3F57A7" stroke-width="4.4" stroke-linecap="round"/>
<polyline points="840.6,854.8 892.7,950.0 944.8,1005.2 996.9,1036.4 1049.0,1051.4 1101.2,1073.7 1153.3,1084.3 1205.4,1092.8 1257.5,1097.6 1309.6,1100.9 1361.7,1087.0" fill="none" stroke="#000" stroke-width="4.4" stroke-linejoin="round" stroke-linecap="round"/>
<path d="M832.1 846.3L849.1 863.3M832.1 863.3L849.1 846.3M884.2 941.5L901.2 958.5M884.2 958.5L901.2 941.5M936.3 996.7L953.3 1013.7M936.3 1013.7L953.3 996.7M988.4 1027.9L1005.4 1044.9M988.4 1044.9L1005.4 1027.9M1040.5 1042.9L1057.5 1059.9M1040.5 1059.9L1057.5 1042.9M1092.7 1065.2L1109.7 1082.2M1092.7 1082.2L1109.7 1065.2M1144.8 1075.8L1161.8 1092.8M1144.8 1092.8L1161.8 1075.8M1196.9 1084.3L1213.9 1101.3M1196.9 1101.3L1213.9 1084.3M1249.0 1089.1L1266.0 1106.1M1249.0 1106.1L1266.0 1089.1M1301.1 1092.4L1318.1 1109.4M1301.1 1109.4L1318.1 1092.4M1353.2 1078.5L1370.2 1095.5M1353.2 1095.5L1370.2 1078.5" fill="none" stroke="#000" stroke-width="4.4" stroke-linecap="round"/>
<rect x="814.5" y="688.4" width="573.3" height="420.0" fill="none" stroke="#000" stroke-width="2"/>
<rect x="827.9" y="1223.3" width="25.9" height="11.9" fill="#fff" stroke="#2F6B57" stroke-width="3.0" stroke-linejoin="round"/>
<rect x="880.0" y="1223.3" width="25.9" height="40.0" fill="#fff" stroke="#2F6B57" stroke-width="3.0" stroke-linejoin="round"/>
<rect x="932.1" y="1223.3" width="25.9" height="63.5" fill="#fff" stroke="#2F6B57" stroke-width="3.0" stroke-linejoin="round"/>
<rect x="984.3" y="1223.3" width="25.9" height="22.0" fill="#fff" stroke="#2F6B57" stroke-width="3.0" stroke-linejoin="round"/>
<rect x="1034.9" y="1221.8" width="28.9" height="81.6" rx="1" fill="#2F6B57"/>
<rect x="1088.5" y="1223.3" width="25.9" height="21.0" fill="#fff" stroke="#2F6B57" stroke-width="3.0" stroke-linejoin="round"/>
<rect x="1140.6" y="1223.3" width="25.9" height="11.9" fill="#fff" stroke="#2F6B57" stroke-width="3.0" stroke-linejoin="round"/>
<rect x="1192.7" y="1223.3" width="25.9" height="8.1" fill="#fff" stroke="#2F6B57" stroke-width="3.0" stroke-linejoin="round"/>
<rect x="1244.9" y="1211.0" width="25.9" height="9.4" fill="#fff" stroke="#2F6B57" stroke-width="3.0" stroke-linejoin="round"/>
<rect x="1295.5" y="1221.8" width="28.9" height="2.5" rx="1" fill="#2F6B57"/>
<rect x="1347.6" y="1221.8" width="28.9" height="46.5" rx="1" fill="#2F6B57"/>
<line x1="811.5" x2="1391.3" y1="1221.8" y2="1221.8" stroke="#333" stroke-width="3.1"/>
<rect x="814.5" y="1171.3" width="573.3" height="252.7" fill="none" stroke="#000" stroke-width="2"/>
<text y="1513.2" font-size="35.5" fill="#000" stroke="#000" stroke-width="1.15" stroke-linejoin="round" ><tspan x="943.3" textLength="166.7" lengthAdjust="spacingAndGlyphs">Duration</tspan><tspan x="1131.5" textLength="127.5" lengthAdjust="spacingAndGlyphs">(days)</tspan></text>
</g>
<g id="chart2">
<text y="676.4" font-size="35.5" fill="#000" stroke="#000" stroke-width="1.15" stroke-linejoin="round" ><tspan x="1495.3" textLength="32.9" lengthAdjust="spacingAndGlyphs">f)</tspan><tspan x="1547.5" textLength="168.2" lengthAdjust="spacingAndGlyphs">Duration</tspan><tspan x="1736.9" textLength="92.0" lengthAdjust="spacingAndGlyphs">(NP)</tspan></text>
<g stroke="#000" stroke-width="1.8" fill="none">
<line x1="1482.5" x2="1493.0" y1="688.4" y2="688.4"/>
<line x1="1482.5" x2="1493.0" y1="793.4" y2="793.4"/>
<line x1="1482.5" x2="1493.0" y1="898.4" y2="898.4"/>
<line x1="1482.5" x2="1493.0" y1="1003.4" y2="1003.4"/>
<line x1="1482.5" x2="1493.0" y1="1108.4" y2="1108.4"/>
<line x1="1519.0" x2="1519.0" y1="1108.4" y2="1119.4"/>
<line x1="1519.0" x2="1519.0" y1="1424.0" y2="1435.0"/>
<line x1="1571.1" x2="1571.1" y1="1108.4" y2="1119.4"/>
<line x1="1571.1" x2="1571.1" y1="1424.0" y2="1435.0"/>
<line x1="1623.2" x2="1623.2" y1="1108.4" y2="1119.4"/>
<line x1="1623.2" x2="1623.2" y1="1424.0" y2="1435.0"/>
<line x1="1675.4" x2="1675.4" y1="1108.4" y2="1119.4"/>
<line x1="1675.4" x2="1675.4" y1="1424.0" y2="1435.0"/>
<line x1="1727.5" x2="1727.5" y1="1108.4" y2="1119.4"/>
<line x1="1727.5" x2="1727.5" y1="1424.0" y2="1435.0"/>
<line x1="1779.6" x2="1779.6" y1="1108.4" y2="1119.4"/>
<line x1="1779.6" x2="1779.6" y1="1424.0" y2="1435.0"/>
<line x1="1831.7" x2="1831.7" y1="1108.4" y2="1119.4"/>
<line x1="1831.7" x2="1831.7" y1="1424.0" y2="1435.0"/>
<line x1="1883.8" x2="1883.8" y1="1108.4" y2="1119.4"/>
<line x1="1883.8" x2="1883.8" y1="1424.0" y2="1435.0"/>
<line x1="1936.0" x2="1936.0" y1="1108.4" y2="1119.4"/>
<line x1="1936.0" x2="1936.0" y1="1424.0" y2="1435.0"/>
<line x1="1988.1" x2="1988.1" y1="1108.4" y2="1119.4"/>
<line x1="1988.1" x2="1988.1" y1="1424.0" y2="1435.0"/>
<line x1="2040.2" x2="2040.2" y1="1108.4" y2="1119.4"/>
<line x1="2040.2" x2="2040.2" y1="1424.0" y2="1435.0"/>
<line x1="1482.5" x2="1493.0" y1="1171.3" y2="1171.3"/>
<line x1="1482.5" x2="1493.0" y1="1221.8" y2="1221.8"/>
<line x1="1482.5" x2="1493.0" y1="1272.4" y2="1272.4"/>
<line x1="1482.5" x2="1493.0" y1="1322.9" y2="1322.9"/>
<line x1="1482.5" x2="1493.0" y1="1373.5" y2="1373.5"/>
<line x1="1482.5" x2="1493.0" y1="1424.0" y2="1424.0"/>
</g>
<text y="698.8" font-size="29.0" fill="#000" stroke="#000" stroke-width="1.15" stroke-linejoin="round" ><tspan x="1438.0" textLength="36.5" lengthAdjust="spacingAndGlyphs">40</tspan></text>
<text y="803.8" font-size="29.0" fill="#000" stroke="#000" stroke-width="1.15" stroke-linejoin="round" ><tspan x="1437.2" textLength="37.4" lengthAdjust="spacingAndGlyphs">30</tspan></text>
<text y="908.8" font-size="29.0" fill="#000" stroke="#000" stroke-width="1.15" stroke-linejoin="round" ><tspan x="1437.4" textLength="37.2" lengthAdjust="spacingAndGlyphs">20</tspan></text>
<text y="1013.8" font-size="29.0" fill="#000" stroke="#000" stroke-width="1.15" stroke-linejoin="round" ><tspan x="1439.5" textLength="34.9" lengthAdjust="spacingAndGlyphs">10</tspan></text>
<text y="1118.8" font-size="29.0" fill="#000" stroke="#000" stroke-width="1.15" stroke-linejoin="round" ><tspan x="1455.3" textLength="19.4" lengthAdjust="spacingAndGlyphs">0</tspan></text>
<text y="1151.6" font-size="29.0" fill="#000" stroke="#000" stroke-width="1.15" stroke-linejoin="round" ><tspan x="1508.8" textLength="21.9" lengthAdjust="spacingAndGlyphs">5</tspan></text>
<text y="1466.0" font-size="29.0" fill="#000" stroke="#000" stroke-width="1.15" stroke-linejoin="round" ><tspan x="1508.8" textLength="21.9" lengthAdjust="spacingAndGlyphs">5</tspan></text>
<text y="1151.6" font-size="29.0" fill="#000" stroke="#000" stroke-width="1.15" stroke-linejoin="round" ><tspan x="1561.2" textLength="20.6" lengthAdjust="spacingAndGlyphs">6</tspan></text>
<text y="1466.0" font-size="29.0" fill="#000" stroke="#000" stroke-width="1.15" stroke-linejoin="round" ><tspan x="1561.2" textLength="20.6" lengthAdjust="spacingAndGlyphs">6</tspan></text>
<text y="1151.6" font-size="29.0" fill="#000" stroke="#000" stroke-width="1.15" stroke-linejoin="round" ><tspan x="1614.6" textLength="19.2" lengthAdjust="spacingAndGlyphs">7</tspan></text>
<text y="1466.0" font-size="29.0" fill="#000" stroke="#000" stroke-width="1.15" stroke-linejoin="round" ><tspan x="1614.6" textLength="19.2" lengthAdjust="spacingAndGlyphs">7</tspan></text>
<text y="1151.6" font-size="29.0" fill="#000" stroke="#000" stroke-width="1.15" stroke-linejoin="round" ><tspan x="1665.5" textLength="20.8" lengthAdjust="spacingAndGlyphs">8</tspan></text>
<text y="1466.0" font-size="29.0" fill="#000" stroke="#000" stroke-width="1.15" stroke-linejoin="round" ><tspan x="1665.5" textLength="20.8" lengthAdjust="spacingAndGlyphs">8</tspan></text>
<text y="1151.6" font-size="29.0" fill="#000" stroke="#000" stroke-width="1.15" stroke-linejoin="round" ><tspan x="1717.5" textLength="20.6" lengthAdjust="spacingAndGlyphs">9</tspan></text>
<text y="1466.0" font-size="29.0" fill="#000" stroke="#000" stroke-width="1.15" stroke-linejoin="round" ><tspan x="1717.5" textLength="20.6" lengthAdjust="spacingAndGlyphs">9</tspan></text>
<text y="1151.6" font-size="29.0" fill="#000" stroke="#000" stroke-width="1.15" stroke-linejoin="round" ><tspan x="1761.5" textLength="36.7" lengthAdjust="spacingAndGlyphs">10</tspan></text>
<text y="1466.0" font-size="29.0" fill="#000" stroke="#000" stroke-width="1.15" stroke-linejoin="round" ><tspan x="1761.5" textLength="36.7" lengthAdjust="spacingAndGlyphs">10</tspan></text>
<text y="1151.6" font-size="29.0" fill="#000" stroke="#000" stroke-width="1.15" stroke-linejoin="round" ><tspan x="1815.4" textLength="33.9" lengthAdjust="spacingAndGlyphs">11</tspan></text>
<text y="1466.0" font-size="29.0" fill="#000" stroke="#000" stroke-width="1.15" stroke-linejoin="round" ><tspan x="1815.4" textLength="33.9" lengthAdjust="spacingAndGlyphs">11</tspan></text>
<text y="1151.6" font-size="29.0" fill="#000" stroke="#000" stroke-width="1.15" stroke-linejoin="round" ><tspan x="1865.7" textLength="36.9" lengthAdjust="spacingAndGlyphs">12</tspan></text>
<text y="1466.0" font-size="29.0" fill="#000" stroke="#000" stroke-width="1.15" stroke-linejoin="round" ><tspan x="1865.7" textLength="36.9" lengthAdjust="spacingAndGlyphs">12</tspan></text>
<text y="1151.6" font-size="29.0" fill="#000" stroke="#000" stroke-width="1.15" stroke-linejoin="round" ><tspan x="1917.8" textLength="37.1" lengthAdjust="spacingAndGlyphs">13</tspan></text>
<text y="1466.0" font-size="29.0" fill="#000" stroke="#000" stroke-width="1.15" stroke-linejoin="round" ><tspan x="1917.8" textLength="37.1" lengthAdjust="spacingAndGlyphs">13</tspan></text>
<text y="1151.6" font-size="29.0" fill="#000" stroke="#000" stroke-width="1.15" stroke-linejoin="round" ><tspan x="1970.0" textLength="36.3" lengthAdjust="spacingAndGlyphs">14</tspan></text>
<text y="1466.0" font-size="29.0" fill="#000" stroke="#000" stroke-width="1.15" stroke-linejoin="round" ><tspan x="1970.0" textLength="36.3" lengthAdjust="spacingAndGlyphs">14</tspan></text>
<text y="1151.6" font-size="29.0" fill="#000" stroke="#000" stroke-width="1.15" stroke-linejoin="round" ><tspan x="2011.1" textLength="60.0" lengthAdjust="spacingAndGlyphs">15+</tspan></text>
<text y="1466.0" font-size="29.0" fill="#000" stroke="#000" stroke-width="1.15" stroke-linejoin="round" ><tspan x="2011.1" textLength="60.0" lengthAdjust="spacingAndGlyphs">15+</tspan></text>
<text y="1181.7" font-size="29.0" fill="#000" stroke="#000" stroke-width="1.15" stroke-linejoin="round" ><tspan x="1456.0" textLength="18.9" lengthAdjust="spacingAndGlyphs">2</tspan></text>
<text y="1232.2" font-size="29.0" fill="#000" stroke="#000" stroke-width="1.15" stroke-linejoin="round" ><tspan x="1455.3" textLength="19.4" lengthAdjust="spacingAndGlyphs">0</tspan></text>
<text y="1282.8" font-size="29.0" fill="#000" stroke="#000" stroke-width="1.15" stroke-linejoin="round" ><tspan x="1432.8" textLength="20.7" lengthAdjust="spacingAndGlyphs">−</tspan><tspan x="1456.0" textLength="18.9" lengthAdjust="spacingAndGlyphs">2</tspan></text>
<text y="1333.3" font-size="29.0" fill="#000" stroke="#000" stroke-width="1.15" stroke-linejoin="round" ><tspan x="1432.8" textLength="20.7" lengthAdjust="spacingAndGlyphs">−</tspan><tspan x="1456.7" textLength="17.4" lengthAdjust="spacingAndGlyphs">4</tspan></text>
<text y="1383.9" font-size="29.0" fill="#000" stroke="#000" stroke-width="1.15" stroke-linejoin="round" ><tspan x="1432.8" textLength="20.7" lengthAdjust="spacingAndGlyphs">−</tspan><tspan x="1455.0" textLength="19.5" lengthAdjust="spacingAndGlyphs">6</tspan></text>
<text y="1434.4" font-size="29.0" fill="#000" stroke="#000" stroke-width="1.15" stroke-linejoin="round" ><tspan x="1432.8" textLength="20.7" lengthAdjust="spacingAndGlyphs">−</tspan><tspan x="1455.1" textLength="19.7" lengthAdjust="spacingAndGlyphs">8</tspan></text>
<polyline points="1519.0,820.7 1571.1,891.0 1623.2,954.6 1675.4,984.1 1727.5,1018.6 1779.6,1034.8 1831.7,1047.6 1883.8,1059.9 1936.0,1074.7 1988.1,1077.1 2040.2,1010.7" fill="none" stroke="#D04B41" stroke-width="4.4" stroke-linejoin="round" stroke-linecap="round"/>
<path d="M1510.5 812.2L1527.5 829.2M1510.5 829.2L1527.5 812.2M1562.6 882.5L1579.6 899.5M1562.6 899.5L1579.6 882.5M1614.7 946.1L1631.7 963.1M1614.7 963.1L1631.7 946.1M1666.9 975.6L1683.9 992.6M1666.9 992.6L1683.9 975.6M1719.0 1010.1L1736.0 1027.1M1719.0 1027.1L1736.0 1010.1M1771.1 1026.3L1788.1 1043.3M1771.1 1043.3L1788.1 1026.3M1823.2 1039.1L1840.2 1056.1M1823.2 1056.1L1840.2 1039.1M1875.3 1051.4L1892.3 1068.4M1875.3 1068.4L1892.3 1051.4M1927.5 1066.2L1944.5 1083.2M1927.5 1083.2L1944.5 1066.2M1979.6 1068.6L1996.6 1085.6M1979.6 1085.6L1996.6 1068.6M2031.7 1002.2L2048.7 1019.2M2031.7 1019.2L2048.7 1002.2" fill="none" stroke="#D04B41" stroke-width="4.4" stroke-linecap="round"/>
<polyline points="1519.0,881.0 1571.1,951.5 1623.2,994.0 1675.4,1032.5 1727.5,1051.4 1779.6,1058.5 1831.7,1065.7 1883.8,1083.7 1936.0,1082.0 1988.1,1094.4 2040.2,1046.8" fill="none" stroke="#3F57A7" stroke-width="4.4" stroke-linejoin="round" stroke-linecap="round"/>
<path d="M1510.5 872.5L1527.5 889.5M1510.5 889.5L1527.5 872.5M1562.6 943.0L1579.6 960.0M1562.6 960.0L1579.6 943.0M1614.7 985.5L1631.7 1002.5M1614.7 1002.5L1631.7 985.5M1666.9 1024.0L1683.9 1041.0M1666.9 1041.0L1683.9 1024.0M1719.0 1042.9L1736.0 1059.9M1719.0 1059.9L1736.0 1042.9M1771.1 1050.0L1788.1 1067.0M1771.1 1067.0L1788.1 1050.0M1823.2 1057.2L1840.2 1074.2M1823.2 1074.2L1840.2 1057.2M1875.3 1075.2L1892.3 1092.2M1875.3 1092.2L1892.3 1075.2M1927.5 1073.5L1944.5 1090.5M1927.5 1090.5L1944.5 1073.5M1979.6 1085.9L1996.6 1102.9M1979.6 1102.9L1996.6 1085.9M2031.7 1038.3L2048.7 1055.3M2031.7 1055.3L2048.7 1038.3" fill="none" stroke="#3F57A7" stroke-width="4.4" stroke-linecap="round"/>
<polyline points="1519.0,879.0 1571.1,951.3 1623.2,991.5 1675.4,1012.9 1727.5,1036.6 1779.6,1044.2 1831.7,1061.6 1883.8,1070.6 1936.0,1082.0 1988.1,1088.6 2040.2,1032.9" fill="none" stroke="#000" stroke-width="4.4" stroke-linejoin="round" stroke-linecap="round"/>
<path d="M1510.5 870.5L1527.5 887.5M1510.5 887.5L1527.5 870.5M1562.6 942.8L1579.6 959.8M1562.6 959.8L1579.6 942.8M1614.7 983.0L1631.7 1000.0M1614.7 1000.0L1631.7 983.0M1666.9 1004.4L1683.9 1021.4M1666.9 1021.4L1683.9 1004.4M1719.0 1028.1L1736.0 1045.1M1719.0 1045.1L1736.0 1028.1M1771.1 1035.7L1788.1 1052.7M1771.1 1052.7L1788.1 1035.7M1823.2 1053.1L1840.2 1070.1M1823.2 1070.1L1840.2 1053.1M1875.3 1062.1L1892.3 1079.1M1875.3 1079.1L1892.3 1062.1M1927.5 1073.5L1944.5 1090.5M1927.5 1090.5L1944.5 1073.5M1979.6 1080.1L1996.6 1097.1M1979.6 1097.1L1996.6 1080.1M2031.7 1024.4L2048.7 1041.4M2031.7 1041.4L2048.7 1024.4" fill="none" stroke="#000" stroke-width="4.4" stroke-linecap="round"/>
<rect x="1493.0" y="688.4" width="573.3" height="420.0" fill="none" stroke="#000" stroke-width="2"/>
<rect x="1504.9" y="1221.8" width="28.9" height="150.9" rx="1" fill="#2F6B57"/>
<rect x="1557.0" y="1221.8" width="28.9" height="144.8" rx="1" fill="#2F6B57"/>
<rect x="1609.1" y="1221.8" width="28.9" height="98.8" rx="1" fill="#2F6B57"/>
<rect x="1661.2" y="1221.8" width="28.9" height="115.0" rx="1" fill="#2F6B57"/>
<rect x="1713.3" y="1221.8" width="28.9" height="76.1" rx="1" fill="#2F6B57"/>
<rect x="1765.4" y="1221.8" width="28.9" height="53.6" rx="1" fill="#2F6B57"/>
<rect x="1817.6" y="1221.8" width="28.9" height="43.0" rx="1" fill="#2F6B57"/>
<rect x="1869.7" y="1221.8" width="28.9" height="53.6" rx="1" fill="#2F6B57"/>
<rect x="1923.3" y="1223.3" width="25.9" height="13.4" fill="#fff" stroke="#2F6B57" stroke-width="3.0" stroke-linejoin="round"/>
<rect x="1973.9" y="1221.8" width="28.9" height="39.4" rx="1" fill="#2F6B57"/>
<rect x="2026.0" y="1221.8" width="28.9" height="86.9" rx="1" fill="#2F6B57"/>
<line x1="1490.0" x2="2069.8" y1="1221.8" y2="1221.8" stroke="#333" stroke-width="3.1"/>
<rect x="1493.0" y="1171.3" width="573.3" height="252.7" fill="none" stroke="#000" stroke-width="2"/>
<text y="1513.2" font-size="35.5" fill="#000" stroke="#000" stroke-width="1.15" stroke-linejoin="round" ><tspan x="1621.7" textLength="166.7" lengthAdjust="spacingAndGlyphs">Duration</tspan><tspan x="1809.9" textLength="127.5" lengthAdjust="spacingAndGlyphs">(days)</tspan></text>
</g>
<g transform="translate(43.6 1042.5) rotate(-90)">
<text y="0.0" font-size="41.0" fill="#000" stroke="#000" stroke-width="1.20" stroke-linejoin="round" ><tspan x="-2.3" textLength="31.0" lengthAdjust="spacingAndGlyphs">#</tspan><tspan x="49.8" textLength="39.7" lengthAdjust="spacingAndGlyphs">of</tspan><tspan x="114.2" textLength="177.3" lengthAdjust="spacingAndGlyphs">Blocking</tspan></text>
</g>
<g transform="translate(43.2 1394.5) rotate(-90)">
<text y="0.0" font-size="41.0" fill="#000" stroke="#000" stroke-width="1.20" stroke-linejoin="round" ><tspan x="-4.0" textLength="54.4" lengthAdjust="spacingAndGlyphs">RD</tspan><tspan x="80.5" textLength="29.6" lengthAdjust="spacingAndGlyphs">−</tspan><tspan x="138.1" textLength="57.5" lengthAdjust="spacingAndGlyphs">RU</tspan></text>
</g>
<line x1="1814" x2="1890" y1="734.5" y2="734.5" stroke="#D04B41" stroke-width="5.4" stroke-linecap="round"/>
<text y="744.5" font-size="27.0" fill="#000" stroke="#000" stroke-width="1.05" stroke-linejoin="round" ><tspan x="1907.6" textLength="73.3" lengthAdjust="spacingAndGlyphs">Early</tspan><tspan x="1996.2" textLength="43.6" lengthAdjust="spacingAndGlyphs">RU</tspan></text>
<line x1="1814" x2="1890" y1="772.5" y2="772.5" stroke="#000" stroke-width="5.4" stroke-linecap="round"/>
<text y="782.5" font-size="27.0" fill="#000" stroke="#000" stroke-width="1.05" stroke-linejoin="round" ><tspan x="1908.7" textLength="61.2" lengthAdjust="spacingAndGlyphs">CO2</tspan><tspan x="1984.7" textLength="72.2" lengthAdjust="spacingAndGlyphs">Peak</tspan></text>
<line x1="1814" x2="1890" y1="810.3" y2="810.3" stroke="#3F57A7" stroke-width="5.4" stroke-linecap="round"/>
<text y="820.3" font-size="27.0" fill="#000" stroke="#000" stroke-width="1.05" stroke-linejoin="round" ><tspan x="1906.7" textLength="66.3" lengthAdjust="spacingAndGlyphs">Late</tspan><tspan x="1988.5" textLength="40.3" lengthAdjust="spacingAndGlyphs">RD</tspan></text>
</svg>
</body></html>
